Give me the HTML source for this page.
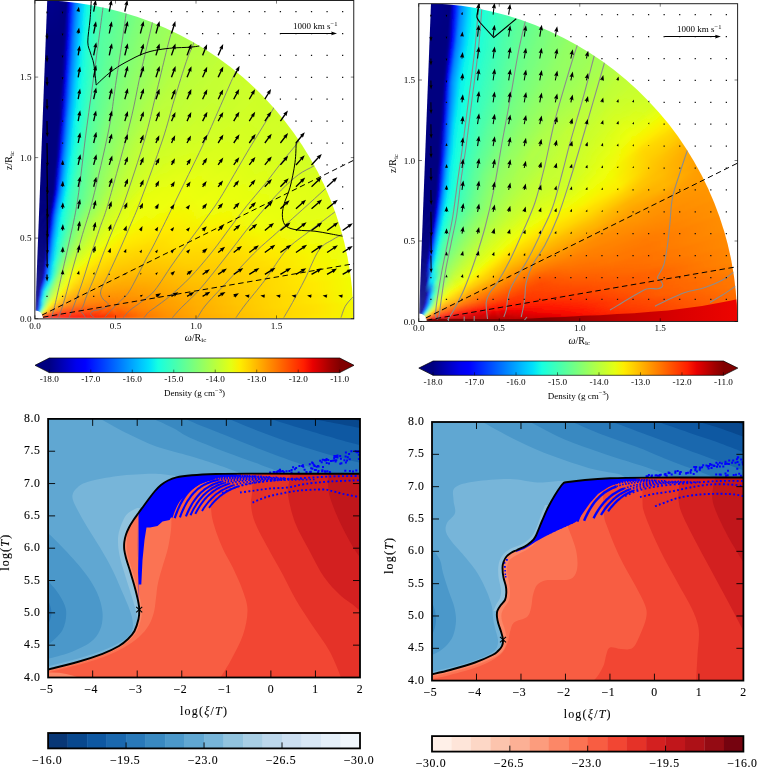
<!DOCTYPE html>
<html><head><meta charset="utf-8"><title>figure</title>
<style>
html,body{margin:0;padding:0;background:#fff}
svg{display:block}
.t1{font-family:"Liberation Serif",serif;font-size:9.2px;fill:#000}
.t2{font-family:"Liberation Serif",serif;font-size:11.8px;fill:#000;letter-spacing:0.6px;stroke:#000;stroke-width:0.1px}
.t3{font-family:"Liberation Serif",serif;font-size:12px;fill:#000;letter-spacing:1.2px;stroke:#000;stroke-width:0.1px}
</style></head><body>
<svg width="760" height="767" viewBox="0 0 760 767">
<rect width="760" height="767" fill="#fff"/>
<defs><radialGradient id="ar" gradientUnits="userSpaceOnUse" cx="35" cy="318.6" r="318.5"/><radialGradient id="a0" href="#ar"><stop offset="0.0253" stop-color="#000080"/><stop offset="0.0404" stop-color="#000080"/><stop offset="0.0607" stop-color="#000080"/><stop offset="0.091" stop-color="#000080"/><stop offset="0.131" stop-color="#000080"/><stop offset="0.182" stop-color="#000080"/><stop offset="0.253" stop-color="#000080"/><stop offset="0.329" stop-color="#000080"/><stop offset="0.404" stop-color="#000080"/><stop offset="0.505" stop-color="#000080"/><stop offset="0.632" stop-color="#000080"/><stop offset="0.758" stop-color="#000080"/><stop offset="0.885" stop-color="#000080"/><stop offset="1" stop-color="#000080"/></radialGradient><radialGradient id="a1" href="#ar"><stop offset="0.0253" stop-color="#000080"/><stop offset="0.0404" stop-color="#000080"/><stop offset="0.0607" stop-color="#000080"/><stop offset="0.091" stop-color="#000080"/><stop offset="0.131" stop-color="#000080"/><stop offset="0.182" stop-color="#000080"/><stop offset="0.253" stop-color="#000080"/><stop offset="0.329" stop-color="#000080"/><stop offset="0.404" stop-color="#000080"/><stop offset="0.505" stop-color="#000080"/><stop offset="0.632" stop-color="#000080"/><stop offset="0.758" stop-color="#000080"/><stop offset="0.885" stop-color="#000080"/><stop offset="1" stop-color="#000080"/></radialGradient><radialGradient id="a2" href="#ar"><stop offset="0.0253" stop-color="#000080"/><stop offset="0.0404" stop-color="#000080"/><stop offset="0.0607" stop-color="#000080"/><stop offset="0.091" stop-color="#000080"/><stop offset="0.131" stop-color="#000080"/><stop offset="0.182" stop-color="#000080"/><stop offset="0.253" stop-color="#000080"/><stop offset="0.329" stop-color="#000080"/><stop offset="0.404" stop-color="#000080"/><stop offset="0.505" stop-color="#000080"/><stop offset="0.632" stop-color="#000080"/><stop offset="0.758" stop-color="#000080"/><stop offset="0.885" stop-color="#000080"/><stop offset="1" stop-color="#000080"/></radialGradient><radialGradient id="a3" href="#ar"><stop offset="0.0253" stop-color="#000080"/><stop offset="0.0404" stop-color="#000080"/><stop offset="0.0607" stop-color="#000080"/><stop offset="0.091" stop-color="#000080"/><stop offset="0.131" stop-color="#000080"/><stop offset="0.182" stop-color="#000080"/><stop offset="0.253" stop-color="#000080"/><stop offset="0.329" stop-color="#000080"/><stop offset="0.404" stop-color="#000080"/><stop offset="0.505" stop-color="#000080"/><stop offset="0.632" stop-color="#000080"/><stop offset="0.758" stop-color="#000080"/><stop offset="0.885" stop-color="#000080"/><stop offset="1" stop-color="#000080"/></radialGradient><radialGradient id="a4" href="#ar"><stop offset="0.0253" stop-color="#000080"/><stop offset="0.0404" stop-color="#000080"/><stop offset="0.0607" stop-color="#000080"/><stop offset="0.091" stop-color="#000080"/><stop offset="0.131" stop-color="#000080"/><stop offset="0.182" stop-color="#000080"/><stop offset="0.253" stop-color="#000080"/><stop offset="0.329" stop-color="#000080"/><stop offset="0.404" stop-color="#000080"/><stop offset="0.505" stop-color="#000080"/><stop offset="0.632" stop-color="#000080"/><stop offset="0.758" stop-color="#000080"/><stop offset="0.885" stop-color="#000080"/><stop offset="1" stop-color="#000080"/></radialGradient><radialGradient id="a5" href="#ar"><stop offset="0.0253" stop-color="#000080"/><stop offset="0.0404" stop-color="#000080"/><stop offset="0.0607" stop-color="#000080"/><stop offset="0.091" stop-color="#000080"/><stop offset="0.131" stop-color="#000080"/><stop offset="0.182" stop-color="#000080"/><stop offset="0.253" stop-color="#000080"/><stop offset="0.329" stop-color="#000080"/><stop offset="0.404" stop-color="#000080"/><stop offset="0.505" stop-color="#000080"/><stop offset="0.632" stop-color="#000080"/><stop offset="0.758" stop-color="#000080"/><stop offset="0.885" stop-color="#000080"/><stop offset="1" stop-color="#00008d"/></radialGradient><radialGradient id="a6" href="#ar"><stop offset="0.0253" stop-color="#000080"/><stop offset="0.0404" stop-color="#000080"/><stop offset="0.0607" stop-color="#000080"/><stop offset="0.091" stop-color="#000080"/><stop offset="0.131" stop-color="#000080"/><stop offset="0.182" stop-color="#000080"/><stop offset="0.253" stop-color="#000080"/><stop offset="0.329" stop-color="#000080"/><stop offset="0.404" stop-color="#000080"/><stop offset="0.505" stop-color="#000080"/><stop offset="0.632" stop-color="#000080"/><stop offset="0.758" stop-color="#000080"/><stop offset="0.885" stop-color="#000080"/><stop offset="1" stop-color="#00008d"/></radialGradient><radialGradient id="a7" href="#ar"><stop offset="0.0253" stop-color="#000080"/><stop offset="0.0404" stop-color="#000080"/><stop offset="0.0607" stop-color="#000080"/><stop offset="0.091" stop-color="#000080"/><stop offset="0.131" stop-color="#000080"/><stop offset="0.182" stop-color="#000080"/><stop offset="0.253" stop-color="#000080"/><stop offset="0.329" stop-color="#000080"/><stop offset="0.404" stop-color="#000080"/><stop offset="0.505" stop-color="#000080"/><stop offset="0.632" stop-color="#000080"/><stop offset="0.758" stop-color="#000080"/><stop offset="0.885" stop-color="#000080"/><stop offset="1" stop-color="#000089"/></radialGradient><radialGradient id="a8" href="#ar"><stop offset="0.0253" stop-color="#000084"/><stop offset="0.0404" stop-color="#000080"/><stop offset="0.0607" stop-color="#000080"/><stop offset="0.091" stop-color="#000080"/><stop offset="0.131" stop-color="#000080"/><stop offset="0.182" stop-color="#000080"/><stop offset="0.253" stop-color="#000080"/><stop offset="0.329" stop-color="#000080"/><stop offset="0.404" stop-color="#000080"/><stop offset="0.505" stop-color="#000080"/><stop offset="0.632" stop-color="#000080"/><stop offset="0.758" stop-color="#000080"/><stop offset="0.885" stop-color="#000080"/><stop offset="1" stop-color="#000089"/></radialGradient><radialGradient id="a9" href="#ar"><stop offset="0.0253" stop-color="#000084"/><stop offset="0.0404" stop-color="#000080"/><stop offset="0.0607" stop-color="#000080"/><stop offset="0.091" stop-color="#000080"/><stop offset="0.131" stop-color="#000080"/><stop offset="0.182" stop-color="#000080"/><stop offset="0.253" stop-color="#000080"/><stop offset="0.329" stop-color="#000080"/><stop offset="0.404" stop-color="#000080"/><stop offset="0.505" stop-color="#000080"/><stop offset="0.632" stop-color="#000080"/><stop offset="0.758" stop-color="#000080"/><stop offset="0.885" stop-color="#000080"/><stop offset="1" stop-color="#000084"/></radialGradient><radialGradient id="a10" href="#ar"><stop offset="0.0253" stop-color="#000089"/><stop offset="0.0404" stop-color="#000080"/><stop offset="0.0607" stop-color="#000080"/><stop offset="0.091" stop-color="#000080"/><stop offset="0.131" stop-color="#000080"/><stop offset="0.182" stop-color="#000080"/><stop offset="0.253" stop-color="#000080"/><stop offset="0.329" stop-color="#000080"/><stop offset="0.404" stop-color="#000080"/><stop offset="0.505" stop-color="#000080"/><stop offset="0.632" stop-color="#000080"/><stop offset="0.758" stop-color="#000080"/><stop offset="0.885" stop-color="#000080"/><stop offset="1" stop-color="#000084"/></radialGradient><radialGradient id="a11" href="#ar"><stop offset="0.0253" stop-color="#000089"/><stop offset="0.0404" stop-color="#000080"/><stop offset="0.0607" stop-color="#000080"/><stop offset="0.091" stop-color="#000080"/><stop offset="0.131" stop-color="#000080"/><stop offset="0.182" stop-color="#000080"/><stop offset="0.253" stop-color="#000080"/><stop offset="0.329" stop-color="#000080"/><stop offset="0.404" stop-color="#000080"/><stop offset="0.505" stop-color="#000080"/><stop offset="0.632" stop-color="#000080"/><stop offset="0.758" stop-color="#000080"/><stop offset="0.885" stop-color="#000080"/><stop offset="1" stop-color="#000080"/></radialGradient><radialGradient id="a12" href="#ar"><stop offset="0.0253" stop-color="#000089"/><stop offset="0.0404" stop-color="#000080"/><stop offset="0.0607" stop-color="#000080"/><stop offset="0.091" stop-color="#000080"/><stop offset="0.131" stop-color="#000080"/><stop offset="0.182" stop-color="#000080"/><stop offset="0.253" stop-color="#000080"/><stop offset="0.329" stop-color="#000080"/><stop offset="0.404" stop-color="#000080"/><stop offset="0.505" stop-color="#000080"/><stop offset="0.632" stop-color="#000080"/><stop offset="0.758" stop-color="#000080"/><stop offset="0.885" stop-color="#000096"/><stop offset="1" stop-color="#0000f1"/></radialGradient><radialGradient id="a13" href="#ar"><stop offset="0.0253" stop-color="#00008d"/><stop offset="0.0404" stop-color="#000080"/><stop offset="0.0607" stop-color="#000080"/><stop offset="0.091" stop-color="#000080"/><stop offset="0.131" stop-color="#000080"/><stop offset="0.182" stop-color="#000080"/><stop offset="0.253" stop-color="#000080"/><stop offset="0.329" stop-color="#000080"/><stop offset="0.404" stop-color="#000080"/><stop offset="0.505" stop-color="#000080"/><stop offset="0.632" stop-color="#000080"/><stop offset="0.758" stop-color="#000092"/><stop offset="0.885" stop-color="#0000fa"/><stop offset="1" stop-color="#0034ff"/></radialGradient><radialGradient id="a14" href="#ar"><stop offset="0.0253" stop-color="#00008d"/><stop offset="0.0404" stop-color="#000080"/><stop offset="0.0607" stop-color="#000080"/><stop offset="0.091" stop-color="#000080"/><stop offset="0.131" stop-color="#000080"/><stop offset="0.182" stop-color="#000080"/><stop offset="0.253" stop-color="#000080"/><stop offset="0.329" stop-color="#000080"/><stop offset="0.404" stop-color="#000080"/><stop offset="0.505" stop-color="#000080"/><stop offset="0.632" stop-color="#000084"/><stop offset="0.758" stop-color="#0000f6"/><stop offset="0.885" stop-color="#0038ff"/><stop offset="1" stop-color="#007cff"/></radialGradient><radialGradient id="a15" href="#ar"><stop offset="0.0253" stop-color="#000092"/><stop offset="0.0404" stop-color="#000080"/><stop offset="0.0607" stop-color="#000080"/><stop offset="0.091" stop-color="#000080"/><stop offset="0.131" stop-color="#000080"/><stop offset="0.182" stop-color="#000080"/><stop offset="0.253" stop-color="#000080"/><stop offset="0.329" stop-color="#000080"/><stop offset="0.404" stop-color="#000080"/><stop offset="0.505" stop-color="#000080"/><stop offset="0.632" stop-color="#0000df"/><stop offset="0.758" stop-color="#002cff"/><stop offset="0.885" stop-color="#007cff"/><stop offset="1" stop-color="#00a0ff"/></radialGradient><radialGradient id="a16" href="#ar"><stop offset="0.0253" stop-color="#000092"/><stop offset="0.0404" stop-color="#000080"/><stop offset="0.0607" stop-color="#000080"/><stop offset="0.091" stop-color="#000080"/><stop offset="0.131" stop-color="#000080"/><stop offset="0.182" stop-color="#000080"/><stop offset="0.253" stop-color="#000080"/><stop offset="0.329" stop-color="#000080"/><stop offset="0.404" stop-color="#000080"/><stop offset="0.505" stop-color="#0000b6"/><stop offset="0.632" stop-color="#0018ff"/><stop offset="0.758" stop-color="#0070ff"/><stop offset="0.885" stop-color="#00a0ff"/><stop offset="1" stop-color="#00c0ff"/></radialGradient><radialGradient id="a17" href="#ar"><stop offset="0.0253" stop-color="#000092"/><stop offset="0.0404" stop-color="#000084"/><stop offset="0.0607" stop-color="#000080"/><stop offset="0.091" stop-color="#00008d"/><stop offset="0.131" stop-color="#000080"/><stop offset="0.182" stop-color="#000080"/><stop offset="0.253" stop-color="#000080"/><stop offset="0.329" stop-color="#0000b2"/><stop offset="0.404" stop-color="#00009f"/><stop offset="0.505" stop-color="#0000ff"/><stop offset="0.632" stop-color="#0054ff"/><stop offset="0.758" stop-color="#0094ff"/><stop offset="0.885" stop-color="#00bcff"/><stop offset="1" stop-color="#00e0fb"/></radialGradient><radialGradient id="a18" href="#ar"><stop offset="0.0253" stop-color="#000096"/><stop offset="0.0404" stop-color="#000084"/><stop offset="0.0607" stop-color="#000080"/><stop offset="0.091" stop-color="#00009f"/><stop offset="0.131" stop-color="#000080"/><stop offset="0.182" stop-color="#000080"/><stop offset="0.253" stop-color="#0000ad"/><stop offset="0.329" stop-color="#0000f1"/><stop offset="0.404" stop-color="#0000e3"/><stop offset="0.505" stop-color="#002cff"/><stop offset="0.632" stop-color="#0088ff"/><stop offset="0.758" stop-color="#00b4ff"/><stop offset="0.885" stop-color="#00dcfe"/><stop offset="1" stop-color="#0ff8e7"/></radialGradient><radialGradient id="a19" href="#ar"><stop offset="0.0253" stop-color="#000096"/><stop offset="0.0404" stop-color="#000084"/><stop offset="0.0607" stop-color="#00008d"/><stop offset="0.091" stop-color="#0000b2"/><stop offset="0.131" stop-color="#000080"/><stop offset="0.182" stop-color="#000089"/><stop offset="0.253" stop-color="#0000e3"/><stop offset="0.329" stop-color="#0010ff"/><stop offset="0.404" stop-color="#000cff"/><stop offset="0.505" stop-color="#0064ff"/><stop offset="0.632" stop-color="#00a4ff"/><stop offset="0.758" stop-color="#00d0ff"/><stop offset="0.885" stop-color="#0cf4eb"/><stop offset="1" stop-color="#1cffdb"/></radialGradient><radialGradient id="a20" href="#ar"><stop offset="0.0253" stop-color="#000096"/><stop offset="0.0404" stop-color="#000089"/><stop offset="0.0607" stop-color="#00009f"/><stop offset="0.091" stop-color="#0000c4"/><stop offset="0.131" stop-color="#000080"/><stop offset="0.182" stop-color="#0000b2"/><stop offset="0.253" stop-color="#0000ff"/><stop offset="0.329" stop-color="#003cff"/><stop offset="0.404" stop-color="#003cff"/><stop offset="0.505" stop-color="#0088ff"/><stop offset="0.632" stop-color="#00bcff"/><stop offset="0.758" stop-color="#06ecf1"/><stop offset="0.885" stop-color="#19ffde"/><stop offset="1" stop-color="#2cffca"/></radialGradient><radialGradient id="a21" href="#ar"><stop offset="0.0253" stop-color="#000096"/><stop offset="0.0404" stop-color="#000089"/><stop offset="0.0607" stop-color="#0000b2"/><stop offset="0.091" stop-color="#0000da"/><stop offset="0.131" stop-color="#000084"/><stop offset="0.182" stop-color="#0000da"/><stop offset="0.253" stop-color="#0024ff"/><stop offset="0.329" stop-color="#0068ff"/><stop offset="0.404" stop-color="#006cff"/><stop offset="0.505" stop-color="#00a0ff"/><stop offset="0.632" stop-color="#00d8ff"/><stop offset="0.758" stop-color="#0ff8e7"/><stop offset="0.885" stop-color="#26ffd1"/><stop offset="1" stop-color="#39ffbe"/></radialGradient><radialGradient id="a22" href="#ar"><stop offset="0.0253" stop-color="#00009b"/><stop offset="0.0404" stop-color="#000089"/><stop offset="0.0607" stop-color="#0000bf"/><stop offset="0.091" stop-color="#0000f1"/><stop offset="0.131" stop-color="#0000a4"/><stop offset="0.182" stop-color="#0000ff"/><stop offset="0.253" stop-color="#0048ff"/><stop offset="0.329" stop-color="#0088ff"/><stop offset="0.404" stop-color="#008cff"/><stop offset="0.505" stop-color="#00b8ff"/><stop offset="0.632" stop-color="#09f0ee"/><stop offset="0.758" stop-color="#19ffde"/><stop offset="0.885" stop-color="#30ffc7"/><stop offset="1" stop-color="#46ffb1"/></radialGradient><radialGradient id="a23" href="#ar"><stop offset="0.0253" stop-color="#00009b"/><stop offset="0.0404" stop-color="#00008d"/><stop offset="0.0607" stop-color="#0000cd"/><stop offset="0.091" stop-color="#0000ff"/><stop offset="0.131" stop-color="#0000c4"/><stop offset="0.182" stop-color="#000cff"/><stop offset="0.253" stop-color="#0068ff"/><stop offset="0.329" stop-color="#0098ff"/><stop offset="0.404" stop-color="#00a0ff"/><stop offset="0.505" stop-color="#00d0ff"/><stop offset="0.632" stop-color="#13fce4"/><stop offset="0.758" stop-color="#23ffd4"/><stop offset="0.885" stop-color="#39ffbe"/><stop offset="1" stop-color="#4dffaa"/></radialGradient><radialGradient id="a24" href="#ar"><stop offset="0.0253" stop-color="#00009b"/><stop offset="0.0404" stop-color="#00009b"/><stop offset="0.0607" stop-color="#0000da"/><stop offset="0.091" stop-color="#0014ff"/><stop offset="0.131" stop-color="#0000e3"/><stop offset="0.182" stop-color="#0028ff"/><stop offset="0.253" stop-color="#0084ff"/><stop offset="0.329" stop-color="#00acff"/><stop offset="0.404" stop-color="#00b8ff"/><stop offset="0.505" stop-color="#02e8f4"/><stop offset="0.632" stop-color="#19ffde"/><stop offset="0.758" stop-color="#2cffca"/><stop offset="0.885" stop-color="#40ffb7"/><stop offset="1" stop-color="#50ffa7"/></radialGradient><radialGradient id="a25" href="#ar"><stop offset="0.0253" stop-color="#00009f"/><stop offset="0.0404" stop-color="#0000a8"/><stop offset="0.0607" stop-color="#0000e8"/><stop offset="0.091" stop-color="#002cff"/><stop offset="0.131" stop-color="#0000ff"/><stop offset="0.182" stop-color="#0044ff"/><stop offset="0.253" stop-color="#0094ff"/><stop offset="0.329" stop-color="#00c0ff"/><stop offset="0.404" stop-color="#00ccff"/><stop offset="0.505" stop-color="#0ff8e7"/><stop offset="0.632" stop-color="#23ffd4"/><stop offset="0.758" stop-color="#33ffc4"/><stop offset="0.885" stop-color="#49ffad"/><stop offset="1" stop-color="#50ffa7"/></radialGradient><radialGradient id="a26" href="#ar"><stop offset="0.0253" stop-color="#00009f"/><stop offset="0.0404" stop-color="#0000b6"/><stop offset="0.0607" stop-color="#0000ff"/><stop offset="0.091" stop-color="#0044ff"/><stop offset="0.131" stop-color="#0008ff"/><stop offset="0.182" stop-color="#005cff"/><stop offset="0.253" stop-color="#00a4ff"/><stop offset="0.329" stop-color="#00d0ff"/><stop offset="0.404" stop-color="#00e0fb"/><stop offset="0.505" stop-color="#16ffe1"/><stop offset="0.632" stop-color="#2cffca"/><stop offset="0.758" stop-color="#3cffba"/><stop offset="0.885" stop-color="#53ffa4"/><stop offset="1" stop-color="#53ffa4"/></radialGradient><radialGradient id="a27" href="#ar"><stop offset="0.0253" stop-color="#00009f"/><stop offset="0.0404" stop-color="#0000c4"/><stop offset="0.0607" stop-color="#0004ff"/><stop offset="0.091" stop-color="#0058ff"/><stop offset="0.131" stop-color="#001cff"/><stop offset="0.182" stop-color="#0078ff"/><stop offset="0.253" stop-color="#00b4ff"/><stop offset="0.329" stop-color="#00e4f8"/><stop offset="0.404" stop-color="#0cf4eb"/><stop offset="0.505" stop-color="#1fffd7"/><stop offset="0.632" stop-color="#33ffc4"/><stop offset="0.758" stop-color="#43ffb4"/><stop offset="0.885" stop-color="#56ffa0"/><stop offset="1" stop-color="#56ffa0"/></radialGradient><radialGradient id="a28" href="#ar"><stop offset="0.0253" stop-color="#0000a4"/><stop offset="0.0404" stop-color="#0000cd"/><stop offset="0.0607" stop-color="#001cff"/><stop offset="0.091" stop-color="#0070ff"/><stop offset="0.131" stop-color="#0030ff"/><stop offset="0.182" stop-color="#0088ff"/><stop offset="0.253" stop-color="#00c0ff"/><stop offset="0.329" stop-color="#09f0ee"/><stop offset="0.404" stop-color="#16ffe1"/><stop offset="0.505" stop-color="#26ffd1"/><stop offset="0.632" stop-color="#3cffba"/><stop offset="0.758" stop-color="#4dffaa"/><stop offset="0.885" stop-color="#5aff9d"/><stop offset="1" stop-color="#5aff9d"/></radialGradient><radialGradient id="a29" href="#ar"><stop offset="0.0253" stop-color="#0000ad"/><stop offset="0.0404" stop-color="#0000d6"/><stop offset="0.0607" stop-color="#0030ff"/><stop offset="0.091" stop-color="#0084ff"/><stop offset="0.131" stop-color="#0044ff"/><stop offset="0.182" stop-color="#0094ff"/><stop offset="0.253" stop-color="#00d0ff"/><stop offset="0.329" stop-color="#13fce4"/><stop offset="0.404" stop-color="#1fffd7"/><stop offset="0.505" stop-color="#30ffc7"/><stop offset="0.632" stop-color="#43ffb4"/><stop offset="0.758" stop-color="#53ffa4"/><stop offset="0.885" stop-color="#5aff9d"/><stop offset="1" stop-color="#5dff9a"/></radialGradient><radialGradient id="a30" href="#ar"><stop offset="0.0253" stop-color="#0000b6"/><stop offset="0.0404" stop-color="#0000df"/><stop offset="0.0607" stop-color="#0040ff"/><stop offset="0.091" stop-color="#0098ff"/><stop offset="0.131" stop-color="#0058ff"/><stop offset="0.182" stop-color="#00a0ff"/><stop offset="0.253" stop-color="#00e0fb"/><stop offset="0.329" stop-color="#19ffde"/><stop offset="0.404" stop-color="#29ffce"/><stop offset="0.505" stop-color="#36ffc1"/><stop offset="0.632" stop-color="#4dffaa"/><stop offset="0.758" stop-color="#5aff9d"/><stop offset="0.885" stop-color="#60ff97"/><stop offset="1" stop-color="#60ff97"/></radialGradient><radialGradient id="a31" href="#ar"><stop offset="0.0253" stop-color="#0000bf"/><stop offset="0.0404" stop-color="#0000e8"/><stop offset="0.0607" stop-color="#0054ff"/><stop offset="0.091" stop-color="#00a4ff"/><stop offset="0.131" stop-color="#006cff"/><stop offset="0.182" stop-color="#00acff"/><stop offset="0.253" stop-color="#06ecf1"/><stop offset="0.329" stop-color="#1fffd7"/><stop offset="0.404" stop-color="#33ffc4"/><stop offset="0.505" stop-color="#40ffb7"/><stop offset="0.632" stop-color="#53ffa4"/><stop offset="0.758" stop-color="#60ff97"/><stop offset="0.885" stop-color="#63ff94"/><stop offset="1" stop-color="#66ff90"/></radialGradient><radialGradient id="a32" href="#ar"><stop offset="0.0253" stop-color="#0000c8"/><stop offset="0.0404" stop-color="#0000f1"/><stop offset="0.0607" stop-color="#0064ff"/><stop offset="0.091" stop-color="#00b0ff"/><stop offset="0.131" stop-color="#0080ff"/><stop offset="0.182" stop-color="#00b8ff"/><stop offset="0.253" stop-color="#0ff8e7"/><stop offset="0.329" stop-color="#26ffd1"/><stop offset="0.404" stop-color="#39ffbe"/><stop offset="0.505" stop-color="#49ffad"/><stop offset="0.632" stop-color="#56ffa0"/><stop offset="0.758" stop-color="#63ff94"/><stop offset="0.885" stop-color="#66ff90"/><stop offset="1" stop-color="#6aff8d"/></radialGradient><radialGradient id="a33" href="#ar"><stop offset="0.0253" stop-color="#0000d1"/><stop offset="0.0404" stop-color="#0000fa"/><stop offset="0.0607" stop-color="#0074ff"/><stop offset="0.091" stop-color="#00b8ff"/><stop offset="0.131" stop-color="#008cff"/><stop offset="0.182" stop-color="#00c4ff"/><stop offset="0.253" stop-color="#16ffe1"/><stop offset="0.329" stop-color="#2cffca"/><stop offset="0.404" stop-color="#3cffba"/><stop offset="0.505" stop-color="#50ffa7"/><stop offset="0.632" stop-color="#5dff9a"/><stop offset="0.758" stop-color="#66ff90"/><stop offset="0.885" stop-color="#6aff8d"/><stop offset="1" stop-color="#6dff8a"/></radialGradient><radialGradient id="a34" href="#ar"><stop offset="0.0253" stop-color="#0000da"/><stop offset="0.0404" stop-color="#0000ff"/><stop offset="0.0607" stop-color="#0088ff"/><stop offset="0.091" stop-color="#00c4ff"/><stop offset="0.131" stop-color="#0094ff"/><stop offset="0.182" stop-color="#00d0ff"/><stop offset="0.253" stop-color="#1cffdb"/><stop offset="0.329" stop-color="#33ffc4"/><stop offset="0.404" stop-color="#43ffb4"/><stop offset="0.505" stop-color="#53ffa4"/><stop offset="0.632" stop-color="#60ff97"/><stop offset="0.758" stop-color="#6aff8d"/><stop offset="0.885" stop-color="#6dff8a"/><stop offset="1" stop-color="#70ff87"/></radialGradient><radialGradient id="a35" href="#ar"><stop offset="0.0253" stop-color="#0000e3"/><stop offset="0.0404" stop-color="#000cff"/><stop offset="0.0607" stop-color="#0098ff"/><stop offset="0.091" stop-color="#00d0ff"/><stop offset="0.131" stop-color="#009cff"/><stop offset="0.182" stop-color="#00dcfe"/><stop offset="0.253" stop-color="#23ffd4"/><stop offset="0.329" stop-color="#39ffbe"/><stop offset="0.404" stop-color="#46ffb1"/><stop offset="0.505" stop-color="#56ffa0"/><stop offset="0.632" stop-color="#66ff90"/><stop offset="0.758" stop-color="#6dff8a"/><stop offset="0.885" stop-color="#70ff87"/><stop offset="1" stop-color="#73ff83"/></radialGradient><radialGradient id="a36" href="#ar"><stop offset="0.0253" stop-color="#0000ed"/><stop offset="0.0404" stop-color="#001cff"/><stop offset="0.0607" stop-color="#00a8ff"/><stop offset="0.091" stop-color="#00d8ff"/><stop offset="0.131" stop-color="#00a8ff"/><stop offset="0.182" stop-color="#02e8f4"/><stop offset="0.253" stop-color="#29ffce"/><stop offset="0.329" stop-color="#3cffba"/><stop offset="0.404" stop-color="#49ffad"/><stop offset="0.505" stop-color="#5dff9a"/><stop offset="0.632" stop-color="#6aff8d"/><stop offset="0.758" stop-color="#70ff87"/><stop offset="0.885" stop-color="#73ff83"/><stop offset="1" stop-color="#77ff80"/></radialGradient><radialGradient id="a37" href="#ar"><stop offset="0.0253" stop-color="#0000f6"/><stop offset="0.0404" stop-color="#002cff"/><stop offset="0.0607" stop-color="#00b4ff"/><stop offset="0.091" stop-color="#00e4f8"/><stop offset="0.131" stop-color="#00b0ff"/><stop offset="0.182" stop-color="#09f0ee"/><stop offset="0.253" stop-color="#33ffc4"/><stop offset="0.329" stop-color="#43ffb4"/><stop offset="0.404" stop-color="#4dffaa"/><stop offset="0.505" stop-color="#60ff97"/><stop offset="0.632" stop-color="#6dff8a"/><stop offset="0.758" stop-color="#73ff83"/><stop offset="0.885" stop-color="#7aff7d"/><stop offset="1" stop-color="#7dff7a"/></radialGradient><radialGradient id="a38" href="#ar"><stop offset="0.0253" stop-color="#0000ff"/><stop offset="0.0404" stop-color="#003cff"/><stop offset="0.0607" stop-color="#00bcff"/><stop offset="0.091" stop-color="#06ecf1"/><stop offset="0.131" stop-color="#00b8ff"/><stop offset="0.182" stop-color="#16ffe1"/><stop offset="0.253" stop-color="#39ffbe"/><stop offset="0.329" stop-color="#49ffad"/><stop offset="0.404" stop-color="#53ffa4"/><stop offset="0.505" stop-color="#66ff90"/><stop offset="0.632" stop-color="#73ff83"/><stop offset="0.758" stop-color="#7aff7d"/><stop offset="0.885" stop-color="#7dff7a"/><stop offset="1" stop-color="#80ff77"/></radialGradient><radialGradient id="a39" href="#ar"><stop offset="0.0253" stop-color="#0000ff"/><stop offset="0.0404" stop-color="#004cff"/><stop offset="0.0607" stop-color="#00c8ff"/><stop offset="0.091" stop-color="#0ff8e7"/><stop offset="0.131" stop-color="#00c4ff"/><stop offset="0.182" stop-color="#1cffdb"/><stop offset="0.253" stop-color="#40ffb7"/><stop offset="0.329" stop-color="#50ffa7"/><stop offset="0.404" stop-color="#56ffa0"/><stop offset="0.505" stop-color="#6aff8d"/><stop offset="0.632" stop-color="#77ff80"/><stop offset="0.758" stop-color="#7dff7a"/><stop offset="0.885" stop-color="#80ff77"/><stop offset="1" stop-color="#83ff73"/></radialGradient><radialGradient id="a40" href="#ar"><stop offset="0.0253" stop-color="#0000ff"/><stop offset="0.0404" stop-color="#0058ff"/><stop offset="0.0607" stop-color="#00d0ff"/><stop offset="0.091" stop-color="#16ffe1"/><stop offset="0.131" stop-color="#00ccff"/><stop offset="0.182" stop-color="#26ffd1"/><stop offset="0.253" stop-color="#46ffb1"/><stop offset="0.329" stop-color="#56ffa0"/><stop offset="0.404" stop-color="#5aff9d"/><stop offset="0.505" stop-color="#6dff8a"/><stop offset="0.632" stop-color="#7dff7a"/><stop offset="0.758" stop-color="#80ff77"/><stop offset="0.885" stop-color="#83ff73"/><stop offset="1" stop-color="#8aff6d"/></radialGradient><radialGradient id="a41" href="#ar"><stop offset="0.0253" stop-color="#0004ff"/><stop offset="0.0404" stop-color="#0060ff"/><stop offset="0.0607" stop-color="#00d4ff"/><stop offset="0.091" stop-color="#1cffdb"/><stop offset="0.131" stop-color="#00d4ff"/><stop offset="0.182" stop-color="#2cffca"/><stop offset="0.253" stop-color="#4dffaa"/><stop offset="0.329" stop-color="#5aff9d"/><stop offset="0.404" stop-color="#5dff9a"/><stop offset="0.505" stop-color="#73ff83"/><stop offset="0.632" stop-color="#80ff77"/><stop offset="0.758" stop-color="#83ff73"/><stop offset="0.885" stop-color="#87ff70"/><stop offset="1" stop-color="#8dff6a"/></radialGradient><radialGradient id="a42" href="#ar"><stop offset="0.0253" stop-color="#000cff"/><stop offset="0.0404" stop-color="#0068ff"/><stop offset="0.0607" stop-color="#00dcfe"/><stop offset="0.091" stop-color="#1fffd7"/><stop offset="0.131" stop-color="#00dcfe"/><stop offset="0.182" stop-color="#36ffc1"/><stop offset="0.253" stop-color="#53ffa4"/><stop offset="0.329" stop-color="#60ff97"/><stop offset="0.404" stop-color="#60ff97"/><stop offset="0.505" stop-color="#77ff80"/><stop offset="0.632" stop-color="#83ff73"/><stop offset="0.758" stop-color="#87ff70"/><stop offset="0.885" stop-color="#8aff6d"/><stop offset="1" stop-color="#90ff66"/></radialGradient><radialGradient id="a43" href="#ar"><stop offset="0.0253" stop-color="#0014ff"/><stop offset="0.0404" stop-color="#006cff"/><stop offset="0.0607" stop-color="#00e4f8"/><stop offset="0.091" stop-color="#26ffd1"/><stop offset="0.131" stop-color="#00e4f8"/><stop offset="0.182" stop-color="#40ffb7"/><stop offset="0.253" stop-color="#5aff9d"/><stop offset="0.329" stop-color="#66ff90"/><stop offset="0.404" stop-color="#66ff90"/><stop offset="0.505" stop-color="#7aff7d"/><stop offset="0.632" stop-color="#87ff70"/><stop offset="0.758" stop-color="#8aff6d"/><stop offset="0.885" stop-color="#8dff6a"/><stop offset="1" stop-color="#90ff66"/></radialGradient><radialGradient id="a44" href="#ar"><stop offset="0.0253" stop-color="#0018ff"/><stop offset="0.0404" stop-color="#0074ff"/><stop offset="0.0607" stop-color="#02e8f4"/><stop offset="0.091" stop-color="#2cffca"/><stop offset="0.131" stop-color="#06ecf1"/><stop offset="0.182" stop-color="#46ffb1"/><stop offset="0.253" stop-color="#5dff9a"/><stop offset="0.329" stop-color="#6aff8d"/><stop offset="0.404" stop-color="#6aff8d"/><stop offset="0.505" stop-color="#80ff77"/><stop offset="0.632" stop-color="#8aff6d"/><stop offset="0.758" stop-color="#8dff6a"/><stop offset="0.885" stop-color="#90ff66"/><stop offset="1" stop-color="#94ff63"/></radialGradient><radialGradient id="a45" href="#ar"><stop offset="0.0253" stop-color="#0020ff"/><stop offset="0.0404" stop-color="#007cff"/><stop offset="0.0607" stop-color="#09f0ee"/><stop offset="0.091" stop-color="#30ffc7"/><stop offset="0.131" stop-color="#0ff8e7"/><stop offset="0.182" stop-color="#50ffa7"/><stop offset="0.253" stop-color="#63ff94"/><stop offset="0.329" stop-color="#70ff87"/><stop offset="0.404" stop-color="#6dff8a"/><stop offset="0.505" stop-color="#83ff73"/><stop offset="0.632" stop-color="#8aff6d"/><stop offset="0.758" stop-color="#90ff66"/><stop offset="0.885" stop-color="#94ff63"/><stop offset="1" stop-color="#97ff60"/></radialGradient><radialGradient id="a46" href="#ar"><stop offset="0.0253" stop-color="#0028ff"/><stop offset="0.0404" stop-color="#0080ff"/><stop offset="0.0607" stop-color="#0cf4eb"/><stop offset="0.091" stop-color="#36ffc1"/><stop offset="0.131" stop-color="#19ffde"/><stop offset="0.182" stop-color="#56ffa0"/><stop offset="0.253" stop-color="#6aff8d"/><stop offset="0.329" stop-color="#77ff80"/><stop offset="0.404" stop-color="#70ff87"/><stop offset="0.505" stop-color="#87ff70"/><stop offset="0.632" stop-color="#8dff6a"/><stop offset="0.758" stop-color="#90ff66"/><stop offset="0.885" stop-color="#94ff63"/><stop offset="1" stop-color="#97ff60"/></radialGradient><radialGradient id="a47" href="#ar"><stop offset="0.0253" stop-color="#0030ff"/><stop offset="0.0404" stop-color="#0088ff"/><stop offset="0.0607" stop-color="#13fce4"/><stop offset="0.091" stop-color="#39ffbe"/><stop offset="0.131" stop-color="#23ffd4"/><stop offset="0.182" stop-color="#5aff9d"/><stop offset="0.253" stop-color="#70ff87"/><stop offset="0.329" stop-color="#7aff7d"/><stop offset="0.404" stop-color="#77ff80"/><stop offset="0.505" stop-color="#8aff6d"/><stop offset="0.632" stop-color="#90ff66"/><stop offset="0.758" stop-color="#94ff63"/><stop offset="0.885" stop-color="#97ff60"/><stop offset="1" stop-color="#9aff5d"/></radialGradient><radialGradient id="a48" href="#ar"><stop offset="0.0253" stop-color="#0034ff"/><stop offset="0.0404" stop-color="#008cff"/><stop offset="0.0607" stop-color="#19ffde"/><stop offset="0.091" stop-color="#40ffb7"/><stop offset="0.131" stop-color="#30ffc7"/><stop offset="0.182" stop-color="#60ff97"/><stop offset="0.253" stop-color="#77ff80"/><stop offset="0.329" stop-color="#80ff77"/><stop offset="0.404" stop-color="#7aff7d"/><stop offset="0.505" stop-color="#8dff6a"/><stop offset="0.632" stop-color="#94ff63"/><stop offset="0.758" stop-color="#97ff60"/><stop offset="0.885" stop-color="#9aff5d"/><stop offset="1" stop-color="#9aff5d"/></radialGradient><radialGradient id="a49" href="#ar"><stop offset="0.0253" stop-color="#003cff"/><stop offset="0.0404" stop-color="#0094ff"/><stop offset="0.0607" stop-color="#1cffdb"/><stop offset="0.091" stop-color="#46ffb1"/><stop offset="0.131" stop-color="#39ffbe"/><stop offset="0.182" stop-color="#66ff90"/><stop offset="0.253" stop-color="#7aff7d"/><stop offset="0.329" stop-color="#83ff73"/><stop offset="0.404" stop-color="#7dff7a"/><stop offset="0.505" stop-color="#90ff66"/><stop offset="0.632" stop-color="#97ff60"/><stop offset="0.758" stop-color="#9aff5d"/><stop offset="0.885" stop-color="#9dff5a"/><stop offset="1" stop-color="#9dff5a"/></radialGradient><radialGradient id="a50" href="#ar"><stop offset="0.0253" stop-color="#0044ff"/><stop offset="0.0404" stop-color="#0098ff"/><stop offset="0.0607" stop-color="#23ffd4"/><stop offset="0.091" stop-color="#49ffad"/><stop offset="0.131" stop-color="#43ffb4"/><stop offset="0.182" stop-color="#70ff87"/><stop offset="0.253" stop-color="#80ff77"/><stop offset="0.329" stop-color="#8aff6d"/><stop offset="0.404" stop-color="#80ff77"/><stop offset="0.505" stop-color="#94ff63"/><stop offset="0.632" stop-color="#9aff5d"/><stop offset="0.758" stop-color="#9dff5a"/><stop offset="0.885" stop-color="#a0ff56"/><stop offset="1" stop-color="#a0ff56"/></radialGradient><radialGradient id="a51" href="#ar"><stop offset="0.0253" stop-color="#0048ff"/><stop offset="0.0404" stop-color="#00a0ff"/><stop offset="0.0607" stop-color="#26ffd1"/><stop offset="0.091" stop-color="#50ffa7"/><stop offset="0.131" stop-color="#4dffaa"/><stop offset="0.182" stop-color="#77ff80"/><stop offset="0.253" stop-color="#83ff73"/><stop offset="0.329" stop-color="#8dff6a"/><stop offset="0.404" stop-color="#87ff70"/><stop offset="0.505" stop-color="#97ff60"/><stop offset="0.632" stop-color="#9dff5a"/><stop offset="0.758" stop-color="#a0ff56"/><stop offset="0.885" stop-color="#a0ff56"/><stop offset="1" stop-color="#a4ff53"/></radialGradient><radialGradient id="a52" href="#ar"><stop offset="0.0253" stop-color="#0050ff"/><stop offset="0.0404" stop-color="#00a8ff"/><stop offset="0.0607" stop-color="#2cffca"/><stop offset="0.091" stop-color="#53ffa4"/><stop offset="0.131" stop-color="#56ffa0"/><stop offset="0.182" stop-color="#7dff7a"/><stop offset="0.253" stop-color="#8aff6d"/><stop offset="0.329" stop-color="#94ff63"/><stop offset="0.404" stop-color="#8aff6d"/><stop offset="0.505" stop-color="#9aff5d"/><stop offset="0.632" stop-color="#a0ff56"/><stop offset="0.758" stop-color="#a4ff53"/><stop offset="0.885" stop-color="#a4ff53"/><stop offset="1" stop-color="#a7ff50"/></radialGradient><radialGradient id="a53" href="#ar"><stop offset="0.0253" stop-color="#0054ff"/><stop offset="0.0404" stop-color="#00acff"/><stop offset="0.0607" stop-color="#30ffc7"/><stop offset="0.091" stop-color="#5aff9d"/><stop offset="0.131" stop-color="#60ff97"/><stop offset="0.182" stop-color="#83ff73"/><stop offset="0.253" stop-color="#8dff6a"/><stop offset="0.329" stop-color="#97ff60"/><stop offset="0.404" stop-color="#8dff6a"/><stop offset="0.505" stop-color="#9dff5a"/><stop offset="0.632" stop-color="#a4ff53"/><stop offset="0.758" stop-color="#a7ff50"/><stop offset="0.885" stop-color="#a7ff50"/><stop offset="1" stop-color="#a7ff50"/></radialGradient><radialGradient id="a54" href="#ar"><stop offset="0.0253" stop-color="#005cff"/><stop offset="0.0404" stop-color="#00b4ff"/><stop offset="0.0607" stop-color="#36ffc1"/><stop offset="0.091" stop-color="#5dff9a"/><stop offset="0.131" stop-color="#6aff8d"/><stop offset="0.182" stop-color="#8dff6a"/><stop offset="0.253" stop-color="#90ff66"/><stop offset="0.329" stop-color="#9dff5a"/><stop offset="0.404" stop-color="#90ff66"/><stop offset="0.505" stop-color="#a0ff56"/><stop offset="0.632" stop-color="#a7ff50"/><stop offset="0.758" stop-color="#aaff4d"/><stop offset="0.885" stop-color="#aaff4d"/><stop offset="1" stop-color="#aaff4d"/></radialGradient><radialGradient id="a55" href="#ar"><stop offset="0.0253" stop-color="#0064ff"/><stop offset="0.0404" stop-color="#00b8ff"/><stop offset="0.0607" stop-color="#39ffbe"/><stop offset="0.091" stop-color="#60ff97"/><stop offset="0.131" stop-color="#73ff83"/><stop offset="0.182" stop-color="#94ff63"/><stop offset="0.253" stop-color="#97ff60"/><stop offset="0.329" stop-color="#a0ff56"/><stop offset="0.404" stop-color="#94ff63"/><stop offset="0.505" stop-color="#a4ff53"/><stop offset="0.632" stop-color="#aaff4d"/><stop offset="0.758" stop-color="#adff49"/><stop offset="0.885" stop-color="#aaff4d"/><stop offset="1" stop-color="#aaff4d"/></radialGradient><radialGradient id="a56" href="#ar"><stop offset="0.0253" stop-color="#0068ff"/><stop offset="0.0404" stop-color="#00c0ff"/><stop offset="0.0607" stop-color="#3cffba"/><stop offset="0.091" stop-color="#66ff90"/><stop offset="0.131" stop-color="#7dff7a"/><stop offset="0.182" stop-color="#9aff5d"/><stop offset="0.253" stop-color="#9aff5d"/><stop offset="0.329" stop-color="#a4ff53"/><stop offset="0.404" stop-color="#97ff60"/><stop offset="0.505" stop-color="#a7ff50"/><stop offset="0.632" stop-color="#adff49"/><stop offset="0.758" stop-color="#adff49"/><stop offset="0.885" stop-color="#adff49"/><stop offset="1" stop-color="#adff49"/></radialGradient><radialGradient id="a57" href="#ar"><stop offset="0.0253" stop-color="#0070ff"/><stop offset="0.0404" stop-color="#00c8ff"/><stop offset="0.0607" stop-color="#43ffb4"/><stop offset="0.091" stop-color="#6aff8d"/><stop offset="0.131" stop-color="#87ff70"/><stop offset="0.182" stop-color="#a0ff56"/><stop offset="0.253" stop-color="#9dff5a"/><stop offset="0.329" stop-color="#a7ff50"/><stop offset="0.404" stop-color="#9dff5a"/><stop offset="0.505" stop-color="#a7ff50"/><stop offset="0.632" stop-color="#b1ff46"/><stop offset="0.758" stop-color="#b1ff46"/><stop offset="0.885" stop-color="#b1ff46"/><stop offset="1" stop-color="#adff49"/></radialGradient><radialGradient id="a58" href="#ar"><stop offset="0.0253" stop-color="#0074ff"/><stop offset="0.0404" stop-color="#00ccff"/><stop offset="0.0607" stop-color="#46ffb1"/><stop offset="0.091" stop-color="#70ff87"/><stop offset="0.131" stop-color="#8dff6a"/><stop offset="0.182" stop-color="#a4ff53"/><stop offset="0.253" stop-color="#a0ff56"/><stop offset="0.329" stop-color="#aaff4d"/><stop offset="0.404" stop-color="#a0ff56"/><stop offset="0.505" stop-color="#aaff4d"/><stop offset="0.632" stop-color="#b4ff43"/><stop offset="0.758" stop-color="#b4ff43"/><stop offset="0.885" stop-color="#b4ff43"/><stop offset="1" stop-color="#adff49"/></radialGradient><radialGradient id="a59" href="#ar"><stop offset="0.0253" stop-color="#007cff"/><stop offset="0.0404" stop-color="#00d4ff"/><stop offset="0.0607" stop-color="#4dffaa"/><stop offset="0.091" stop-color="#7aff7d"/><stop offset="0.131" stop-color="#94ff63"/><stop offset="0.182" stop-color="#aaff4d"/><stop offset="0.253" stop-color="#a7ff50"/><stop offset="0.329" stop-color="#adff49"/><stop offset="0.404" stop-color="#a7ff50"/><stop offset="0.505" stop-color="#adff49"/><stop offset="0.632" stop-color="#b7ff40"/><stop offset="0.758" stop-color="#b7ff40"/><stop offset="0.885" stop-color="#b4ff43"/><stop offset="1" stop-color="#b1ff46"/></radialGradient><radialGradient id="a60" href="#ar"><stop offset="0.0253" stop-color="#0084ff"/><stop offset="0.0404" stop-color="#00dcfe"/><stop offset="0.0607" stop-color="#50ffa7"/><stop offset="0.091" stop-color="#83ff73"/><stop offset="0.131" stop-color="#9aff5d"/><stop offset="0.182" stop-color="#b1ff46"/><stop offset="0.253" stop-color="#aaff4d"/><stop offset="0.329" stop-color="#b1ff46"/><stop offset="0.404" stop-color="#aaff4d"/><stop offset="0.505" stop-color="#b1ff46"/><stop offset="0.632" stop-color="#baff3c"/><stop offset="0.758" stop-color="#baff3c"/><stop offset="0.885" stop-color="#b7ff40"/><stop offset="1" stop-color="#b4ff43"/></radialGradient><radialGradient id="a61" href="#ar"><stop offset="0.0253" stop-color="#0090ff"/><stop offset="0.0404" stop-color="#02e8f4"/><stop offset="0.0607" stop-color="#5aff9d"/><stop offset="0.091" stop-color="#8aff6d"/><stop offset="0.131" stop-color="#a0ff56"/><stop offset="0.182" stop-color="#b7ff40"/><stop offset="0.253" stop-color="#b1ff46"/><stop offset="0.329" stop-color="#b7ff40"/><stop offset="0.404" stop-color="#b1ff46"/><stop offset="0.505" stop-color="#b4ff43"/><stop offset="0.632" stop-color="#beff39"/><stop offset="0.758" stop-color="#beff39"/><stop offset="0.885" stop-color="#b7ff40"/><stop offset="1" stop-color="#b4ff43"/></radialGradient><radialGradient id="a62" href="#ar"><stop offset="0.0253" stop-color="#009cff"/><stop offset="0.0404" stop-color="#0cf4eb"/><stop offset="0.0607" stop-color="#60ff97"/><stop offset="0.091" stop-color="#90ff66"/><stop offset="0.131" stop-color="#a7ff50"/><stop offset="0.182" stop-color="#beff39"/><stop offset="0.253" stop-color="#b7ff40"/><stop offset="0.329" stop-color="#baff3c"/><stop offset="0.404" stop-color="#b7ff40"/><stop offset="0.505" stop-color="#baff3c"/><stop offset="0.632" stop-color="#c1ff36"/><stop offset="0.758" stop-color="#beff39"/><stop offset="0.885" stop-color="#baff3c"/><stop offset="1" stop-color="#b7ff40"/></radialGradient><radialGradient id="a63" href="#ar"><stop offset="0.0253" stop-color="#00a8ff"/><stop offset="0.0404" stop-color="#16ffe1"/><stop offset="0.0607" stop-color="#66ff90"/><stop offset="0.091" stop-color="#97ff60"/><stop offset="0.131" stop-color="#adff49"/><stop offset="0.182" stop-color="#c1ff36"/><stop offset="0.253" stop-color="#baff3c"/><stop offset="0.329" stop-color="#beff39"/><stop offset="0.404" stop-color="#beff39"/><stop offset="0.505" stop-color="#beff39"/><stop offset="0.632" stop-color="#c4ff33"/><stop offset="0.758" stop-color="#beff39"/><stop offset="0.885" stop-color="#baff3c"/><stop offset="1" stop-color="#b7ff40"/></radialGradient><radialGradient id="a64" href="#ar"><stop offset="0.0253" stop-color="#00b4ff"/><stop offset="0.0404" stop-color="#1fffd7"/><stop offset="0.0607" stop-color="#6dff8a"/><stop offset="0.091" stop-color="#9dff5a"/><stop offset="0.131" stop-color="#b4ff43"/><stop offset="0.182" stop-color="#c7ff30"/><stop offset="0.253" stop-color="#c1ff36"/><stop offset="0.329" stop-color="#c1ff36"/><stop offset="0.404" stop-color="#c1ff36"/><stop offset="0.505" stop-color="#c1ff36"/><stop offset="0.632" stop-color="#c7ff30"/><stop offset="0.758" stop-color="#c1ff36"/><stop offset="0.885" stop-color="#beff39"/><stop offset="1" stop-color="#baff3c"/></radialGradient><radialGradient id="a65" href="#ar"><stop offset="0.0253" stop-color="#00c0ff"/><stop offset="0.0404" stop-color="#29ffce"/><stop offset="0.0607" stop-color="#77ff80"/><stop offset="0.091" stop-color="#a4ff53"/><stop offset="0.131" stop-color="#baff3c"/><stop offset="0.182" stop-color="#ceff29"/><stop offset="0.253" stop-color="#c7ff30"/><stop offset="0.329" stop-color="#c4ff33"/><stop offset="0.404" stop-color="#c4ff33"/><stop offset="0.505" stop-color="#c4ff33"/><stop offset="0.632" stop-color="#c7ff30"/><stop offset="0.758" stop-color="#c1ff36"/><stop offset="0.885" stop-color="#beff39"/><stop offset="1" stop-color="#beff39"/></radialGradient><radialGradient id="a66" href="#ar"><stop offset="0.0253" stop-color="#00ccff"/><stop offset="0.0404" stop-color="#33ffc4"/><stop offset="0.0607" stop-color="#80ff77"/><stop offset="0.091" stop-color="#a7ff50"/><stop offset="0.131" stop-color="#c1ff36"/><stop offset="0.182" stop-color="#d4ff23"/><stop offset="0.253" stop-color="#caff2c"/><stop offset="0.329" stop-color="#caff2c"/><stop offset="0.404" stop-color="#caff2c"/><stop offset="0.505" stop-color="#c7ff30"/><stop offset="0.632" stop-color="#caff2c"/><stop offset="0.758" stop-color="#c1ff36"/><stop offset="0.885" stop-color="#c1ff36"/><stop offset="1" stop-color="#beff39"/></radialGradient><radialGradient id="a67" href="#ar"><stop offset="0.0253" stop-color="#00d8ff"/><stop offset="0.0404" stop-color="#3cffba"/><stop offset="0.0607" stop-color="#8aff6d"/><stop offset="0.091" stop-color="#adff49"/><stop offset="0.131" stop-color="#c4ff33"/><stop offset="0.182" stop-color="#d7ff1f"/><stop offset="0.253" stop-color="#d1ff26"/><stop offset="0.329" stop-color="#ceff29"/><stop offset="0.404" stop-color="#ceff29"/><stop offset="0.505" stop-color="#caff2c"/><stop offset="0.632" stop-color="#ceff29"/><stop offset="0.758" stop-color="#c4ff33"/><stop offset="0.885" stop-color="#c1ff36"/><stop offset="1" stop-color="#c1ff36"/></radialGradient><radialGradient id="a68" href="#ar"><stop offset="0.0253" stop-color="#00e4f8"/><stop offset="0.0404" stop-color="#46ffb1"/><stop offset="0.0607" stop-color="#94ff63"/><stop offset="0.091" stop-color="#b4ff43"/><stop offset="0.131" stop-color="#caff2c"/><stop offset="0.182" stop-color="#deff19"/><stop offset="0.253" stop-color="#d4ff23"/><stop offset="0.329" stop-color="#d1ff26"/><stop offset="0.404" stop-color="#d1ff26"/><stop offset="0.505" stop-color="#ceff29"/><stop offset="0.632" stop-color="#ceff29"/><stop offset="0.758" stop-color="#c4ff33"/><stop offset="0.885" stop-color="#c4ff33"/><stop offset="1" stop-color="#c1ff36"/></radialGradient><radialGradient id="a69" href="#ar"><stop offset="0.0253" stop-color="#06ecf1"/><stop offset="0.0404" stop-color="#4dffaa"/><stop offset="0.0607" stop-color="#9aff5d"/><stop offset="0.091" stop-color="#baff3c"/><stop offset="0.131" stop-color="#ceff29"/><stop offset="0.182" stop-color="#e1ff16"/><stop offset="0.253" stop-color="#d7ff1f"/><stop offset="0.329" stop-color="#d4ff23"/><stop offset="0.404" stop-color="#d4ff23"/><stop offset="0.505" stop-color="#d1ff26"/><stop offset="0.632" stop-color="#d1ff26"/><stop offset="0.758" stop-color="#c7ff30"/><stop offset="0.885" stop-color="#c4ff33"/><stop offset="1" stop-color="#c4ff33"/></radialGradient><radialGradient id="a70" href="#ar"><stop offset="0.0253" stop-color="#0ff8e7"/><stop offset="0.0404" stop-color="#56ffa0"/><stop offset="0.0607" stop-color="#a4ff53"/><stop offset="0.091" stop-color="#c1ff36"/><stop offset="0.131" stop-color="#d4ff23"/><stop offset="0.182" stop-color="#e7ff0f"/><stop offset="0.253" stop-color="#dbff1c"/><stop offset="0.329" stop-color="#d7ff1f"/><stop offset="0.404" stop-color="#d7ff1f"/><stop offset="0.505" stop-color="#d4ff23"/><stop offset="0.632" stop-color="#d1ff26"/><stop offset="0.758" stop-color="#caff2c"/><stop offset="0.885" stop-color="#c4ff33"/><stop offset="1" stop-color="#c4ff33"/></radialGradient><radialGradient id="a71" href="#ar"><stop offset="0.0253" stop-color="#19ffde"/><stop offset="0.0404" stop-color="#60ff97"/><stop offset="0.0607" stop-color="#adff49"/><stop offset="0.091" stop-color="#c7ff30"/><stop offset="0.131" stop-color="#dbff1c"/><stop offset="0.182" stop-color="#ebff0c"/><stop offset="0.253" stop-color="#deff19"/><stop offset="0.329" stop-color="#dbff1c"/><stop offset="0.404" stop-color="#dbff1c"/><stop offset="0.505" stop-color="#d7ff1f"/><stop offset="0.632" stop-color="#d4ff23"/><stop offset="0.758" stop-color="#caff2c"/><stop offset="0.885" stop-color="#c4ff33"/><stop offset="1" stop-color="#c7ff30"/></radialGradient><radialGradient id="a72" href="#ar"><stop offset="0.0253" stop-color="#23ffd4"/><stop offset="0.0404" stop-color="#6aff8d"/><stop offset="0.0607" stop-color="#b7ff40"/><stop offset="0.091" stop-color="#ceff29"/><stop offset="0.131" stop-color="#deff19"/><stop offset="0.182" stop-color="#eeff09"/><stop offset="0.253" stop-color="#e4ff13"/><stop offset="0.329" stop-color="#e1ff16"/><stop offset="0.404" stop-color="#deff19"/><stop offset="0.505" stop-color="#deff19"/><stop offset="0.632" stop-color="#d4ff23"/><stop offset="0.758" stop-color="#ceff29"/><stop offset="0.885" stop-color="#c7ff30"/><stop offset="1" stop-color="#c7ff30"/></radialGradient><radialGradient id="a73" href="#ar"><stop offset="0.0253" stop-color="#2cffca"/><stop offset="0.0404" stop-color="#70ff87"/><stop offset="0.0607" stop-color="#beff39"/><stop offset="0.091" stop-color="#d1ff26"/><stop offset="0.131" stop-color="#e1ff16"/><stop offset="0.182" stop-color="#f1fc06"/><stop offset="0.253" stop-color="#e7ff0f"/><stop offset="0.329" stop-color="#e1ff16"/><stop offset="0.404" stop-color="#e1ff16"/><stop offset="0.505" stop-color="#e1ff16"/><stop offset="0.632" stop-color="#d7ff1f"/><stop offset="0.758" stop-color="#ceff29"/><stop offset="0.885" stop-color="#c7ff30"/><stop offset="1" stop-color="#caff2c"/></radialGradient><radialGradient id="a74" href="#ar"><stop offset="0.0253" stop-color="#36ffc1"/><stop offset="0.0404" stop-color="#7dff7a"/><stop offset="0.0607" stop-color="#c4ff33"/><stop offset="0.091" stop-color="#d4ff23"/><stop offset="0.131" stop-color="#e4ff13"/><stop offset="0.182" stop-color="#f4f802"/><stop offset="0.253" stop-color="#ebff0c"/><stop offset="0.329" stop-color="#e4ff13"/><stop offset="0.404" stop-color="#e1ff16"/><stop offset="0.505" stop-color="#e4ff13"/><stop offset="0.632" stop-color="#dbff1c"/><stop offset="0.758" stop-color="#ceff29"/><stop offset="0.885" stop-color="#c7ff30"/><stop offset="1" stop-color="#caff2c"/></radialGradient><radialGradient id="a75" href="#ar"><stop offset="0.0253" stop-color="#43ffb4"/><stop offset="0.0404" stop-color="#8aff6d"/><stop offset="0.0607" stop-color="#c7ff30"/><stop offset="0.091" stop-color="#d7ff1f"/><stop offset="0.131" stop-color="#e7ff0f"/><stop offset="0.182" stop-color="#f8f500"/><stop offset="0.253" stop-color="#eeff09"/><stop offset="0.329" stop-color="#e7ff0f"/><stop offset="0.404" stop-color="#e4ff13"/><stop offset="0.505" stop-color="#e7ff0f"/><stop offset="0.632" stop-color="#dbff1c"/><stop offset="0.758" stop-color="#d1ff26"/><stop offset="0.885" stop-color="#c7ff30"/><stop offset="1" stop-color="#caff2c"/></radialGradient><radialGradient id="a76" href="#ar"><stop offset="0.0253" stop-color="#4dffaa"/><stop offset="0.0404" stop-color="#94ff63"/><stop offset="0.0607" stop-color="#ceff29"/><stop offset="0.091" stop-color="#deff19"/><stop offset="0.131" stop-color="#ebff0c"/><stop offset="0.182" stop-color="#fbf100"/><stop offset="0.253" stop-color="#f1fc06"/><stop offset="0.329" stop-color="#ebff0c"/><stop offset="0.404" stop-color="#e4ff13"/><stop offset="0.505" stop-color="#e7ff0f"/><stop offset="0.632" stop-color="#deff19"/><stop offset="0.758" stop-color="#d1ff26"/><stop offset="0.885" stop-color="#caff2c"/><stop offset="1" stop-color="#ceff29"/></radialGradient><radialGradient id="a77" href="#ar"><stop offset="0.0253" stop-color="#5aff9d"/><stop offset="0.0404" stop-color="#a0ff56"/><stop offset="0.0607" stop-color="#d1ff26"/><stop offset="0.091" stop-color="#e1ff16"/><stop offset="0.131" stop-color="#f1fc06"/><stop offset="0.182" stop-color="#fbf100"/><stop offset="0.253" stop-color="#f4f802"/><stop offset="0.329" stop-color="#eeff09"/><stop offset="0.404" stop-color="#e7ff0f"/><stop offset="0.505" stop-color="#ebff0c"/><stop offset="0.632" stop-color="#deff19"/><stop offset="0.758" stop-color="#d4ff23"/><stop offset="0.885" stop-color="#caff2c"/><stop offset="1" stop-color="#ceff29"/></radialGradient><radialGradient id="a78" href="#ar"><stop offset="0.0253" stop-color="#63ff94"/><stop offset="0.0404" stop-color="#aaff4d"/><stop offset="0.0607" stop-color="#d7ff1f"/><stop offset="0.091" stop-color="#e7ff0f"/><stop offset="0.131" stop-color="#f4f802"/><stop offset="0.182" stop-color="#feed00"/><stop offset="0.253" stop-color="#f8f500"/><stop offset="0.329" stop-color="#f1fc06"/><stop offset="0.404" stop-color="#ebff0c"/><stop offset="0.505" stop-color="#ebff0c"/><stop offset="0.632" stop-color="#e1ff16"/><stop offset="0.758" stop-color="#d4ff23"/><stop offset="0.885" stop-color="#ceff29"/><stop offset="1" stop-color="#ceff29"/></radialGradient><radialGradient id="a79" href="#ar"><stop offset="0.0253" stop-color="#70ff87"/><stop offset="0.0404" stop-color="#b7ff40"/><stop offset="0.0607" stop-color="#deff19"/><stop offset="0.091" stop-color="#ebff0c"/><stop offset="0.131" stop-color="#f8f500"/><stop offset="0.182" stop-color="#ffea00"/><stop offset="0.253" stop-color="#fbf100"/><stop offset="0.329" stop-color="#f4f802"/><stop offset="0.404" stop-color="#eeff09"/><stop offset="0.505" stop-color="#ebff0c"/><stop offset="0.632" stop-color="#e1ff16"/><stop offset="0.758" stop-color="#d4ff23"/><stop offset="0.885" stop-color="#ceff29"/><stop offset="1" stop-color="#ceff29"/></radialGradient><radialGradient id="a80" href="#ar"><stop offset="0.0253" stop-color="#7aff7d"/><stop offset="0.0404" stop-color="#beff39"/><stop offset="0.0607" stop-color="#e1ff16"/><stop offset="0.091" stop-color="#eeff09"/><stop offset="0.131" stop-color="#fbf100"/><stop offset="0.182" stop-color="#ffe600"/><stop offset="0.253" stop-color="#feed00"/><stop offset="0.329" stop-color="#f4f802"/><stop offset="0.404" stop-color="#f1fc06"/><stop offset="0.505" stop-color="#eeff09"/><stop offset="0.632" stop-color="#e4ff13"/><stop offset="0.758" stop-color="#d7ff1f"/><stop offset="0.885" stop-color="#d1ff26"/><stop offset="1" stop-color="#ceff29"/></radialGradient><radialGradient id="a81" href="#ar"><stop offset="0.0253" stop-color="#87ff70"/><stop offset="0.0404" stop-color="#c1ff36"/><stop offset="0.0607" stop-color="#e7ff0f"/><stop offset="0.091" stop-color="#f4f802"/><stop offset="0.131" stop-color="#feed00"/><stop offset="0.182" stop-color="#ffe200"/><stop offset="0.253" stop-color="#ffea00"/><stop offset="0.329" stop-color="#f8f500"/><stop offset="0.404" stop-color="#f1fc06"/><stop offset="0.505" stop-color="#eeff09"/><stop offset="0.632" stop-color="#e4ff13"/><stop offset="0.758" stop-color="#d7ff1f"/><stop offset="0.885" stop-color="#d1ff26"/><stop offset="1" stop-color="#ceff29"/></radialGradient><radialGradient id="a82" href="#ar"><stop offset="0.0253" stop-color="#90ff66"/><stop offset="0.0404" stop-color="#c7ff30"/><stop offset="0.0607" stop-color="#ebff0c"/><stop offset="0.091" stop-color="#f8f500"/><stop offset="0.131" stop-color="#ffea00"/><stop offset="0.182" stop-color="#ffe200"/><stop offset="0.253" stop-color="#ffea00"/><stop offset="0.329" stop-color="#fbf100"/><stop offset="0.404" stop-color="#f4f802"/><stop offset="0.505" stop-color="#eeff09"/><stop offset="0.632" stop-color="#e4ff13"/><stop offset="0.758" stop-color="#dbff1c"/><stop offset="0.885" stop-color="#d1ff26"/><stop offset="1" stop-color="#ceff29"/></radialGradient><radialGradient id="a83" href="#ar"><stop offset="0.0253" stop-color="#9aff5d"/><stop offset="0.0404" stop-color="#caff2c"/><stop offset="0.0607" stop-color="#eeff09"/><stop offset="0.091" stop-color="#fbf100"/><stop offset="0.131" stop-color="#ffe600"/><stop offset="0.182" stop-color="#ffde00"/><stop offset="0.253" stop-color="#ffe600"/><stop offset="0.329" stop-color="#feed00"/><stop offset="0.404" stop-color="#f8f500"/><stop offset="0.505" stop-color="#eeff09"/><stop offset="0.632" stop-color="#e7ff0f"/><stop offset="0.758" stop-color="#dbff1c"/><stop offset="0.885" stop-color="#d4ff23"/><stop offset="1" stop-color="#ceff29"/></radialGradient><radialGradient id="a84" href="#ar"><stop offset="0.0253" stop-color="#a7ff50"/><stop offset="0.0404" stop-color="#d1ff26"/><stop offset="0.0607" stop-color="#f4f802"/><stop offset="0.091" stop-color="#feed00"/><stop offset="0.131" stop-color="#ffe200"/><stop offset="0.182" stop-color="#ffdb00"/><stop offset="0.253" stop-color="#ffe200"/><stop offset="0.329" stop-color="#feed00"/><stop offset="0.404" stop-color="#f8f500"/><stop offset="0.505" stop-color="#eeff09"/><stop offset="0.632" stop-color="#e7ff0f"/><stop offset="0.758" stop-color="#dbff1c"/><stop offset="0.885" stop-color="#d4ff23"/><stop offset="1" stop-color="#ceff29"/></radialGradient><radialGradient id="a85" href="#ar"><stop offset="0.0253" stop-color="#b1ff46"/><stop offset="0.0404" stop-color="#d4ff23"/><stop offset="0.0607" stop-color="#f8f500"/><stop offset="0.091" stop-color="#ffe600"/><stop offset="0.131" stop-color="#ffde00"/><stop offset="0.182" stop-color="#ffd700"/><stop offset="0.253" stop-color="#ffde00"/><stop offset="0.329" stop-color="#ffea00"/><stop offset="0.404" stop-color="#fbf100"/><stop offset="0.505" stop-color="#eeff09"/><stop offset="0.632" stop-color="#ebff0c"/><stop offset="0.758" stop-color="#deff19"/><stop offset="0.885" stop-color="#d4ff23"/><stop offset="1" stop-color="#ceff29"/></radialGradient><radialGradient id="a86" href="#ar"><stop offset="0.0253" stop-color="#baff3c"/><stop offset="0.0404" stop-color="#dbff1c"/><stop offset="0.0607" stop-color="#fbf100"/><stop offset="0.091" stop-color="#ffe200"/><stop offset="0.131" stop-color="#ffdb00"/><stop offset="0.182" stop-color="#ffd700"/><stop offset="0.253" stop-color="#ffdb00"/><stop offset="0.329" stop-color="#ffe600"/><stop offset="0.404" stop-color="#feed00"/><stop offset="0.505" stop-color="#f1fc06"/><stop offset="0.632" stop-color="#ebff0c"/><stop offset="0.758" stop-color="#deff19"/><stop offset="0.885" stop-color="#d4ff23"/><stop offset="1" stop-color="#ceff29"/></radialGradient><radialGradient id="a87" href="#ar"><stop offset="0.0253" stop-color="#c4ff33"/><stop offset="0.0404" stop-color="#deff19"/><stop offset="0.0607" stop-color="#ffea00"/><stop offset="0.091" stop-color="#ffde00"/><stop offset="0.131" stop-color="#ffd700"/><stop offset="0.182" stop-color="#ffd300"/><stop offset="0.253" stop-color="#ffdb00"/><stop offset="0.329" stop-color="#ffe600"/><stop offset="0.404" stop-color="#feed00"/><stop offset="0.505" stop-color="#f1fc06"/><stop offset="0.632" stop-color="#ebff0c"/><stop offset="0.758" stop-color="#deff19"/><stop offset="0.885" stop-color="#d4ff23"/><stop offset="1" stop-color="#d1ff26"/></radialGradient><radialGradient id="a88" href="#ar"><stop offset="0.0253" stop-color="#caff2c"/><stop offset="0.0404" stop-color="#e4ff13"/><stop offset="0.0607" stop-color="#ffe600"/><stop offset="0.091" stop-color="#ffdb00"/><stop offset="0.131" stop-color="#ffd300"/><stop offset="0.182" stop-color="#ffd000"/><stop offset="0.253" stop-color="#ffd700"/><stop offset="0.329" stop-color="#ffe200"/><stop offset="0.404" stop-color="#ffea00"/><stop offset="0.505" stop-color="#f4f802"/><stop offset="0.632" stop-color="#ebff0c"/><stop offset="0.758" stop-color="#deff19"/><stop offset="0.885" stop-color="#d4ff23"/><stop offset="1" stop-color="#d1ff26"/></radialGradient><radialGradient id="a89" href="#ar"><stop offset="0.0253" stop-color="#d4ff23"/><stop offset="0.0404" stop-color="#e7ff0f"/><stop offset="0.0607" stop-color="#ffe200"/><stop offset="0.091" stop-color="#ffd300"/><stop offset="0.131" stop-color="#ffcc00"/><stop offset="0.182" stop-color="#ffcc00"/><stop offset="0.253" stop-color="#ffd700"/><stop offset="0.329" stop-color="#ffde00"/><stop offset="0.404" stop-color="#ffea00"/><stop offset="0.505" stop-color="#f8f500"/><stop offset="0.632" stop-color="#ebff0c"/><stop offset="0.758" stop-color="#e1ff16"/><stop offset="0.885" stop-color="#d4ff23"/><stop offset="1" stop-color="#d1ff26"/></radialGradient><radialGradient id="a90" href="#ar"><stop offset="0.0253" stop-color="#dbff1c"/><stop offset="0.0404" stop-color="#ebff0c"/><stop offset="0.0607" stop-color="#ffde00"/><stop offset="0.091" stop-color="#ffd000"/><stop offset="0.131" stop-color="#ffc800"/><stop offset="0.182" stop-color="#ffcc00"/><stop offset="0.253" stop-color="#ffd300"/><stop offset="0.329" stop-color="#ffdb00"/><stop offset="0.404" stop-color="#ffe600"/><stop offset="0.505" stop-color="#f8f500"/><stop offset="0.632" stop-color="#ebff0c"/><stop offset="0.758" stop-color="#e1ff16"/><stop offset="0.885" stop-color="#d7ff1f"/><stop offset="1" stop-color="#d1ff26"/></radialGradient><radialGradient id="a91" href="#ar"><stop offset="0.0253" stop-color="#e1ff16"/><stop offset="0.0404" stop-color="#f1fc06"/><stop offset="0.0607" stop-color="#ffdb00"/><stop offset="0.091" stop-color="#ffcc00"/><stop offset="0.131" stop-color="#ffc400"/><stop offset="0.182" stop-color="#ffc800"/><stop offset="0.253" stop-color="#ffd000"/><stop offset="0.329" stop-color="#ffdb00"/><stop offset="0.404" stop-color="#ffe600"/><stop offset="0.505" stop-color="#fbf100"/><stop offset="0.632" stop-color="#ebff0c"/><stop offset="0.758" stop-color="#e1ff16"/><stop offset="0.885" stop-color="#d7ff1f"/><stop offset="1" stop-color="#d1ff26"/></radialGradient><radialGradient id="a92" href="#ar"><stop offset="0.0253" stop-color="#ebff0c"/><stop offset="0.0404" stop-color="#f4f802"/><stop offset="0.0607" stop-color="#ffd300"/><stop offset="0.091" stop-color="#ffc800"/><stop offset="0.131" stop-color="#ffc100"/><stop offset="0.182" stop-color="#ffc400"/><stop offset="0.253" stop-color="#ffd000"/><stop offset="0.329" stop-color="#ffd700"/><stop offset="0.404" stop-color="#ffe200"/><stop offset="0.505" stop-color="#fbf100"/><stop offset="0.632" stop-color="#eeff09"/><stop offset="0.758" stop-color="#e4ff13"/><stop offset="0.885" stop-color="#d7ff1f"/><stop offset="1" stop-color="#d1ff26"/></radialGradient><radialGradient id="a93" href="#ar"><stop offset="0.0253" stop-color="#f1fc06"/><stop offset="0.0404" stop-color="#fbf100"/><stop offset="0.0607" stop-color="#ffd000"/><stop offset="0.091" stop-color="#ffc400"/><stop offset="0.131" stop-color="#ffbd00"/><stop offset="0.182" stop-color="#ffc400"/><stop offset="0.253" stop-color="#ffcc00"/><stop offset="0.329" stop-color="#ffd300"/><stop offset="0.404" stop-color="#ffe200"/><stop offset="0.505" stop-color="#feed00"/><stop offset="0.632" stop-color="#eeff09"/><stop offset="0.758" stop-color="#e4ff13"/><stop offset="0.885" stop-color="#d7ff1f"/><stop offset="1" stop-color="#d1ff26"/></radialGradient><radialGradient id="a94" href="#ar"><stop offset="0.0253" stop-color="#f8f500"/><stop offset="0.0404" stop-color="#ffea00"/><stop offset="0.0607" stop-color="#ffcc00"/><stop offset="0.091" stop-color="#ffc100"/><stop offset="0.131" stop-color="#ffb900"/><stop offset="0.182" stop-color="#ffc100"/><stop offset="0.253" stop-color="#ffc800"/><stop offset="0.329" stop-color="#ffd300"/><stop offset="0.404" stop-color="#ffde00"/><stop offset="0.505" stop-color="#feed00"/><stop offset="0.632" stop-color="#eeff09"/><stop offset="0.758" stop-color="#e4ff13"/><stop offset="0.885" stop-color="#d7ff1f"/><stop offset="1" stop-color="#d1ff26"/></radialGradient><radialGradient id="a95" href="#ar"><stop offset="0.0253" stop-color="#ffea00"/><stop offset="0.0404" stop-color="#ffe200"/><stop offset="0.0607" stop-color="#ffc400"/><stop offset="0.091" stop-color="#ffb900"/><stop offset="0.131" stop-color="#ffb600"/><stop offset="0.182" stop-color="#ffbd00"/><stop offset="0.253" stop-color="#ffc800"/><stop offset="0.329" stop-color="#ffd000"/><stop offset="0.404" stop-color="#ffdb00"/><stop offset="0.505" stop-color="#ffea00"/><stop offset="0.632" stop-color="#eeff09"/><stop offset="0.758" stop-color="#e4ff13"/><stop offset="0.885" stop-color="#d7ff1f"/><stop offset="1" stop-color="#d1ff26"/></radialGradient><radialGradient id="a96" href="#ar"><stop offset="0.0253" stop-color="#ffe200"/><stop offset="0.0404" stop-color="#ffdb00"/><stop offset="0.0607" stop-color="#ffc100"/><stop offset="0.091" stop-color="#ffb600"/><stop offset="0.131" stop-color="#ffb200"/><stop offset="0.182" stop-color="#ffbd00"/><stop offset="0.253" stop-color="#ffc400"/><stop offset="0.329" stop-color="#ffd000"/><stop offset="0.404" stop-color="#ffdb00"/><stop offset="0.505" stop-color="#ffea00"/><stop offset="0.632" stop-color="#eeff09"/><stop offset="0.758" stop-color="#e7ff0f"/><stop offset="0.885" stop-color="#dbff1c"/><stop offset="1" stop-color="#ceff29"/></radialGradient><radialGradient id="a97" href="#ar"><stop offset="0.0253" stop-color="#ffdb00"/><stop offset="0.0404" stop-color="#ffd000"/><stop offset="0.0607" stop-color="#ffbd00"/><stop offset="0.091" stop-color="#ffb200"/><stop offset="0.131" stop-color="#ffb200"/><stop offset="0.182" stop-color="#ffb900"/><stop offset="0.253" stop-color="#ffc100"/><stop offset="0.329" stop-color="#ffcc00"/><stop offset="0.404" stop-color="#ffd700"/><stop offset="0.505" stop-color="#ffe600"/><stop offset="0.632" stop-color="#eeff09"/><stop offset="0.758" stop-color="#e7ff0f"/><stop offset="0.885" stop-color="#dbff1c"/><stop offset="1" stop-color="#ceff29"/></radialGradient><radialGradient id="a98" href="#ar"><stop offset="0.0253" stop-color="#ffd300"/><stop offset="0.0404" stop-color="#ffc800"/><stop offset="0.0607" stop-color="#ffb600"/><stop offset="0.091" stop-color="#ffae00"/><stop offset="0.131" stop-color="#ffae00"/><stop offset="0.182" stop-color="#ffb600"/><stop offset="0.253" stop-color="#ffc100"/><stop offset="0.329" stop-color="#ffcc00"/><stop offset="0.404" stop-color="#ffd700"/><stop offset="0.505" stop-color="#ffe600"/><stop offset="0.632" stop-color="#f1fc06"/><stop offset="0.758" stop-color="#e7ff0f"/><stop offset="0.885" stop-color="#dbff1c"/><stop offset="1" stop-color="#ceff29"/></radialGradient><radialGradient id="a99" href="#ar"><stop offset="0.0253" stop-color="#ffc800"/><stop offset="0.0404" stop-color="#ffc100"/><stop offset="0.0607" stop-color="#ffb200"/><stop offset="0.091" stop-color="#ffab00"/><stop offset="0.131" stop-color="#ffab00"/><stop offset="0.182" stop-color="#ffb600"/><stop offset="0.253" stop-color="#ffbd00"/><stop offset="0.329" stop-color="#ffc800"/><stop offset="0.404" stop-color="#ffd300"/><stop offset="0.505" stop-color="#ffe600"/><stop offset="0.632" stop-color="#f1fc06"/><stop offset="0.758" stop-color="#e7ff0f"/><stop offset="0.885" stop-color="#deff19"/><stop offset="1" stop-color="#d1ff26"/></radialGradient><radialGradient id="a100" href="#ar"><stop offset="0.0253" stop-color="#ffc100"/><stop offset="0.0404" stop-color="#ffb900"/><stop offset="0.0607" stop-color="#ffae00"/><stop offset="0.091" stop-color="#ffa700"/><stop offset="0.131" stop-color="#ffa700"/><stop offset="0.182" stop-color="#ffb200"/><stop offset="0.253" stop-color="#ffb900"/><stop offset="0.329" stop-color="#ffc800"/><stop offset="0.404" stop-color="#ffd300"/><stop offset="0.505" stop-color="#ffe600"/><stop offset="0.632" stop-color="#f4f802"/><stop offset="0.758" stop-color="#e7ff0f"/><stop offset="0.885" stop-color="#deff19"/><stop offset="1" stop-color="#d1ff26"/></radialGradient><radialGradient id="a101" href="#ar"><stop offset="0.0253" stop-color="#ffb900"/><stop offset="0.0404" stop-color="#ffb200"/><stop offset="0.0607" stop-color="#ffa700"/><stop offset="0.091" stop-color="#ffa300"/><stop offset="0.131" stop-color="#ffa300"/><stop offset="0.182" stop-color="#ffae00"/><stop offset="0.253" stop-color="#ffb900"/><stop offset="0.329" stop-color="#ffc400"/><stop offset="0.404" stop-color="#ffd000"/><stop offset="0.505" stop-color="#ffe600"/><stop offset="0.632" stop-color="#f8f500"/><stop offset="0.758" stop-color="#ebff0c"/><stop offset="0.885" stop-color="#deff19"/><stop offset="1" stop-color="#d4ff23"/></radialGradient><radialGradient id="a102" href="#ar"><stop offset="0.0253" stop-color="#ffae00"/><stop offset="0.0404" stop-color="#ffae00"/><stop offset="0.0607" stop-color="#ff9f00"/><stop offset="0.091" stop-color="#ff9f00"/><stop offset="0.131" stop-color="#ff9f00"/><stop offset="0.182" stop-color="#ffae00"/><stop offset="0.253" stop-color="#ffb600"/><stop offset="0.329" stop-color="#ffc400"/><stop offset="0.404" stop-color="#ffd000"/><stop offset="0.505" stop-color="#ffe600"/><stop offset="0.632" stop-color="#f8f500"/><stop offset="0.758" stop-color="#ebff0c"/><stop offset="0.885" stop-color="#e1ff16"/><stop offset="1" stop-color="#d4ff23"/></radialGradient><radialGradient id="a103" href="#ar"><stop offset="0.0253" stop-color="#ffa700"/><stop offset="0.0404" stop-color="#ffa700"/><stop offset="0.0607" stop-color="#ff9c00"/><stop offset="0.091" stop-color="#ff9c00"/><stop offset="0.131" stop-color="#ff9c00"/><stop offset="0.182" stop-color="#ffab00"/><stop offset="0.253" stop-color="#ffb600"/><stop offset="0.329" stop-color="#ffc100"/><stop offset="0.404" stop-color="#ffd000"/><stop offset="0.505" stop-color="#ffe200"/><stop offset="0.632" stop-color="#fbf100"/><stop offset="0.758" stop-color="#ebff0c"/><stop offset="0.885" stop-color="#e1ff16"/><stop offset="1" stop-color="#d7ff1f"/></radialGradient><radialGradient id="a104" href="#ar"><stop offset="0.0253" stop-color="#ff9f00"/><stop offset="0.0404" stop-color="#ffa300"/><stop offset="0.0607" stop-color="#ff9400"/><stop offset="0.091" stop-color="#ff9400"/><stop offset="0.131" stop-color="#ff9800"/><stop offset="0.182" stop-color="#ffa700"/><stop offset="0.253" stop-color="#ffb200"/><stop offset="0.329" stop-color="#ffbd00"/><stop offset="0.404" stop-color="#ffcc00"/><stop offset="0.505" stop-color="#ffe200"/><stop offset="0.632" stop-color="#feed00"/><stop offset="0.758" stop-color="#ebff0c"/><stop offset="0.885" stop-color="#e1ff16"/><stop offset="1" stop-color="#dbff1c"/></radialGradient><radialGradient id="a105" href="#ar"><stop offset="0.0253" stop-color="#ff9400"/><stop offset="0.0404" stop-color="#ff9c00"/><stop offset="0.0607" stop-color="#ff9100"/><stop offset="0.091" stop-color="#ff9100"/><stop offset="0.131" stop-color="#ff9800"/><stop offset="0.182" stop-color="#ffa300"/><stop offset="0.253" stop-color="#ffae00"/><stop offset="0.329" stop-color="#ffbd00"/><stop offset="0.404" stop-color="#ffcc00"/><stop offset="0.505" stop-color="#ffde00"/><stop offset="0.632" stop-color="#feed00"/><stop offset="0.758" stop-color="#ebff0c"/><stop offset="0.885" stop-color="#e4ff13"/><stop offset="1" stop-color="#dbff1c"/></radialGradient><radialGradient id="a106" href="#ar"><stop offset="0.0253" stop-color="#ff8d00"/><stop offset="0.0404" stop-color="#ff9800"/><stop offset="0.0607" stop-color="#ff8900"/><stop offset="0.091" stop-color="#ff8d00"/><stop offset="0.131" stop-color="#ff9400"/><stop offset="0.182" stop-color="#ff9f00"/><stop offset="0.253" stop-color="#ffae00"/><stop offset="0.329" stop-color="#ffb900"/><stop offset="0.404" stop-color="#ffc800"/><stop offset="0.505" stop-color="#ffdb00"/><stop offset="0.632" stop-color="#ffea00"/><stop offset="0.758" stop-color="#ebff0c"/><stop offset="0.885" stop-color="#e4ff13"/><stop offset="1" stop-color="#deff19"/></radialGradient><radialGradient id="a107" href="#ar"><stop offset="0.0253" stop-color="#ff8600"/><stop offset="0.0404" stop-color="#ff8d00"/><stop offset="0.0607" stop-color="#ff8600"/><stop offset="0.091" stop-color="#ff8600"/><stop offset="0.131" stop-color="#ff9100"/><stop offset="0.182" stop-color="#ff9c00"/><stop offset="0.253" stop-color="#ffab00"/><stop offset="0.329" stop-color="#ffb900"/><stop offset="0.404" stop-color="#ffc400"/><stop offset="0.505" stop-color="#ffdb00"/><stop offset="0.632" stop-color="#ffe600"/><stop offset="0.758" stop-color="#ebff0c"/><stop offset="0.885" stop-color="#e4ff13"/><stop offset="1" stop-color="#deff19"/></radialGradient><radialGradient id="a108" href="#ar"><stop offset="0.0253" stop-color="#ff7a00"/><stop offset="0.0404" stop-color="#ff8600"/><stop offset="0.0607" stop-color="#ff7e00"/><stop offset="0.091" stop-color="#ff8200"/><stop offset="0.131" stop-color="#ff8d00"/><stop offset="0.182" stop-color="#ff9c00"/><stop offset="0.253" stop-color="#ffab00"/><stop offset="0.329" stop-color="#ffb600"/><stop offset="0.404" stop-color="#ffc400"/><stop offset="0.505" stop-color="#ffd700"/><stop offset="0.632" stop-color="#ffe600"/><stop offset="0.758" stop-color="#eeff09"/><stop offset="0.885" stop-color="#e4ff13"/><stop offset="1" stop-color="#deff19"/></radialGradient><radialGradient id="a109" href="#ar"><stop offset="0.0253" stop-color="#ff7300"/><stop offset="0.0404" stop-color="#ff7e00"/><stop offset="0.0607" stop-color="#ff7a00"/><stop offset="0.091" stop-color="#ff7e00"/><stop offset="0.131" stop-color="#ff8900"/><stop offset="0.182" stop-color="#ff9800"/><stop offset="0.253" stop-color="#ffa700"/><stop offset="0.329" stop-color="#ffb200"/><stop offset="0.404" stop-color="#ffc100"/><stop offset="0.505" stop-color="#ffd700"/><stop offset="0.632" stop-color="#ffe200"/><stop offset="0.758" stop-color="#eeff09"/><stop offset="0.885" stop-color="#e4ff13"/><stop offset="1" stop-color="#e1ff16"/></radialGradient><radialGradient id="a110" href="#ar"><stop offset="0.0253" stop-color="#ff6c00"/><stop offset="0.0404" stop-color="#ff7300"/><stop offset="0.0607" stop-color="#ff7300"/><stop offset="0.091" stop-color="#ff7700"/><stop offset="0.131" stop-color="#ff8600"/><stop offset="0.182" stop-color="#ff9400"/><stop offset="0.253" stop-color="#ffa300"/><stop offset="0.329" stop-color="#ffb200"/><stop offset="0.404" stop-color="#ffc100"/><stop offset="0.505" stop-color="#ffd300"/><stop offset="0.632" stop-color="#ffe200"/><stop offset="0.758" stop-color="#f1fc06"/><stop offset="0.885" stop-color="#e4ff13"/><stop offset="1" stop-color="#e1ff16"/></radialGradient><radialGradient id="a111" href="#ar"><stop offset="0.0253" stop-color="#ff6400"/><stop offset="0.0404" stop-color="#ff6c00"/><stop offset="0.0607" stop-color="#ff6f00"/><stop offset="0.091" stop-color="#ff7300"/><stop offset="0.131" stop-color="#ff8600"/><stop offset="0.182" stop-color="#ff9100"/><stop offset="0.253" stop-color="#ffa300"/><stop offset="0.329" stop-color="#ffae00"/><stop offset="0.404" stop-color="#ffbd00"/><stop offset="0.505" stop-color="#ffd300"/><stop offset="0.632" stop-color="#ffde00"/><stop offset="0.758" stop-color="#f1fc06"/><stop offset="0.885" stop-color="#e4ff13"/><stop offset="1" stop-color="#e1ff16"/></radialGradient><radialGradient id="a112" href="#ar"><stop offset="0.0253" stop-color="#ff5900"/><stop offset="0.0404" stop-color="#ff6400"/><stop offset="0.0607" stop-color="#ff6c00"/><stop offset="0.091" stop-color="#ff6f00"/><stop offset="0.131" stop-color="#ff8200"/><stop offset="0.182" stop-color="#ff9100"/><stop offset="0.253" stop-color="#ff9f00"/><stop offset="0.329" stop-color="#ffae00"/><stop offset="0.404" stop-color="#ffbd00"/><stop offset="0.505" stop-color="#ffd000"/><stop offset="0.632" stop-color="#ffde00"/><stop offset="0.758" stop-color="#f4f802"/><stop offset="0.885" stop-color="#e4ff13"/><stop offset="1" stop-color="#e1ff16"/></radialGradient><radialGradient id="a113" href="#ar"><stop offset="0.0253" stop-color="#ff5200"/><stop offset="0.0404" stop-color="#ff5d00"/><stop offset="0.0607" stop-color="#ff6400"/><stop offset="0.091" stop-color="#ff6800"/><stop offset="0.131" stop-color="#ff7e00"/><stop offset="0.182" stop-color="#ff8d00"/><stop offset="0.253" stop-color="#ff9f00"/><stop offset="0.329" stop-color="#ffab00"/><stop offset="0.404" stop-color="#ffb900"/><stop offset="0.505" stop-color="#ffd000"/><stop offset="0.632" stop-color="#ffdb00"/><stop offset="0.758" stop-color="#f8f500"/><stop offset="0.885" stop-color="#e4ff13"/><stop offset="1" stop-color="#e4ff13"/></radialGradient><radialGradient id="a114" href="#ar"><stop offset="0.0253" stop-color="#ff4e00"/><stop offset="0.0404" stop-color="#ff5500"/><stop offset="0.0607" stop-color="#ff6000"/><stop offset="0.091" stop-color="#ff6400"/><stop offset="0.131" stop-color="#ff7a00"/><stop offset="0.182" stop-color="#ff8900"/><stop offset="0.253" stop-color="#ff9c00"/><stop offset="0.329" stop-color="#ffab00"/><stop offset="0.404" stop-color="#ffb900"/><stop offset="0.505" stop-color="#ffcc00"/><stop offset="0.632" stop-color="#ffdb00"/><stop offset="0.758" stop-color="#f8f500"/><stop offset="0.885" stop-color="#e7ff0f"/><stop offset="1" stop-color="#e4ff13"/></radialGradient><radialGradient id="a115" href="#ar"><stop offset="0.0253" stop-color="#ff4700"/><stop offset="0.0404" stop-color="#ff5200"/><stop offset="0.0607" stop-color="#ff5d00"/><stop offset="0.091" stop-color="#ff6000"/><stop offset="0.131" stop-color="#ff7700"/><stop offset="0.182" stop-color="#ff8900"/><stop offset="0.253" stop-color="#ff9800"/><stop offset="0.329" stop-color="#ffa700"/><stop offset="0.404" stop-color="#ffb600"/><stop offset="0.505" stop-color="#ffcc00"/><stop offset="0.632" stop-color="#ffd700"/><stop offset="0.758" stop-color="#fbf100"/><stop offset="0.885" stop-color="#e7ff0f"/><stop offset="1" stop-color="#e4ff13"/></radialGradient><radialGradient id="a116" href="#ar"><stop offset="0.0253" stop-color="#ff4300"/><stop offset="0.0404" stop-color="#ff4a00"/><stop offset="0.0607" stop-color="#ff5500"/><stop offset="0.091" stop-color="#ff5900"/><stop offset="0.131" stop-color="#ff7300"/><stop offset="0.182" stop-color="#ff8600"/><stop offset="0.253" stop-color="#ff9800"/><stop offset="0.329" stop-color="#ffa300"/><stop offset="0.404" stop-color="#ffb600"/><stop offset="0.505" stop-color="#ffc800"/><stop offset="0.632" stop-color="#ffd700"/><stop offset="0.758" stop-color="#feed00"/><stop offset="0.885" stop-color="#ebff0c"/><stop offset="1" stop-color="#e4ff13"/></radialGradient><radialGradient id="a117" href="#ar"><stop offset="0.0253" stop-color="#ff3b00"/><stop offset="0.0404" stop-color="#ff4700"/><stop offset="0.0607" stop-color="#ff5200"/><stop offset="0.091" stop-color="#ff5500"/><stop offset="0.131" stop-color="#ff6c00"/><stop offset="0.182" stop-color="#ff8200"/><stop offset="0.253" stop-color="#ff9400"/><stop offset="0.329" stop-color="#ffa300"/><stop offset="0.404" stop-color="#ffb200"/><stop offset="0.505" stop-color="#ffc800"/><stop offset="0.632" stop-color="#ffd300"/><stop offset="0.758" stop-color="#feed00"/><stop offset="0.885" stop-color="#eeff09"/><stop offset="1" stop-color="#e7ff0f"/></radialGradient><radialGradient id="a118" href="#ar"><stop offset="0.0253" stop-color="#ff3400"/><stop offset="0.0404" stop-color="#ff3f00"/><stop offset="0.0607" stop-color="#ff4a00"/><stop offset="0.091" stop-color="#ff4e00"/><stop offset="0.131" stop-color="#ff6800"/><stop offset="0.182" stop-color="#ff8200"/><stop offset="0.253" stop-color="#ff9100"/><stop offset="0.329" stop-color="#ff9f00"/><stop offset="0.404" stop-color="#ffb200"/><stop offset="0.505" stop-color="#ffc400"/><stop offset="0.632" stop-color="#ffd300"/><stop offset="0.758" stop-color="#ffea00"/><stop offset="0.885" stop-color="#f1fc06"/><stop offset="1" stop-color="#e7ff0f"/></radialGradient><radialGradient id="a119" href="#ar"><stop offset="0.0253" stop-color="#ff3000"/><stop offset="0.0404" stop-color="#ff3b00"/><stop offset="0.0607" stop-color="#ff4700"/><stop offset="0.091" stop-color="#ff4a00"/><stop offset="0.131" stop-color="#ff6400"/><stop offset="0.182" stop-color="#ff7e00"/><stop offset="0.253" stop-color="#ff9100"/><stop offset="0.329" stop-color="#ff9f00"/><stop offset="0.404" stop-color="#ffae00"/><stop offset="0.505" stop-color="#ffc400"/><stop offset="0.632" stop-color="#ffd300"/><stop offset="0.758" stop-color="#ffe600"/><stop offset="0.885" stop-color="#f1fc06"/><stop offset="1" stop-color="#e7ff0f"/></radialGradient><radialGradient id="a120" href="#ar"><stop offset="0.0253" stop-color="#ff2900"/><stop offset="0.0404" stop-color="#ff3400"/><stop offset="0.0607" stop-color="#ff3f00"/><stop offset="0.091" stop-color="#ff4700"/><stop offset="0.131" stop-color="#ff5d00"/><stop offset="0.182" stop-color="#ff7a00"/><stop offset="0.253" stop-color="#ff8d00"/><stop offset="0.329" stop-color="#ff9c00"/><stop offset="0.404" stop-color="#ffae00"/><stop offset="0.505" stop-color="#ffc400"/><stop offset="0.632" stop-color="#ffd000"/><stop offset="0.758" stop-color="#ffe600"/><stop offset="0.885" stop-color="#f4f802"/><stop offset="1" stop-color="#e7ff0f"/></radialGradient><radialGradient id="a121" href="#ar"><stop offset="0.0253" stop-color="#ff2500"/><stop offset="0.0404" stop-color="#ff2d00"/><stop offset="0.0607" stop-color="#ff3b00"/><stop offset="0.091" stop-color="#ff3f00"/><stop offset="0.131" stop-color="#ff5900"/><stop offset="0.182" stop-color="#ff7700"/><stop offset="0.253" stop-color="#ff8900"/><stop offset="0.329" stop-color="#ff9c00"/><stop offset="0.404" stop-color="#ffab00"/><stop offset="0.505" stop-color="#ffc100"/><stop offset="0.632" stop-color="#ffd000"/><stop offset="0.758" stop-color="#ffe200"/><stop offset="0.885" stop-color="#f4f802"/><stop offset="1" stop-color="#e7ff0f"/></radialGradient><radialGradient id="a122" href="#ar"><stop offset="0.0253" stop-color="#ff1e00"/><stop offset="0.0404" stop-color="#ff2900"/><stop offset="0.0607" stop-color="#ff3400"/><stop offset="0.091" stop-color="#ff3b00"/><stop offset="0.131" stop-color="#ff5500"/><stop offset="0.182" stop-color="#ff7300"/><stop offset="0.253" stop-color="#ff8900"/><stop offset="0.329" stop-color="#ff9c00"/><stop offset="0.404" stop-color="#ffab00"/><stop offset="0.505" stop-color="#ffc100"/><stop offset="0.632" stop-color="#ffd000"/><stop offset="0.758" stop-color="#ffe200"/><stop offset="0.885" stop-color="#f8f500"/><stop offset="1" stop-color="#ebff0c"/></radialGradient><radialGradient id="a123" href="#ar"><stop offset="0.0253" stop-color="#ff1a00"/><stop offset="0.0404" stop-color="#ff2200"/><stop offset="0.0607" stop-color="#ff3000"/><stop offset="0.091" stop-color="#ff3800"/><stop offset="0.131" stop-color="#ff4e00"/><stop offset="0.182" stop-color="#ff6f00"/><stop offset="0.253" stop-color="#ff8600"/><stop offset="0.329" stop-color="#ff9800"/><stop offset="0.404" stop-color="#ffa700"/><stop offset="0.505" stop-color="#ffbd00"/><stop offset="0.632" stop-color="#ffd000"/><stop offset="0.758" stop-color="#ffde00"/><stop offset="0.885" stop-color="#f8f500"/><stop offset="1" stop-color="#ebff0c"/></radialGradient><radialGradient id="a124" href="#ar"><stop offset="0.0253" stop-color="#ff1300"/><stop offset="0.0404" stop-color="#ff1e00"/><stop offset="0.0607" stop-color="#ff2900"/><stop offset="0.091" stop-color="#ff3000"/><stop offset="0.131" stop-color="#ff4a00"/><stop offset="0.182" stop-color="#ff6800"/><stop offset="0.253" stop-color="#ff8600"/><stop offset="0.329" stop-color="#ff9400"/><stop offset="0.404" stop-color="#ffa700"/><stop offset="0.505" stop-color="#ffbd00"/><stop offset="0.632" stop-color="#ffcc00"/><stop offset="0.758" stop-color="#ffde00"/><stop offset="0.885" stop-color="#f8f500"/><stop offset="1" stop-color="#ebff0c"/></radialGradient><radialGradient id="a125" href="#ar"><stop offset="0.0253" stop-color="#fa0f00"/><stop offset="0.0404" stop-color="#ff1600"/><stop offset="0.0607" stop-color="#ff2500"/><stop offset="0.091" stop-color="#ff2d00"/><stop offset="0.131" stop-color="#ff4700"/><stop offset="0.182" stop-color="#ff6400"/><stop offset="0.253" stop-color="#ff8200"/><stop offset="0.329" stop-color="#ff9100"/><stop offset="0.404" stop-color="#ffa300"/><stop offset="0.505" stop-color="#ffb900"/><stop offset="0.632" stop-color="#ffcc00"/><stop offset="0.758" stop-color="#ffde00"/><stop offset="0.885" stop-color="#fbf100"/><stop offset="1" stop-color="#eeff09"/></radialGradient><radialGradient id="a126" href="#ar"><stop offset="0.0253" stop-color="#f10800"/><stop offset="0.0404" stop-color="#ff1300"/><stop offset="0.0607" stop-color="#ff1e00"/><stop offset="0.091" stop-color="#ff2900"/><stop offset="0.131" stop-color="#ff3f00"/><stop offset="0.182" stop-color="#ff6000"/><stop offset="0.253" stop-color="#ff8200"/><stop offset="0.329" stop-color="#ff9100"/><stop offset="0.404" stop-color="#ffa300"/><stop offset="0.505" stop-color="#ffb900"/><stop offset="0.632" stop-color="#ffcc00"/><stop offset="0.758" stop-color="#ffdb00"/><stop offset="0.885" stop-color="#fbf100"/><stop offset="1" stop-color="#eeff09"/></radialGradient><radialGradient id="a127" href="#ar"><stop offset="0.0253" stop-color="#f10800"/><stop offset="0.0404" stop-color="#fa0f00"/><stop offset="0.0607" stop-color="#ff1e00"/><stop offset="0.091" stop-color="#ff2500"/><stop offset="0.131" stop-color="#ff3b00"/><stop offset="0.182" stop-color="#ff5900"/><stop offset="0.253" stop-color="#ff7a00"/><stop offset="0.329" stop-color="#ff8d00"/><stop offset="0.404" stop-color="#ffa300"/><stop offset="0.505" stop-color="#ffb600"/><stop offset="0.632" stop-color="#ffcc00"/><stop offset="0.758" stop-color="#ffdb00"/><stop offset="0.885" stop-color="#feed00"/><stop offset="1" stop-color="#eeff09"/></radialGradient><radialGradient id="a128" href="#ar"><stop offset="0.0253" stop-color="#f10800"/><stop offset="0.0404" stop-color="#fa0f00"/><stop offset="0.0607" stop-color="#ff1a00"/><stop offset="0.091" stop-color="#ff2200"/><stop offset="0.131" stop-color="#ff3800"/><stop offset="0.182" stop-color="#ff5500"/><stop offset="0.253" stop-color="#ff7700"/><stop offset="0.329" stop-color="#ff8d00"/><stop offset="0.404" stop-color="#ff9f00"/><stop offset="0.505" stop-color="#ffb600"/><stop offset="0.632" stop-color="#ffc800"/><stop offset="0.758" stop-color="#ffdb00"/><stop offset="0.885" stop-color="#feed00"/><stop offset="1" stop-color="#eeff09"/></radialGradient><radialGradient id="a129" href="#ar"><stop offset="0.0253" stop-color="#f10800"/><stop offset="0.0404" stop-color="#fa0f00"/><stop offset="0.0607" stop-color="#ff1600"/><stop offset="0.091" stop-color="#ff2200"/><stop offset="0.131" stop-color="#ff3400"/><stop offset="0.182" stop-color="#ff4e00"/><stop offset="0.253" stop-color="#ff6f00"/><stop offset="0.329" stop-color="#ff8900"/><stop offset="0.404" stop-color="#ff9f00"/><stop offset="0.505" stop-color="#ffb200"/><stop offset="0.632" stop-color="#ffc800"/><stop offset="0.758" stop-color="#ffdb00"/><stop offset="0.885" stop-color="#feed00"/><stop offset="1" stop-color="#eeff09"/></radialGradient><radialGradient id="a130" href="#ar"><stop offset="0.0253" stop-color="#f10800"/><stop offset="0.0404" stop-color="#f60b00"/><stop offset="0.0607" stop-color="#ff1600"/><stop offset="0.091" stop-color="#ff1e00"/><stop offset="0.131" stop-color="#ff3000"/><stop offset="0.182" stop-color="#ff4700"/><stop offset="0.253" stop-color="#ff6c00"/><stop offset="0.329" stop-color="#ff8900"/><stop offset="0.404" stop-color="#ff9c00"/><stop offset="0.505" stop-color="#ffb200"/><stop offset="0.632" stop-color="#ffc800"/><stop offset="0.758" stop-color="#ffdb00"/><stop offset="0.885" stop-color="#ffea00"/><stop offset="1" stop-color="#f1fc06"/></radialGradient><radialGradient id="a131" href="#ar"><stop offset="0.0253" stop-color="#f10800"/><stop offset="0.0404" stop-color="#f60b00"/><stop offset="0.0607" stop-color="#ff1300"/><stop offset="0.091" stop-color="#ff1e00"/><stop offset="0.131" stop-color="#ff3000"/><stop offset="0.182" stop-color="#ff4300"/><stop offset="0.253" stop-color="#ff6400"/><stop offset="0.329" stop-color="#ff8600"/><stop offset="0.404" stop-color="#ff9c00"/><stop offset="0.505" stop-color="#ffae00"/><stop offset="0.632" stop-color="#ffc400"/><stop offset="0.758" stop-color="#ffdb00"/><stop offset="0.885" stop-color="#ffea00"/><stop offset="1" stop-color="#f1fc06"/></radialGradient><radialGradient id="a132" href="#ar"><stop offset="0.0253" stop-color="#f10800"/><stop offset="0.0404" stop-color="#f10800"/><stop offset="0.0607" stop-color="#ff1300"/><stop offset="0.091" stop-color="#ff1a00"/><stop offset="0.131" stop-color="#ff2900"/><stop offset="0.182" stop-color="#ff3b00"/><stop offset="0.253" stop-color="#ff6000"/><stop offset="0.329" stop-color="#ff8600"/><stop offset="0.404" stop-color="#ff9c00"/><stop offset="0.505" stop-color="#ffae00"/><stop offset="0.632" stop-color="#ffc400"/><stop offset="0.758" stop-color="#ffd700"/><stop offset="0.885" stop-color="#ffea00"/><stop offset="1" stop-color="#f1fc06"/></radialGradient><radialGradient id="a133" href="#ar"><stop offset="0.0253" stop-color="#f10800"/><stop offset="0.0404" stop-color="#f10800"/><stop offset="0.0607" stop-color="#ff1300"/><stop offset="0.091" stop-color="#ff1600"/><stop offset="0.131" stop-color="#ff2500"/><stop offset="0.182" stop-color="#ff3800"/><stop offset="0.253" stop-color="#ff5d00"/><stop offset="0.329" stop-color="#ff8200"/><stop offset="0.404" stop-color="#ff9800"/><stop offset="0.505" stop-color="#ffae00"/><stop offset="0.632" stop-color="#ffc400"/><stop offset="0.758" stop-color="#ffd700"/><stop offset="0.885" stop-color="#ffe600"/><stop offset="1" stop-color="#f1fc06"/></radialGradient><radialGradient id="a134" href="#ar"><stop offset="0.0253" stop-color="#f10800"/><stop offset="0.0404" stop-color="#f10800"/><stop offset="0.0607" stop-color="#fa0f00"/><stop offset="0.091" stop-color="#ff1600"/><stop offset="0.131" stop-color="#ff1e00"/><stop offset="0.182" stop-color="#ff3000"/><stop offset="0.253" stop-color="#ff5900"/><stop offset="0.329" stop-color="#ff7e00"/><stop offset="0.404" stop-color="#ff9800"/><stop offset="0.505" stop-color="#ffab00"/><stop offset="0.632" stop-color="#ffc400"/><stop offset="0.758" stop-color="#ffd700"/><stop offset="0.885" stop-color="#ffe600"/><stop offset="1" stop-color="#f1fc06"/></radialGradient><radialGradient id="a135" href="#ar"><stop offset="0.0253" stop-color="#f10800"/><stop offset="0.0404" stop-color="#f10800"/><stop offset="0.0607" stop-color="#fa0f00"/><stop offset="0.091" stop-color="#ff1300"/><stop offset="0.131" stop-color="#ff1a00"/><stop offset="0.182" stop-color="#ff2d00"/><stop offset="0.253" stop-color="#ff5200"/><stop offset="0.329" stop-color="#ff7a00"/><stop offset="0.404" stop-color="#ff9400"/><stop offset="0.505" stop-color="#ffab00"/><stop offset="0.632" stop-color="#ffc100"/><stop offset="0.758" stop-color="#ffd700"/><stop offset="0.885" stop-color="#ffe600"/><stop offset="1" stop-color="#f1fc06"/></radialGradient><radialGradient id="a136" href="#ar"><stop offset="0.0253" stop-color="#f10800"/><stop offset="0.0404" stop-color="#f10800"/><stop offset="0.0607" stop-color="#f60b00"/><stop offset="0.091" stop-color="#ff1300"/><stop offset="0.131" stop-color="#ff1300"/><stop offset="0.182" stop-color="#ff2500"/><stop offset="0.253" stop-color="#ff4a00"/><stop offset="0.329" stop-color="#ff7700"/><stop offset="0.404" stop-color="#ff9100"/><stop offset="0.505" stop-color="#ffab00"/><stop offset="0.632" stop-color="#ffc100"/><stop offset="0.758" stop-color="#ffd700"/><stop offset="0.885" stop-color="#ffe200"/><stop offset="1" stop-color="#f4f802"/></radialGradient><radialGradient id="a137" href="#ar"><stop offset="0.0253" stop-color="#f10800"/><stop offset="0.0404" stop-color="#f10800"/><stop offset="0.0607" stop-color="#f60b00"/><stop offset="0.091" stop-color="#fa0f00"/><stop offset="0.131" stop-color="#fa0f00"/><stop offset="0.182" stop-color="#ff1e00"/><stop offset="0.253" stop-color="#ff4300"/><stop offset="0.329" stop-color="#ff7300"/><stop offset="0.404" stop-color="#ff9100"/><stop offset="0.505" stop-color="#ffab00"/><stop offset="0.632" stop-color="#ffc100"/><stop offset="0.758" stop-color="#ffd300"/><stop offset="0.885" stop-color="#ffe200"/><stop offset="1" stop-color="#f4f802"/></radialGradient><radialGradient id="a138" href="#ar"><stop offset="0.0253" stop-color="#f10800"/><stop offset="0.0404" stop-color="#f10800"/><stop offset="0.0607" stop-color="#f60b00"/><stop offset="0.091" stop-color="#fa0f00"/><stop offset="0.131" stop-color="#f10800"/><stop offset="0.182" stop-color="#ff1600"/><stop offset="0.253" stop-color="#ff3f00"/><stop offset="0.329" stop-color="#ff6f00"/><stop offset="0.404" stop-color="#ff8d00"/><stop offset="0.505" stop-color="#ffa700"/><stop offset="0.632" stop-color="#ffbd00"/><stop offset="0.758" stop-color="#ffd300"/><stop offset="0.885" stop-color="#ffe200"/><stop offset="1" stop-color="#f4f802"/></radialGradient><radialGradient id="a139" href="#ar"><stop offset="0.0253" stop-color="#f10800"/><stop offset="0.0404" stop-color="#f10800"/><stop offset="0.0607" stop-color="#f10800"/><stop offset="0.091" stop-color="#f60b00"/><stop offset="0.131" stop-color="#ff1300"/><stop offset="0.182" stop-color="#ff3400"/><stop offset="0.253" stop-color="#ff5500"/><stop offset="0.329" stop-color="#ff7700"/><stop offset="0.404" stop-color="#ff8d00"/><stop offset="0.505" stop-color="#ffa700"/><stop offset="0.632" stop-color="#ffbd00"/><stop offset="0.758" stop-color="#ffd300"/><stop offset="0.885" stop-color="#ffe600"/><stop offset="1" stop-color="#f4f802"/></radialGradient><clipPath id="aclip"><path d="M35 318.6 L47.23 0.33 A318.5 318.5 0 0 1 353.5 318.6 Z"/></clipPath><clipPath id="abox"><rect x="35" y="0.4" width="319" height="318.2"/></clipPath><filter id="ablur" x="-5%" y="-5%" width="110%" height="110%"><feGaussianBlur stdDeviation="1.1"/></filter></defs>
<g clip-path="url(#abox)"><g clip-path="url(#aclip)"><g filter="url(#ablur)"><path d="M35 318.6L35.0 -3.9L40.1 -3.9Z" fill="url(#a0)"/><path d="M35 318.6L37.8 -3.9L42.9 -3.8Z" fill="url(#a1)"/><path d="M35 318.6L40.6 -3.9L45.7 -3.7Z" fill="url(#a2)"/><path d="M35 318.6L43.4 -3.8L48.5 -3.6Z" fill="url(#a3)"/><path d="M35 318.6L46.3 -3.7L51.3 -3.5Z" fill="url(#a4)"/><path d="M35 318.6L49.1 -3.6L54.1 -3.3Z" fill="url(#a5)"/><path d="M35 318.6L51.9 -3.5L56.9 -3.2Z" fill="url(#a6)"/><path d="M35 318.6L54.7 -3.3L59.7 -2.9Z" fill="url(#a7)"/><path d="M35 318.6L57.5 -3.1L62.5 -2.7Z" fill="url(#a8)"/><path d="M35 318.6L60.3 -2.9L65.3 -2.5Z" fill="url(#a9)"/><path d="M35 318.6L63.1 -2.7L68.2 -2.2Z" fill="url(#a10)"/><path d="M35 318.6L65.9 -2.4L70.9 -1.9Z" fill="url(#a11)"/><path d="M35 318.6L68.7 -2.1L73.7 -1.6Z" fill="url(#a12)"/><path d="M35 318.6L71.5 -1.8L76.5 -1.2Z" fill="url(#a13)"/><path d="M35 318.6L74.3 -1.5L79.3 -0.8Z" fill="url(#a14)"/><path d="M35 318.6L77.1 -1.1L82.1 -0.4Z" fill="url(#a15)"/><path d="M35 318.6L79.9 -0.8L84.9 -0.0Z" fill="url(#a16)"/><path d="M35 318.6L82.7 -0.4L87.7 0.4Z" fill="url(#a17)"/><path d="M35 318.6L85.5 0.1L90.4 0.9Z" fill="url(#a18)"/><path d="M35 318.6L88.2 0.5L93.2 1.4Z" fill="url(#a19)"/><path d="M35 318.6L91.0 1.0L96.0 1.9Z" fill="url(#a20)"/><path d="M35 318.6L93.8 1.5L98.7 2.5Z" fill="url(#a21)"/><path d="M35 318.6L96.5 2.0L101.5 3.0Z" fill="url(#a22)"/><path d="M35 318.6L99.3 2.6L104.3 3.6Z" fill="url(#a23)"/><path d="M35 318.6L102.1 3.1L107.0 4.2Z" fill="url(#a24)"/><path d="M35 318.6L104.8 3.7L109.7 4.9Z" fill="url(#a25)"/><path d="M35 318.6L107.5 4.4L112.5 5.5Z" fill="url(#a26)"/><path d="M35 318.6L110.3 5.0L115.2 6.2Z" fill="url(#a27)"/><path d="M35 318.6L113.0 5.7L117.9 6.9Z" fill="url(#a28)"/><path d="M35 318.6L115.7 6.4L120.6 7.7Z" fill="url(#a29)"/><path d="M35 318.6L118.5 7.1L123.4 8.4Z" fill="url(#a30)"/><path d="M35 318.6L121.2 7.8L126.1 9.2Z" fill="url(#a31)"/><path d="M35 318.6L123.9 8.6L128.8 10.0Z" fill="url(#a32)"/><path d="M35 318.6L126.6 9.4L131.4 10.9Z" fill="url(#a33)"/><path d="M35 318.6L129.3 10.2L134.1 11.7Z" fill="url(#a34)"/><path d="M35 318.6L132.0 11.0L136.8 12.6Z" fill="url(#a35)"/><path d="M35 318.6L134.7 11.9L139.5 13.5Z" fill="url(#a36)"/><path d="M35 318.6L137.3 12.8L142.1 14.4Z" fill="url(#a37)"/><path d="M35 318.6L140.0 13.7L144.8 15.4Z" fill="url(#a38)"/><path d="M35 318.6L142.7 14.6L147.4 16.3Z" fill="url(#a39)"/><path d="M35 318.6L145.3 15.5L150.0 17.3Z" fill="url(#a40)"/><path d="M35 318.6L147.9 16.5L152.7 18.3Z" fill="url(#a41)"/><path d="M35 318.6L150.6 17.5L155.3 19.4Z" fill="url(#a42)"/><path d="M35 318.6L153.2 18.5L157.9 20.4Z" fill="url(#a43)"/><path d="M35 318.6L155.8 19.6L160.5 21.5Z" fill="url(#a44)"/><path d="M35 318.6L158.4 20.6L163.1 22.6Z" fill="url(#a45)"/><path d="M35 318.6L161.0 21.7L165.7 23.8Z" fill="url(#a46)"/><path d="M35 318.6L163.6 22.8L168.2 24.9Z" fill="url(#a47)"/><path d="M35 318.6L166.2 24.0L170.8 26.1Z" fill="url(#a48)"/><path d="M35 318.6L168.7 25.1L173.3 27.3Z" fill="url(#a49)"/><path d="M35 318.6L171.3 26.3L175.9 28.5Z" fill="url(#a50)"/><path d="M35 318.6L173.8 27.5L178.4 29.7Z" fill="url(#a51)"/><path d="M35 318.6L176.4 28.7L180.9 31.0Z" fill="url(#a52)"/><path d="M35 318.6L178.9 30.0L183.4 32.3Z" fill="url(#a53)"/><path d="M35 318.6L181.4 31.3L185.9 33.6Z" fill="url(#a54)"/><path d="M35 318.6L183.9 32.5L188.4 34.9Z" fill="url(#a55)"/><path d="M35 318.6L186.4 33.8L190.9 36.3Z" fill="url(#a56)"/><path d="M35 318.6L188.9 35.2L193.3 37.6Z" fill="url(#a57)"/><path d="M35 318.6L191.4 36.5L195.8 39.0Z" fill="url(#a58)"/><path d="M35 318.6L193.8 37.9L198.2 40.4Z" fill="url(#a59)"/><path d="M35 318.6L196.2 39.3L201.8 42.6Z" fill="url(#a60)"/><path d="M35 318.6L199.9 41.4L205.4 44.8Z" fill="url(#a61)"/><path d="M35 318.6L203.5 43.6L209.0 47.1Z" fill="url(#a62)"/><path d="M35 318.6L207.1 45.9L212.5 49.4Z" fill="url(#a63)"/><path d="M35 318.6L210.6 48.1L216.0 51.7Z" fill="url(#a64)"/><path d="M35 318.6L214.2 50.5L219.5 54.1Z" fill="url(#a65)"/><path d="M35 318.6L217.7 52.8L223.0 56.5Z" fill="url(#a66)"/><path d="M35 318.6L221.1 55.2L226.4 59.0Z" fill="url(#a67)"/><path d="M35 318.6L224.6 57.7L229.8 61.5Z" fill="url(#a68)"/><path d="M35 318.6L228.0 60.2L233.1 64.1Z" fill="url(#a69)"/><path d="M35 318.6L231.3 62.7L236.4 66.7Z" fill="url(#a70)"/><path d="M35 318.6L234.7 65.3L239.7 69.4Z" fill="url(#a71)"/><path d="M35 318.6L238.0 68.0L242.9 72.1Z" fill="url(#a72)"/><path d="M35 318.6L241.2 70.6L246.2 74.8Z" fill="url(#a73)"/><path d="M35 318.6L244.4 73.4L249.3 77.6Z" fill="url(#a74)"/><path d="M35 318.6L247.6 76.1L252.5 80.4Z" fill="url(#a75)"/><path d="M35 318.6L250.8 78.9L255.6 83.3Z" fill="url(#a76)"/><path d="M35 318.6L253.9 81.8L258.6 86.2Z" fill="url(#a77)"/><path d="M35 318.6L257.0 84.7L261.6 89.2Z" fill="url(#a78)"/><path d="M35 318.6L260.0 87.6L264.6 92.2Z" fill="url(#a79)"/><path d="M35 318.6L263.0 90.6L267.6 95.2Z" fill="url(#a80)"/><path d="M35 318.6L266.0 93.6L270.5 98.2Z" fill="url(#a81)"/><path d="M35 318.6L268.9 96.6L273.3 101.3Z" fill="url(#a82)"/><path d="M35 318.6L271.8 99.7L276.2 104.5Z" fill="url(#a83)"/><path d="M35 318.6L274.7 102.8L278.9 107.7Z" fill="url(#a84)"/><path d="M35 318.6L277.5 106.0L281.7 110.9Z" fill="url(#a85)"/><path d="M35 318.6L280.2 109.2L284.4 114.1Z" fill="url(#a86)"/><path d="M35 318.6L283.0 112.4L287.0 117.4Z" fill="url(#a87)"/><path d="M35 318.6L285.6 115.6L289.7 120.7Z" fill="url(#a88)"/><path d="M35 318.6L288.3 118.9L292.2 124.1Z" fill="url(#a89)"/><path d="M35 318.6L290.9 122.3L294.7 127.4Z" fill="url(#a90)"/><path d="M35 318.6L293.4 125.6L297.2 130.9Z" fill="url(#a91)"/><path d="M35 318.6L295.9 129.0L299.7 134.3Z" fill="url(#a92)"/><path d="M35 318.6L298.4 132.5L302.0 137.8Z" fill="url(#a93)"/><path d="M35 318.6L300.8 135.9L304.4 141.3Z" fill="url(#a94)"/><path d="M35 318.6L303.1 139.4L306.7 144.8Z" fill="url(#a95)"/><path d="M35 318.6L305.5 143.0L308.9 148.4Z" fill="url(#a96)"/><path d="M35 318.6L307.7 146.5L311.1 152.0Z" fill="url(#a97)"/><path d="M35 318.6L310.0 150.1L313.3 155.6Z" fill="url(#a98)"/><path d="M35 318.6L312.2 153.7L315.4 159.3Z" fill="url(#a99)"/><path d="M35 318.6L314.3 157.3L317.5 163.0Z" fill="url(#a100)"/><path d="M35 318.6L316.4 161.0L319.5 166.7Z" fill="url(#a101)"/><path d="M35 318.6L318.4 164.7L321.4 170.4Z" fill="url(#a102)"/><path d="M35 318.6L320.4 168.4L323.4 174.2Z" fill="url(#a103)"/><path d="M35 318.6L322.3 172.2L325.2 178.0Z" fill="url(#a104)"/><path d="M35 318.6L324.2 176.0L327.0 181.8Z" fill="url(#a105)"/><path d="M35 318.6L326.1 179.8L328.8 185.6Z" fill="url(#a106)"/><path d="M35 318.6L327.9 183.6L330.5 189.5Z" fill="url(#a107)"/><path d="M35 318.6L329.6 187.4L332.2 193.4Z" fill="url(#a108)"/><path d="M35 318.6L331.3 191.3L333.8 197.3Z" fill="url(#a109)"/><path d="M35 318.6L333.0 195.2L335.4 201.2Z" fill="url(#a110)"/><path d="M35 318.6L334.5 199.1L336.9 205.1Z" fill="url(#a111)"/><path d="M35 318.6L336.1 203.0L338.3 209.1Z" fill="url(#a112)"/><path d="M35 318.6L337.6 207.0L339.7 213.1Z" fill="url(#a113)"/><path d="M35 318.6L339.0 210.9L341.1 217.1Z" fill="url(#a114)"/><path d="M35 318.6L340.4 214.9L342.4 221.1Z" fill="url(#a115)"/><path d="M35 318.6L341.7 218.9L343.7 225.1Z" fill="url(#a116)"/><path d="M35 318.6L343.0 223.0L344.9 229.2Z" fill="url(#a117)"/><path d="M35 318.6L344.2 227.0L346.0 233.2Z" fill="url(#a118)"/><path d="M35 318.6L345.4 231.1L347.1 237.3Z" fill="url(#a119)"/><path d="M35 318.6L346.5 235.1L348.1 241.4Z" fill="url(#a120)"/><path d="M35 318.6L347.6 239.2L349.1 245.5Z" fill="url(#a121)"/><path d="M35 318.6L348.6 243.3L350.0 249.6Z" fill="url(#a122)"/><path d="M35 318.6L349.5 247.4L350.9 253.8Z" fill="url(#a123)"/><path d="M35 318.6L350.5 251.5L351.7 257.9Z" fill="url(#a124)"/><path d="M35 318.6L351.3 255.7L352.5 262.0Z" fill="url(#a125)"/><path d="M35 318.6L352.1 259.8L353.2 266.2Z" fill="url(#a126)"/><path d="M35 318.6L352.8 264.0L353.9 270.4Z" fill="url(#a127)"/><path d="M35 318.6L353.5 268.1L354.5 274.6Z" fill="url(#a128)"/><path d="M35 318.6L354.2 272.3L355.0 278.7Z" fill="url(#a129)"/><path d="M35 318.6L354.7 276.5L355.5 282.9Z" fill="url(#a130)"/><path d="M35 318.6L355.3 280.7L356.0 287.1Z" fill="url(#a131)"/><path d="M35 318.6L355.7 284.9L356.3 291.3Z" fill="url(#a132)"/><path d="M35 318.6L356.1 289.1L356.7 295.5Z" fill="url(#a133)"/><path d="M35 318.6L356.5 293.3L356.9 299.8Z" fill="url(#a134)"/><path d="M35 318.6L356.8 297.5L357.2 304.0Z" fill="url(#a135)"/><path d="M35 318.6L357.1 301.7L357.3 308.2Z" fill="url(#a136)"/><path d="M35 318.6L357.3 305.9L357.4 312.4Z" fill="url(#a137)"/><path d="M35 318.6L357.4 310.2L357.5 316.6Z" fill="url(#a138)"/><path d="M35 318.6L357.5 314.4L357.5 320.9Z" fill="url(#a139)"/></g></g><circle cx="35" cy="318.6" r="8.1" fill="#fff"/></g>
<g clip-path="url(#abox)">
<g clip-path="url(#aclip)" fill="none" stroke="#7d7d7d" stroke-width="0.9">
<path d="M51.6 317.6C52.2 315.1 53.7 310.4 55.5 302.6C57.3 294.8 60.2 281.5 62.6 271.0C65.0 260.5 67.2 251.3 69.7 239.5C72.2 227.7 74.8 218.2 77.6 200.0C80.4 181.8 83.3 153.3 86.4 130.0C89.5 106.7 93.1 81.7 96.0 60.0C98.9 38.3 102.7 10.0 104.0 0.0"/>
<path d="M58.7 317.6C59.8 314.3 62.6 306.3 65.0 298.0C67.4 289.7 70.0 278.6 72.9 268.0C75.8 257.4 79.1 246.0 82.4 234.7C85.7 223.4 88.2 217.4 92.6 200.0C97.0 182.6 104.9 149.1 108.7 130.0C112.5 110.9 113.1 101.5 115.5 85.5C117.9 69.5 121.1 48.5 123.2 34.2C125.3 20.0 127.2 5.7 128.0 0.0"/>
<path d="M69.0 317.6C69.9 315.3 72.3 309.9 74.5 304.0C76.7 298.1 79.5 290.7 82.4 282.0C85.3 273.3 88.9 260.9 91.8 252.0C94.7 243.1 96.8 237.1 99.7 228.4C102.6 219.7 104.2 217.6 109.2 200.0C114.2 182.4 124.8 143.8 130.0 123.0C135.2 102.2 136.6 91.5 140.3 75.0C144.0 58.5 149.9 33.7 152.2 23.7C154.5 13.7 153.7 16.4 154.0 15.0"/>
<path d="M85.5 317.6C85.0 316.8 83.2 314.2 82.4 313.0C81.6 311.8 80.7 311.7 80.8 310.5C80.9 309.3 82.2 308.4 83.2 305.8C84.2 303.2 85.1 299.7 87.1 294.7C89.1 289.7 92.1 283.2 95.0 275.8C97.9 268.4 101.3 258.7 104.5 250.5C107.7 242.3 110.6 235.2 114.0 226.8C117.4 218.4 119.9 214.5 125.0 200.0C130.1 185.5 139.4 157.4 144.5 140.0C149.6 122.6 152.1 110.0 155.7 95.5C159.3 81.0 163.2 64.2 166.0 52.8C168.8 41.4 171.3 32.8 172.8 27.0C174.3 21.2 174.6 19.5 175.0 18.0"/>
<path d="M94.2 317.6C93.6 317.0 90.7 315.1 90.5 314.0C90.3 312.9 91.4 311.8 93.0 311.0C94.6 310.2 97.8 310.2 100.0 309.5C102.2 308.8 105.2 308.0 106.5 307.0C107.8 306.0 108.6 304.8 108.0 303.5C107.4 302.2 104.2 300.8 103.0 299.0C101.8 297.2 100.5 295.3 100.5 293.0C100.5 290.7 101.5 288.7 102.9 285.3C104.4 281.9 106.6 278.2 109.2 272.6C111.8 267.1 115.3 259.6 118.7 252.0C122.1 244.4 126.0 235.5 129.7 226.8C133.4 218.1 135.3 214.5 140.8 200.0C146.3 185.5 156.9 156.8 162.5 140.0C168.1 123.2 170.5 112.1 174.5 99.0C178.5 85.9 183.3 70.4 186.4 61.3C189.5 52.2 191.7 48.4 193.3 44.2C194.9 40.0 195.6 37.4 196.0 36.0"/>
<path d="M104.5 317.6C105.5 316.4 108.2 313.3 110.8 310.5C113.4 307.7 117.4 303.9 120.3 301.0C123.2 298.1 125.6 296.7 128.2 293.0C130.8 289.3 133.1 284.5 136.0 279.0C138.9 273.5 142.3 266.1 145.5 260.0C148.7 253.9 149.6 253.3 155.0 242.6C160.4 231.9 169.6 213.1 178.0 196.0C186.4 178.9 198.5 154.5 205.3 140.0C212.1 125.5 214.4 119.5 219.0 109.2C223.6 98.9 229.1 86.1 232.6 78.4C236.1 70.7 238.8 65.6 240.0 63.0"/>
<path d="M123.4 317.6C124.5 316.4 126.5 313.3 129.7 310.5C132.9 307.7 138.2 304.4 142.4 301.0C146.6 297.6 150.1 296.0 155.0 290.0C159.9 284.0 166.2 273.3 172.0 265.0C177.8 256.7 182.8 249.8 190.0 240.0C197.2 230.2 208.3 215.7 215.0 206.0C221.7 196.3 224.7 190.5 230.0 181.6C235.3 172.7 240.9 162.8 247.0 152.5C253.1 142.2 261.8 128.4 266.8 120.0C271.8 111.6 275.3 105.0 277.0 102.0"/>
<path d="M144.0 317.6C144.8 316.7 146.9 313.7 148.7 312.0C150.5 310.3 151.4 310.1 155.0 307.4C158.6 304.7 164.2 301.0 170.0 296.0C175.8 291.0 183.0 284.8 190.0 277.5C197.0 270.2 205.3 260.3 212.0 252.0C218.7 243.7 224.2 235.6 230.0 227.8C235.8 220.1 241.3 212.6 247.0 205.5C252.7 198.4 258.5 192.1 264.2 185.0C269.9 177.9 275.9 169.6 281.3 162.8C286.7 156.0 292.9 148.8 296.7 144.0C300.5 139.2 302.8 135.7 304.0 134.0"/>
<path d="M172.5 317.6C173.8 316.2 175.4 313.8 180.0 309.0C184.6 304.2 192.5 297.5 200.0 289.0C207.5 280.5 217.2 267.9 225.0 258.0C232.8 248.1 240.5 237.7 247.0 229.5C253.5 221.3 258.5 215.6 264.2 209.0C269.9 202.4 275.6 195.7 281.3 190.0C287.0 184.3 293.0 178.7 298.4 174.7C303.8 170.7 310.2 168.1 313.8 166.0C317.4 163.9 319.0 162.7 320.0 162.0"/>
<path d="M197.5 317.6C198.8 315.7 201.2 310.7 205.0 306.0C208.8 301.3 214.2 295.8 220.0 289.5C225.8 283.2 233.8 274.6 240.0 268.0C246.2 261.4 251.9 255.3 257.4 250.0C262.9 244.7 267.7 240.9 272.8 236.3C277.9 231.7 282.3 227.7 288.0 222.6C293.7 217.5 300.7 211.2 307.0 205.5C313.3 199.8 321.6 192.2 325.8 188.4C330.0 184.7 331.0 183.9 332.0 183.0"/>
<path d="M236.0 317.6C237.5 315.5 240.2 311.3 245.0 305.0C249.8 298.7 258.1 289.2 265.0 280.0C271.9 270.8 279.4 257.8 286.4 250.0C293.4 242.2 301.3 237.6 307.0 233.0C312.7 228.4 316.1 226.0 320.6 222.6C325.2 219.2 330.7 215.0 334.3 212.4C337.9 209.8 340.7 207.9 342.0 207.0"/>
<path d="M283.8 317.6C285.2 315.1 289.0 308.9 292.5 302.5C296.0 296.1 300.6 287.8 305.0 279.0C309.4 270.2 314.4 256.6 319.0 250.0C323.6 243.4 328.6 242.4 332.6 239.7C336.6 237.0 340.1 235.6 343.0 234.0C345.9 232.4 348.8 230.7 350.0 230.0"/>
<path d="M341.0 317.6C341.8 315.5 343.5 308.9 346.0 305.0C348.5 301.1 354.3 295.8 356.0 294.0"/>
</g>
<path d="M91.3 0.0C91.1 3.3 90.6 13.0 90.0 20.0C89.4 27.0 87.7 36.5 87.8 42.0C87.9 47.5 89.5 49.3 90.5 53.0C91.5 56.7 92.8 58.7 93.8 64.0C94.7 69.3 95.8 81.5 96.2 85.0M96.2 85.0C97.4 83.9 100.7 80.6 103.0 78.5C105.3 76.4 107.2 74.7 110.0 72.5C112.8 70.3 116.7 67.6 120.0 65.5C123.3 63.4 126.7 61.8 130.0 60.0C133.3 58.2 136.7 56.4 140.0 55.0C143.3 53.6 146.7 52.4 150.0 51.5C153.3 50.6 156.2 50.1 160.0 49.5C163.8 48.9 167.8 48.4 172.8 48.0C177.8 47.6 185.5 47.5 189.9 47.2C194.3 46.9 197.7 46.2 199.3 46.0M296.2 142.5C296.0 145.8 296.0 155.0 295.0 162.5C294.0 170.0 291.9 180.4 290.0 187.5C288.1 194.6 285.0 200.0 283.8 205.0C282.5 210.0 282.1 214.0 282.5 217.5C282.9 221.0 283.8 224.2 286.2 226.2C288.8 228.3 292.7 229.2 297.5 230.0C302.3 230.8 309.6 230.6 315.0 231.2C320.4 231.9 325.4 232.9 330.0 233.8C334.6 234.6 340.4 235.8 342.5 236.2" fill="none" stroke="#000" stroke-width="1.0"/>
<path d="M42.0 315.1L354.0 160.1M43.0 317.2L354.0 263.7" fill="none" stroke="#000" stroke-width="1.0" stroke-dasharray="5.5 3.5"/>
</g>
<path d="M46.38 295.68h1.25v1.25h-1.25zM61.94 120.48h1.25v1.25h-1.25zM61.94 142.38h1.25v1.25h-1.25zM61.94 295.68h1.25v1.25h-1.25zM77.50 295.68h1.25v1.25h-1.25zM93.06 295.68h1.25v1.25h-1.25zM108.62 273.78h1.25v1.25h-1.25zM108.62 295.68h1.25v1.25h-1.25zM124.18 273.78h1.25v1.25h-1.25zM124.18 295.68h1.25v1.25h-1.25zM139.74 10.98h1.25v1.25h-1.25zM155.30 10.98h1.25v1.25h-1.25zM170.86 10.98h1.25v1.25h-1.25zM186.42 10.98h1.25v1.25h-1.25zM186.42 32.88h1.25v1.25h-1.25zM201.98 10.98h1.25v1.25h-1.25zM201.98 32.88h1.25v1.25h-1.25zM217.54 10.98h1.25v1.25h-1.25zM217.54 32.88h1.25v1.25h-1.25zM233.10 10.98h1.25v1.25h-1.25zM233.10 32.88h1.25v1.25h-1.25zM233.10 54.78h1.25v1.25h-1.25zM248.66 10.98h1.25v1.25h-1.25zM248.66 32.88h1.25v1.25h-1.25zM248.66 54.78h1.25v1.25h-1.25zM248.66 76.68h1.25v1.25h-1.25zM264.22 10.98h1.25v1.25h-1.25zM264.22 32.88h1.25v1.25h-1.25zM264.22 54.78h1.25v1.25h-1.25zM264.22 76.68h1.25v1.25h-1.25zM279.78 10.98h1.25v1.25h-1.25zM279.78 32.88h1.25v1.25h-1.25zM279.78 54.78h1.25v1.25h-1.25zM279.78 76.68h1.25v1.25h-1.25zM279.78 98.58h1.25v1.25h-1.25zM295.34 10.98h1.25v1.25h-1.25zM295.34 32.88h1.25v1.25h-1.25zM295.34 54.78h1.25v1.25h-1.25zM295.34 76.68h1.25v1.25h-1.25zM295.34 98.58h1.25v1.25h-1.25zM295.34 120.48h1.25v1.25h-1.25zM310.90 10.98h1.25v1.25h-1.25zM310.90 32.88h1.25v1.25h-1.25zM310.90 54.78h1.25v1.25h-1.25zM310.90 76.68h1.25v1.25h-1.25zM310.90 98.58h1.25v1.25h-1.25zM310.90 120.48h1.25v1.25h-1.25zM310.90 142.38h1.25v1.25h-1.25zM326.46 10.98h1.25v1.25h-1.25zM326.46 32.88h1.25v1.25h-1.25zM326.46 54.78h1.25v1.25h-1.25zM326.46 76.68h1.25v1.25h-1.25zM326.46 98.58h1.25v1.25h-1.25zM326.46 120.48h1.25v1.25h-1.25zM326.46 142.38h1.25v1.25h-1.25zM326.46 164.28h1.25v1.25h-1.25zM342.02 10.98h1.25v1.25h-1.25zM342.02 32.88h1.25v1.25h-1.25zM342.02 54.78h1.25v1.25h-1.25zM342.02 76.68h1.25v1.25h-1.25zM342.02 98.58h1.25v1.25h-1.25zM342.02 120.48h1.25v1.25h-1.25zM342.02 142.38h1.25v1.25h-1.25zM342.02 164.28h1.25v1.25h-1.25zM342.02 186.18h1.25v1.25h-1.25zM342.02 208.08h1.25v1.25h-1.25z" fill="#111"/>
<path d="M46.7 11.6L46.7 11.9L46.1 11.6L47.0 14.1L47.9 11.6L47.3 11.9L47.3 11.6ZM46.4 33.5L46.4 36.0L45.4 35.4L47.1 40.0L48.6 35.4L47.7 36.0L47.6 33.5ZM46.4 55.4L46.4 58.4L45.4 57.8L47.1 62.4L48.6 57.8L47.7 58.4L47.6 55.4ZM46.4 77.3L46.5 82.3L45.5 81.7L47.2 86.3L48.7 81.7L47.7 82.3L47.6 77.3ZM46.4 99.2L46.5 106.2L45.5 105.6L47.2 110.2L48.7 105.6L47.7 106.2L47.6 99.2ZM46.4 121.1L46.6 133.1L45.6 132.5L47.3 137.1L48.8 132.5L47.8 133.1L47.6 121.1ZM46.4 143.0L46.7 163.0L45.7 162.4L47.4 167.0L48.9 162.4L48.0 163.0L47.6 143.0ZM46.4 164.9L46.8 190.9L45.8 190.3L47.5 194.9L49.0 190.3L48.1 190.9L47.6 164.9ZM46.4 186.8L46.9 214.8L45.9 214.2L47.6 218.8L49.1 214.2L48.1 214.8L47.6 186.8ZM46.4 208.7L46.8 234.7L45.8 234.1L47.5 238.7L49.0 234.1L48.1 234.7L47.6 208.7ZM46.4 230.6L46.7 250.6L45.7 250.0L47.4 254.6L48.9 250.0L48.0 250.6L47.6 230.6ZM46.4 252.5L46.6 264.5L45.6 263.9L47.3 268.5L48.8 263.9L47.8 264.5L47.6 252.5ZM46.4 274.4L46.4 277.4L45.4 276.8L47.1 281.4L48.6 276.8L47.7 277.4L47.6 274.4ZM62.2 11.6L62.2 11.9L61.7 11.6L62.6 14.1L63.4 11.6L62.9 11.9L62.9 11.6ZM62.2 33.5L62.2 33.8L61.7 33.5L62.6 36.0L63.4 33.5L62.9 33.8L62.9 33.5ZM62.2 55.4L62.2 55.7L61.7 55.4L62.6 57.9L63.4 55.4L62.9 55.7L62.9 55.4ZM62.2 77.3L62.2 77.6L61.7 77.3L62.6 79.8L63.4 77.3L62.9 77.6L62.9 77.3ZM62.3 99.2L62.3 99.5L61.9 99.2L62.6 101.2L63.3 99.2L62.8 99.5L62.8 99.2ZM63.2 164.9L63.2 164.4L64.4 165.0L62.8 159.9L60.7 164.8L62.0 164.3L61.9 164.9ZM63.2 186.8L63.3 185.7L64.6 186.4L62.9 180.8L60.5 186.2L61.9 185.7L61.9 186.8ZM63.2 208.7L63.3 207.1L64.7 207.8L62.9 202.2L60.6 207.6L62.0 207.1L61.9 208.7ZM63.2 230.6L63.3 229.0L64.7 229.7L62.9 224.1L60.6 229.5L62.0 229.0L61.9 230.6ZM63.2 252.5L63.3 251.4L64.6 252.1L62.9 246.5L60.5 251.9L61.9 251.4L61.9 252.5ZM63.2 274.4L63.2 273.9L64.4 274.5L62.8 269.4L60.7 274.3L62.0 273.8L61.9 274.4ZM78.7 11.7L78.8 11.2L80.0 11.9L78.9 6.7L76.3 11.3L77.6 11.0L77.5 11.5ZM78.8 33.6L79.0 32.5L80.2 33.3L79.1 27.6L76.2 32.7L77.6 32.3L77.5 33.4ZM78.8 55.5L79.7 50.5L80.9 51.3L79.8 45.5L76.9 50.6L78.3 50.3L77.5 55.3ZM78.8 77.4L79.9 71.4L81.1 72.2L80.1 66.5L77.1 71.5L78.5 71.2L77.5 77.2ZM78.8 99.3L79.9 93.3L81.1 94.2L80.1 88.4L77.1 93.4L78.6 93.1L77.5 99.1ZM78.8 121.2L79.9 115.2L81.2 116.1L80.2 110.3L77.2 115.3L78.6 115.0L77.5 121.0ZM78.8 143.1L80.0 137.2L81.2 138.0L80.3 132.2L77.2 137.2L78.7 136.9L77.5 142.9ZM78.8 165.0L80.1 159.1L81.3 160.0L80.5 154.2L77.3 159.1L78.8 158.8L77.5 164.8ZM78.8 186.9L80.1 181.0L81.3 181.9L80.5 176.1L77.3 181.0L78.8 180.7L77.5 186.7ZM78.8 208.8L79.8 203.8L81.0 204.7L80.1 198.9L77.0 203.9L78.5 203.6L77.5 208.6ZM78.8 230.7L79.7 225.7L80.9 226.5L79.9 220.8L76.9 225.8L78.3 225.5L77.5 230.5ZM78.8 252.6L79.3 249.6L80.6 250.4L79.5 244.6L76.5 249.7L78.0 249.3L77.5 252.4ZM78.6 274.5L78.7 274.1L79.6 274.7L79.1 270.5L76.7 274.1L77.7 273.9L77.6 274.3ZM94.3 11.7L95.6 4.7L96.9 5.6L95.8 -0.2L92.8 4.8L94.3 4.5L93.0 11.5ZM94.3 33.6L95.8 26.2L97.0 27.0L96.0 21.2L93.0 26.2L94.4 25.9L93.0 33.4ZM94.3 55.5L96.0 47.1L97.2 47.9L96.3 42.2L93.2 47.2L94.7 46.8L93.0 55.3ZM94.3 77.4L95.9 70.0L97.1 70.9L96.2 65.1L93.1 70.0L94.5 69.7L93.0 77.2ZM94.3 99.3L95.8 92.4L97.1 93.3L96.2 87.5L93.0 92.4L94.5 92.1L93.0 99.1ZM94.3 121.3L95.7 115.3L96.9 116.2L96.1 110.4L92.9 115.3L94.4 115.0L93.0 120.9ZM94.3 143.2L95.9 136.8L97.1 137.7L96.4 131.8L93.1 136.7L94.6 136.4L93.0 142.8ZM94.3 165.1L95.9 159.2L97.1 160.1L96.5 154.3L93.1 159.1L94.6 158.8L93.0 164.7ZM94.3 187.0L95.8 181.6L97.0 182.5L96.4 176.7L93.0 181.4L94.5 181.2L93.0 186.6ZM94.3 208.9L95.3 204.9L96.5 205.8L95.8 200.0L92.5 204.8L94.0 204.6L93.0 208.5ZM94.3 230.7L95.2 226.7L96.4 227.6L95.6 221.8L92.4 226.7L93.9 226.5L93.0 230.5ZM94.3 252.7L94.8 250.6L96.0 251.5L95.3 245.7L92.0 250.6L93.5 250.3L93.0 252.3ZM94.0 274.5L94.1 274.2L94.6 274.7L94.4 272.0L92.8 274.1L93.5 274.0L93.4 274.3ZM109.9 11.7L111.3 4.8L112.6 5.6L111.6 -0.2L108.5 4.8L110.0 4.5L108.6 11.5ZM109.9 33.6L111.5 26.2L112.7 27.1L111.8 21.3L108.7 26.2L110.2 25.9L108.6 33.4ZM109.9 55.5L111.6 48.1L112.8 49.0L112.0 43.2L108.8 48.1L110.2 47.8L108.6 55.3ZM109.9 77.5L111.5 70.5L112.7 71.4L112.0 65.6L108.7 70.5L110.2 70.2L108.6 77.1ZM109.9 99.4L111.5 93.0L112.7 93.9L112.0 88.0L108.7 92.9L110.2 92.6L108.6 99.0ZM109.9 121.3L111.5 115.4L112.6 116.3L112.1 110.5L108.7 115.3L110.2 115.0L108.6 120.9ZM109.9 143.2L111.3 138.3L112.5 139.3L112.0 133.4L108.5 138.1L110.0 137.9L108.6 142.8ZM109.9 165.1L111.4 160.2L112.6 161.2L112.3 155.4L108.7 160.0L110.2 159.8L108.6 164.7ZM109.9 187.0L111.3 182.6L112.4 183.6L112.2 177.8L108.5 182.4L110.0 182.2L108.6 186.6ZM109.9 208.9L110.8 205.9L111.9 206.9L111.6 201.1L108.0 205.7L109.5 205.5L108.6 208.5ZM109.9 230.8L110.5 228.8L111.6 229.7L111.2 223.9L107.7 228.6L109.2 228.4L108.6 230.4ZM109.8 252.7L110.0 252.2L111.0 253.0L110.7 247.7L107.5 252.0L108.8 251.8L108.7 252.3ZM125.5 11.7L127.0 4.8L128.2 5.7L127.5 -0.1L124.2 4.8L125.7 4.5L124.1 11.5ZM125.5 33.7L127.3 25.8L128.5 26.7L127.8 20.9L124.5 25.7L126.0 25.5L124.1 33.3ZM125.5 55.6L127.3 48.2L128.5 49.1L127.8 43.3L124.5 48.1L126.0 47.9L124.1 55.2ZM125.5 77.5L127.3 70.6L128.4 71.5L127.9 65.7L124.5 70.5L126.0 70.3L124.1 77.1ZM125.4 99.4L127.3 93.0L128.4 94.0L127.9 88.1L124.5 92.9L126.0 92.7L124.2 99.0ZM125.4 121.3L127.1 115.9L128.2 116.9L127.9 111.1L124.3 115.7L125.8 115.5L124.2 120.9ZM125.4 143.2L126.9 138.9L128.0 139.9L127.8 134.0L124.1 138.6L125.6 138.4L124.2 142.8ZM125.4 165.1L126.9 161.3L127.9 162.3L127.9 156.5L124.1 160.9L125.6 160.8L124.2 164.7ZM125.4 187.0L126.9 183.2L128.0 184.3L128.0 178.4L124.2 182.8L125.6 182.7L124.2 186.6ZM125.4 208.9L126.2 207.0L127.2 208.0L127.3 202.2L123.4 206.6L124.9 206.5L124.2 208.5ZM125.4 230.8L125.6 230.3L126.7 231.3L126.7 225.4L122.9 229.9L124.4 229.8L124.2 230.4ZM125.3 252.7L125.4 252.3L126.2 253.1L126.3 248.8L123.4 251.9L124.5 251.9L124.3 252.3ZM141.0 33.7L143.1 25.8L144.3 26.8L143.7 20.9L140.3 25.7L141.8 25.5L139.7 33.3ZM141.0 55.6L143.1 48.3L144.2 49.2L143.7 43.4L140.3 48.1L141.8 47.9L139.7 55.2ZM141.0 77.5L143.0 70.7L144.2 71.7L143.8 65.8L140.3 70.5L141.7 70.3L139.7 77.1ZM141.0 99.4L143.0 93.1L144.1 94.1L143.9 88.2L140.2 92.9L141.7 92.7L139.7 99.0ZM141.0 121.3L142.8 116.0L143.9 117.1L143.8 111.2L140.1 115.7L141.6 115.6L139.7 120.9ZM141.0 143.2L142.5 139.4L143.5 140.5L143.6 134.6L139.7 139.0L141.2 138.9L139.7 142.8ZM141.0 165.2L142.4 161.9L143.4 162.9L143.7 157.1L139.7 161.3L141.2 161.3L139.7 164.6ZM141.0 187.1L142.3 184.3L143.3 185.4L143.7 179.5L139.5 183.7L141.0 183.7L139.7 186.5ZM141.0 209.0L141.6 207.5L142.6 208.6L143.1 202.8L138.9 206.9L140.4 207.0L139.7 208.4ZM140.9 230.9L141.1 230.4L142.0 231.4L142.5 226.1L138.7 229.8L140.0 229.8L139.8 230.3ZM140.7 252.7L140.9 252.4L141.5 253.1L142.0 249.4L139.2 251.9L140.2 252.0L140.0 252.3ZM140.6 274.5L140.7 274.3L141.0 274.8L141.4 272.7L139.7 274.0L140.3 274.1L140.2 274.3ZM140.5 296.6L140.8 296.5L140.9 297.3L143.0 294.8L139.8 295.3L140.5 295.8L140.2 296.0ZM156.6 33.7L158.8 25.9L160.0 26.9L159.6 21.0L156.1 25.7L157.5 25.5L155.3 33.3ZM156.6 55.6L158.8 48.3L160.0 49.3L159.6 43.5L156.0 48.1L157.5 47.9L155.3 55.2ZM156.6 77.5L158.8 70.8L159.9 71.8L159.7 65.9L156.0 70.5L157.5 70.3L155.3 77.1ZM156.6 99.4L158.6 93.7L159.7 94.7L159.6 88.8L155.8 93.3L157.3 93.2L155.3 99.0ZM156.5 121.3L158.6 116.1L159.6 117.2L159.7 111.3L155.8 115.7L157.3 115.6L155.3 120.9ZM156.5 143.3L158.0 140.0L159.0 141.1L159.3 135.2L155.2 139.4L156.7 139.4L155.3 142.7ZM156.5 165.2L157.9 162.4L158.9 163.5L159.4 157.7L155.2 161.8L156.7 161.8L155.3 164.6ZM156.5 187.1L157.5 185.2L158.4 186.4L159.2 180.6L154.8 184.5L156.3 184.6L155.3 186.5ZM156.5 209.0L157.0 208.1L158.0 209.3L158.8 203.4L154.4 207.3L155.9 207.4L155.3 208.4ZM156.4 230.9L156.6 230.5L157.4 231.5L158.2 226.7L154.5 229.7L155.7 229.9L155.4 230.3ZM156.3 252.7L156.5 252.4L157.0 253.2L157.9 249.6L154.8 251.8L155.8 251.9L155.6 252.3ZM156.2 274.6L156.4 274.4L156.8 275.1L157.8 272.1L155.1 273.7L155.8 273.9L155.6 274.2ZM156.3 296.9L157.2 296.3L157.4 297.8L161.1 293.3L155.3 294.3L156.5 295.2L155.6 295.7ZM172.1 33.7L174.6 26.0L175.7 27.0L175.4 21.1L171.8 25.7L173.3 25.6L170.8 33.3ZM172.1 55.6L174.6 48.4L175.7 49.4L175.5 43.6L171.8 48.1L173.3 48.0L170.8 55.2ZM172.1 77.5L174.6 70.9L175.6 71.9L175.6 66.0L171.8 70.5L173.3 70.4L170.8 77.1ZM172.1 99.4L174.4 93.8L175.4 94.8L175.5 89.0L171.6 93.3L173.1 93.3L170.9 99.0ZM172.1 121.4L174.1 116.7L175.1 117.8L175.5 111.9L171.4 116.2L172.9 116.2L170.9 120.8ZM172.1 143.3L173.6 140.0L174.6 141.2L175.2 135.3L170.9 139.4L172.4 139.5L170.9 142.7ZM172.1 165.2L173.3 162.9L174.2 164.1L175.0 158.3L170.6 162.2L172.1 162.3L170.9 164.6ZM172.1 187.1L172.9 185.8L173.8 187.0L174.8 181.2L170.2 184.9L171.7 185.1L170.9 186.5ZM172.0 209.1L172.4 208.6L173.2 209.8L174.5 204.1L169.8 207.6L171.2 207.8L170.9 208.3ZM171.9 230.9L172.2 230.5L172.8 231.6L174.1 226.9L170.1 229.6L171.3 229.9L171.0 230.3ZM171.9 252.8L172.1 252.5L172.6 253.5L174.0 249.4L170.3 251.5L171.4 251.9L171.1 252.2ZM171.9 274.8L172.3 274.5L172.8 275.7L175.0 270.9L170.2 273.1L171.4 273.6L171.1 274.0ZM171.8 296.9L174.5 295.3L174.7 296.8L178.4 292.3L172.6 293.3L173.8 294.2L171.1 295.7ZM187.7 55.6L190.3 48.5L191.4 49.6L191.4 43.7L187.6 48.1L189.1 48.0L186.4 55.2ZM187.7 77.6L190.3 71.0L191.4 72.0L191.5 66.2L187.6 70.5L189.1 70.5L186.4 77.0ZM187.7 99.5L190.1 93.9L191.1 95.0L191.4 89.1L187.3 93.3L188.8 93.3L186.4 98.9ZM187.6 121.4L189.8 116.8L190.8 117.9L191.3 112.1L187.1 116.2L188.6 116.2L186.4 120.8ZM187.6 143.3L189.3 140.1L190.3 141.3L191.0 135.5L186.6 139.4L188.1 139.5L186.4 142.7ZM187.6 165.2L188.9 163.0L189.8 164.2L190.8 158.4L186.3 162.1L187.8 162.3L186.5 164.6ZM187.6 187.2L188.5 185.8L189.3 187.1L190.6 181.4L185.9 184.8L187.4 185.1L186.5 186.4ZM187.5 209.1L187.9 208.6L188.5 209.8L190.0 204.7L185.5 207.6L186.9 207.9L186.5 208.3ZM187.5 231.0L187.8 230.6L188.3 231.7L190.0 227.2L185.8 229.5L186.9 229.9L186.6 230.2ZM187.4 252.9L187.8 252.5L188.2 253.7L190.2 249.3L185.9 251.3L187.0 251.8L186.7 252.1ZM187.5 274.9L189.1 273.6L189.5 275.0L192.5 270.0L186.9 271.9L188.2 272.6L186.6 273.9ZM187.4 296.9L190.5 295.1L190.7 296.6L194.4 292.1L188.6 293.0L189.8 293.9L186.7 295.7ZM203.2 55.7L205.9 49.1L206.9 50.1L207.1 44.3L203.1 48.6L204.6 48.6L202.0 55.1ZM203.2 77.6L205.9 71.5L206.9 72.6L207.2 66.8L203.1 71.0L204.6 71.0L202.0 77.0ZM203.2 99.5L205.8 94.0L206.8 95.1L207.3 89.3L203.1 93.4L204.6 93.4L202.0 98.9ZM203.2 121.4L205.8 116.4L206.7 117.6L207.4 111.8L203.1 115.7L204.6 115.8L202.0 120.8ZM203.2 143.3L205.5 139.3L206.4 140.5L207.3 134.8L202.8 138.5L204.3 138.7L202.0 142.7ZM203.2 165.3L205.1 162.2L205.9 163.5L207.2 157.7L202.5 161.3L204.0 161.5L202.0 164.5ZM203.1 187.2L204.4 185.5L205.1 186.8L206.7 181.1L201.8 184.4L203.3 184.7L202.1 186.4ZM203.1 209.1L204.5 207.5L205.1 208.9L207.1 203.3L202.0 206.2L203.4 206.7L202.1 208.3ZM203.1 231.1L203.8 230.3L204.4 231.7L206.8 226.3L201.5 228.8L202.9 229.3L202.1 230.1ZM203.0 253.0L204.2 252.0L204.7 253.4L207.5 248.2L202.0 250.3L203.4 250.9L202.2 252.0ZM203.0 274.9L206.3 272.6L206.6 274.0L209.9 269.2L204.3 270.7L205.5 271.5L202.2 273.9ZM202.9 296.9L206.5 294.8L206.7 296.3L210.4 291.8L204.6 292.8L205.8 293.7L202.3 295.7ZM218.8 55.7L221.8 48.7L222.8 49.8L223.2 43.9L219.1 48.2L220.6 48.2L217.5 55.1ZM218.8 77.6L221.8 71.2L222.8 72.3L223.3 66.4L219.1 70.5L220.6 70.6L217.5 77.0ZM218.8 99.5L221.5 94.1L222.5 95.2L223.2 89.4L218.8 93.4L220.3 93.5L217.6 98.9ZM218.7 121.4L221.5 116.5L222.4 117.7L223.3 111.9L218.8 115.7L220.3 115.9L217.6 120.8ZM218.7 143.4L221.4 139.0L222.3 140.2L223.4 134.5L218.8 138.1L220.3 138.3L217.6 142.6ZM218.7 165.3L221.0 161.9L221.8 163.2L223.3 157.5L218.5 160.9L219.9 161.1L217.6 164.5ZM218.7 187.2L220.6 184.8L221.3 186.1L223.1 180.5L218.1 183.6L219.5 183.9L217.6 186.4ZM218.7 209.1L220.4 207.2L221.0 208.6L223.1 203.1L218.0 205.8L219.4 206.3L217.7 208.3ZM218.6 231.1L220.9 228.9L221.4 230.3L223.9 225.0L218.5 227.4L219.9 228.0L217.7 230.1ZM218.6 253.0L221.8 250.4L222.2 251.9L225.1 246.8L219.6 248.7L220.9 249.4L217.7 252.0ZM218.5 275.0L223.2 271.8L223.5 273.3L226.9 268.5L221.2 269.9L222.4 270.7L217.8 273.8ZM218.5 296.9L221.6 295.1L221.8 296.6L225.5 292.1L219.7 293.0L220.9 293.9L217.8 295.7ZM234.3 77.6L238.0 70.4L238.9 71.5L239.6 65.7L235.3 69.7L236.8 69.8L233.1 77.0ZM234.3 99.5L237.5 93.7L238.4 94.9L239.2 89.1L234.8 93.0L236.3 93.1L233.1 98.9ZM234.3 121.4L237.4 116.2L238.3 117.4L239.4 111.7L234.8 115.3L236.3 115.5L233.1 120.8ZM234.3 143.4L237.4 138.7L238.2 140.0L239.5 134.2L234.8 137.7L236.2 138.0L233.2 142.6ZM234.3 165.3L237.0 161.6L237.7 162.9L239.3 157.2L234.4 160.5L235.9 160.8L233.2 164.5ZM234.2 187.2L236.5 184.5L237.2 185.8L239.1 180.3L234.1 183.2L235.5 183.6L233.2 186.4ZM234.2 209.2L236.7 206.5L237.3 207.9L239.6 202.5L234.3 205.1L235.7 205.6L233.2 208.2ZM234.2 231.1L237.2 228.3L237.7 229.7L240.4 224.5L234.9 226.7L236.3 227.3L233.3 230.1ZM234.1 253.0L238.5 249.6L238.9 251.0L242.0 246.0L236.4 247.8L237.7 248.5L233.3 252.0ZM234.1 275.0L239.6 271.3L239.9 272.8L243.3 268.1L237.6 269.4L238.9 270.2L233.4 273.8ZM234.1 296.9L235.0 296.3L235.2 297.8L238.9 293.3L233.1 294.3L234.3 295.2L233.4 295.7ZM249.9 99.5L253.2 93.8L254.1 95.0L255.1 89.3L250.5 93.0L252.0 93.2L248.7 98.9ZM249.8 121.5L253.1 116.3L254.0 117.6L255.2 111.8L250.5 115.4L252.0 115.6L248.7 120.7ZM249.8 143.4L253.3 138.4L254.1 139.7L255.6 134.0L250.8 137.3L252.2 137.6L248.7 142.6ZM249.8 165.3L252.9 161.3L253.7 162.6L255.4 157.0L250.4 160.1L251.9 160.5L248.7 164.5ZM249.8 187.2L252.8 183.8L253.5 185.1L255.5 179.6L250.4 182.4L251.8 182.9L248.8 186.4ZM249.8 209.2L253.0 205.9L253.6 207.3L256.0 202.0L250.6 204.4L252.0 205.0L248.8 208.2ZM249.7 231.1L253.9 227.4L254.4 228.8L257.2 223.7L251.7 225.8L253.0 226.4L248.8 230.1ZM249.7 253.0L255.4 248.8L255.7 250.2L258.9 245.3L253.2 247.0L254.5 247.7L248.9 252.0ZM249.6 275.0L255.6 271.2L255.9 272.6L259.4 268.0L253.7 269.2L254.9 270.0L248.9 273.8ZM249.4 295.8L248.9 295.7L249.6 294.6L244.8 295.5L249.0 298.0L248.7 296.8L249.2 296.8ZM265.4 99.6L269.1 93.5L270.0 94.7L271.1 89.0L266.5 92.6L268.0 92.8L264.3 98.8ZM265.4 121.5L269.1 116.0L269.9 117.3L271.3 111.6L266.5 115.0L268.0 115.3L264.3 120.7ZM265.4 143.4L269.3 138.1L270.1 139.4L271.7 133.8L266.8 137.0L268.2 137.3L264.3 142.6ZM265.4 165.3L269.2 160.6L269.9 162.0L271.8 156.4L266.7 159.3L268.2 159.8L264.3 164.5ZM265.3 187.3L269.1 183.1L269.7 184.5L271.9 179.1L266.7 181.7L268.1 182.2L264.3 186.3ZM265.3 209.2L269.7 205.0L270.2 206.4L272.8 201.1L267.4 203.4L268.8 204.0L264.4 208.2ZM265.3 231.1L270.7 226.5L271.1 228.0L274.0 222.9L268.5 224.8L269.8 225.5L264.4 230.1ZM265.2 253.0L271.8 248.3L272.1 249.7L275.3 244.8L269.7 246.4L271.0 247.2L264.4 252.0ZM265.2 275.0L271.7 271.0L271.9 272.4L275.5 267.8L269.7 269.0L270.9 269.8L264.5 273.8ZM264.9 295.8L264.5 295.7L265.1 294.6L260.4 295.5L264.5 298.0L264.3 296.8L264.7 296.8ZM281.0 121.5L285.6 114.9L286.4 116.2L287.9 110.5L283.1 113.8L284.5 114.1L279.8 120.7ZM280.9 143.4L285.6 137.4L286.3 138.7L288.1 133.1L283.1 136.2L284.5 136.6L279.9 142.6ZM280.9 165.3L285.6 160.0L286.2 161.3L288.2 155.8L283.1 158.6L284.5 159.1L279.9 164.5ZM280.9 187.3L285.8 182.2L286.4 183.5L288.7 178.2L283.4 180.7L284.8 181.2L279.9 186.3ZM280.9 209.2L286.4 204.0L286.9 205.5L289.6 200.2L284.2 202.4L285.5 203.0L279.9 208.2ZM280.8 231.1L287.1 226.0L287.5 227.5L290.5 222.4L284.9 224.3L286.3 225.0L280.0 230.1ZM280.8 253.1L287.8 248.1L288.1 249.6L291.4 244.7L285.7 246.2L287.0 247.0L280.0 251.9ZM280.8 275.0L287.2 271.0L287.4 272.5L291.1 267.9L285.3 269.0L286.5 269.9L280.0 273.8ZM280.5 295.8L280.0 295.7L280.7 294.6L276.0 295.5L280.1 298.0L279.8 296.8L280.3 296.8ZM296.5 143.4L302.2 136.4L302.9 137.7L304.8 132.2L299.8 135.1L301.2 135.5L295.4 142.6ZM296.5 165.4L301.9 159.3L302.5 160.7L304.7 155.2L299.5 158.0L300.9 158.4L295.5 164.4ZM296.4 187.3L302.2 181.6L302.7 183.0L305.2 177.6L299.8 180.1L301.2 180.6L295.5 186.3ZM296.4 209.2L302.8 203.5L303.3 204.9L306.0 199.7L300.6 201.9L301.9 202.5L295.5 208.2ZM296.4 231.1L303.1 225.8L303.5 227.3L306.6 222.3L301.0 224.0L302.3 224.8L295.5 230.1ZM296.3 253.1L303.4 248.2L303.7 249.6L307.1 244.8L301.4 246.3L302.7 247.1L295.6 251.9ZM296.3 275.0L302.4 271.3L302.6 272.8L306.3 268.2L300.5 269.3L301.7 270.2L295.6 273.8ZM296.1 295.8L295.6 295.7L296.3 294.6L291.5 295.5L295.7 298.0L295.4 296.8L295.9 296.8ZM312.0 165.4L318.9 158.0L319.5 159.4L321.8 154.0L316.5 156.6L317.9 157.1L311.0 164.4ZM312.0 187.3L318.6 181.0L319.1 182.4L321.6 177.1L316.2 179.4L317.6 180.0L311.1 186.3ZM312.0 209.2L318.9 203.3L319.3 204.7L322.1 199.6L316.6 201.6L318.0 202.3L311.1 208.2ZM311.9 231.1L318.8 225.9L319.1 227.4L322.2 222.4L316.6 224.1L317.9 224.8L311.1 230.1ZM311.9 253.1L319.0 248.3L319.3 249.7L322.7 245.0L317.0 246.3L318.3 247.1L311.1 251.9ZM311.9 275.0L318.0 271.4L318.2 272.9L321.9 268.3L316.1 269.3L317.3 270.2L311.2 273.8ZM311.6 295.8L311.1 295.7L311.8 294.6L307.1 295.5L311.2 298.0L310.9 296.8L311.4 296.8ZM327.5 187.3L334.2 181.1L334.7 182.5L337.3 177.3L331.9 179.5L333.3 180.1L326.6 186.3ZM327.5 209.2L334.5 203.4L334.9 204.8L337.8 199.7L332.3 201.7L333.6 202.4L326.6 208.2ZM327.5 231.1L334.8 225.7L335.1 227.2L338.3 222.2L332.7 223.9L334.0 224.6L326.7 230.1ZM327.5 253.1L334.2 248.6L334.5 250.1L337.9 245.3L332.2 246.7L333.5 247.5L326.7 251.9ZM327.4 275.0L333.1 271.7L333.3 273.2L337.0 268.6L331.2 269.6L332.5 270.5L326.7 273.8ZM327.2 295.8L326.7 295.7L327.4 294.6L322.6 295.5L326.8 298.0L326.5 296.8L327.0 296.8ZM343.0 231.1L349.2 226.7L349.5 228.1L352.8 223.3L347.1 224.8L348.4 225.6L342.2 230.1ZM343.0 253.1L349.0 249.2L349.2 250.7L352.7 246.0L347.0 247.3L348.2 248.1L342.3 251.9ZM343.0 275.0L348.3 272.0L348.4 273.5L352.2 269.0L346.4 269.9L347.6 270.8L342.3 273.8ZM342.7 295.8L342.3 295.7L342.9 294.6L338.2 295.5L342.3 298.0L342.1 296.8L342.5 296.8Z" fill="#000"/>
<path d="M280.5 34.0L331.7 34.0L331.2 35.3L337.0 33.5L331.2 31.6L331.7 32.9L280.5 32.9Z" fill="#000"/>
<text x="315.3" y="28.9" class="t1" style="font-size:9px" text-anchor="middle">1000 km s<tspan dy="-3.3" font-size="6.5">−1</tspan></text>
<rect x="34.85" y="0.50" width="318.90" height="318.35" fill="none" stroke="#222" stroke-width="1"/>
<path d="M35.00 318.60v-3.2M35.00 0.40v3.2M35.00 318.60h3.2M354.00 318.60h-3.2M115.50 318.60v-3.2M115.50 0.40v3.2M35.00 238.10h3.2M354.00 238.10h-3.2M196.00 318.60v-3.2M196.00 0.40v3.2M35.00 157.60h3.2M354.00 157.60h-3.2M276.50 318.60v-3.2M276.50 0.40v3.2M35.00 77.10h3.2M354.00 77.10h-3.2" stroke="#000" stroke-width="0.5" fill="none"/>
<text x="35.0" y="328.5" class="t1" text-anchor="middle">0.0</text>
<text x="31.5" y="321.6" class="t1" text-anchor="end">0.0</text>
<text x="115.5" y="328.5" class="t1" text-anchor="middle">0.5</text>
<text x="31.5" y="241.1" class="t1" text-anchor="end">0.5</text>
<text x="196.0" y="328.5" class="t1" text-anchor="middle">1.0</text>
<text x="31.5" y="160.6" class="t1" text-anchor="end">1.0</text>
<text x="276.5" y="328.5" class="t1" text-anchor="middle">1.5</text>
<text x="31.5" y="80.1" class="t1" text-anchor="end">1.5</text>
<text x="195.5" y="340.6" class="t1" style="font-size:10px" text-anchor="middle"><tspan font-style="italic">ω</tspan>/R<tspan dy="1.8" font-size="7">ic</tspan></text>
<text transform="translate(12.0 160.5) rotate(-90)" class="t1" style="font-size:10px" text-anchor="middle">z/R<tspan dy="1.8" font-size="7">ic</tspan></text>
<defs><linearGradient id="acb" x1="0" x2="1" y1="0" y2="0"><stop offset="0.000" stop-color="#000080"/><stop offset="0.031" stop-color="#0000a4"/><stop offset="0.062" stop-color="#0000c8"/><stop offset="0.094" stop-color="#0000ed"/><stop offset="0.125" stop-color="#0000ff"/><stop offset="0.156" stop-color="#0020ff"/><stop offset="0.188" stop-color="#0040ff"/><stop offset="0.219" stop-color="#0060ff"/><stop offset="0.250" stop-color="#0080ff"/><stop offset="0.281" stop-color="#00a0ff"/><stop offset="0.312" stop-color="#00c0ff"/><stop offset="0.344" stop-color="#00e0fb"/><stop offset="0.375" stop-color="#16ffe1"/><stop offset="0.406" stop-color="#30ffc7"/><stop offset="0.438" stop-color="#49ffad"/><stop offset="0.469" stop-color="#63ff94"/><stop offset="0.500" stop-color="#7dff7a"/><stop offset="0.531" stop-color="#97ff60"/><stop offset="0.562" stop-color="#b1ff46"/><stop offset="0.594" stop-color="#caff2c"/><stop offset="0.625" stop-color="#e4ff13"/><stop offset="0.656" stop-color="#feed00"/><stop offset="0.688" stop-color="#ffd000"/><stop offset="0.719" stop-color="#ffb200"/><stop offset="0.750" stop-color="#ff9400"/><stop offset="0.781" stop-color="#ff7700"/><stop offset="0.812" stop-color="#ff5900"/><stop offset="0.844" stop-color="#ff3b00"/><stop offset="0.875" stop-color="#ff1e00"/><stop offset="0.906" stop-color="#e80000"/><stop offset="0.938" stop-color="#c40000"/><stop offset="0.969" stop-color="#9f0000"/><stop offset="1.000" stop-color="#800000"/></linearGradient></defs>
<rect x="48.8" y="358" width="291.4" height="14.6" fill="url(#acb)"/>
<path d="M35 365.3L49.3 358L49.3 372.6Z" fill="#000080"/>
<path d="M354 365.3L339.7 358L339.7 372.6Z" fill="#800000"/>
<path d="M35 365.3L49.3 358L339.7 358L354 365.3L339.7 372.6L49.3 372.6Z" fill="none" stroke="#000" stroke-width="0.7"/>
<text x="49.3" y="382.3" class="t1" text-anchor="middle">-18.0</text>
<text x="90.8" y="382.3" class="t1" text-anchor="middle">-17.0</text>
<text x="132.3" y="382.3" class="t1" text-anchor="middle">-16.0</text>
<text x="173.8" y="382.3" class="t1" text-anchor="middle">-15.0</text>
<text x="215.2" y="382.3" class="t1" text-anchor="middle">-14.0</text>
<text x="256.7" y="382.3" class="t1" text-anchor="middle">-13.0</text>
<text x="298.2" y="382.3" class="t1" text-anchor="middle">-12.0</text>
<text x="339.7" y="382.3" class="t1" text-anchor="middle">-11.0</text>
<path d="M49.30 372.60v-3M90.79 372.60v-3M132.27 372.60v-3M173.76 372.60v-3M215.24 372.60v-3M256.73 372.60v-3M298.21 372.60v-3M339.70 372.60v-3" stroke="#000" stroke-width="0.5"/>
<text x="194.5" y="395.8" class="t1" style="font-size:9px" text-anchor="middle">Density (g cm<tspan dy="-3.3" font-size="6.5">−3</tspan><tspan dy="3.3">)</tspan></text>
<defs><radialGradient id="br" gradientUnits="userSpaceOnUse" cx="418.8" cy="321.5" r="318.5"/><radialGradient id="b0" href="#br"><stop offset="0.0253" stop-color="#000080"/><stop offset="0.0404" stop-color="#000080"/><stop offset="0.0607" stop-color="#000080"/><stop offset="0.091" stop-color="#000080"/><stop offset="0.131" stop-color="#000080"/><stop offset="0.182" stop-color="#000080"/><stop offset="0.253" stop-color="#000080"/><stop offset="0.329" stop-color="#000080"/><stop offset="0.404" stop-color="#000080"/><stop offset="0.505" stop-color="#000080"/><stop offset="0.632" stop-color="#000080"/><stop offset="0.758" stop-color="#000080"/><stop offset="0.885" stop-color="#000080"/><stop offset="1" stop-color="#000080"/></radialGradient><radialGradient id="b1" href="#br"><stop offset="0.0253" stop-color="#000080"/><stop offset="0.0404" stop-color="#000080"/><stop offset="0.0607" stop-color="#000080"/><stop offset="0.091" stop-color="#000080"/><stop offset="0.131" stop-color="#000080"/><stop offset="0.182" stop-color="#000080"/><stop offset="0.253" stop-color="#000080"/><stop offset="0.329" stop-color="#000080"/><stop offset="0.404" stop-color="#000080"/><stop offset="0.505" stop-color="#000080"/><stop offset="0.632" stop-color="#000080"/><stop offset="0.758" stop-color="#000080"/><stop offset="0.885" stop-color="#000080"/><stop offset="1" stop-color="#000080"/></radialGradient><radialGradient id="b2" href="#br"><stop offset="0.0253" stop-color="#000080"/><stop offset="0.0404" stop-color="#000080"/><stop offset="0.0607" stop-color="#000080"/><stop offset="0.091" stop-color="#000080"/><stop offset="0.131" stop-color="#000080"/><stop offset="0.182" stop-color="#000080"/><stop offset="0.253" stop-color="#000080"/><stop offset="0.329" stop-color="#000080"/><stop offset="0.404" stop-color="#000080"/><stop offset="0.505" stop-color="#000080"/><stop offset="0.632" stop-color="#000080"/><stop offset="0.758" stop-color="#000080"/><stop offset="0.885" stop-color="#000080"/><stop offset="1" stop-color="#000080"/></radialGradient><radialGradient id="b3" href="#br"><stop offset="0.0253" stop-color="#000080"/><stop offset="0.0404" stop-color="#000080"/><stop offset="0.0607" stop-color="#000080"/><stop offset="0.091" stop-color="#000080"/><stop offset="0.131" stop-color="#000080"/><stop offset="0.182" stop-color="#000080"/><stop offset="0.253" stop-color="#000080"/><stop offset="0.329" stop-color="#000080"/><stop offset="0.404" stop-color="#000080"/><stop offset="0.505" stop-color="#000080"/><stop offset="0.632" stop-color="#000080"/><stop offset="0.758" stop-color="#000080"/><stop offset="0.885" stop-color="#000080"/><stop offset="1" stop-color="#000080"/></radialGradient><radialGradient id="b4" href="#br"><stop offset="0.0253" stop-color="#000080"/><stop offset="0.0404" stop-color="#000080"/><stop offset="0.0607" stop-color="#000080"/><stop offset="0.091" stop-color="#000080"/><stop offset="0.131" stop-color="#000080"/><stop offset="0.182" stop-color="#000080"/><stop offset="0.253" stop-color="#000080"/><stop offset="0.329" stop-color="#000080"/><stop offset="0.404" stop-color="#000080"/><stop offset="0.505" stop-color="#000080"/><stop offset="0.632" stop-color="#000080"/><stop offset="0.758" stop-color="#000080"/><stop offset="0.885" stop-color="#000080"/><stop offset="1" stop-color="#000080"/></radialGradient><radialGradient id="b5" href="#br"><stop offset="0.0253" stop-color="#000080"/><stop offset="0.0404" stop-color="#000080"/><stop offset="0.0607" stop-color="#000080"/><stop offset="0.091" stop-color="#000080"/><stop offset="0.131" stop-color="#000080"/><stop offset="0.182" stop-color="#000080"/><stop offset="0.253" stop-color="#000080"/><stop offset="0.329" stop-color="#000080"/><stop offset="0.404" stop-color="#000080"/><stop offset="0.505" stop-color="#000080"/><stop offset="0.632" stop-color="#000080"/><stop offset="0.758" stop-color="#000080"/><stop offset="0.885" stop-color="#000080"/><stop offset="1" stop-color="#000092"/></radialGradient><radialGradient id="b6" href="#br"><stop offset="0.0253" stop-color="#000080"/><stop offset="0.0404" stop-color="#000080"/><stop offset="0.0607" stop-color="#000080"/><stop offset="0.091" stop-color="#000080"/><stop offset="0.131" stop-color="#000080"/><stop offset="0.182" stop-color="#000080"/><stop offset="0.253" stop-color="#000080"/><stop offset="0.329" stop-color="#000080"/><stop offset="0.404" stop-color="#000080"/><stop offset="0.505" stop-color="#000080"/><stop offset="0.632" stop-color="#000080"/><stop offset="0.758" stop-color="#000080"/><stop offset="0.885" stop-color="#000080"/><stop offset="1" stop-color="#00008d"/></radialGradient><radialGradient id="b7" href="#br"><stop offset="0.0253" stop-color="#000080"/><stop offset="0.0404" stop-color="#000080"/><stop offset="0.0607" stop-color="#000080"/><stop offset="0.091" stop-color="#000080"/><stop offset="0.131" stop-color="#000080"/><stop offset="0.182" stop-color="#000080"/><stop offset="0.253" stop-color="#000080"/><stop offset="0.329" stop-color="#000080"/><stop offset="0.404" stop-color="#000080"/><stop offset="0.505" stop-color="#000080"/><stop offset="0.632" stop-color="#000080"/><stop offset="0.758" stop-color="#000080"/><stop offset="0.885" stop-color="#000080"/><stop offset="1" stop-color="#000089"/></radialGradient><radialGradient id="b8" href="#br"><stop offset="0.0253" stop-color="#000080"/><stop offset="0.0404" stop-color="#000080"/><stop offset="0.0607" stop-color="#000080"/><stop offset="0.091" stop-color="#000080"/><stop offset="0.131" stop-color="#000080"/><stop offset="0.182" stop-color="#000080"/><stop offset="0.253" stop-color="#000080"/><stop offset="0.329" stop-color="#000080"/><stop offset="0.404" stop-color="#000080"/><stop offset="0.505" stop-color="#000080"/><stop offset="0.632" stop-color="#000080"/><stop offset="0.758" stop-color="#000080"/><stop offset="0.885" stop-color="#000080"/><stop offset="1" stop-color="#000089"/></radialGradient><radialGradient id="b9" href="#br"><stop offset="0.0253" stop-color="#000080"/><stop offset="0.0404" stop-color="#000080"/><stop offset="0.0607" stop-color="#000080"/><stop offset="0.091" stop-color="#000080"/><stop offset="0.131" stop-color="#000080"/><stop offset="0.182" stop-color="#000080"/><stop offset="0.253" stop-color="#000080"/><stop offset="0.329" stop-color="#000080"/><stop offset="0.404" stop-color="#000080"/><stop offset="0.505" stop-color="#000080"/><stop offset="0.632" stop-color="#000080"/><stop offset="0.758" stop-color="#000080"/><stop offset="0.885" stop-color="#000080"/><stop offset="1" stop-color="#000084"/></radialGradient><radialGradient id="b10" href="#br"><stop offset="0.0253" stop-color="#000080"/><stop offset="0.0404" stop-color="#000080"/><stop offset="0.0607" stop-color="#000080"/><stop offset="0.091" stop-color="#000080"/><stop offset="0.131" stop-color="#000080"/><stop offset="0.182" stop-color="#000080"/><stop offset="0.253" stop-color="#000080"/><stop offset="0.329" stop-color="#000080"/><stop offset="0.404" stop-color="#000080"/><stop offset="0.505" stop-color="#000080"/><stop offset="0.632" stop-color="#000080"/><stop offset="0.758" stop-color="#000080"/><stop offset="0.885" stop-color="#000080"/><stop offset="1" stop-color="#000084"/></radialGradient><radialGradient id="b11" href="#br"><stop offset="0.0253" stop-color="#000080"/><stop offset="0.0404" stop-color="#000080"/><stop offset="0.0607" stop-color="#000080"/><stop offset="0.091" stop-color="#000080"/><stop offset="0.131" stop-color="#000080"/><stop offset="0.182" stop-color="#000080"/><stop offset="0.253" stop-color="#000080"/><stop offset="0.329" stop-color="#000080"/><stop offset="0.404" stop-color="#000080"/><stop offset="0.505" stop-color="#000080"/><stop offset="0.632" stop-color="#000080"/><stop offset="0.758" stop-color="#000080"/><stop offset="0.885" stop-color="#000080"/><stop offset="1" stop-color="#000084"/></radialGradient><radialGradient id="b12" href="#br"><stop offset="0.0253" stop-color="#000080"/><stop offset="0.0404" stop-color="#000080"/><stop offset="0.0607" stop-color="#000080"/><stop offset="0.091" stop-color="#000080"/><stop offset="0.131" stop-color="#000080"/><stop offset="0.182" stop-color="#000080"/><stop offset="0.253" stop-color="#000080"/><stop offset="0.329" stop-color="#000080"/><stop offset="0.404" stop-color="#000080"/><stop offset="0.505" stop-color="#000080"/><stop offset="0.632" stop-color="#000080"/><stop offset="0.758" stop-color="#00009b"/><stop offset="0.885" stop-color="#00009f"/><stop offset="1" stop-color="#0000e3"/></radialGradient><radialGradient id="b13" href="#br"><stop offset="0.0253" stop-color="#000080"/><stop offset="0.0404" stop-color="#000080"/><stop offset="0.0607" stop-color="#000080"/><stop offset="0.091" stop-color="#000080"/><stop offset="0.131" stop-color="#000080"/><stop offset="0.182" stop-color="#000080"/><stop offset="0.253" stop-color="#000080"/><stop offset="0.329" stop-color="#000080"/><stop offset="0.404" stop-color="#000080"/><stop offset="0.505" stop-color="#000080"/><stop offset="0.632" stop-color="#00009f"/><stop offset="0.758" stop-color="#0000fa"/><stop offset="0.885" stop-color="#0000fa"/><stop offset="1" stop-color="#0024ff"/></radialGradient><radialGradient id="b14" href="#br"><stop offset="0.0253" stop-color="#000080"/><stop offset="0.0404" stop-color="#000080"/><stop offset="0.0607" stop-color="#000080"/><stop offset="0.091" stop-color="#000080"/><stop offset="0.131" stop-color="#000080"/><stop offset="0.182" stop-color="#000080"/><stop offset="0.253" stop-color="#000080"/><stop offset="0.329" stop-color="#000080"/><stop offset="0.404" stop-color="#000080"/><stop offset="0.505" stop-color="#000080"/><stop offset="0.632" stop-color="#0000ed"/><stop offset="0.758" stop-color="#0044ff"/><stop offset="0.885" stop-color="#0034ff"/><stop offset="1" stop-color="#0064ff"/></radialGradient><radialGradient id="b15" href="#br"><stop offset="0.0253" stop-color="#000080"/><stop offset="0.0404" stop-color="#000080"/><stop offset="0.0607" stop-color="#000080"/><stop offset="0.091" stop-color="#000080"/><stop offset="0.131" stop-color="#000080"/><stop offset="0.182" stop-color="#000080"/><stop offset="0.253" stop-color="#000080"/><stop offset="0.329" stop-color="#000080"/><stop offset="0.404" stop-color="#000080"/><stop offset="0.505" stop-color="#0000bf"/><stop offset="0.632" stop-color="#002cff"/><stop offset="0.758" stop-color="#0084ff"/><stop offset="0.885" stop-color="#0080ff"/><stop offset="1" stop-color="#0090ff"/></radialGradient><radialGradient id="b16" href="#br"><stop offset="0.0253" stop-color="#000080"/><stop offset="0.0404" stop-color="#000080"/><stop offset="0.0607" stop-color="#000080"/><stop offset="0.091" stop-color="#000080"/><stop offset="0.131" stop-color="#000080"/><stop offset="0.182" stop-color="#00009b"/><stop offset="0.253" stop-color="#000096"/><stop offset="0.329" stop-color="#00008d"/><stop offset="0.404" stop-color="#00009f"/><stop offset="0.505" stop-color="#0000ff"/><stop offset="0.632" stop-color="#006cff"/><stop offset="0.758" stop-color="#00a0ff"/><stop offset="0.885" stop-color="#0098ff"/><stop offset="1" stop-color="#00acff"/></radialGradient><radialGradient id="b17" href="#br"><stop offset="0.0253" stop-color="#000080"/><stop offset="0.0404" stop-color="#000080"/><stop offset="0.0607" stop-color="#000080"/><stop offset="0.091" stop-color="#000080"/><stop offset="0.131" stop-color="#000080"/><stop offset="0.182" stop-color="#0000bb"/><stop offset="0.253" stop-color="#0000bf"/><stop offset="0.329" stop-color="#0000bf"/><stop offset="0.404" stop-color="#0000da"/><stop offset="0.505" stop-color="#0034ff"/><stop offset="0.632" stop-color="#0090ff"/><stop offset="0.758" stop-color="#00b8ff"/><stop offset="0.885" stop-color="#00b4ff"/><stop offset="1" stop-color="#00c4ff"/></radialGradient><radialGradient id="b18" href="#br"><stop offset="0.0253" stop-color="#000080"/><stop offset="0.0404" stop-color="#000080"/><stop offset="0.0607" stop-color="#000080"/><stop offset="0.091" stop-color="#000080"/><stop offset="0.131" stop-color="#000080"/><stop offset="0.182" stop-color="#0000da"/><stop offset="0.253" stop-color="#0000e3"/><stop offset="0.329" stop-color="#0000ed"/><stop offset="0.404" stop-color="#0000ff"/><stop offset="0.505" stop-color="#0070ff"/><stop offset="0.632" stop-color="#00acff"/><stop offset="0.758" stop-color="#00d0ff"/><stop offset="0.885" stop-color="#00ccff"/><stop offset="1" stop-color="#00e0fb"/></radialGradient><radialGradient id="b19" href="#br"><stop offset="0.0253" stop-color="#000080"/><stop offset="0.0404" stop-color="#000080"/><stop offset="0.0607" stop-color="#000080"/><stop offset="0.091" stop-color="#000080"/><stop offset="0.131" stop-color="#000080"/><stop offset="0.182" stop-color="#0000fa"/><stop offset="0.253" stop-color="#0000ff"/><stop offset="0.329" stop-color="#0010ff"/><stop offset="0.404" stop-color="#003cff"/><stop offset="0.505" stop-color="#0094ff"/><stop offset="0.632" stop-color="#00ccff"/><stop offset="0.758" stop-color="#06ecf1"/><stop offset="0.885" stop-color="#00e4f8"/><stop offset="1" stop-color="#09f0ee"/></radialGradient><radialGradient id="b20" href="#br"><stop offset="0.0253" stop-color="#000080"/><stop offset="0.0404" stop-color="#000080"/><stop offset="0.0607" stop-color="#000080"/><stop offset="0.091" stop-color="#000080"/><stop offset="0.131" stop-color="#000080"/><stop offset="0.182" stop-color="#0010ff"/><stop offset="0.253" stop-color="#0028ff"/><stop offset="0.329" stop-color="#0044ff"/><stop offset="0.404" stop-color="#0074ff"/><stop offset="0.505" stop-color="#00b0ff"/><stop offset="0.632" stop-color="#02e8f4"/><stop offset="0.758" stop-color="#0cf4eb"/><stop offset="0.885" stop-color="#0cf4eb"/><stop offset="1" stop-color="#0ff8e7"/></radialGradient><radialGradient id="b21" href="#br"><stop offset="0.0253" stop-color="#000080"/><stop offset="0.0404" stop-color="#000080"/><stop offset="0.0607" stop-color="#000080"/><stop offset="0.091" stop-color="#000080"/><stop offset="0.131" stop-color="#000080"/><stop offset="0.182" stop-color="#0034ff"/><stop offset="0.253" stop-color="#0050ff"/><stop offset="0.329" stop-color="#0074ff"/><stop offset="0.404" stop-color="#0094ff"/><stop offset="0.505" stop-color="#00ccff"/><stop offset="0.632" stop-color="#0cf4eb"/><stop offset="0.758" stop-color="#0ff8e7"/><stop offset="0.885" stop-color="#0ff8e7"/><stop offset="1" stop-color="#16ffe1"/></radialGradient><radialGradient id="b22" href="#br"><stop offset="0.0253" stop-color="#000080"/><stop offset="0.0404" stop-color="#000080"/><stop offset="0.0607" stop-color="#000080"/><stop offset="0.091" stop-color="#000080"/><stop offset="0.131" stop-color="#00008d"/><stop offset="0.182" stop-color="#0054ff"/><stop offset="0.253" stop-color="#0078ff"/><stop offset="0.329" stop-color="#0090ff"/><stop offset="0.404" stop-color="#00acff"/><stop offset="0.505" stop-color="#00e4f8"/><stop offset="0.632" stop-color="#0ff8e7"/><stop offset="0.758" stop-color="#16ffe1"/><stop offset="0.885" stop-color="#16ffe1"/><stop offset="1" stop-color="#19ffde"/></radialGradient><radialGradient id="b23" href="#br"><stop offset="0.0253" stop-color="#000080"/><stop offset="0.0404" stop-color="#000080"/><stop offset="0.0607" stop-color="#000080"/><stop offset="0.091" stop-color="#000080"/><stop offset="0.131" stop-color="#0000a4"/><stop offset="0.182" stop-color="#0074ff"/><stop offset="0.253" stop-color="#0090ff"/><stop offset="0.329" stop-color="#00a8ff"/><stop offset="0.404" stop-color="#00c4ff"/><stop offset="0.505" stop-color="#0cf4eb"/><stop offset="0.632" stop-color="#16ffe1"/><stop offset="0.758" stop-color="#19ffde"/><stop offset="0.885" stop-color="#19ffde"/><stop offset="1" stop-color="#1fffd7"/></radialGradient><radialGradient id="b24" href="#br"><stop offset="0.0253" stop-color="#000080"/><stop offset="0.0404" stop-color="#000080"/><stop offset="0.0607" stop-color="#000080"/><stop offset="0.091" stop-color="#000080"/><stop offset="0.131" stop-color="#0000bf"/><stop offset="0.182" stop-color="#008cff"/><stop offset="0.253" stop-color="#00a8ff"/><stop offset="0.329" stop-color="#00c0ff"/><stop offset="0.404" stop-color="#00dcfe"/><stop offset="0.505" stop-color="#0ff8e7"/><stop offset="0.632" stop-color="#19ffde"/><stop offset="0.758" stop-color="#1fffd7"/><stop offset="0.885" stop-color="#1fffd7"/><stop offset="1" stop-color="#26ffd1"/></radialGradient><radialGradient id="b25" href="#br"><stop offset="0.0253" stop-color="#000080"/><stop offset="0.0404" stop-color="#000080"/><stop offset="0.0607" stop-color="#000080"/><stop offset="0.091" stop-color="#000080"/><stop offset="0.131" stop-color="#0000df"/><stop offset="0.182" stop-color="#00a0ff"/><stop offset="0.253" stop-color="#00bcff"/><stop offset="0.329" stop-color="#00d8ff"/><stop offset="0.404" stop-color="#09f0ee"/><stop offset="0.505" stop-color="#16ffe1"/><stop offset="0.632" stop-color="#1fffd7"/><stop offset="0.758" stop-color="#23ffd4"/><stop offset="0.885" stop-color="#23ffd4"/><stop offset="1" stop-color="#29ffce"/></radialGradient><radialGradient id="b26" href="#br"><stop offset="0.0253" stop-color="#000080"/><stop offset="0.0404" stop-color="#000080"/><stop offset="0.0607" stop-color="#000080"/><stop offset="0.091" stop-color="#000080"/><stop offset="0.131" stop-color="#0000ff"/><stop offset="0.182" stop-color="#00b0ff"/><stop offset="0.253" stop-color="#00d0ff"/><stop offset="0.329" stop-color="#06ecf1"/><stop offset="0.404" stop-color="#0cf4eb"/><stop offset="0.505" stop-color="#19ffde"/><stop offset="0.632" stop-color="#23ffd4"/><stop offset="0.758" stop-color="#26ffd1"/><stop offset="0.885" stop-color="#29ffce"/><stop offset="1" stop-color="#30ffc7"/></radialGradient><radialGradient id="b27" href="#br"><stop offset="0.0253" stop-color="#000080"/><stop offset="0.0404" stop-color="#000080"/><stop offset="0.0607" stop-color="#000080"/><stop offset="0.091" stop-color="#000080"/><stop offset="0.131" stop-color="#0020ff"/><stop offset="0.182" stop-color="#00c0ff"/><stop offset="0.253" stop-color="#00e4f8"/><stop offset="0.329" stop-color="#13fce4"/><stop offset="0.404" stop-color="#13fce4"/><stop offset="0.505" stop-color="#1fffd7"/><stop offset="0.632" stop-color="#26ffd1"/><stop offset="0.758" stop-color="#2cffca"/><stop offset="0.885" stop-color="#2cffca"/><stop offset="1" stop-color="#33ffc4"/></radialGradient><radialGradient id="b28" href="#br"><stop offset="0.0253" stop-color="#000080"/><stop offset="0.0404" stop-color="#000080"/><stop offset="0.0607" stop-color="#000080"/><stop offset="0.091" stop-color="#000080"/><stop offset="0.131" stop-color="#0064ff"/><stop offset="0.182" stop-color="#00d4ff"/><stop offset="0.253" stop-color="#0cf4eb"/><stop offset="0.329" stop-color="#19ffde"/><stop offset="0.404" stop-color="#16ffe1"/><stop offset="0.505" stop-color="#23ffd4"/><stop offset="0.632" stop-color="#2cffca"/><stop offset="0.758" stop-color="#30ffc7"/><stop offset="0.885" stop-color="#33ffc4"/><stop offset="1" stop-color="#39ffbe"/></radialGradient><radialGradient id="b29" href="#br"><stop offset="0.0253" stop-color="#000080"/><stop offset="0.0404" stop-color="#000080"/><stop offset="0.0607" stop-color="#000080"/><stop offset="0.091" stop-color="#000080"/><stop offset="0.131" stop-color="#00a8ff"/><stop offset="0.182" stop-color="#00e4f8"/><stop offset="0.253" stop-color="#19ffde"/><stop offset="0.329" stop-color="#1cffdb"/><stop offset="0.404" stop-color="#1cffdb"/><stop offset="0.505" stop-color="#29ffce"/><stop offset="0.632" stop-color="#30ffc7"/><stop offset="0.758" stop-color="#33ffc4"/><stop offset="0.885" stop-color="#36ffc1"/><stop offset="1" stop-color="#3cffba"/></radialGradient><radialGradient id="b30" href="#br"><stop offset="0.0253" stop-color="#000080"/><stop offset="0.0404" stop-color="#000080"/><stop offset="0.0607" stop-color="#000080"/><stop offset="0.091" stop-color="#000080"/><stop offset="0.131" stop-color="#00d0ff"/><stop offset="0.182" stop-color="#09f0ee"/><stop offset="0.253" stop-color="#23ffd4"/><stop offset="0.329" stop-color="#23ffd4"/><stop offset="0.404" stop-color="#1fffd7"/><stop offset="0.505" stop-color="#2cffca"/><stop offset="0.632" stop-color="#36ffc1"/><stop offset="0.758" stop-color="#39ffbe"/><stop offset="0.885" stop-color="#39ffbe"/><stop offset="1" stop-color="#43ffb4"/></radialGradient><radialGradient id="b31" href="#br"><stop offset="0.0253" stop-color="#000080"/><stop offset="0.0404" stop-color="#000080"/><stop offset="0.0607" stop-color="#000080"/><stop offset="0.091" stop-color="#000080"/><stop offset="0.131" stop-color="#00e0fb"/><stop offset="0.182" stop-color="#13fce4"/><stop offset="0.253" stop-color="#2cffca"/><stop offset="0.329" stop-color="#29ffce"/><stop offset="0.404" stop-color="#26ffd1"/><stop offset="0.505" stop-color="#33ffc4"/><stop offset="0.632" stop-color="#39ffbe"/><stop offset="0.758" stop-color="#3cffba"/><stop offset="0.885" stop-color="#40ffb7"/><stop offset="1" stop-color="#46ffb1"/></radialGradient><radialGradient id="b32" href="#br"><stop offset="0.0253" stop-color="#000080"/><stop offset="0.0404" stop-color="#000080"/><stop offset="0.0607" stop-color="#000080"/><stop offset="0.091" stop-color="#00008d"/><stop offset="0.131" stop-color="#00e0fb"/><stop offset="0.182" stop-color="#19ffde"/><stop offset="0.253" stop-color="#36ffc1"/><stop offset="0.329" stop-color="#30ffc7"/><stop offset="0.404" stop-color="#29ffce"/><stop offset="0.505" stop-color="#36ffc1"/><stop offset="0.632" stop-color="#3cffba"/><stop offset="0.758" stop-color="#40ffb7"/><stop offset="0.885" stop-color="#43ffb4"/><stop offset="1" stop-color="#49ffad"/></radialGradient><radialGradient id="b33" href="#br"><stop offset="0.0253" stop-color="#000080"/><stop offset="0.0404" stop-color="#000080"/><stop offset="0.0607" stop-color="#000080"/><stop offset="0.091" stop-color="#00009f"/><stop offset="0.131" stop-color="#00e0fb"/><stop offset="0.182" stop-color="#23ffd4"/><stop offset="0.253" stop-color="#40ffb7"/><stop offset="0.329" stop-color="#36ffc1"/><stop offset="0.404" stop-color="#2cffca"/><stop offset="0.505" stop-color="#39ffbe"/><stop offset="0.632" stop-color="#40ffb7"/><stop offset="0.758" stop-color="#43ffb4"/><stop offset="0.885" stop-color="#49ffad"/><stop offset="1" stop-color="#50ffa7"/></radialGradient><radialGradient id="b34" href="#br"><stop offset="0.0253" stop-color="#000080"/><stop offset="0.0404" stop-color="#000080"/><stop offset="0.0607" stop-color="#000080"/><stop offset="0.091" stop-color="#0000b6"/><stop offset="0.131" stop-color="#00e0fb"/><stop offset="0.182" stop-color="#29ffce"/><stop offset="0.253" stop-color="#46ffb1"/><stop offset="0.329" stop-color="#39ffbe"/><stop offset="0.404" stop-color="#33ffc4"/><stop offset="0.505" stop-color="#40ffb7"/><stop offset="0.632" stop-color="#46ffb1"/><stop offset="0.758" stop-color="#46ffb1"/><stop offset="0.885" stop-color="#4dffaa"/><stop offset="1" stop-color="#53ffa4"/></radialGradient><radialGradient id="b35" href="#br"><stop offset="0.0253" stop-color="#000080"/><stop offset="0.0404" stop-color="#000080"/><stop offset="0.0607" stop-color="#000080"/><stop offset="0.091" stop-color="#0000c8"/><stop offset="0.131" stop-color="#00e4f8"/><stop offset="0.182" stop-color="#33ffc4"/><stop offset="0.253" stop-color="#4dffaa"/><stop offset="0.329" stop-color="#40ffb7"/><stop offset="0.404" stop-color="#36ffc1"/><stop offset="0.505" stop-color="#43ffb4"/><stop offset="0.632" stop-color="#49ffad"/><stop offset="0.758" stop-color="#4dffaa"/><stop offset="0.885" stop-color="#50ffa7"/><stop offset="1" stop-color="#56ffa0"/></radialGradient><radialGradient id="b36" href="#br"><stop offset="0.0253" stop-color="#000080"/><stop offset="0.0404" stop-color="#000080"/><stop offset="0.0607" stop-color="#000080"/><stop offset="0.091" stop-color="#0000da"/><stop offset="0.131" stop-color="#00e4f8"/><stop offset="0.182" stop-color="#39ffbe"/><stop offset="0.253" stop-color="#50ffa7"/><stop offset="0.329" stop-color="#43ffb4"/><stop offset="0.404" stop-color="#39ffbe"/><stop offset="0.505" stop-color="#46ffb1"/><stop offset="0.632" stop-color="#4dffaa"/><stop offset="0.758" stop-color="#50ffa7"/><stop offset="0.885" stop-color="#53ffa4"/><stop offset="1" stop-color="#5dff9a"/></radialGradient><radialGradient id="b37" href="#br"><stop offset="0.0253" stop-color="#000080"/><stop offset="0.0404" stop-color="#000080"/><stop offset="0.0607" stop-color="#000080"/><stop offset="0.091" stop-color="#0000f1"/><stop offset="0.131" stop-color="#00e4f8"/><stop offset="0.182" stop-color="#40ffb7"/><stop offset="0.253" stop-color="#53ffa4"/><stop offset="0.329" stop-color="#46ffb1"/><stop offset="0.404" stop-color="#40ffb7"/><stop offset="0.505" stop-color="#4dffaa"/><stop offset="0.632" stop-color="#50ffa7"/><stop offset="0.758" stop-color="#53ffa4"/><stop offset="0.885" stop-color="#5aff9d"/><stop offset="1" stop-color="#60ff97"/></radialGradient><radialGradient id="b38" href="#br"><stop offset="0.0253" stop-color="#000080"/><stop offset="0.0404" stop-color="#000080"/><stop offset="0.0607" stop-color="#00008d"/><stop offset="0.091" stop-color="#0000ff"/><stop offset="0.131" stop-color="#00e4f8"/><stop offset="0.182" stop-color="#49ffad"/><stop offset="0.253" stop-color="#56ffa0"/><stop offset="0.329" stop-color="#49ffad"/><stop offset="0.404" stop-color="#43ffb4"/><stop offset="0.505" stop-color="#50ffa7"/><stop offset="0.632" stop-color="#56ffa0"/><stop offset="0.758" stop-color="#56ffa0"/><stop offset="0.885" stop-color="#5dff9a"/><stop offset="1" stop-color="#63ff94"/></radialGradient><radialGradient id="b39" href="#br"><stop offset="0.0253" stop-color="#000080"/><stop offset="0.0404" stop-color="#000080"/><stop offset="0.0607" stop-color="#0000a4"/><stop offset="0.091" stop-color="#000cff"/><stop offset="0.131" stop-color="#00e4f8"/><stop offset="0.182" stop-color="#50ffa7"/><stop offset="0.253" stop-color="#5aff9d"/><stop offset="0.329" stop-color="#50ffa7"/><stop offset="0.404" stop-color="#46ffb1"/><stop offset="0.505" stop-color="#53ffa4"/><stop offset="0.632" stop-color="#5aff9d"/><stop offset="0.758" stop-color="#5aff9d"/><stop offset="0.885" stop-color="#60ff97"/><stop offset="1" stop-color="#63ff94"/></radialGradient><radialGradient id="b40" href="#br"><stop offset="0.0253" stop-color="#000084"/><stop offset="0.0404" stop-color="#000084"/><stop offset="0.0607" stop-color="#0000bb"/><stop offset="0.091" stop-color="#0020ff"/><stop offset="0.131" stop-color="#02e8f4"/><stop offset="0.182" stop-color="#5aff9d"/><stop offset="0.253" stop-color="#5dff9a"/><stop offset="0.329" stop-color="#53ffa4"/><stop offset="0.404" stop-color="#49ffad"/><stop offset="0.505" stop-color="#5aff9d"/><stop offset="0.632" stop-color="#5dff9a"/><stop offset="0.758" stop-color="#5dff9a"/><stop offset="0.885" stop-color="#63ff94"/><stop offset="1" stop-color="#66ff90"/></radialGradient><radialGradient id="b41" href="#br"><stop offset="0.0253" stop-color="#000092"/><stop offset="0.0404" stop-color="#000092"/><stop offset="0.0607" stop-color="#0000c8"/><stop offset="0.091" stop-color="#0034ff"/><stop offset="0.131" stop-color="#02e8f4"/><stop offset="0.182" stop-color="#60ff97"/><stop offset="0.253" stop-color="#60ff97"/><stop offset="0.329" stop-color="#56ffa0"/><stop offset="0.404" stop-color="#4dffaa"/><stop offset="0.505" stop-color="#5dff9a"/><stop offset="0.632" stop-color="#60ff97"/><stop offset="0.758" stop-color="#63ff94"/><stop offset="0.885" stop-color="#66ff90"/><stop offset="1" stop-color="#6aff8d"/></radialGradient><radialGradient id="b42" href="#br"><stop offset="0.0253" stop-color="#0000a4"/><stop offset="0.0404" stop-color="#0000a4"/><stop offset="0.0607" stop-color="#0000d6"/><stop offset="0.091" stop-color="#0044ff"/><stop offset="0.131" stop-color="#02e8f4"/><stop offset="0.182" stop-color="#66ff90"/><stop offset="0.253" stop-color="#63ff94"/><stop offset="0.329" stop-color="#5aff9d"/><stop offset="0.404" stop-color="#50ffa7"/><stop offset="0.505" stop-color="#60ff97"/><stop offset="0.632" stop-color="#63ff94"/><stop offset="0.758" stop-color="#66ff90"/><stop offset="0.885" stop-color="#6aff8d"/><stop offset="1" stop-color="#6dff8a"/></radialGradient><radialGradient id="b43" href="#br"><stop offset="0.0253" stop-color="#0000b2"/><stop offset="0.0404" stop-color="#0000b2"/><stop offset="0.0607" stop-color="#0000e3"/><stop offset="0.091" stop-color="#0050ff"/><stop offset="0.131" stop-color="#0cf4eb"/><stop offset="0.182" stop-color="#6dff8a"/><stop offset="0.253" stop-color="#66ff90"/><stop offset="0.329" stop-color="#5dff9a"/><stop offset="0.404" stop-color="#53ffa4"/><stop offset="0.505" stop-color="#63ff94"/><stop offset="0.632" stop-color="#66ff90"/><stop offset="0.758" stop-color="#6aff8d"/><stop offset="0.885" stop-color="#6dff8a"/><stop offset="1" stop-color="#70ff87"/></radialGradient><radialGradient id="b44" href="#br"><stop offset="0.0253" stop-color="#0000bf"/><stop offset="0.0404" stop-color="#0000bf"/><stop offset="0.0607" stop-color="#0000f6"/><stop offset="0.091" stop-color="#0060ff"/><stop offset="0.131" stop-color="#19ffde"/><stop offset="0.182" stop-color="#70ff87"/><stop offset="0.253" stop-color="#6aff8d"/><stop offset="0.329" stop-color="#60ff97"/><stop offset="0.404" stop-color="#56ffa0"/><stop offset="0.505" stop-color="#66ff90"/><stop offset="0.632" stop-color="#6aff8d"/><stop offset="0.758" stop-color="#6dff8a"/><stop offset="0.885" stop-color="#70ff87"/><stop offset="1" stop-color="#73ff83"/></radialGradient><radialGradient id="b45" href="#br"><stop offset="0.0253" stop-color="#0000cd"/><stop offset="0.0404" stop-color="#0000cd"/><stop offset="0.0607" stop-color="#0000ff"/><stop offset="0.091" stop-color="#0070ff"/><stop offset="0.131" stop-color="#29ffce"/><stop offset="0.182" stop-color="#73ff83"/><stop offset="0.253" stop-color="#6dff8a"/><stop offset="0.329" stop-color="#63ff94"/><stop offset="0.404" stop-color="#5dff9a"/><stop offset="0.505" stop-color="#6aff8d"/><stop offset="0.632" stop-color="#6dff8a"/><stop offset="0.758" stop-color="#70ff87"/><stop offset="0.885" stop-color="#73ff83"/><stop offset="1" stop-color="#77ff80"/></radialGradient><radialGradient id="b46" href="#br"><stop offset="0.0253" stop-color="#0000da"/><stop offset="0.0404" stop-color="#0000da"/><stop offset="0.0607" stop-color="#0000ff"/><stop offset="0.091" stop-color="#0080ff"/><stop offset="0.131" stop-color="#36ffc1"/><stop offset="0.182" stop-color="#77ff80"/><stop offset="0.253" stop-color="#70ff87"/><stop offset="0.329" stop-color="#66ff90"/><stop offset="0.404" stop-color="#60ff97"/><stop offset="0.505" stop-color="#70ff87"/><stop offset="0.632" stop-color="#70ff87"/><stop offset="0.758" stop-color="#73ff83"/><stop offset="0.885" stop-color="#77ff80"/><stop offset="1" stop-color="#7aff7d"/></radialGradient><radialGradient id="b47" href="#br"><stop offset="0.0253" stop-color="#0000ed"/><stop offset="0.0404" stop-color="#0000ed"/><stop offset="0.0607" stop-color="#0010ff"/><stop offset="0.091" stop-color="#0090ff"/><stop offset="0.131" stop-color="#43ffb4"/><stop offset="0.182" stop-color="#7aff7d"/><stop offset="0.253" stop-color="#73ff83"/><stop offset="0.329" stop-color="#6aff8d"/><stop offset="0.404" stop-color="#63ff94"/><stop offset="0.505" stop-color="#73ff83"/><stop offset="0.632" stop-color="#73ff83"/><stop offset="0.758" stop-color="#77ff80"/><stop offset="0.885" stop-color="#77ff80"/><stop offset="1" stop-color="#7aff7d"/></radialGradient><radialGradient id="b48" href="#br"><stop offset="0.0253" stop-color="#0000f6"/><stop offset="0.0404" stop-color="#0000f6"/><stop offset="0.0607" stop-color="#001cff"/><stop offset="0.091" stop-color="#00a0ff"/><stop offset="0.131" stop-color="#4dffaa"/><stop offset="0.182" stop-color="#7dff7a"/><stop offset="0.253" stop-color="#77ff80"/><stop offset="0.329" stop-color="#6dff8a"/><stop offset="0.404" stop-color="#66ff90"/><stop offset="0.505" stop-color="#77ff80"/><stop offset="0.632" stop-color="#77ff80"/><stop offset="0.758" stop-color="#7aff7d"/><stop offset="0.885" stop-color="#7aff7d"/><stop offset="1" stop-color="#7dff7a"/></radialGradient><radialGradient id="b49" href="#br"><stop offset="0.0253" stop-color="#0000ff"/><stop offset="0.0404" stop-color="#0000ff"/><stop offset="0.0607" stop-color="#0028ff"/><stop offset="0.091" stop-color="#00acff"/><stop offset="0.131" stop-color="#56ffa0"/><stop offset="0.182" stop-color="#7dff7a"/><stop offset="0.253" stop-color="#7aff7d"/><stop offset="0.329" stop-color="#70ff87"/><stop offset="0.404" stop-color="#6aff8d"/><stop offset="0.505" stop-color="#7aff7d"/><stop offset="0.632" stop-color="#7aff7d"/><stop offset="0.758" stop-color="#7dff7a"/><stop offset="0.885" stop-color="#7dff7a"/><stop offset="1" stop-color="#80ff77"/></radialGradient><radialGradient id="b50" href="#br"><stop offset="0.0253" stop-color="#0000ff"/><stop offset="0.0404" stop-color="#0000ff"/><stop offset="0.0607" stop-color="#0034ff"/><stop offset="0.091" stop-color="#00b8ff"/><stop offset="0.131" stop-color="#60ff97"/><stop offset="0.182" stop-color="#80ff77"/><stop offset="0.253" stop-color="#7aff7d"/><stop offset="0.329" stop-color="#73ff83"/><stop offset="0.404" stop-color="#6dff8a"/><stop offset="0.505" stop-color="#7dff7a"/><stop offset="0.632" stop-color="#7dff7a"/><stop offset="0.758" stop-color="#7dff7a"/><stop offset="0.885" stop-color="#80ff77"/><stop offset="1" stop-color="#83ff73"/></radialGradient><radialGradient id="b51" href="#br"><stop offset="0.0253" stop-color="#0008ff"/><stop offset="0.0404" stop-color="#0008ff"/><stop offset="0.0607" stop-color="#003cff"/><stop offset="0.091" stop-color="#00c4ff"/><stop offset="0.131" stop-color="#6aff8d"/><stop offset="0.182" stop-color="#83ff73"/><stop offset="0.253" stop-color="#7dff7a"/><stop offset="0.329" stop-color="#77ff80"/><stop offset="0.404" stop-color="#70ff87"/><stop offset="0.505" stop-color="#80ff77"/><stop offset="0.632" stop-color="#80ff77"/><stop offset="0.758" stop-color="#80ff77"/><stop offset="0.885" stop-color="#83ff73"/><stop offset="1" stop-color="#87ff70"/></radialGradient><radialGradient id="b52" href="#br"><stop offset="0.0253" stop-color="#0014ff"/><stop offset="0.0404" stop-color="#0014ff"/><stop offset="0.0607" stop-color="#0048ff"/><stop offset="0.091" stop-color="#00d0ff"/><stop offset="0.131" stop-color="#6dff8a"/><stop offset="0.182" stop-color="#87ff70"/><stop offset="0.253" stop-color="#80ff77"/><stop offset="0.329" stop-color="#7aff7d"/><stop offset="0.404" stop-color="#73ff83"/><stop offset="0.505" stop-color="#83ff73"/><stop offset="0.632" stop-color="#83ff73"/><stop offset="0.758" stop-color="#83ff73"/><stop offset="0.885" stop-color="#83ff73"/><stop offset="1" stop-color="#87ff70"/></radialGradient><radialGradient id="b53" href="#br"><stop offset="0.0253" stop-color="#0020ff"/><stop offset="0.0404" stop-color="#0020ff"/><stop offset="0.0607" stop-color="#0054ff"/><stop offset="0.091" stop-color="#00d8ff"/><stop offset="0.131" stop-color="#70ff87"/><stop offset="0.182" stop-color="#8aff6d"/><stop offset="0.253" stop-color="#83ff73"/><stop offset="0.329" stop-color="#7dff7a"/><stop offset="0.404" stop-color="#77ff80"/><stop offset="0.505" stop-color="#87ff70"/><stop offset="0.632" stop-color="#87ff70"/><stop offset="0.758" stop-color="#87ff70"/><stop offset="0.885" stop-color="#87ff70"/><stop offset="1" stop-color="#8aff6d"/></radialGradient><radialGradient id="b54" href="#br"><stop offset="0.0253" stop-color="#0028ff"/><stop offset="0.0404" stop-color="#0028ff"/><stop offset="0.0607" stop-color="#005cff"/><stop offset="0.091" stop-color="#00e4f8"/><stop offset="0.131" stop-color="#70ff87"/><stop offset="0.182" stop-color="#8dff6a"/><stop offset="0.253" stop-color="#87ff70"/><stop offset="0.329" stop-color="#80ff77"/><stop offset="0.404" stop-color="#7dff7a"/><stop offset="0.505" stop-color="#8aff6d"/><stop offset="0.632" stop-color="#8aff6d"/><stop offset="0.758" stop-color="#8aff6d"/><stop offset="0.885" stop-color="#8aff6d"/><stop offset="1" stop-color="#8dff6a"/></radialGradient><radialGradient id="b55" href="#br"><stop offset="0.0253" stop-color="#0034ff"/><stop offset="0.0404" stop-color="#0034ff"/><stop offset="0.0607" stop-color="#0068ff"/><stop offset="0.091" stop-color="#09f0ee"/><stop offset="0.131" stop-color="#73ff83"/><stop offset="0.182" stop-color="#8dff6a"/><stop offset="0.253" stop-color="#8aff6d"/><stop offset="0.329" stop-color="#83ff73"/><stop offset="0.404" stop-color="#7dff7a"/><stop offset="0.505" stop-color="#8dff6a"/><stop offset="0.632" stop-color="#8dff6a"/><stop offset="0.758" stop-color="#8dff6a"/><stop offset="0.885" stop-color="#8dff6a"/><stop offset="1" stop-color="#90ff66"/></radialGradient><radialGradient id="b56" href="#br"><stop offset="0.0253" stop-color="#003cff"/><stop offset="0.0404" stop-color="#003cff"/><stop offset="0.0607" stop-color="#0070ff"/><stop offset="0.091" stop-color="#13fce4"/><stop offset="0.131" stop-color="#73ff83"/><stop offset="0.182" stop-color="#90ff66"/><stop offset="0.253" stop-color="#8aff6d"/><stop offset="0.329" stop-color="#87ff70"/><stop offset="0.404" stop-color="#80ff77"/><stop offset="0.505" stop-color="#90ff66"/><stop offset="0.632" stop-color="#90ff66"/><stop offset="0.758" stop-color="#90ff66"/><stop offset="0.885" stop-color="#90ff66"/><stop offset="1" stop-color="#94ff63"/></radialGradient><radialGradient id="b57" href="#br"><stop offset="0.0253" stop-color="#0048ff"/><stop offset="0.0404" stop-color="#0048ff"/><stop offset="0.0607" stop-color="#007cff"/><stop offset="0.091" stop-color="#1cffdb"/><stop offset="0.131" stop-color="#77ff80"/><stop offset="0.182" stop-color="#94ff63"/><stop offset="0.253" stop-color="#8dff6a"/><stop offset="0.329" stop-color="#8aff6d"/><stop offset="0.404" stop-color="#83ff73"/><stop offset="0.505" stop-color="#94ff63"/><stop offset="0.632" stop-color="#94ff63"/><stop offset="0.758" stop-color="#90ff66"/><stop offset="0.885" stop-color="#90ff66"/><stop offset="1" stop-color="#94ff63"/></radialGradient><radialGradient id="b58" href="#br"><stop offset="0.0253" stop-color="#0050ff"/><stop offset="0.0404" stop-color="#0050ff"/><stop offset="0.0607" stop-color="#0084ff"/><stop offset="0.091" stop-color="#23ffd4"/><stop offset="0.131" stop-color="#77ff80"/><stop offset="0.182" stop-color="#97ff60"/><stop offset="0.253" stop-color="#90ff66"/><stop offset="0.329" stop-color="#8dff6a"/><stop offset="0.404" stop-color="#87ff70"/><stop offset="0.505" stop-color="#97ff60"/><stop offset="0.632" stop-color="#97ff60"/><stop offset="0.758" stop-color="#94ff63"/><stop offset="0.885" stop-color="#94ff63"/><stop offset="1" stop-color="#97ff60"/></radialGradient><radialGradient id="b59" href="#br"><stop offset="0.0253" stop-color="#005cff"/><stop offset="0.0404" stop-color="#005cff"/><stop offset="0.0607" stop-color="#0090ff"/><stop offset="0.091" stop-color="#2cffca"/><stop offset="0.131" stop-color="#7aff7d"/><stop offset="0.182" stop-color="#9aff5d"/><stop offset="0.253" stop-color="#94ff63"/><stop offset="0.329" stop-color="#90ff66"/><stop offset="0.404" stop-color="#8aff6d"/><stop offset="0.505" stop-color="#97ff60"/><stop offset="0.632" stop-color="#97ff60"/><stop offset="0.758" stop-color="#97ff60"/><stop offset="0.885" stop-color="#94ff63"/><stop offset="1" stop-color="#97ff60"/></radialGradient><radialGradient id="b60" href="#br"><stop offset="0.0253" stop-color="#0068ff"/><stop offset="0.0404" stop-color="#0068ff"/><stop offset="0.0607" stop-color="#009cff"/><stop offset="0.091" stop-color="#36ffc1"/><stop offset="0.131" stop-color="#7aff7d"/><stop offset="0.182" stop-color="#9dff5a"/><stop offset="0.253" stop-color="#97ff60"/><stop offset="0.329" stop-color="#94ff63"/><stop offset="0.404" stop-color="#8dff6a"/><stop offset="0.505" stop-color="#9aff5d"/><stop offset="0.632" stop-color="#9aff5d"/><stop offset="0.758" stop-color="#9aff5d"/><stop offset="0.885" stop-color="#94ff63"/><stop offset="1" stop-color="#9aff5d"/></radialGradient><radialGradient id="b61" href="#br"><stop offset="0.0253" stop-color="#0078ff"/><stop offset="0.0404" stop-color="#0078ff"/><stop offset="0.0607" stop-color="#00acff"/><stop offset="0.091" stop-color="#43ffb4"/><stop offset="0.131" stop-color="#7dff7a"/><stop offset="0.182" stop-color="#a0ff56"/><stop offset="0.253" stop-color="#9aff5d"/><stop offset="0.329" stop-color="#97ff60"/><stop offset="0.404" stop-color="#90ff66"/><stop offset="0.505" stop-color="#9dff5a"/><stop offset="0.632" stop-color="#a0ff56"/><stop offset="0.758" stop-color="#9dff5a"/><stop offset="0.885" stop-color="#97ff60"/><stop offset="1" stop-color="#9aff5d"/></radialGradient><radialGradient id="b62" href="#br"><stop offset="0.0253" stop-color="#0084ff"/><stop offset="0.0404" stop-color="#0084ff"/><stop offset="0.0607" stop-color="#00bcff"/><stop offset="0.091" stop-color="#4dffaa"/><stop offset="0.131" stop-color="#80ff77"/><stop offset="0.182" stop-color="#a4ff53"/><stop offset="0.253" stop-color="#9dff5a"/><stop offset="0.329" stop-color="#9aff5d"/><stop offset="0.404" stop-color="#97ff60"/><stop offset="0.505" stop-color="#a0ff56"/><stop offset="0.632" stop-color="#a4ff53"/><stop offset="0.758" stop-color="#a0ff56"/><stop offset="0.885" stop-color="#9aff5d"/><stop offset="1" stop-color="#9dff5a"/></radialGradient><radialGradient id="b63" href="#br"><stop offset="0.0253" stop-color="#0094ff"/><stop offset="0.0404" stop-color="#0094ff"/><stop offset="0.0607" stop-color="#00c8ff"/><stop offset="0.091" stop-color="#5aff9d"/><stop offset="0.131" stop-color="#83ff73"/><stop offset="0.182" stop-color="#a7ff50"/><stop offset="0.253" stop-color="#a4ff53"/><stop offset="0.329" stop-color="#9dff5a"/><stop offset="0.404" stop-color="#9aff5d"/><stop offset="0.505" stop-color="#a0ff56"/><stop offset="0.632" stop-color="#a7ff50"/><stop offset="0.758" stop-color="#a7ff50"/><stop offset="0.885" stop-color="#9dff5a"/><stop offset="1" stop-color="#9dff5a"/></radialGradient><radialGradient id="b64" href="#br"><stop offset="0.0253" stop-color="#00a4ff"/><stop offset="0.0404" stop-color="#00a4ff"/><stop offset="0.0607" stop-color="#00d8ff"/><stop offset="0.091" stop-color="#63ff94"/><stop offset="0.131" stop-color="#8dff6a"/><stop offset="0.182" stop-color="#aaff4d"/><stop offset="0.253" stop-color="#a7ff50"/><stop offset="0.329" stop-color="#a4ff53"/><stop offset="0.404" stop-color="#9dff5a"/><stop offset="0.505" stop-color="#a4ff53"/><stop offset="0.632" stop-color="#adff49"/><stop offset="0.758" stop-color="#aaff4d"/><stop offset="0.885" stop-color="#a0ff56"/><stop offset="1" stop-color="#a0ff56"/></radialGradient><radialGradient id="b65" href="#br"><stop offset="0.0253" stop-color="#00b0ff"/><stop offset="0.0404" stop-color="#00b0ff"/><stop offset="0.0607" stop-color="#02e8f4"/><stop offset="0.091" stop-color="#6dff8a"/><stop offset="0.131" stop-color="#97ff60"/><stop offset="0.182" stop-color="#adff49"/><stop offset="0.253" stop-color="#aaff4d"/><stop offset="0.329" stop-color="#a7ff50"/><stop offset="0.404" stop-color="#a4ff53"/><stop offset="0.505" stop-color="#a7ff50"/><stop offset="0.632" stop-color="#b1ff46"/><stop offset="0.758" stop-color="#adff49"/><stop offset="0.885" stop-color="#a4ff53"/><stop offset="1" stop-color="#a4ff53"/></radialGradient><radialGradient id="b66" href="#br"><stop offset="0.0253" stop-color="#00c0ff"/><stop offset="0.0404" stop-color="#00c0ff"/><stop offset="0.0607" stop-color="#0cf4eb"/><stop offset="0.091" stop-color="#77ff80"/><stop offset="0.131" stop-color="#a0ff56"/><stop offset="0.182" stop-color="#b1ff46"/><stop offset="0.253" stop-color="#adff49"/><stop offset="0.329" stop-color="#aaff4d"/><stop offset="0.404" stop-color="#a7ff50"/><stop offset="0.505" stop-color="#aaff4d"/><stop offset="0.632" stop-color="#b1ff46"/><stop offset="0.758" stop-color="#b1ff46"/><stop offset="0.885" stop-color="#a7ff50"/><stop offset="1" stop-color="#a4ff53"/></radialGradient><radialGradient id="b67" href="#br"><stop offset="0.0253" stop-color="#00ccff"/><stop offset="0.0404" stop-color="#00ccff"/><stop offset="0.0607" stop-color="#19ffde"/><stop offset="0.091" stop-color="#80ff77"/><stop offset="0.131" stop-color="#aaff4d"/><stop offset="0.182" stop-color="#b7ff40"/><stop offset="0.253" stop-color="#b1ff46"/><stop offset="0.329" stop-color="#adff49"/><stop offset="0.404" stop-color="#aaff4d"/><stop offset="0.505" stop-color="#adff49"/><stop offset="0.632" stop-color="#adff49"/><stop offset="0.758" stop-color="#b4ff43"/><stop offset="0.885" stop-color="#aaff4d"/><stop offset="1" stop-color="#a7ff50"/></radialGradient><radialGradient id="b68" href="#br"><stop offset="0.0253" stop-color="#00dcfe"/><stop offset="0.0404" stop-color="#00dcfe"/><stop offset="0.0607" stop-color="#23ffd4"/><stop offset="0.091" stop-color="#8aff6d"/><stop offset="0.131" stop-color="#b4ff43"/><stop offset="0.182" stop-color="#baff3c"/><stop offset="0.253" stop-color="#b7ff40"/><stop offset="0.329" stop-color="#b1ff46"/><stop offset="0.404" stop-color="#adff49"/><stop offset="0.505" stop-color="#b1ff46"/><stop offset="0.632" stop-color="#b1ff46"/><stop offset="0.758" stop-color="#b7ff40"/><stop offset="0.885" stop-color="#adff49"/><stop offset="1" stop-color="#adff49"/></radialGradient><radialGradient id="b69" href="#br"><stop offset="0.0253" stop-color="#02e8f4"/><stop offset="0.0404" stop-color="#02e8f4"/><stop offset="0.0607" stop-color="#2cffca"/><stop offset="0.091" stop-color="#94ff63"/><stop offset="0.131" stop-color="#beff39"/><stop offset="0.182" stop-color="#beff39"/><stop offset="0.253" stop-color="#baff3c"/><stop offset="0.329" stop-color="#b7ff40"/><stop offset="0.404" stop-color="#b4ff43"/><stop offset="0.505" stop-color="#b4ff43"/><stop offset="0.632" stop-color="#b4ff43"/><stop offset="0.758" stop-color="#baff3c"/><stop offset="0.885" stop-color="#b4ff43"/><stop offset="1" stop-color="#b1ff46"/></radialGradient><radialGradient id="b70" href="#br"><stop offset="0.0253" stop-color="#0ff8e7"/><stop offset="0.0404" stop-color="#0ff8e7"/><stop offset="0.0607" stop-color="#36ffc1"/><stop offset="0.091" stop-color="#9dff5a"/><stop offset="0.131" stop-color="#c1ff36"/><stop offset="0.182" stop-color="#c1ff36"/><stop offset="0.253" stop-color="#beff39"/><stop offset="0.329" stop-color="#baff3c"/><stop offset="0.404" stop-color="#b7ff40"/><stop offset="0.505" stop-color="#b7ff40"/><stop offset="0.632" stop-color="#b7ff40"/><stop offset="0.758" stop-color="#c1ff36"/><stop offset="0.885" stop-color="#b7ff40"/><stop offset="1" stop-color="#b4ff43"/></radialGradient><radialGradient id="b71" href="#br"><stop offset="0.0253" stop-color="#1cffdb"/><stop offset="0.0404" stop-color="#1cffdb"/><stop offset="0.0607" stop-color="#43ffb4"/><stop offset="0.091" stop-color="#aaff4d"/><stop offset="0.131" stop-color="#c7ff30"/><stop offset="0.182" stop-color="#c4ff33"/><stop offset="0.253" stop-color="#c1ff36"/><stop offset="0.329" stop-color="#beff39"/><stop offset="0.404" stop-color="#baff3c"/><stop offset="0.505" stop-color="#baff3c"/><stop offset="0.632" stop-color="#baff3c"/><stop offset="0.758" stop-color="#c1ff36"/><stop offset="0.885" stop-color="#baff3c"/><stop offset="1" stop-color="#baff3c"/></radialGradient><radialGradient id="b72" href="#br"><stop offset="0.0253" stop-color="#29ffce"/><stop offset="0.0404" stop-color="#29ffce"/><stop offset="0.0607" stop-color="#50ffa7"/><stop offset="0.091" stop-color="#b7ff40"/><stop offset="0.131" stop-color="#caff2c"/><stop offset="0.182" stop-color="#c7ff30"/><stop offset="0.253" stop-color="#c4ff33"/><stop offset="0.329" stop-color="#c1ff36"/><stop offset="0.404" stop-color="#beff39"/><stop offset="0.505" stop-color="#beff39"/><stop offset="0.632" stop-color="#beff39"/><stop offset="0.758" stop-color="#c4ff33"/><stop offset="0.885" stop-color="#beff39"/><stop offset="1" stop-color="#beff39"/></radialGradient><radialGradient id="b73" href="#br"><stop offset="0.0253" stop-color="#36ffc1"/><stop offset="0.0404" stop-color="#36ffc1"/><stop offset="0.0607" stop-color="#5dff9a"/><stop offset="0.091" stop-color="#beff39"/><stop offset="0.131" stop-color="#d1ff26"/><stop offset="0.182" stop-color="#caff2c"/><stop offset="0.253" stop-color="#c7ff30"/><stop offset="0.329" stop-color="#c4ff33"/><stop offset="0.404" stop-color="#c1ff36"/><stop offset="0.505" stop-color="#c1ff36"/><stop offset="0.632" stop-color="#c1ff36"/><stop offset="0.758" stop-color="#c4ff33"/><stop offset="0.885" stop-color="#c1ff36"/><stop offset="1" stop-color="#c1ff36"/></radialGradient><radialGradient id="b74" href="#br"><stop offset="0.0253" stop-color="#40ffb7"/><stop offset="0.0404" stop-color="#40ffb7"/><stop offset="0.0607" stop-color="#6aff8d"/><stop offset="0.091" stop-color="#c4ff33"/><stop offset="0.131" stop-color="#d7ff1f"/><stop offset="0.182" stop-color="#ceff29"/><stop offset="0.253" stop-color="#caff2c"/><stop offset="0.329" stop-color="#c7ff30"/><stop offset="0.404" stop-color="#c7ff30"/><stop offset="0.505" stop-color="#c1ff36"/><stop offset="0.632" stop-color="#c4ff33"/><stop offset="0.758" stop-color="#c7ff30"/><stop offset="0.885" stop-color="#c4ff33"/><stop offset="1" stop-color="#c1ff36"/></radialGradient><radialGradient id="b75" href="#br"><stop offset="0.0253" stop-color="#4dffaa"/><stop offset="0.0404" stop-color="#4dffaa"/><stop offset="0.0607" stop-color="#77ff80"/><stop offset="0.091" stop-color="#c7ff30"/><stop offset="0.131" stop-color="#dbff1c"/><stop offset="0.182" stop-color="#d1ff26"/><stop offset="0.253" stop-color="#ceff29"/><stop offset="0.329" stop-color="#ceff29"/><stop offset="0.404" stop-color="#caff2c"/><stop offset="0.505" stop-color="#c4ff33"/><stop offset="0.632" stop-color="#c4ff33"/><stop offset="0.758" stop-color="#c7ff30"/><stop offset="0.885" stop-color="#caff2c"/><stop offset="1" stop-color="#c4ff33"/></radialGradient><radialGradient id="b76" href="#br"><stop offset="0.0253" stop-color="#5aff9d"/><stop offset="0.0404" stop-color="#5aff9d"/><stop offset="0.0607" stop-color="#83ff73"/><stop offset="0.091" stop-color="#ceff29"/><stop offset="0.131" stop-color="#deff19"/><stop offset="0.182" stop-color="#d4ff23"/><stop offset="0.253" stop-color="#d1ff26"/><stop offset="0.329" stop-color="#d1ff26"/><stop offset="0.404" stop-color="#ceff29"/><stop offset="0.505" stop-color="#c7ff30"/><stop offset="0.632" stop-color="#c4ff33"/><stop offset="0.758" stop-color="#caff2c"/><stop offset="0.885" stop-color="#ceff29"/><stop offset="1" stop-color="#c7ff30"/></radialGradient><radialGradient id="b77" href="#br"><stop offset="0.0253" stop-color="#66ff90"/><stop offset="0.0404" stop-color="#66ff90"/><stop offset="0.0607" stop-color="#8dff6a"/><stop offset="0.091" stop-color="#d1ff26"/><stop offset="0.131" stop-color="#e1ff16"/><stop offset="0.182" stop-color="#d7ff1f"/><stop offset="0.253" stop-color="#d4ff23"/><stop offset="0.329" stop-color="#d4ff23"/><stop offset="0.404" stop-color="#d1ff26"/><stop offset="0.505" stop-color="#caff2c"/><stop offset="0.632" stop-color="#c7ff30"/><stop offset="0.758" stop-color="#caff2c"/><stop offset="0.885" stop-color="#d1ff26"/><stop offset="1" stop-color="#c7ff30"/></radialGradient><radialGradient id="b78" href="#br"><stop offset="0.0253" stop-color="#73ff83"/><stop offset="0.0404" stop-color="#73ff83"/><stop offset="0.0607" stop-color="#9aff5d"/><stop offset="0.091" stop-color="#d7ff1f"/><stop offset="0.131" stop-color="#e4ff13"/><stop offset="0.182" stop-color="#dbff1c"/><stop offset="0.253" stop-color="#d7ff1f"/><stop offset="0.329" stop-color="#d7ff1f"/><stop offset="0.404" stop-color="#d4ff23"/><stop offset="0.505" stop-color="#ceff29"/><stop offset="0.632" stop-color="#c7ff30"/><stop offset="0.758" stop-color="#ceff29"/><stop offset="0.885" stop-color="#d4ff23"/><stop offset="1" stop-color="#caff2c"/></radialGradient><radialGradient id="b79" href="#br"><stop offset="0.0253" stop-color="#80ff77"/><stop offset="0.0404" stop-color="#80ff77"/><stop offset="0.0607" stop-color="#a7ff50"/><stop offset="0.091" stop-color="#dbff1c"/><stop offset="0.131" stop-color="#ebff0c"/><stop offset="0.182" stop-color="#deff19"/><stop offset="0.253" stop-color="#dbff1c"/><stop offset="0.329" stop-color="#dbff1c"/><stop offset="0.404" stop-color="#d7ff1f"/><stop offset="0.505" stop-color="#d4ff23"/><stop offset="0.632" stop-color="#c7ff30"/><stop offset="0.758" stop-color="#d1ff26"/><stop offset="0.885" stop-color="#d7ff1f"/><stop offset="1" stop-color="#caff2c"/></radialGradient><radialGradient id="b80" href="#br"><stop offset="0.0253" stop-color="#8aff6d"/><stop offset="0.0404" stop-color="#8aff6d"/><stop offset="0.0607" stop-color="#adff49"/><stop offset="0.091" stop-color="#e1ff16"/><stop offset="0.131" stop-color="#eeff09"/><stop offset="0.182" stop-color="#e1ff16"/><stop offset="0.253" stop-color="#deff19"/><stop offset="0.329" stop-color="#deff19"/><stop offset="0.404" stop-color="#deff19"/><stop offset="0.505" stop-color="#d7ff1f"/><stop offset="0.632" stop-color="#caff2c"/><stop offset="0.758" stop-color="#d4ff23"/><stop offset="0.885" stop-color="#dbff1c"/><stop offset="1" stop-color="#ceff29"/></radialGradient><radialGradient id="b81" href="#br"><stop offset="0.0253" stop-color="#97ff60"/><stop offset="0.0404" stop-color="#97ff60"/><stop offset="0.0607" stop-color="#b4ff43"/><stop offset="0.091" stop-color="#e4ff13"/><stop offset="0.131" stop-color="#f1fc06"/><stop offset="0.182" stop-color="#e4ff13"/><stop offset="0.253" stop-color="#e1ff16"/><stop offset="0.329" stop-color="#e1ff16"/><stop offset="0.404" stop-color="#e1ff16"/><stop offset="0.505" stop-color="#dbff1c"/><stop offset="0.632" stop-color="#caff2c"/><stop offset="0.758" stop-color="#d7ff1f"/><stop offset="0.885" stop-color="#e1ff16"/><stop offset="1" stop-color="#d1ff26"/></radialGradient><radialGradient id="b82" href="#br"><stop offset="0.0253" stop-color="#a4ff53"/><stop offset="0.0404" stop-color="#a4ff53"/><stop offset="0.0607" stop-color="#b7ff40"/><stop offset="0.091" stop-color="#ebff0c"/><stop offset="0.131" stop-color="#f4f802"/><stop offset="0.182" stop-color="#e7ff0f"/><stop offset="0.253" stop-color="#e4ff13"/><stop offset="0.329" stop-color="#e4ff13"/><stop offset="0.404" stop-color="#e4ff13"/><stop offset="0.505" stop-color="#deff19"/><stop offset="0.632" stop-color="#ceff29"/><stop offset="0.758" stop-color="#dbff1c"/><stop offset="0.885" stop-color="#e4ff13"/><stop offset="1" stop-color="#d1ff26"/></radialGradient><radialGradient id="b83" href="#br"><stop offset="0.0253" stop-color="#adff49"/><stop offset="0.0404" stop-color="#adff49"/><stop offset="0.0607" stop-color="#beff39"/><stop offset="0.091" stop-color="#eeff09"/><stop offset="0.131" stop-color="#f8f500"/><stop offset="0.182" stop-color="#ebff0c"/><stop offset="0.253" stop-color="#e7ff0f"/><stop offset="0.329" stop-color="#e7ff0f"/><stop offset="0.404" stop-color="#e7ff0f"/><stop offset="0.505" stop-color="#e1ff16"/><stop offset="0.632" stop-color="#ceff29"/><stop offset="0.758" stop-color="#deff19"/><stop offset="0.885" stop-color="#e7ff0f"/><stop offset="1" stop-color="#d7ff1f"/></radialGradient><radialGradient id="b84" href="#br"><stop offset="0.0253" stop-color="#b7ff40"/><stop offset="0.0404" stop-color="#b7ff40"/><stop offset="0.0607" stop-color="#c7ff30"/><stop offset="0.091" stop-color="#f8f500"/><stop offset="0.131" stop-color="#fbf100"/><stop offset="0.182" stop-color="#eeff09"/><stop offset="0.253" stop-color="#ebff0c"/><stop offset="0.329" stop-color="#eeff09"/><stop offset="0.404" stop-color="#ebff0c"/><stop offset="0.505" stop-color="#e4ff13"/><stop offset="0.632" stop-color="#d4ff23"/><stop offset="0.758" stop-color="#e1ff16"/><stop offset="0.885" stop-color="#eeff09"/><stop offset="1" stop-color="#e1ff16"/></radialGradient><radialGradient id="b85" href="#br"><stop offset="0.0253" stop-color="#c1ff36"/><stop offset="0.0404" stop-color="#c1ff36"/><stop offset="0.0607" stop-color="#d1ff26"/><stop offset="0.091" stop-color="#ffea00"/><stop offset="0.131" stop-color="#feed00"/><stop offset="0.182" stop-color="#f1fc06"/><stop offset="0.253" stop-color="#f1fc06"/><stop offset="0.329" stop-color="#f1fc06"/><stop offset="0.404" stop-color="#eeff09"/><stop offset="0.505" stop-color="#e7ff0f"/><stop offset="0.632" stop-color="#d7ff1f"/><stop offset="0.758" stop-color="#e4ff13"/><stop offset="0.885" stop-color="#f1fc06"/><stop offset="1" stop-color="#e7ff0f"/></radialGradient><radialGradient id="b86" href="#br"><stop offset="0.0253" stop-color="#caff2c"/><stop offset="0.0404" stop-color="#caff2c"/><stop offset="0.0607" stop-color="#dbff1c"/><stop offset="0.091" stop-color="#ffe200"/><stop offset="0.131" stop-color="#ffea00"/><stop offset="0.182" stop-color="#f4f802"/><stop offset="0.253" stop-color="#f4f802"/><stop offset="0.329" stop-color="#f4f802"/><stop offset="0.404" stop-color="#f4f802"/><stop offset="0.505" stop-color="#eeff09"/><stop offset="0.632" stop-color="#deff19"/><stop offset="0.758" stop-color="#e7ff0f"/><stop offset="0.885" stop-color="#f8f500"/><stop offset="1" stop-color="#f1fc06"/></radialGradient><radialGradient id="b87" href="#br"><stop offset="0.0253" stop-color="#d4ff23"/><stop offset="0.0404" stop-color="#d4ff23"/><stop offset="0.0607" stop-color="#e4ff13"/><stop offset="0.091" stop-color="#ffde00"/><stop offset="0.131" stop-color="#ffe600"/><stop offset="0.182" stop-color="#f8f500"/><stop offset="0.253" stop-color="#f8f500"/><stop offset="0.329" stop-color="#f8f500"/><stop offset="0.404" stop-color="#f8f500"/><stop offset="0.505" stop-color="#f1fc06"/><stop offset="0.632" stop-color="#e1ff16"/><stop offset="0.758" stop-color="#ebff0c"/><stop offset="0.885" stop-color="#fbf100"/><stop offset="1" stop-color="#f8f500"/></radialGradient><radialGradient id="b88" href="#br"><stop offset="0.0253" stop-color="#deff19"/><stop offset="0.0404" stop-color="#deff19"/><stop offset="0.0607" stop-color="#eeff09"/><stop offset="0.091" stop-color="#ffd700"/><stop offset="0.131" stop-color="#ffe200"/><stop offset="0.182" stop-color="#feed00"/><stop offset="0.253" stop-color="#fbf100"/><stop offset="0.329" stop-color="#feed00"/><stop offset="0.404" stop-color="#fbf100"/><stop offset="0.505" stop-color="#f4f802"/><stop offset="0.632" stop-color="#e7ff0f"/><stop offset="0.758" stop-color="#eeff09"/><stop offset="0.885" stop-color="#ffea00"/><stop offset="1" stop-color="#feed00"/></radialGradient><radialGradient id="b89" href="#br"><stop offset="0.0253" stop-color="#e4ff13"/><stop offset="0.0404" stop-color="#e4ff13"/><stop offset="0.0607" stop-color="#f8f500"/><stop offset="0.091" stop-color="#ffd300"/><stop offset="0.131" stop-color="#ffde00"/><stop offset="0.182" stop-color="#ffea00"/><stop offset="0.253" stop-color="#ffea00"/><stop offset="0.329" stop-color="#ffea00"/><stop offset="0.404" stop-color="#ffea00"/><stop offset="0.505" stop-color="#f8f500"/><stop offset="0.632" stop-color="#ebff0c"/><stop offset="0.758" stop-color="#f1fc06"/><stop offset="0.885" stop-color="#ffde00"/><stop offset="1" stop-color="#ffe600"/></radialGradient><radialGradient id="b90" href="#br"><stop offset="0.0253" stop-color="#eeff09"/><stop offset="0.0404" stop-color="#eeff09"/><stop offset="0.0607" stop-color="#ffea00"/><stop offset="0.091" stop-color="#ffcc00"/><stop offset="0.131" stop-color="#ffdb00"/><stop offset="0.182" stop-color="#ffe200"/><stop offset="0.253" stop-color="#ffe600"/><stop offset="0.329" stop-color="#ffe200"/><stop offset="0.404" stop-color="#ffe600"/><stop offset="0.505" stop-color="#feed00"/><stop offset="0.632" stop-color="#f1fc06"/><stop offset="0.758" stop-color="#f1fc06"/><stop offset="0.885" stop-color="#ffd700"/><stop offset="1" stop-color="#ffdb00"/></radialGradient><radialGradient id="b91" href="#br"><stop offset="0.0253" stop-color="#f8f500"/><stop offset="0.0404" stop-color="#f8f500"/><stop offset="0.0607" stop-color="#ffde00"/><stop offset="0.091" stop-color="#ffc800"/><stop offset="0.131" stop-color="#ffd700"/><stop offset="0.182" stop-color="#ffde00"/><stop offset="0.253" stop-color="#ffe200"/><stop offset="0.329" stop-color="#ffde00"/><stop offset="0.404" stop-color="#ffde00"/><stop offset="0.505" stop-color="#ffea00"/><stop offset="0.632" stop-color="#f4f802"/><stop offset="0.758" stop-color="#f4f802"/><stop offset="0.885" stop-color="#ffd300"/><stop offset="1" stop-color="#ffd300"/></radialGradient><radialGradient id="b92" href="#br"><stop offset="0.0253" stop-color="#ffea00"/><stop offset="0.0404" stop-color="#ffea00"/><stop offset="0.0607" stop-color="#ffd300"/><stop offset="0.091" stop-color="#ffc100"/><stop offset="0.131" stop-color="#ffd300"/><stop offset="0.182" stop-color="#ffd700"/><stop offset="0.253" stop-color="#ffde00"/><stop offset="0.329" stop-color="#ffd700"/><stop offset="0.404" stop-color="#ffdb00"/><stop offset="0.505" stop-color="#ffe600"/><stop offset="0.632" stop-color="#f8f500"/><stop offset="0.758" stop-color="#f8f500"/><stop offset="0.885" stop-color="#ffd000"/><stop offset="1" stop-color="#ffcc00"/></radialGradient><radialGradient id="b93" href="#br"><stop offset="0.0253" stop-color="#ffde00"/><stop offset="0.0404" stop-color="#ffde00"/><stop offset="0.0607" stop-color="#ffcc00"/><stop offset="0.091" stop-color="#ffbd00"/><stop offset="0.131" stop-color="#ffd000"/><stop offset="0.182" stop-color="#ffd300"/><stop offset="0.253" stop-color="#ffd700"/><stop offset="0.329" stop-color="#ffd000"/><stop offset="0.404" stop-color="#ffd700"/><stop offset="0.505" stop-color="#ffde00"/><stop offset="0.632" stop-color="#feed00"/><stop offset="0.758" stop-color="#fbf100"/><stop offset="0.885" stop-color="#ffcc00"/><stop offset="1" stop-color="#ffc400"/></radialGradient><radialGradient id="b94" href="#br"><stop offset="0.0253" stop-color="#ffd300"/><stop offset="0.0404" stop-color="#ffd300"/><stop offset="0.0607" stop-color="#ffc800"/><stop offset="0.091" stop-color="#ffb600"/><stop offset="0.131" stop-color="#ffcc00"/><stop offset="0.182" stop-color="#ffcc00"/><stop offset="0.253" stop-color="#ffd300"/><stop offset="0.329" stop-color="#ffcc00"/><stop offset="0.404" stop-color="#ffd000"/><stop offset="0.505" stop-color="#ffdb00"/><stop offset="0.632" stop-color="#ffe600"/><stop offset="0.758" stop-color="#fbf100"/><stop offset="0.885" stop-color="#ffc800"/><stop offset="1" stop-color="#ffb900"/></radialGradient><radialGradient id="b95" href="#br"><stop offset="0.0253" stop-color="#ffcc00"/><stop offset="0.0404" stop-color="#ffcc00"/><stop offset="0.0607" stop-color="#ffc100"/><stop offset="0.091" stop-color="#ffb200"/><stop offset="0.131" stop-color="#ffc800"/><stop offset="0.182" stop-color="#ffc800"/><stop offset="0.253" stop-color="#ffd000"/><stop offset="0.329" stop-color="#ffc400"/><stop offset="0.404" stop-color="#ffcc00"/><stop offset="0.505" stop-color="#ffd700"/><stop offset="0.632" stop-color="#ffde00"/><stop offset="0.758" stop-color="#ffe600"/><stop offset="0.885" stop-color="#ffc400"/><stop offset="1" stop-color="#ffb200"/></radialGradient><radialGradient id="b96" href="#br"><stop offset="0.0253" stop-color="#ffc100"/><stop offset="0.0404" stop-color="#ffc100"/><stop offset="0.0607" stop-color="#ffbd00"/><stop offset="0.091" stop-color="#ffae00"/><stop offset="0.131" stop-color="#ffc400"/><stop offset="0.182" stop-color="#ffc100"/><stop offset="0.253" stop-color="#ffcc00"/><stop offset="0.329" stop-color="#ffc100"/><stop offset="0.404" stop-color="#ffc400"/><stop offset="0.505" stop-color="#ffd000"/><stop offset="0.632" stop-color="#ffdb00"/><stop offset="0.758" stop-color="#ffdb00"/><stop offset="0.885" stop-color="#ffc100"/><stop offset="1" stop-color="#ffab00"/></radialGradient><radialGradient id="b97" href="#br"><stop offset="0.0253" stop-color="#ffb900"/><stop offset="0.0404" stop-color="#ffb900"/><stop offset="0.0607" stop-color="#ffb600"/><stop offset="0.091" stop-color="#ffa700"/><stop offset="0.131" stop-color="#ffc100"/><stop offset="0.182" stop-color="#ffbd00"/><stop offset="0.253" stop-color="#ffc400"/><stop offset="0.329" stop-color="#ffb900"/><stop offset="0.404" stop-color="#ffc100"/><stop offset="0.505" stop-color="#ffc800"/><stop offset="0.632" stop-color="#ffd300"/><stop offset="0.758" stop-color="#ffd000"/><stop offset="0.885" stop-color="#ffbd00"/><stop offset="1" stop-color="#ffa700"/></radialGradient><radialGradient id="b98" href="#br"><stop offset="0.0253" stop-color="#ffb200"/><stop offset="0.0404" stop-color="#ffb200"/><stop offset="0.0607" stop-color="#ffae00"/><stop offset="0.091" stop-color="#ffa300"/><stop offset="0.131" stop-color="#ffbd00"/><stop offset="0.182" stop-color="#ffb600"/><stop offset="0.253" stop-color="#ffc100"/><stop offset="0.329" stop-color="#ffb600"/><stop offset="0.404" stop-color="#ffbd00"/><stop offset="0.505" stop-color="#ffc100"/><stop offset="0.632" stop-color="#ffcc00"/><stop offset="0.758" stop-color="#ffc800"/><stop offset="0.885" stop-color="#ffbd00"/><stop offset="1" stop-color="#ffa300"/></radialGradient><radialGradient id="b99" href="#br"><stop offset="0.0253" stop-color="#ffab00"/><stop offset="0.0404" stop-color="#ffab00"/><stop offset="0.0607" stop-color="#ffa700"/><stop offset="0.091" stop-color="#ff9c00"/><stop offset="0.131" stop-color="#ffb900"/><stop offset="0.182" stop-color="#ffb200"/><stop offset="0.253" stop-color="#ffb900"/><stop offset="0.329" stop-color="#ffae00"/><stop offset="0.404" stop-color="#ffb600"/><stop offset="0.505" stop-color="#ffb900"/><stop offset="0.632" stop-color="#ffc400"/><stop offset="0.758" stop-color="#ffbd00"/><stop offset="0.885" stop-color="#ffb900"/><stop offset="1" stop-color="#ffa300"/></radialGradient><radialGradient id="b100" href="#br"><stop offset="0.0253" stop-color="#ffa300"/><stop offset="0.0404" stop-color="#ffa300"/><stop offset="0.0607" stop-color="#ff9f00"/><stop offset="0.091" stop-color="#ff9400"/><stop offset="0.131" stop-color="#ffb200"/><stop offset="0.182" stop-color="#ffab00"/><stop offset="0.253" stop-color="#ffb600"/><stop offset="0.329" stop-color="#ffab00"/><stop offset="0.404" stop-color="#ffb200"/><stop offset="0.505" stop-color="#ffb600"/><stop offset="0.632" stop-color="#ffbd00"/><stop offset="0.758" stop-color="#ffb200"/><stop offset="0.885" stop-color="#ffb600"/><stop offset="1" stop-color="#ff9f00"/></radialGradient><radialGradient id="b101" href="#br"><stop offset="0.0253" stop-color="#ff9800"/><stop offset="0.0404" stop-color="#ff9800"/><stop offset="0.0607" stop-color="#ff9800"/><stop offset="0.091" stop-color="#ff8d00"/><stop offset="0.131" stop-color="#ffae00"/><stop offset="0.182" stop-color="#ffa700"/><stop offset="0.253" stop-color="#ffae00"/><stop offset="0.329" stop-color="#ffa300"/><stop offset="0.404" stop-color="#ffab00"/><stop offset="0.505" stop-color="#ffae00"/><stop offset="0.632" stop-color="#ffb600"/><stop offset="0.758" stop-color="#ffae00"/><stop offset="0.885" stop-color="#ffb600"/><stop offset="1" stop-color="#ff9f00"/></radialGradient><radialGradient id="b102" href="#br"><stop offset="0.0253" stop-color="#ff9100"/><stop offset="0.0404" stop-color="#ff9100"/><stop offset="0.0607" stop-color="#ff8d00"/><stop offset="0.091" stop-color="#ff8600"/><stop offset="0.131" stop-color="#ffa700"/><stop offset="0.182" stop-color="#ff9f00"/><stop offset="0.253" stop-color="#ffab00"/><stop offset="0.329" stop-color="#ff9f00"/><stop offset="0.404" stop-color="#ffa300"/><stop offset="0.505" stop-color="#ffab00"/><stop offset="0.632" stop-color="#ffb200"/><stop offset="0.758" stop-color="#ffa700"/><stop offset="0.885" stop-color="#ffae00"/><stop offset="1" stop-color="#ff9c00"/></radialGradient><radialGradient id="b103" href="#br"><stop offset="0.0253" stop-color="#ff8900"/><stop offset="0.0404" stop-color="#ff8900"/><stop offset="0.0607" stop-color="#ff8600"/><stop offset="0.091" stop-color="#ff8200"/><stop offset="0.131" stop-color="#ffa300"/><stop offset="0.182" stop-color="#ff9c00"/><stop offset="0.253" stop-color="#ffa300"/><stop offset="0.329" stop-color="#ff9800"/><stop offset="0.404" stop-color="#ff9c00"/><stop offset="0.505" stop-color="#ffa300"/><stop offset="0.632" stop-color="#ffa700"/><stop offset="0.758" stop-color="#ffa300"/><stop offset="0.885" stop-color="#ffa300"/><stop offset="1" stop-color="#ff9c00"/></radialGradient><radialGradient id="b104" href="#br"><stop offset="0.0253" stop-color="#ff8200"/><stop offset="0.0404" stop-color="#ff8200"/><stop offset="0.0607" stop-color="#ff7e00"/><stop offset="0.091" stop-color="#ff7e00"/><stop offset="0.131" stop-color="#ff9c00"/><stop offset="0.182" stop-color="#ff9800"/><stop offset="0.253" stop-color="#ff9c00"/><stop offset="0.329" stop-color="#ff9400"/><stop offset="0.404" stop-color="#ff9400"/><stop offset="0.505" stop-color="#ff9c00"/><stop offset="0.632" stop-color="#ff9f00"/><stop offset="0.758" stop-color="#ff9f00"/><stop offset="0.885" stop-color="#ff9c00"/><stop offset="1" stop-color="#ff9c00"/></radialGradient><radialGradient id="b105" href="#br"><stop offset="0.0253" stop-color="#ff7a00"/><stop offset="0.0404" stop-color="#ff7a00"/><stop offset="0.0607" stop-color="#ff7700"/><stop offset="0.091" stop-color="#ff7700"/><stop offset="0.131" stop-color="#ff9400"/><stop offset="0.182" stop-color="#ff9100"/><stop offset="0.253" stop-color="#ff9800"/><stop offset="0.329" stop-color="#ff8d00"/><stop offset="0.404" stop-color="#ff9100"/><stop offset="0.505" stop-color="#ff9800"/><stop offset="0.632" stop-color="#ff9400"/><stop offset="0.758" stop-color="#ff9800"/><stop offset="0.885" stop-color="#ff9400"/><stop offset="1" stop-color="#ff9800"/></radialGradient><radialGradient id="b106" href="#br"><stop offset="0.0253" stop-color="#ff7300"/><stop offset="0.0404" stop-color="#ff7300"/><stop offset="0.0607" stop-color="#ff6f00"/><stop offset="0.091" stop-color="#ff7300"/><stop offset="0.131" stop-color="#ff8d00"/><stop offset="0.182" stop-color="#ff8d00"/><stop offset="0.253" stop-color="#ff9100"/><stop offset="0.329" stop-color="#ff8900"/><stop offset="0.404" stop-color="#ff8900"/><stop offset="0.505" stop-color="#ff9100"/><stop offset="0.632" stop-color="#ff8d00"/><stop offset="0.758" stop-color="#ff9400"/><stop offset="0.885" stop-color="#ff9100"/><stop offset="1" stop-color="#ff9800"/></radialGradient><radialGradient id="b107" href="#br"><stop offset="0.0253" stop-color="#ff6c00"/><stop offset="0.0404" stop-color="#ff6c00"/><stop offset="0.0607" stop-color="#ff6800"/><stop offset="0.091" stop-color="#ff6f00"/><stop offset="0.131" stop-color="#ff8600"/><stop offset="0.182" stop-color="#ff8600"/><stop offset="0.253" stop-color="#ff8d00"/><stop offset="0.329" stop-color="#ff8200"/><stop offset="0.404" stop-color="#ff8200"/><stop offset="0.505" stop-color="#ff8d00"/><stop offset="0.632" stop-color="#ff8900"/><stop offset="0.758" stop-color="#ff9100"/><stop offset="0.885" stop-color="#ff9100"/><stop offset="1" stop-color="#ff9400"/></radialGradient><radialGradient id="b108" href="#br"><stop offset="0.0253" stop-color="#ff6400"/><stop offset="0.0404" stop-color="#ff6400"/><stop offset="0.0607" stop-color="#ff6000"/><stop offset="0.091" stop-color="#ff6800"/><stop offset="0.131" stop-color="#ff7e00"/><stop offset="0.182" stop-color="#ff8200"/><stop offset="0.253" stop-color="#ff8600"/><stop offset="0.329" stop-color="#ff7e00"/><stop offset="0.404" stop-color="#ff7a00"/><stop offset="0.505" stop-color="#ff8900"/><stop offset="0.632" stop-color="#ff8900"/><stop offset="0.758" stop-color="#ff8d00"/><stop offset="0.885" stop-color="#ff8d00"/><stop offset="1" stop-color="#ff9400"/></radialGradient><radialGradient id="b109" href="#br"><stop offset="0.0253" stop-color="#ff5d00"/><stop offset="0.0404" stop-color="#ff5d00"/><stop offset="0.0607" stop-color="#ff5d00"/><stop offset="0.091" stop-color="#ff6400"/><stop offset="0.131" stop-color="#ff7700"/><stop offset="0.182" stop-color="#ff7e00"/><stop offset="0.253" stop-color="#ff7e00"/><stop offset="0.329" stop-color="#ff7700"/><stop offset="0.404" stop-color="#ff7700"/><stop offset="0.505" stop-color="#ff8200"/><stop offset="0.632" stop-color="#ff8600"/><stop offset="0.758" stop-color="#ff8900"/><stop offset="0.885" stop-color="#ff8d00"/><stop offset="1" stop-color="#ff9400"/></radialGradient><radialGradient id="b110" href="#br"><stop offset="0.0253" stop-color="#ff5500"/><stop offset="0.0404" stop-color="#ff5500"/><stop offset="0.0607" stop-color="#ff5900"/><stop offset="0.091" stop-color="#ff6000"/><stop offset="0.131" stop-color="#ff7300"/><stop offset="0.182" stop-color="#ff7700"/><stop offset="0.253" stop-color="#ff7a00"/><stop offset="0.329" stop-color="#ff7300"/><stop offset="0.404" stop-color="#ff6f00"/><stop offset="0.505" stop-color="#ff7e00"/><stop offset="0.632" stop-color="#ff8200"/><stop offset="0.758" stop-color="#ff8600"/><stop offset="0.885" stop-color="#ff8900"/><stop offset="1" stop-color="#ff9100"/></radialGradient><radialGradient id="b111" href="#br"><stop offset="0.0253" stop-color="#ff4e00"/><stop offset="0.0404" stop-color="#ff4e00"/><stop offset="0.0607" stop-color="#ff5200"/><stop offset="0.091" stop-color="#ff5900"/><stop offset="0.131" stop-color="#ff6c00"/><stop offset="0.182" stop-color="#ff7300"/><stop offset="0.253" stop-color="#ff7300"/><stop offset="0.329" stop-color="#ff6c00"/><stop offset="0.404" stop-color="#ff6800"/><stop offset="0.505" stop-color="#ff7a00"/><stop offset="0.632" stop-color="#ff8200"/><stop offset="0.758" stop-color="#ff8200"/><stop offset="0.885" stop-color="#ff8900"/><stop offset="1" stop-color="#ff9100"/></radialGradient><radialGradient id="b112" href="#br"><stop offset="0.0253" stop-color="#ff4a00"/><stop offset="0.0404" stop-color="#ff4a00"/><stop offset="0.0607" stop-color="#ff4e00"/><stop offset="0.091" stop-color="#ff5500"/><stop offset="0.131" stop-color="#ff6400"/><stop offset="0.182" stop-color="#ff6f00"/><stop offset="0.253" stop-color="#ff6f00"/><stop offset="0.329" stop-color="#ff6800"/><stop offset="0.404" stop-color="#ff6000"/><stop offset="0.505" stop-color="#ff7700"/><stop offset="0.632" stop-color="#ff7e00"/><stop offset="0.758" stop-color="#ff7e00"/><stop offset="0.885" stop-color="#ff8600"/><stop offset="1" stop-color="#ff9100"/></radialGradient><radialGradient id="b113" href="#br"><stop offset="0.0253" stop-color="#ff4300"/><stop offset="0.0404" stop-color="#ff4300"/><stop offset="0.0607" stop-color="#ff4700"/><stop offset="0.091" stop-color="#ff5200"/><stop offset="0.131" stop-color="#ff5d00"/><stop offset="0.182" stop-color="#ff6c00"/><stop offset="0.253" stop-color="#ff6800"/><stop offset="0.329" stop-color="#ff6000"/><stop offset="0.404" stop-color="#ff5d00"/><stop offset="0.505" stop-color="#ff7300"/><stop offset="0.632" stop-color="#ff7e00"/><stop offset="0.758" stop-color="#ff7a00"/><stop offset="0.885" stop-color="#ff8600"/><stop offset="1" stop-color="#ff9100"/></radialGradient><radialGradient id="b114" href="#br"><stop offset="0.0253" stop-color="#ff3b00"/><stop offset="0.0404" stop-color="#ff3b00"/><stop offset="0.0607" stop-color="#ff3f00"/><stop offset="0.091" stop-color="#ff4a00"/><stop offset="0.131" stop-color="#ff5500"/><stop offset="0.182" stop-color="#ff6400"/><stop offset="0.253" stop-color="#ff6400"/><stop offset="0.329" stop-color="#ff5d00"/><stop offset="0.404" stop-color="#ff5500"/><stop offset="0.505" stop-color="#ff6f00"/><stop offset="0.632" stop-color="#ff7a00"/><stop offset="0.758" stop-color="#ff7a00"/><stop offset="0.885" stop-color="#ff8200"/><stop offset="1" stop-color="#ff8d00"/></radialGradient><radialGradient id="b115" href="#br"><stop offset="0.0253" stop-color="#ff3800"/><stop offset="0.0404" stop-color="#ff3800"/><stop offset="0.0607" stop-color="#ff3b00"/><stop offset="0.091" stop-color="#ff4300"/><stop offset="0.131" stop-color="#ff4e00"/><stop offset="0.182" stop-color="#ff5d00"/><stop offset="0.253" stop-color="#ff5d00"/><stop offset="0.329" stop-color="#ff5900"/><stop offset="0.404" stop-color="#ff5200"/><stop offset="0.505" stop-color="#ff6c00"/><stop offset="0.632" stop-color="#ff7700"/><stop offset="0.758" stop-color="#ff7700"/><stop offset="0.885" stop-color="#ff8200"/><stop offset="1" stop-color="#ff8d00"/></radialGradient><radialGradient id="b116" href="#br"><stop offset="0.0253" stop-color="#ff3000"/><stop offset="0.0404" stop-color="#ff3000"/><stop offset="0.0607" stop-color="#ff3400"/><stop offset="0.091" stop-color="#ff3f00"/><stop offset="0.131" stop-color="#ff4700"/><stop offset="0.182" stop-color="#ff5500"/><stop offset="0.253" stop-color="#ff5900"/><stop offset="0.329" stop-color="#ff5200"/><stop offset="0.404" stop-color="#ff4e00"/><stop offset="0.505" stop-color="#ff6800"/><stop offset="0.632" stop-color="#ff7700"/><stop offset="0.758" stop-color="#ff7700"/><stop offset="0.885" stop-color="#ff8200"/><stop offset="1" stop-color="#ff8d00"/></radialGradient><radialGradient id="b117" href="#br"><stop offset="0.0253" stop-color="#ff2900"/><stop offset="0.0404" stop-color="#ff2900"/><stop offset="0.0607" stop-color="#ff2d00"/><stop offset="0.091" stop-color="#ff3800"/><stop offset="0.131" stop-color="#ff3f00"/><stop offset="0.182" stop-color="#ff4e00"/><stop offset="0.253" stop-color="#ff5200"/><stop offset="0.329" stop-color="#ff4e00"/><stop offset="0.404" stop-color="#ff4a00"/><stop offset="0.505" stop-color="#ff6400"/><stop offset="0.632" stop-color="#ff7300"/><stop offset="0.758" stop-color="#ff7700"/><stop offset="0.885" stop-color="#ff8200"/><stop offset="1" stop-color="#ff8d00"/></radialGradient><radialGradient id="b118" href="#br"><stop offset="0.0253" stop-color="#ff2500"/><stop offset="0.0404" stop-color="#ff2500"/><stop offset="0.0607" stop-color="#ff2900"/><stop offset="0.091" stop-color="#ff3400"/><stop offset="0.131" stop-color="#ff3800"/><stop offset="0.182" stop-color="#ff4700"/><stop offset="0.253" stop-color="#ff4e00"/><stop offset="0.329" stop-color="#ff4700"/><stop offset="0.404" stop-color="#ff4a00"/><stop offset="0.505" stop-color="#ff6000"/><stop offset="0.632" stop-color="#ff6f00"/><stop offset="0.758" stop-color="#ff7300"/><stop offset="0.885" stop-color="#ff8200"/><stop offset="1" stop-color="#ff8900"/></radialGradient><radialGradient id="b119" href="#br"><stop offset="0.0253" stop-color="#ff1e00"/><stop offset="0.0404" stop-color="#ff1e00"/><stop offset="0.0607" stop-color="#ff2200"/><stop offset="0.091" stop-color="#ff2d00"/><stop offset="0.131" stop-color="#ff3000"/><stop offset="0.182" stop-color="#ff3f00"/><stop offset="0.253" stop-color="#ff4700"/><stop offset="0.329" stop-color="#ff4300"/><stop offset="0.404" stop-color="#ff4700"/><stop offset="0.505" stop-color="#ff5d00"/><stop offset="0.632" stop-color="#ff6c00"/><stop offset="0.758" stop-color="#ff7300"/><stop offset="0.885" stop-color="#ff7e00"/><stop offset="1" stop-color="#ff8900"/></radialGradient><radialGradient id="b120" href="#br"><stop offset="0.0253" stop-color="#ff1a00"/><stop offset="0.0404" stop-color="#ff1a00"/><stop offset="0.0607" stop-color="#ff1e00"/><stop offset="0.091" stop-color="#ff2900"/><stop offset="0.131" stop-color="#ff2900"/><stop offset="0.182" stop-color="#ff3800"/><stop offset="0.253" stop-color="#ff4300"/><stop offset="0.329" stop-color="#ff3f00"/><stop offset="0.404" stop-color="#ff4700"/><stop offset="0.505" stop-color="#ff5900"/><stop offset="0.632" stop-color="#ff6800"/><stop offset="0.758" stop-color="#ff7300"/><stop offset="0.885" stop-color="#ff7e00"/><stop offset="1" stop-color="#ff8900"/></radialGradient><radialGradient id="b121" href="#br"><stop offset="0.0253" stop-color="#ff1300"/><stop offset="0.0404" stop-color="#ff1300"/><stop offset="0.0607" stop-color="#ff1600"/><stop offset="0.091" stop-color="#ff2200"/><stop offset="0.131" stop-color="#ff2500"/><stop offset="0.182" stop-color="#ff3000"/><stop offset="0.253" stop-color="#ff3b00"/><stop offset="0.329" stop-color="#ff3800"/><stop offset="0.404" stop-color="#ff4300"/><stop offset="0.505" stop-color="#ff5500"/><stop offset="0.632" stop-color="#ff6800"/><stop offset="0.758" stop-color="#ff6f00"/><stop offset="0.885" stop-color="#ff7e00"/><stop offset="1" stop-color="#ff8900"/></radialGradient><radialGradient id="b122" href="#br"><stop offset="0.0253" stop-color="#f60b00"/><stop offset="0.0404" stop-color="#f60b00"/><stop offset="0.0607" stop-color="#fa0f00"/><stop offset="0.091" stop-color="#ff1a00"/><stop offset="0.131" stop-color="#ff1e00"/><stop offset="0.182" stop-color="#ff2900"/><stop offset="0.253" stop-color="#ff3400"/><stop offset="0.329" stop-color="#ff3800"/><stop offset="0.404" stop-color="#ff4300"/><stop offset="0.505" stop-color="#ff5200"/><stop offset="0.632" stop-color="#ff6400"/><stop offset="0.758" stop-color="#ff6f00"/><stop offset="0.885" stop-color="#ff7a00"/><stop offset="1" stop-color="#ff8600"/></radialGradient><radialGradient id="b123" href="#br"><stop offset="0.0253" stop-color="#f10800"/><stop offset="0.0404" stop-color="#f10800"/><stop offset="0.0607" stop-color="#f60b00"/><stop offset="0.091" stop-color="#ff1600"/><stop offset="0.131" stop-color="#ff1a00"/><stop offset="0.182" stop-color="#ff2200"/><stop offset="0.253" stop-color="#ff2d00"/><stop offset="0.329" stop-color="#ff3400"/><stop offset="0.404" stop-color="#ff3f00"/><stop offset="0.505" stop-color="#ff4e00"/><stop offset="0.632" stop-color="#ff6000"/><stop offset="0.758" stop-color="#ff6800"/><stop offset="0.885" stop-color="#ff7a00"/><stop offset="1" stop-color="#ff8600"/></radialGradient><radialGradient id="b124" href="#br"><stop offset="0.0253" stop-color="#e80000"/><stop offset="0.0404" stop-color="#e80000"/><stop offset="0.0607" stop-color="#ed0400"/><stop offset="0.091" stop-color="#fa0f00"/><stop offset="0.131" stop-color="#ff1300"/><stop offset="0.182" stop-color="#ff1a00"/><stop offset="0.253" stop-color="#ff2500"/><stop offset="0.329" stop-color="#ff3400"/><stop offset="0.404" stop-color="#ff3f00"/><stop offset="0.505" stop-color="#ff4a00"/><stop offset="0.632" stop-color="#ff5d00"/><stop offset="0.758" stop-color="#ff6400"/><stop offset="0.885" stop-color="#ff7700"/><stop offset="1" stop-color="#ff8600"/></radialGradient><radialGradient id="b125" href="#br"><stop offset="0.0253" stop-color="#e40000"/><stop offset="0.0404" stop-color="#e40000"/><stop offset="0.0607" stop-color="#e80000"/><stop offset="0.091" stop-color="#f60b00"/><stop offset="0.131" stop-color="#fa0f00"/><stop offset="0.182" stop-color="#ff1300"/><stop offset="0.253" stop-color="#ff1e00"/><stop offset="0.329" stop-color="#ff2d00"/><stop offset="0.404" stop-color="#ff3b00"/><stop offset="0.505" stop-color="#ff4700"/><stop offset="0.632" stop-color="#ff5900"/><stop offset="0.758" stop-color="#ff6400"/><stop offset="0.885" stop-color="#ff7700"/><stop offset="1" stop-color="#ff8600"/></radialGradient><radialGradient id="b126" href="#br"><stop offset="0.0253" stop-color="#da0000"/><stop offset="0.0404" stop-color="#da0000"/><stop offset="0.0607" stop-color="#df0000"/><stop offset="0.091" stop-color="#ed0400"/><stop offset="0.131" stop-color="#f10800"/><stop offset="0.182" stop-color="#f60b00"/><stop offset="0.253" stop-color="#ff1a00"/><stop offset="0.329" stop-color="#ff2500"/><stop offset="0.404" stop-color="#ff3400"/><stop offset="0.505" stop-color="#ff4300"/><stop offset="0.632" stop-color="#ff5900"/><stop offset="0.758" stop-color="#ff6400"/><stop offset="0.885" stop-color="#ff7300"/><stop offset="1" stop-color="#ff8200"/></radialGradient><radialGradient id="b127" href="#br"><stop offset="0.0253" stop-color="#d60000"/><stop offset="0.0404" stop-color="#d60000"/><stop offset="0.0607" stop-color="#da0000"/><stop offset="0.091" stop-color="#e80000"/><stop offset="0.131" stop-color="#ed0400"/><stop offset="0.182" stop-color="#ed0400"/><stop offset="0.253" stop-color="#ff1300"/><stop offset="0.329" stop-color="#ff2200"/><stop offset="0.404" stop-color="#ff2d00"/><stop offset="0.505" stop-color="#ff3f00"/><stop offset="0.632" stop-color="#ff5500"/><stop offset="0.758" stop-color="#ff6000"/><stop offset="0.885" stop-color="#ff7300"/><stop offset="1" stop-color="#ff8200"/></radialGradient><radialGradient id="b128" href="#br"><stop offset="0.0253" stop-color="#d10000"/><stop offset="0.0404" stop-color="#d10000"/><stop offset="0.0607" stop-color="#d60000"/><stop offset="0.091" stop-color="#e40000"/><stop offset="0.131" stop-color="#e80000"/><stop offset="0.182" stop-color="#e80000"/><stop offset="0.253" stop-color="#fa0f00"/><stop offset="0.329" stop-color="#ff1a00"/><stop offset="0.404" stop-color="#ff2500"/><stop offset="0.505" stop-color="#ff3800"/><stop offset="0.632" stop-color="#ff5200"/><stop offset="0.758" stop-color="#ff6000"/><stop offset="0.885" stop-color="#ff6f00"/><stop offset="1" stop-color="#ff7e00"/></radialGradient><radialGradient id="b129" href="#br"><stop offset="0.0253" stop-color="#cd0000"/><stop offset="0.0404" stop-color="#cd0000"/><stop offset="0.0607" stop-color="#d10000"/><stop offset="0.091" stop-color="#df0000"/><stop offset="0.131" stop-color="#e40000"/><stop offset="0.182" stop-color="#e40000"/><stop offset="0.253" stop-color="#f10800"/><stop offset="0.329" stop-color="#ff1300"/><stop offset="0.404" stop-color="#ff2200"/><stop offset="0.505" stop-color="#ff3400"/><stop offset="0.632" stop-color="#ff4e00"/><stop offset="0.758" stop-color="#ff6000"/><stop offset="0.885" stop-color="#ff6c00"/><stop offset="1" stop-color="#ff7a00"/></radialGradient><radialGradient id="b130" href="#br"><stop offset="0.0253" stop-color="#c80000"/><stop offset="0.0404" stop-color="#c80000"/><stop offset="0.0607" stop-color="#cd0000"/><stop offset="0.091" stop-color="#da0000"/><stop offset="0.131" stop-color="#df0000"/><stop offset="0.182" stop-color="#da0000"/><stop offset="0.253" stop-color="#e80000"/><stop offset="0.329" stop-color="#fa0f00"/><stop offset="0.404" stop-color="#ff1a00"/><stop offset="0.505" stop-color="#ff2d00"/><stop offset="0.632" stop-color="#ff4a00"/><stop offset="0.758" stop-color="#ff5d00"/><stop offset="0.885" stop-color="#ff6c00"/><stop offset="1" stop-color="#ff7700"/></radialGradient><radialGradient id="b131" href="#br"><stop offset="0.0253" stop-color="#c40000"/><stop offset="0.0404" stop-color="#c40000"/><stop offset="0.0607" stop-color="#c80000"/><stop offset="0.091" stop-color="#da0000"/><stop offset="0.131" stop-color="#da0000"/><stop offset="0.182" stop-color="#d60000"/><stop offset="0.253" stop-color="#e40000"/><stop offset="0.329" stop-color="#f10800"/><stop offset="0.404" stop-color="#ff1600"/><stop offset="0.505" stop-color="#ff2900"/><stop offset="0.632" stop-color="#ff4300"/><stop offset="0.758" stop-color="#ff5d00"/><stop offset="0.885" stop-color="#ff6800"/><stop offset="1" stop-color="#ff7700"/></radialGradient><radialGradient id="b132" href="#br"><stop offset="0.0253" stop-color="#bf0000"/><stop offset="0.0404" stop-color="#bf0000"/><stop offset="0.0607" stop-color="#c80000"/><stop offset="0.091" stop-color="#d60000"/><stop offset="0.131" stop-color="#d60000"/><stop offset="0.182" stop-color="#d10000"/><stop offset="0.253" stop-color="#da0000"/><stop offset="0.329" stop-color="#ed0400"/><stop offset="0.404" stop-color="#ff1300"/><stop offset="0.505" stop-color="#ff2200"/><stop offset="0.632" stop-color="#ff3f00"/><stop offset="0.758" stop-color="#ff5500"/><stop offset="0.885" stop-color="#ff6400"/><stop offset="1" stop-color="#ff7300"/></radialGradient><radialGradient id="b133" href="#br"><stop offset="0.0253" stop-color="#bb0000"/><stop offset="0.0404" stop-color="#bb0000"/><stop offset="0.0607" stop-color="#c40000"/><stop offset="0.091" stop-color="#d10000"/><stop offset="0.131" stop-color="#cd0000"/><stop offset="0.182" stop-color="#cd0000"/><stop offset="0.253" stop-color="#d10000"/><stop offset="0.329" stop-color="#e80000"/><stop offset="0.404" stop-color="#fa0f00"/><stop offset="0.505" stop-color="#ff1e00"/><stop offset="0.632" stop-color="#ff3f00"/><stop offset="0.758" stop-color="#ff4e00"/><stop offset="0.885" stop-color="#ff6000"/><stop offset="1" stop-color="#ff6f00"/></radialGradient><radialGradient id="b134" href="#br"><stop offset="0.0253" stop-color="#b60000"/><stop offset="0.0404" stop-color="#b60000"/><stop offset="0.0607" stop-color="#bf0000"/><stop offset="0.091" stop-color="#cd0000"/><stop offset="0.131" stop-color="#c80000"/><stop offset="0.182" stop-color="#c80000"/><stop offset="0.253" stop-color="#c80000"/><stop offset="0.329" stop-color="#df0000"/><stop offset="0.404" stop-color="#f60b00"/><stop offset="0.505" stop-color="#ff1600"/><stop offset="0.632" stop-color="#ff3b00"/><stop offset="0.758" stop-color="#ff4a00"/><stop offset="0.885" stop-color="#ff5d00"/><stop offset="1" stop-color="#ff6c00"/></radialGradient><radialGradient id="b135" href="#br"><stop offset="0.0253" stop-color="#b20000"/><stop offset="0.0404" stop-color="#b20000"/><stop offset="0.0607" stop-color="#bb0000"/><stop offset="0.091" stop-color="#c80000"/><stop offset="0.131" stop-color="#c40000"/><stop offset="0.182" stop-color="#c40000"/><stop offset="0.253" stop-color="#bf0000"/><stop offset="0.329" stop-color="#d60000"/><stop offset="0.404" stop-color="#ed0400"/><stop offset="0.505" stop-color="#ff1300"/><stop offset="0.632" stop-color="#ff3400"/><stop offset="0.758" stop-color="#ff4700"/><stop offset="0.885" stop-color="#ff5900"/><stop offset="1" stop-color="#ff6800"/></radialGradient><radialGradient id="b136" href="#br"><stop offset="0.0253" stop-color="#b20000"/><stop offset="0.0404" stop-color="#b20000"/><stop offset="0.0607" stop-color="#b60000"/><stop offset="0.091" stop-color="#c40000"/><stop offset="0.131" stop-color="#bf0000"/><stop offset="0.182" stop-color="#bf0000"/><stop offset="0.253" stop-color="#bb0000"/><stop offset="0.329" stop-color="#cd0000"/><stop offset="0.404" stop-color="#e40000"/><stop offset="0.505" stop-color="#fa0f00"/><stop offset="0.632" stop-color="#ff3000"/><stop offset="0.758" stop-color="#ff4300"/><stop offset="0.885" stop-color="#ff5900"/><stop offset="1" stop-color="#ff6000"/></radialGradient><radialGradient id="b137" href="#br"><stop offset="0.0253" stop-color="#ad0000"/><stop offset="0.0404" stop-color="#ad0000"/><stop offset="0.0607" stop-color="#b20000"/><stop offset="0.091" stop-color="#bf0000"/><stop offset="0.131" stop-color="#bb0000"/><stop offset="0.182" stop-color="#b60000"/><stop offset="0.253" stop-color="#b60000"/><stop offset="0.329" stop-color="#c80000"/><stop offset="0.404" stop-color="#da0000"/><stop offset="0.505" stop-color="#f10800"/><stop offset="0.632" stop-color="#ff2900"/><stop offset="0.758" stop-color="#ff3f00"/><stop offset="0.885" stop-color="#ff5500"/><stop offset="1" stop-color="#ff5d00"/></radialGradient><radialGradient id="b138" href="#br"><stop offset="0.0253" stop-color="#a80000"/><stop offset="0.0404" stop-color="#a80000"/><stop offset="0.0607" stop-color="#ad0000"/><stop offset="0.091" stop-color="#bb0000"/><stop offset="0.131" stop-color="#b60000"/><stop offset="0.182" stop-color="#b20000"/><stop offset="0.253" stop-color="#b20000"/><stop offset="0.329" stop-color="#bf0000"/><stop offset="0.404" stop-color="#d10000"/><stop offset="0.505" stop-color="#ed0400"/><stop offset="0.632" stop-color="#ff2500"/><stop offset="0.758" stop-color="#ff3b00"/><stop offset="0.885" stop-color="#ff4e00"/><stop offset="1" stop-color="#ff5900"/></radialGradient><radialGradient id="b139" href="#br"><stop offset="0.0253" stop-color="#a40000"/><stop offset="0.0404" stop-color="#a40000"/><stop offset="0.0607" stop-color="#a80000"/><stop offset="0.091" stop-color="#b60000"/><stop offset="0.131" stop-color="#b60000"/><stop offset="0.182" stop-color="#b20000"/><stop offset="0.253" stop-color="#bb0000"/><stop offset="0.329" stop-color="#c40000"/><stop offset="0.404" stop-color="#cd0000"/><stop offset="0.505" stop-color="#e80000"/><stop offset="0.632" stop-color="#ff2200"/><stop offset="0.758" stop-color="#ff3800"/><stop offset="0.885" stop-color="#ff4a00"/><stop offset="1" stop-color="#ff5200"/></radialGradient><clipPath id="bclip"><path d="M418.8 321.5 L430.98 3.23 A318.5 318.5 0 0 1 737.2 321.5 Z"/></clipPath><clipPath id="bbox"><rect x="418.8" y="3.5" width="319" height="318"/></clipPath><filter id="bblur" x="-5%" y="-5%" width="110%" height="110%"><feGaussianBlur stdDeviation="1.1"/></filter></defs>
<g clip-path="url(#bbox)"><g clip-path="url(#bclip)"><g filter="url(#bblur)"><path d="M418.8 321.5L418.8 -1.0L423.8 -1.0Z" fill="url(#b0)"/><path d="M418.8 321.5L421.6 -1.0L426.6 -0.9Z" fill="url(#b1)"/><path d="M418.8 321.5L424.4 -1.0L429.4 -0.8Z" fill="url(#b2)"/><path d="M418.8 321.5L427.2 -0.9L432.3 -0.7Z" fill="url(#b3)"/><path d="M418.8 321.5L430.0 -0.8L435.1 -0.6Z" fill="url(#b4)"/><path d="M418.8 321.5L432.8 -0.7L437.9 -0.4Z" fill="url(#b5)"/><path d="M418.8 321.5L435.6 -0.6L440.7 -0.3Z" fill="url(#b6)"/><path d="M418.8 321.5L438.4 -0.4L443.5 -0.0Z" fill="url(#b7)"/><path d="M418.8 321.5L441.2 -0.2L446.3 0.2Z" fill="url(#b8)"/><path d="M418.8 321.5L444.1 -0.0L449.1 0.4Z" fill="url(#b9)"/><path d="M418.8 321.5L446.9 0.2L451.9 0.7Z" fill="url(#b10)"/><path d="M418.8 321.5L449.7 0.5L454.7 1.0Z" fill="url(#b11)"/><path d="M418.8 321.5L452.5 0.8L457.5 1.3Z" fill="url(#b12)"/><path d="M418.8 321.5L455.3 1.1L460.3 1.7Z" fill="url(#b13)"/><path d="M418.8 321.5L458.1 1.4L463.1 2.1Z" fill="url(#b14)"/><path d="M418.8 321.5L460.8 1.8L465.9 2.5Z" fill="url(#b15)"/><path d="M418.8 321.5L463.6 2.1L468.6 2.9Z" fill="url(#b16)"/><path d="M418.8 321.5L466.4 2.5L471.4 3.3Z" fill="url(#b17)"/><path d="M418.8 321.5L469.2 3.0L474.2 3.8Z" fill="url(#b18)"/><path d="M418.8 321.5L472.0 3.4L477.0 4.3Z" fill="url(#b19)"/><path d="M418.8 321.5L474.8 3.9L479.7 4.8Z" fill="url(#b20)"/><path d="M418.8 321.5L477.5 4.4L482.5 5.4Z" fill="url(#b21)"/><path d="M418.8 321.5L480.3 4.9L485.3 5.9Z" fill="url(#b22)"/><path d="M418.8 321.5L483.0 5.5L488.0 6.5Z" fill="url(#b23)"/><path d="M418.8 321.5L485.8 6.0L490.7 7.1Z" fill="url(#b24)"/><path d="M418.8 321.5L488.6 6.6L493.5 7.8Z" fill="url(#b25)"/><path d="M418.8 321.5L491.3 7.3L496.2 8.4Z" fill="url(#b26)"/><path d="M418.8 321.5L494.0 7.9L499.0 9.1Z" fill="url(#b27)"/><path d="M418.8 321.5L496.8 8.6L501.7 9.8Z" fill="url(#b28)"/><path d="M418.8 321.5L499.5 9.3L504.4 10.6Z" fill="url(#b29)"/><path d="M418.8 321.5L502.2 10.0L507.1 11.3Z" fill="url(#b30)"/><path d="M418.8 321.5L504.9 10.7L509.8 12.1Z" fill="url(#b31)"/><path d="M418.8 321.5L507.6 11.5L512.5 12.9Z" fill="url(#b32)"/><path d="M418.8 321.5L510.3 12.3L515.2 13.8Z" fill="url(#b33)"/><path d="M418.8 321.5L513.0 13.1L517.9 14.6Z" fill="url(#b34)"/><path d="M418.8 321.5L515.7 13.9L520.5 15.5Z" fill="url(#b35)"/><path d="M418.8 321.5L518.4 14.8L523.2 16.4Z" fill="url(#b36)"/><path d="M418.8 321.5L521.1 15.7L525.9 17.3Z" fill="url(#b37)"/><path d="M418.8 321.5L523.7 16.6L528.5 18.3Z" fill="url(#b38)"/><path d="M418.8 321.5L526.4 17.5L531.2 19.2Z" fill="url(#b39)"/><path d="M418.8 321.5L529.1 18.4L533.8 20.2Z" fill="url(#b40)"/><path d="M418.8 321.5L531.7 19.4L536.4 21.2Z" fill="url(#b41)"/><path d="M418.8 321.5L534.3 20.4L539.0 22.3Z" fill="url(#b42)"/><path d="M418.8 321.5L536.9 21.4L541.6 23.3Z" fill="url(#b43)"/><path d="M418.8 321.5L539.6 22.5L544.2 24.4Z" fill="url(#b44)"/><path d="M418.8 321.5L542.2 23.5L546.8 25.5Z" fill="url(#b45)"/><path d="M418.8 321.5L544.8 24.6L549.4 26.7Z" fill="url(#b46)"/><path d="M418.8 321.5L547.3 25.7L552.0 27.8Z" fill="url(#b47)"/><path d="M418.8 321.5L549.9 26.9L554.5 29.0Z" fill="url(#b48)"/><path d="M418.8 321.5L552.5 28.0L557.1 30.2Z" fill="url(#b49)"/><path d="M418.8 321.5L555.0 29.2L559.6 31.4Z" fill="url(#b50)"/><path d="M418.8 321.5L557.6 30.4L562.1 32.6Z" fill="url(#b51)"/><path d="M418.8 321.5L560.1 31.6L564.7 33.9Z" fill="url(#b52)"/><path d="M418.8 321.5L562.6 32.9L567.2 35.2Z" fill="url(#b53)"/><path d="M418.8 321.5L565.2 34.2L569.7 36.5Z" fill="url(#b54)"/><path d="M418.8 321.5L567.7 35.4L572.1 37.8Z" fill="url(#b55)"/><path d="M418.8 321.5L570.2 36.7L574.6 39.2Z" fill="url(#b56)"/><path d="M418.8 321.5L572.6 38.1L577.1 40.5Z" fill="url(#b57)"/><path d="M418.8 321.5L575.1 39.4L579.5 41.9Z" fill="url(#b58)"/><path d="M418.8 321.5L577.6 40.8L581.9 43.3Z" fill="url(#b59)"/><path d="M418.8 321.5L580.0 42.2L585.6 45.5Z" fill="url(#b60)"/><path d="M418.8 321.5L583.6 44.3L589.2 47.7Z" fill="url(#b61)"/><path d="M418.8 321.5L587.3 46.5L592.7 50.0Z" fill="url(#b62)"/><path d="M418.8 321.5L590.8 48.8L596.3 52.3Z" fill="url(#b63)"/><path d="M418.8 321.5L594.4 51.0L599.8 54.6Z" fill="url(#b64)"/><path d="M418.8 321.5L597.9 53.4L603.3 57.0Z" fill="url(#b65)"/><path d="M418.8 321.5L601.4 55.7L606.7 59.4Z" fill="url(#b66)"/><path d="M418.8 321.5L604.9 58.1L610.1 61.9Z" fill="url(#b67)"/><path d="M418.8 321.5L608.3 60.6L613.5 64.4Z" fill="url(#b68)"/><path d="M418.8 321.5L611.7 63.1L616.9 67.0Z" fill="url(#b69)"/><path d="M418.8 321.5L615.1 65.6L620.2 69.6Z" fill="url(#b70)"/><path d="M418.8 321.5L618.4 68.2L623.5 72.3Z" fill="url(#b71)"/><path d="M418.8 321.5L621.7 70.9L626.7 75.0Z" fill="url(#b72)"/><path d="M418.8 321.5L625.0 73.5L629.9 77.7Z" fill="url(#b73)"/><path d="M418.8 321.5L628.2 76.3L633.1 80.5Z" fill="url(#b74)"/><path d="M418.8 321.5L631.4 79.0L636.2 83.3Z" fill="url(#b75)"/><path d="M418.8 321.5L634.5 81.8L639.3 86.2Z" fill="url(#b76)"/><path d="M418.8 321.5L637.7 84.7L642.4 89.1Z" fill="url(#b77)"/><path d="M418.8 321.5L640.7 87.6L645.4 92.1Z" fill="url(#b78)"/><path d="M418.8 321.5L643.8 90.5L648.4 95.1Z" fill="url(#b79)"/><path d="M418.8 321.5L646.8 93.5L651.3 98.1Z" fill="url(#b80)"/><path d="M418.8 321.5L649.8 96.5L654.2 101.1Z" fill="url(#b81)"/><path d="M418.8 321.5L652.7 99.5L657.1 104.2Z" fill="url(#b82)"/><path d="M418.8 321.5L655.6 102.6L659.9 107.4Z" fill="url(#b83)"/><path d="M418.8 321.5L658.4 105.7L662.7 110.6Z" fill="url(#b84)"/><path d="M418.8 321.5L661.2 108.9L665.4 113.8Z" fill="url(#b85)"/><path d="M418.8 321.5L664.0 112.1L668.1 117.0Z" fill="url(#b86)"/><path d="M418.8 321.5L666.7 115.3L670.8 120.3Z" fill="url(#b87)"/><path d="M418.8 321.5L669.4 118.5L673.4 123.6Z" fill="url(#b88)"/><path d="M418.8 321.5L672.0 121.8L676.0 127.0Z" fill="url(#b89)"/><path d="M418.8 321.5L674.6 125.2L678.5 130.3Z" fill="url(#b90)"/><path d="M418.8 321.5L677.2 128.5L681.0 133.8Z" fill="url(#b91)"/><path d="M418.8 321.5L679.7 131.9L683.4 137.2Z" fill="url(#b92)"/><path d="M418.8 321.5L682.1 135.4L685.8 140.7Z" fill="url(#b93)"/><path d="M418.8 321.5L684.5 138.8L688.1 144.2Z" fill="url(#b94)"/><path d="M418.8 321.5L686.9 142.3L690.4 147.7Z" fill="url(#b95)"/><path d="M418.8 321.5L689.2 145.9L692.7 151.3Z" fill="url(#b96)"/><path d="M418.8 321.5L691.5 149.4L694.9 154.9Z" fill="url(#b97)"/><path d="M418.8 321.5L693.7 153.0L697.1 158.5Z" fill="url(#b98)"/><path d="M418.8 321.5L695.9 156.6L699.2 162.2Z" fill="url(#b99)"/><path d="M418.8 321.5L698.0 160.2L701.2 165.9Z" fill="url(#b100)"/><path d="M418.8 321.5L700.1 163.9L703.2 169.6Z" fill="url(#b101)"/><path d="M418.8 321.5L702.2 167.6L705.2 173.3Z" fill="url(#b102)"/><path d="M418.8 321.5L704.2 171.3L707.1 177.1Z" fill="url(#b103)"/><path d="M418.8 321.5L706.1 175.1L709.0 180.9Z" fill="url(#b104)"/><path d="M418.8 321.5L708.0 178.9L710.8 184.7Z" fill="url(#b105)"/><path d="M418.8 321.5L709.8 182.7L712.6 188.5Z" fill="url(#b106)"/><path d="M418.8 321.5L711.6 186.5L714.3 192.4Z" fill="url(#b107)"/><path d="M418.8 321.5L713.4 190.3L715.9 196.3Z" fill="url(#b108)"/><path d="M418.8 321.5L715.1 194.2L717.6 200.2Z" fill="url(#b109)"/><path d="M418.8 321.5L716.7 198.1L719.1 204.1Z" fill="url(#b110)"/><path d="M418.8 321.5L718.3 202.0L720.6 208.0Z" fill="url(#b111)"/><path d="M418.8 321.5L719.8 205.9L722.1 212.0Z" fill="url(#b112)"/><path d="M418.8 321.5L721.3 209.9L723.5 216.0Z" fill="url(#b113)"/><path d="M418.8 321.5L722.8 213.8L724.9 220.0Z" fill="url(#b114)"/><path d="M418.8 321.5L724.1 217.8L726.2 224.0Z" fill="url(#b115)"/><path d="M418.8 321.5L725.5 221.8L727.4 228.0Z" fill="url(#b116)"/><path d="M418.8 321.5L726.7 225.9L728.6 232.1Z" fill="url(#b117)"/><path d="M418.8 321.5L728.0 229.9L729.7 236.1Z" fill="url(#b118)"/><path d="M418.8 321.5L729.1 234.0L730.8 240.2Z" fill="url(#b119)"/><path d="M418.8 321.5L730.3 238.0L731.9 244.3Z" fill="url(#b120)"/><path d="M418.8 321.5L731.3 242.1L732.9 248.4Z" fill="url(#b121)"/><path d="M418.8 321.5L732.3 246.2L733.8 252.5Z" fill="url(#b122)"/><path d="M418.8 321.5L733.3 250.3L734.7 256.7Z" fill="url(#b123)"/><path d="M418.8 321.5L734.2 254.4L735.5 260.8Z" fill="url(#b124)"/><path d="M418.8 321.5L735.1 258.6L736.3 264.9Z" fill="url(#b125)"/><path d="M418.8 321.5L735.8 262.7L737.0 269.1Z" fill="url(#b126)"/><path d="M418.8 321.5L736.6 266.9L737.6 273.3Z" fill="url(#b127)"/><path d="M418.8 321.5L737.3 271.0L738.2 277.5Z" fill="url(#b128)"/><path d="M418.8 321.5L737.9 275.2L738.8 281.6Z" fill="url(#b129)"/><path d="M418.8 321.5L738.5 279.4L739.3 285.8Z" fill="url(#b130)"/><path d="M418.8 321.5L739.0 283.6L739.7 290.0Z" fill="url(#b131)"/><path d="M418.8 321.5L739.5 287.8L740.1 294.2Z" fill="url(#b132)"/><path d="M418.8 321.5L739.9 292.0L740.4 298.4Z" fill="url(#b133)"/><path d="M418.8 321.5L740.3 296.2L740.7 302.7Z" fill="url(#b134)"/><path d="M418.8 321.5L740.6 300.4L740.9 306.9Z" fill="url(#b135)"/><path d="M418.8 321.5L740.8 304.6L741.1 311.1Z" fill="url(#b136)"/><path d="M418.8 321.5L741.0 308.8L741.2 315.3Z" fill="url(#b137)"/><path d="M418.8 321.5L741.1 313.1L741.2 319.5Z" fill="url(#b138)"/><path d="M418.8 321.5L741.2 317.3L741.2 323.8Z" fill="url(#b139)"/></g></g><circle cx="418.8" cy="321.5" r="8.1" fill="#fff"/></g>
<defs><linearGradient id="bband" gradientUnits="userSpaceOnUse" x1="426" x2="737.75" y1="0" y2="0"><stop offset="0.000" stop-color="#800000"/><stop offset="0.382" stop-color="#800000"/><stop offset="0.494" stop-color="#9f0000"/><stop offset="0.622" stop-color="#bf0000"/><stop offset="0.815" stop-color="#da0000"/><stop offset="1.000" stop-color="#ed0400"/></linearGradient></defs>
<g clip-path="url(#bbox)"><path d="M426.0 321.5L430.0 319.3L440.0 318.8L480.0 318.9L515.0 319.1L531.0 318.6L548.0 317.5L565.0 316.9L582.6 315.8L600.0 315.3L617.0 314.0L634.0 313.3L651.0 311.7L668.0 310.4L685.0 308.3L702.0 305.9L719.5 302.8L730.0 300.8L738.0 299.0L738 321.5Z" fill="url(#bband)" clip-path="url(#bclip)"/></g>
<g clip-path="url(#bbox)">
<g clip-path="url(#bclip)" fill="none" stroke="#8c8c8c" stroke-width="1.1">
<path d="M482.5 0.0C481.8 8.0 480.2 31.7 478.5 48.0C476.8 64.3 474.3 81.5 472.2 98.0C470.1 114.5 467.9 133.3 466.0 147.0C464.1 160.7 462.6 168.4 461.0 180.0C459.4 191.6 458.2 205.9 456.5 216.5C454.8 227.1 452.8 234.7 451.0 243.8C449.2 252.9 447.1 261.9 445.5 271.0C443.9 280.1 442.4 291.3 441.4 298.5C440.4 305.7 439.9 310.7 439.4 314.0C438.9 317.3 438.7 317.8 438.2 318.5C437.7 319.2 437.0 319.2 436.6 318.5C436.2 317.8 435.5 317.3 435.6 314.0C435.7 310.7 436.2 305.7 437.3 298.5C438.4 291.3 440.2 280.1 441.9 271.0C443.6 261.9 445.6 252.9 447.4 243.8C449.2 234.7 451.1 227.1 452.8 216.5C454.5 205.9 456.2 191.6 457.8 180.0C459.4 168.4 460.7 160.7 462.5 147.0C464.3 133.3 466.7 114.5 468.8 98.0C470.8 81.5 473.3 64.3 475.0 48.0C476.7 31.7 478.3 8.0 479.0 0.0"/>
<path d="M447.5 320.0C448.5 318.3 451.0 315.0 453.8 310.0C456.5 305.0 460.2 298.3 463.8 290.0C467.3 281.7 471.5 270.4 475.0 260.0C478.5 249.6 481.9 239.2 485.0 227.5C488.1 215.8 490.8 204.6 493.8 190.0C496.7 175.4 499.8 155.0 502.5 140.0C505.2 125.0 507.3 115.0 510.0 100.0C512.7 85.0 516.0 63.8 518.8 50.0C521.5 36.2 524.7 24.5 526.2 17.5C527.8 10.5 527.7 9.6 528.0 8.0"/>
<path d="M487.5 319.0C487.3 316.2 485.8 306.9 486.2 302.5C486.7 298.1 488.1 295.8 490.0 292.5C491.9 289.2 494.2 287.9 497.5 282.5C500.8 277.1 505.8 268.3 510.0 260.0C514.2 251.7 518.3 242.1 522.5 232.5C526.7 222.9 531.2 213.8 535.0 202.5C538.8 191.2 541.7 178.8 545.0 165.0C548.3 151.2 550.8 136.2 555.0 120.0C559.2 103.8 566.2 80.8 570.0 68.0C573.8 55.2 576.2 48.7 578.0 43.0C579.8 37.3 580.5 35.5 581.0 34.0"/>
<path d="M503.8 317.0C504.2 315.8 505.6 312.8 506.2 310.0C506.9 307.2 506.9 303.3 507.5 300.0C508.1 296.7 508.8 293.3 510.0 290.0C511.2 286.7 512.1 285.0 515.0 280.0C517.9 275.0 523.3 267.5 527.5 260.0C531.7 252.5 535.8 243.8 540.0 235.0C544.2 226.2 548.8 218.0 552.5 207.5C556.2 197.0 559.6 182.8 562.5 172.0C565.4 161.2 566.7 155.0 570.0 143.0C573.3 131.0 578.5 114.2 582.5 100.0C586.5 85.8 591.5 66.2 593.8 57.5C596.0 48.8 595.6 49.6 596.0 48.0"/>
<path d="M521.2 317.0C521.7 315.0 523.1 308.7 523.8 305.0C524.4 301.3 524.6 298.8 525.0 295.0C525.4 291.2 525.0 287.5 526.2 282.5C527.5 277.5 529.4 271.2 532.5 265.0C535.6 258.8 540.8 252.9 545.0 245.0C549.2 237.1 553.3 228.3 557.5 217.5C561.7 206.7 565.4 194.6 570.0 180.0C574.6 165.4 579.4 149.2 585.0 130.0C590.6 110.8 600.2 77.3 603.8 65.0C607.2 52.7 605.6 57.5 606.0 56.0"/>
<path d="M687.5 150.0C686.2 153.8 682.5 164.6 680.0 172.5C677.5 180.4 674.2 189.2 672.5 197.5C670.8 205.8 670.8 214.6 670.0 222.5C669.2 230.4 668.5 237.9 667.5 245.0C666.5 252.1 665.4 259.6 663.8 265.0C662.1 270.4 657.9 274.8 657.5 277.5C657.1 280.2 660.4 279.8 661.2 281.2C662.1 282.7 663.1 285.0 662.5 286.2C661.9 287.5 660.0 288.3 657.5 288.8C655.0 289.2 651.2 287.7 647.5 288.8C643.8 289.8 639.2 292.7 635.0 295.0C630.8 297.3 626.7 300.0 622.5 302.5C618.3 305.0 612.1 308.8 610.0 310.0"/>
<path d="M735.0 271.0C732.9 272.5 727.5 277.2 722.5 280.0C717.5 282.8 711.2 285.4 705.0 287.5C698.8 289.6 691.2 290.4 685.0 292.5C678.8 294.6 672.5 297.7 667.5 300.0C662.5 302.3 657.1 305.2 655.0 306.2"/>
<path d="M738.0 284.5C735.4 286.2 727.2 292.0 722.5 295.0C717.8 298.0 712.1 301.2 710.0 302.5"/>
<path d="M474.2 321v-5M464.2 321v-4.5M448.5 321v-4M527 317l-2.5 3"/>
</g>
<path d="M479.5 3.8C479.2 5.1 477.9 9.7 477.5 12.0C477.1 14.3 476.6 15.8 477.0 17.5C477.4 19.2 479.5 21.7 480.0 22.5L493.75 37.5L516.25 18.75" fill="none" stroke="#000" stroke-width="1.1"/>
<path d="M425.8 318.0L737.8 163.0M426.8 320.1L737.8 266.6" fill="none" stroke="#000" stroke-width="1.0" stroke-dasharray="5.5 3.5"/>
</g>
<path d="M430.28 276.88h1.25v1.25h-1.25zM430.28 298.78h1.25v1.25h-1.25zM445.83 101.68h1.25v1.25h-1.25zM445.83 123.58h1.25v1.25h-1.25zM445.83 298.78h1.25v1.25h-1.25zM461.38 298.78h1.25v1.25h-1.25zM476.93 298.78h1.25v1.25h-1.25zM492.48 298.78h1.25v1.25h-1.25zM508.03 298.78h1.25v1.25h-1.25zM523.58 14.08h1.25v1.25h-1.25zM523.58 276.88h1.25v1.25h-1.25zM523.58 298.78h1.25v1.25h-1.25zM539.13 14.08h1.25v1.25h-1.25zM539.13 276.88h1.25v1.25h-1.25zM539.13 298.78h1.25v1.25h-1.25zM554.68 14.08h1.25v1.25h-1.25zM554.68 254.98h1.25v1.25h-1.25zM554.68 276.88h1.25v1.25h-1.25zM554.68 298.78h1.25v1.25h-1.25zM570.23 14.08h1.25v1.25h-1.25zM570.23 35.98h1.25v1.25h-1.25zM570.23 254.98h1.25v1.25h-1.25zM570.23 276.88h1.25v1.25h-1.25zM570.23 298.78h1.25v1.25h-1.25zM585.78 14.08h1.25v1.25h-1.25zM585.78 35.98h1.25v1.25h-1.25zM585.78 254.98h1.25v1.25h-1.25zM585.78 276.88h1.25v1.25h-1.25zM585.78 298.78h1.25v1.25h-1.25zM601.33 14.08h1.25v1.25h-1.25zM601.33 35.98h1.25v1.25h-1.25zM601.33 57.88h1.25v1.25h-1.25zM601.33 233.08h1.25v1.25h-1.25zM601.33 254.98h1.25v1.25h-1.25zM601.33 276.88h1.25v1.25h-1.25zM601.33 298.78h1.25v1.25h-1.25zM616.88 14.08h1.25v1.25h-1.25zM616.88 35.98h1.25v1.25h-1.25zM616.88 57.88h1.25v1.25h-1.25zM616.88 211.18h1.25v1.25h-1.25zM616.88 233.08h1.25v1.25h-1.25zM616.88 254.98h1.25v1.25h-1.25zM616.88 276.88h1.25v1.25h-1.25zM616.88 298.78h1.25v1.25h-1.25zM632.43 14.08h1.25v1.25h-1.25zM632.43 35.98h1.25v1.25h-1.25zM632.43 57.88h1.25v1.25h-1.25zM632.43 79.78h1.25v1.25h-1.25zM632.43 189.28h1.25v1.25h-1.25zM632.43 211.18h1.25v1.25h-1.25zM632.43 233.08h1.25v1.25h-1.25zM632.43 254.98h1.25v1.25h-1.25zM632.43 276.88h1.25v1.25h-1.25zM632.43 298.78h1.25v1.25h-1.25zM647.98 14.08h1.25v1.25h-1.25zM647.98 35.98h1.25v1.25h-1.25zM647.98 57.88h1.25v1.25h-1.25zM647.98 79.78h1.25v1.25h-1.25zM647.98 167.38h1.25v1.25h-1.25zM647.98 189.28h1.25v1.25h-1.25zM647.98 211.18h1.25v1.25h-1.25zM647.98 233.08h1.25v1.25h-1.25zM647.98 254.98h1.25v1.25h-1.25zM647.98 276.88h1.25v1.25h-1.25zM647.98 298.78h1.25v1.25h-1.25zM663.53 14.08h1.25v1.25h-1.25zM663.53 35.98h1.25v1.25h-1.25zM663.53 57.88h1.25v1.25h-1.25zM663.53 79.78h1.25v1.25h-1.25zM663.53 101.68h1.25v1.25h-1.25zM663.53 123.58h1.25v1.25h-1.25zM663.53 145.48h1.25v1.25h-1.25zM663.53 167.38h1.25v1.25h-1.25zM663.53 189.28h1.25v1.25h-1.25zM663.53 211.18h1.25v1.25h-1.25zM663.53 233.08h1.25v1.25h-1.25zM663.53 254.98h1.25v1.25h-1.25zM663.53 276.88h1.25v1.25h-1.25zM663.53 298.78h1.25v1.25h-1.25zM679.08 14.08h1.25v1.25h-1.25zM679.08 35.98h1.25v1.25h-1.25zM679.08 57.88h1.25v1.25h-1.25zM679.08 79.78h1.25v1.25h-1.25zM679.08 101.68h1.25v1.25h-1.25zM679.08 123.58h1.25v1.25h-1.25zM679.08 145.48h1.25v1.25h-1.25zM679.08 167.38h1.25v1.25h-1.25zM679.08 189.28h1.25v1.25h-1.25zM679.08 211.18h1.25v1.25h-1.25zM679.08 233.08h1.25v1.25h-1.25zM679.08 254.98h1.25v1.25h-1.25zM679.08 276.88h1.25v1.25h-1.25zM679.08 298.78h1.25v1.25h-1.25zM694.63 14.08h1.25v1.25h-1.25zM694.63 35.98h1.25v1.25h-1.25zM694.63 57.88h1.25v1.25h-1.25zM694.63 79.78h1.25v1.25h-1.25zM694.63 101.68h1.25v1.25h-1.25zM694.63 123.58h1.25v1.25h-1.25zM694.63 145.48h1.25v1.25h-1.25zM694.63 167.38h1.25v1.25h-1.25zM694.63 189.28h1.25v1.25h-1.25zM694.63 211.18h1.25v1.25h-1.25zM694.63 233.08h1.25v1.25h-1.25zM694.63 254.98h1.25v1.25h-1.25zM694.63 276.88h1.25v1.25h-1.25zM694.63 298.78h1.25v1.25h-1.25zM710.18 14.08h1.25v1.25h-1.25zM710.18 35.98h1.25v1.25h-1.25zM710.18 57.88h1.25v1.25h-1.25zM710.18 79.78h1.25v1.25h-1.25zM710.18 101.68h1.25v1.25h-1.25zM710.18 123.58h1.25v1.25h-1.25zM710.18 145.48h1.25v1.25h-1.25zM710.18 167.38h1.25v1.25h-1.25zM710.18 189.28h1.25v1.25h-1.25zM710.18 211.18h1.25v1.25h-1.25zM710.18 233.08h1.25v1.25h-1.25zM710.18 254.98h1.25v1.25h-1.25zM710.18 276.88h1.25v1.25h-1.25zM710.18 298.78h1.25v1.25h-1.25zM725.73 14.08h1.25v1.25h-1.25zM725.73 35.98h1.25v1.25h-1.25zM725.73 57.88h1.25v1.25h-1.25zM725.73 79.78h1.25v1.25h-1.25zM725.73 101.68h1.25v1.25h-1.25zM725.73 123.58h1.25v1.25h-1.25zM725.73 145.48h1.25v1.25h-1.25zM725.73 167.38h1.25v1.25h-1.25zM725.73 189.28h1.25v1.25h-1.25zM725.73 211.18h1.25v1.25h-1.25zM725.73 233.08h1.25v1.25h-1.25zM725.73 254.98h1.25v1.25h-1.25zM725.73 276.88h1.25v1.25h-1.25zM725.73 298.78h1.25v1.25h-1.25z" fill="#111"/>
<path d="M430.6 14.7L430.6 15.0L430.0 14.7L430.9 17.2L431.8 14.7L431.2 15.0L431.2 14.7ZM430.4 36.6L430.4 37.6L429.3 37.0L431.0 41.6L432.5 37.0L431.4 37.6L431.4 36.6ZM430.4 58.5L430.5 61.5L429.3 60.9L431.0 65.5L432.5 60.9L431.4 61.5L431.4 58.5ZM430.4 80.4L430.5 85.4L429.4 84.8L431.1 89.4L432.6 84.8L431.5 85.4L431.4 80.4ZM430.4 102.3L430.6 110.0L429.4 109.4L431.1 114.0L432.6 109.4L431.5 110.0L431.4 102.3ZM430.4 124.2L430.6 134.6L429.5 134.0L431.2 138.6L432.7 134.0L431.6 134.6L431.4 124.2ZM430.4 146.1L430.6 154.1L429.4 153.5L431.1 158.1L432.6 153.5L431.5 154.1L431.4 146.1ZM430.4 168.0L430.6 177.0L429.4 176.4L431.1 181.0L432.6 176.4L431.5 177.0L431.4 168.0ZM430.4 189.9L430.6 200.9L429.5 200.3L431.2 204.9L432.7 200.3L431.6 200.9L431.4 189.9ZM430.4 211.8L430.8 232.8L429.7 232.2L431.3 236.8L432.9 232.2L431.7 232.8L431.4 211.8ZM430.4 233.7L430.7 250.7L429.6 250.1L431.3 254.7L432.8 250.1L431.7 250.7L431.4 233.7ZM430.4 255.6L430.7 269.1L429.5 268.5L431.2 273.1L432.7 268.5L431.6 269.1L431.4 255.6ZM446.2 14.7L446.2 15.0L445.6 14.7L446.5 17.2L447.3 14.7L446.7 15.0L446.7 14.7ZM446.2 36.6L446.2 36.9L445.6 36.6L446.5 39.1L447.3 36.6L446.7 36.9L446.7 36.6ZM446.2 58.5L446.2 58.8L445.6 58.5L446.5 61.0L447.3 58.5L446.7 58.8L446.7 58.5ZM446.2 80.4L446.2 80.7L445.6 80.4L446.5 82.9L447.3 80.4L446.7 80.7L446.7 80.4ZM446.7 146.1L446.7 145.7L447.6 146.1L446.6 143.1L445.3 146.1L446.2 145.7L446.2 146.1ZM446.8 168.0L446.8 167.5L448.0 168.1L446.6 164.0L444.9 167.9L446.1 167.5L446.1 168.0ZM446.9 189.9L446.9 189.3L448.3 190.0L446.6 184.9L444.6 189.8L446.0 189.3L446.0 189.9ZM447.0 211.8L447.0 211.1L448.5 211.9L446.6 206.3L444.4 211.7L446.0 211.1L445.9 211.8ZM447.0 233.7L447.0 233.0L448.5 233.8L446.6 228.2L444.4 233.6L446.0 233.0L445.9 233.7ZM446.8 255.6L446.8 255.1L448.0 255.7L446.6 251.6L444.9 255.5L446.1 255.1L446.1 255.6ZM446.7 277.5L446.7 277.1L447.6 277.5L446.6 274.5L445.3 277.5L446.2 277.1L446.2 277.5ZM462.3 14.7L462.3 14.4L463.1 14.8L462.3 11.7L460.9 14.6L461.8 14.3L461.7 14.7ZM462.5 36.6L462.5 36.0L463.9 36.8L462.5 31.6L460.1 36.4L461.6 35.9L461.5 36.6ZM462.5 58.6L462.7 57.1L464.2 57.9L462.7 52.0L459.9 57.5L461.6 57.0L461.5 58.4ZM462.5 80.5L462.8 78.0L464.3 78.8L462.8 72.9L460.1 78.4L461.7 77.9L461.5 80.3ZM462.5 102.4L462.9 99.4L464.4 100.3L462.9 94.3L460.1 99.8L461.8 99.3L461.5 102.2ZM462.5 124.3L462.9 120.8L464.5 121.7L463.0 115.8L460.2 121.2L461.9 120.7L461.5 124.1ZM462.5 146.2L463.0 142.2L464.5 143.1L463.1 137.2L460.3 142.6L462.0 142.1L461.5 146.0ZM462.5 168.1L463.1 163.6L464.6 164.5L463.3 158.6L460.4 163.9L462.1 163.5L461.5 167.9ZM462.5 190.0L463.2 185.5L464.7 186.5L463.4 180.5L460.4 185.8L462.1 185.4L461.5 189.8ZM462.5 211.9L463.2 207.9L464.7 208.9L463.5 202.9L460.4 208.2L462.1 207.8L461.5 211.7ZM462.5 233.8L463.0 231.3L464.5 232.3L463.4 226.3L460.2 231.5L462.0 231.1L461.5 233.6ZM462.4 255.7L462.6 255.1L463.8 256.0L463.1 250.7L460.2 255.2L461.7 254.9L461.6 255.5ZM462.3 277.6L462.4 277.2L463.3 277.9L463.0 274.1L460.7 277.1L461.8 277.0L461.7 277.4ZM478.1 14.8L478.8 7.8L480.4 8.7L478.9 2.8L476.1 8.2L477.8 7.7L477.0 14.6ZM478.1 36.7L478.9 29.7L480.4 30.6L478.9 24.7L476.1 30.1L477.8 29.6L477.0 36.5ZM478.1 58.6L478.9 51.6L480.4 52.5L479.0 46.6L476.2 52.0L477.9 51.5L477.0 58.4ZM478.1 80.5L478.9 73.5L480.5 74.4L479.0 68.5L476.2 73.9L477.9 73.4L477.0 80.3ZM478.1 102.4L478.9 95.9L480.4 96.8L479.1 90.9L476.2 96.3L477.9 95.8L477.0 102.2ZM478.1 124.3L478.9 118.3L480.4 119.2L479.1 113.3L476.2 118.7L477.9 118.2L477.0 124.1ZM478.1 146.2L478.9 140.7L480.4 141.7L479.1 135.7L476.1 141.0L477.8 140.6L477.0 146.0ZM478.1 168.1L478.9 163.2L480.4 164.1L479.2 158.1L476.1 163.4L477.8 163.0L477.0 167.9ZM478.1 190.0L478.9 185.6L480.3 186.5L479.2 180.6L476.1 185.8L477.8 185.4L477.0 189.8ZM478.1 211.9L478.8 208.5L480.2 209.5L479.2 203.5L476.0 208.6L477.7 208.3L477.0 211.7ZM478.1 233.8L478.5 232.1L479.9 233.1L479.1 227.1L475.7 232.1L477.4 231.8L477.0 233.6ZM478.0 255.7L478.2 255.1L479.4 256.1L478.9 250.8L475.7 255.1L477.3 254.9L477.1 255.5ZM477.8 277.6L477.9 277.2L478.6 277.9L478.5 274.7L476.5 277.1L477.4 277.1L477.3 277.4ZM493.6 14.8L494.5 7.8L496.0 8.7L494.6 2.8L491.7 8.2L493.4 7.7L492.6 14.6ZM493.6 36.7L494.5 29.7L496.0 30.6L494.6 24.7L491.8 30.1L493.5 29.6L492.6 36.5ZM493.6 58.6L494.6 51.6L496.1 52.5L494.7 46.6L491.8 52.0L493.5 51.5L492.6 58.4ZM493.6 80.5L494.6 73.5L496.1 74.5L494.8 68.5L491.9 73.9L493.6 73.4L492.6 80.3ZM493.6 102.4L494.5 96.4L496.0 97.4L494.7 91.4L491.8 96.7L493.5 96.3L492.6 102.2ZM493.6 124.3L494.5 118.9L496.0 119.8L494.8 113.8L491.7 119.1L493.5 118.7L492.6 124.1ZM493.6 146.2L494.5 141.3L496.0 142.2L494.8 136.2L491.7 141.5L493.4 141.1L492.6 146.0ZM493.6 168.1L494.5 163.7L495.9 164.7L494.9 158.7L491.7 163.9L493.4 163.5L492.6 167.9ZM493.6 190.0L494.3 186.6L495.8 187.6L494.8 181.6L491.6 186.7L493.3 186.4L492.6 189.8ZM493.6 211.9L494.2 209.5L495.6 210.5L494.8 204.5L491.4 209.6L493.2 209.2L492.6 211.7ZM493.6 233.8L493.8 233.1L495.2 234.2L494.6 228.1L491.1 233.0L492.8 232.8L492.6 233.6ZM493.5 255.7L493.6 255.2L494.5 256.1L494.3 251.8L491.7 255.1L492.9 255.0L492.7 255.5ZM493.3 277.6L493.4 277.3L494.0 277.8L494.0 275.2L492.2 277.2L493.0 277.1L492.9 277.4ZM509.2 14.8L510.0 8.8L511.5 9.7L510.2 3.8L507.2 9.2L509.0 8.7L508.1 14.6ZM509.2 36.7L510.1 30.2L511.6 31.2L510.3 25.2L507.4 30.6L509.1 30.1L508.1 36.5ZM509.2 58.6L510.1 52.2L511.6 53.1L510.4 47.1L507.4 52.4L509.1 52.0L508.1 58.4ZM509.2 80.5L510.2 74.1L511.7 75.0L510.5 69.0L507.4 74.3L509.2 73.9L508.1 80.3ZM509.2 102.4L510.2 96.5L511.7 97.4L510.5 91.5L507.4 96.7L509.1 96.3L508.1 102.2ZM509.2 124.3L510.1 119.4L511.5 120.4L510.4 114.4L507.3 119.6L509.0 119.2L508.1 124.1ZM509.2 146.2L510.0 141.8L511.5 142.8L510.5 136.8L507.3 142.0L509.0 141.6L508.1 146.0ZM509.2 168.1L510.0 164.2L511.4 165.2L510.5 159.2L507.2 164.3L509.0 164.0L508.1 167.9ZM509.2 190.0L509.7 187.6L511.2 188.6L510.4 182.6L507.0 187.7L508.7 187.3L508.1 189.8ZM509.2 211.9L509.5 210.7L510.9 211.8L510.3 205.7L506.7 210.7L508.5 210.4L508.1 211.7ZM509.1 233.8L509.3 233.2L510.5 234.2L510.1 228.9L506.8 233.2L508.4 233.0L508.2 233.6ZM508.9 255.7L509.1 255.3L509.8 256.0L509.7 252.5L507.5 255.2L508.5 255.1L508.4 255.5ZM508.8 277.6L508.9 277.3L509.3 277.8L509.4 275.6L508.0 277.2L508.6 277.2L508.5 277.4ZM524.7 36.7L525.7 30.3L527.2 31.2L526.0 25.2L523.0 30.5L524.7 30.1L523.7 36.5ZM524.7 58.6L525.7 52.7L527.2 53.6L526.0 47.7L523.0 52.9L524.7 52.5L523.7 58.4ZM524.7 80.5L525.8 74.6L527.2 75.6L526.1 69.6L523.0 74.8L524.7 74.4L523.7 80.3ZM524.7 102.4L525.7 97.0L527.2 98.0L526.2 92.0L523.0 97.2L524.7 96.8L523.7 102.2ZM524.7 124.3L525.6 119.9L527.1 120.9L526.1 114.9L522.8 120.0L524.6 119.7L523.7 124.1ZM524.7 146.2L525.5 142.8L526.9 143.8L526.0 137.8L522.7 142.9L524.4 142.6L523.7 146.0ZM524.7 168.1L525.3 165.7L526.7 166.7L525.9 160.7L522.5 165.8L524.3 165.4L523.7 167.9ZM524.7 190.0L525.1 188.6L526.5 189.7L525.8 183.6L522.3 188.6L524.1 188.3L523.7 189.8ZM524.7 211.9L524.9 211.3L526.2 212.4L525.7 206.5L522.2 211.2L523.9 211.0L523.7 211.7ZM524.6 233.8L524.7 233.3L525.7 234.2L525.5 229.6L522.7 233.2L524.0 233.1L523.8 233.6ZM524.4 255.7L524.6 255.4L525.2 256.0L525.2 253.0L523.2 255.2L524.1 255.2L524.0 255.5ZM540.3 36.7L541.5 29.8L543.0 30.8L541.8 24.8L538.7 30.0L540.4 29.6L539.2 36.5ZM540.3 58.6L541.4 52.7L542.8 53.7L541.7 47.7L538.6 52.9L540.3 52.5L539.2 58.4ZM540.3 80.5L541.3 75.1L542.8 76.1L541.8 70.1L538.6 75.3L540.3 74.9L539.2 80.3ZM540.3 102.4L541.3 97.5L542.7 98.5L541.8 92.5L538.5 97.7L540.2 97.3L539.2 102.2ZM540.3 124.3L541.1 120.4L542.6 121.4L541.7 115.4L538.4 120.5L540.1 120.2L539.2 124.1ZM540.3 146.2L540.8 143.8L542.3 144.8L541.5 138.8L538.1 143.9L539.8 143.5L539.2 146.0ZM540.3 168.1L540.6 166.7L542.0 167.8L541.4 161.7L537.9 166.7L539.6 166.4L539.2 167.9ZM540.2 190.0L540.4 189.4L541.7 190.5L541.2 184.6L537.8 189.3L539.4 189.1L539.3 189.8ZM540.2 211.9L540.3 211.4L541.4 212.3L541.2 207.3L538.1 211.3L539.5 211.1L539.3 211.7ZM540.1 233.8L540.2 233.4L541.1 234.2L541.0 230.2L538.4 233.2L539.6 233.2L539.4 233.6ZM539.9 255.7L540.0 255.4L540.5 255.9L540.5 253.7L539.0 255.3L539.7 255.3L539.6 255.5ZM555.8 36.7L556.8 31.3L558.3 32.3L557.2 26.3L554.1 31.5L555.8 31.1L554.8 36.5ZM555.8 58.6L556.9 53.2L558.3 54.2L557.3 48.2L554.1 53.4L555.9 53.0L554.8 58.4ZM555.8 80.5L556.8 75.6L558.3 76.6L557.4 70.6L554.1 75.7L555.8 75.4L554.8 80.3ZM555.8 102.4L556.7 98.5L558.1 99.5L557.3 93.5L553.9 98.6L555.7 98.3L554.8 102.2ZM555.8 124.3L556.5 121.4L557.9 122.5L557.2 116.4L553.7 121.5L555.5 121.2L554.8 124.1ZM555.8 146.2L556.2 144.8L557.6 145.9L556.9 139.8L553.4 144.8L555.2 144.5L554.8 146.0ZM555.8 168.1L556.0 167.5L557.3 168.6L556.8 162.7L553.3 167.4L555.0 167.2L554.8 167.9ZM555.7 190.0L555.9 189.5L556.9 190.4L556.6 185.6L553.7 189.4L555.1 189.3L554.9 189.8ZM555.6 211.9L555.8 211.4L556.7 212.3L556.6 208.0L553.9 211.3L555.1 211.2L555.0 211.7ZM555.6 233.8L555.7 233.4L556.4 234.1L556.3 230.9L554.2 233.3L555.2 233.3L555.0 233.6ZM571.4 58.6L572.3 54.2L573.7 55.2L572.8 49.2L569.5 54.3L571.3 54.0L570.3 58.4ZM571.4 80.5L572.2 76.6L573.7 77.7L572.8 71.6L569.5 76.7L571.2 76.4L570.3 80.3ZM571.4 102.4L572.1 99.5L573.5 100.6L572.7 94.5L569.3 99.6L571.0 99.3L570.3 102.2ZM571.4 124.3L571.7 122.9L573.1 124.0L572.5 117.9L569.0 122.9L570.7 122.6L570.3 124.1ZM571.3 146.2L571.5 145.6L572.9 146.6L572.3 140.8L568.8 145.6L570.5 145.3L570.4 146.0ZM571.2 168.1L571.4 167.6L572.5 168.5L572.1 163.7L569.2 167.5L570.6 167.4L570.5 167.9ZM571.2 190.0L571.3 189.6L572.2 190.3L572.0 186.3L569.5 189.5L570.7 189.3L570.5 189.8ZM571.1 211.9L571.3 211.5L572.0 212.2L571.9 208.8L569.7 211.4L570.7 211.3L570.6 211.7ZM571.0 233.8L571.1 233.5L571.7 234.0L571.7 231.6L570.0 233.4L570.8 233.4L570.7 233.6ZM586.9 58.6L587.6 55.7L589.0 56.7L588.2 50.7L584.8 55.8L586.6 55.5L585.9 58.4ZM586.9 80.5L587.5 78.1L588.9 79.1L588.1 73.1L584.7 78.1L586.5 77.8L585.9 80.3ZM586.9 102.4L587.3 101.0L588.7 102.1L588.0 96.0L584.5 101.0L586.3 100.7L585.9 102.2ZM586.9 124.3L587.1 123.7L588.4 124.7L587.8 118.9L584.4 123.7L586.1 123.4L585.9 124.1ZM586.8 146.2L587.0 145.7L588.0 146.6L587.6 141.8L584.8 145.6L586.2 145.5L586.0 146.0ZM586.7 168.1L586.8 167.7L587.7 168.4L587.4 164.7L585.1 167.6L586.2 167.5L586.1 167.9ZM586.7 190.0L586.8 189.6L587.5 190.3L587.4 187.1L585.3 189.5L586.3 189.5L586.1 189.8ZM586.6 211.9L586.7 211.6L587.3 212.1L587.3 209.4L585.5 211.5L586.3 211.4L586.2 211.7ZM586.6 233.8L586.6 233.6L587.0 234.0L587.1 232.0L585.8 233.4L586.3 233.4L586.2 233.6ZM602.4 80.5L602.6 79.9L604.0 80.9L603.3 75.1L599.9 79.9L601.6 79.6L601.5 80.3ZM602.4 102.4L602.6 101.8L603.8 102.8L603.2 97.5L600.1 101.8L601.7 101.6L601.5 102.2ZM602.3 124.3L602.5 123.8L603.6 124.7L603.2 119.9L600.3 123.7L601.7 123.6L601.6 124.1ZM602.3 146.2L602.4 145.8L603.2 146.5L603.0 142.8L600.7 145.7L601.8 145.6L601.6 146.0ZM602.2 168.1L602.3 167.8L603.0 168.3L602.8 165.3L600.9 167.7L601.8 167.6L601.7 167.9ZM602.2 190.0L602.3 189.7L602.8 190.2L602.7 187.6L601.1 189.6L601.8 189.5L601.7 189.8ZM602.1 211.9L602.2 211.6L602.7 212.1L602.7 209.9L601.2 211.5L601.9 211.5L601.8 211.7ZM617.9 80.5L618.0 80.0L619.0 80.8L618.5 76.5L616.0 80.0L617.3 79.8L617.1 80.3ZM617.8 102.4L617.9 102.0L618.8 102.7L618.4 98.9L616.2 101.9L617.3 101.8L617.2 102.2ZM617.8 124.3L617.9 123.9L618.8 124.6L618.5 120.8L616.2 123.8L617.3 123.7L617.2 124.1ZM617.7 146.2L617.8 145.9L618.5 146.4L618.3 143.4L616.5 145.8L617.4 145.7L617.3 146.0ZM617.7 168.1L617.8 167.8L618.3 168.3L618.2 165.9L616.7 167.7L617.4 167.7L617.3 167.9ZM617.7 190.0L617.8 189.7L618.2 190.2L618.2 188.0L616.8 189.6L617.4 189.6L617.3 189.8ZM633.3 102.4L633.4 102.0L634.1 102.6L633.9 99.4L632.0 102.0L632.9 101.9L632.8 102.2ZM633.3 124.3L633.4 124.0L634.0 124.5L633.8 121.8L632.1 123.9L632.9 123.8L632.8 124.1ZM633.2 146.2L633.3 145.9L633.8 146.4L633.7 144.0L632.3 145.8L632.9 145.8L632.9 146.0ZM633.2 168.1L633.3 167.8L633.8 168.2L633.7 166.1L632.3 167.8L633.0 167.7L632.9 167.9ZM648.8 102.4L648.8 102.1L649.3 102.5L649.2 100.4L647.9 102.1L648.5 102.0L648.4 102.2ZM648.8 124.3L648.9 124.0L649.3 124.4L649.2 122.3L647.9 124.0L648.5 123.9L648.4 124.1ZM648.7 146.1L648.8 146.0L649.1 146.3L649.1 144.7L648.1 145.9L648.5 145.9L648.5 146.1Z" fill="#000"/>
<path d="M664.5 37.1L715.6 37.1L715.1 38.5L720.9 36.6L715.1 34.8L715.6 36.1L664.5 36.1Z" fill="#000"/>
<text x="699.2" y="32.4" class="t1" style="font-size:9px" text-anchor="middle">1000 km s<tspan dy="-3.3" font-size="6.5">−1</tspan></text>
<rect x="418.75" y="3.70" width="318.85" height="317.75" fill="none" stroke="#222" stroke-width="1"/>
<path d="M418.75 321.50v-3.2M418.75 3.50v3.2M418.75 321.50h3.2M737.75 321.50h-3.2M499.25 321.50v-3.2M499.25 3.50v3.2M418.75 241.00h3.2M737.75 241.00h-3.2M579.75 321.50v-3.2M579.75 3.50v3.2M418.75 160.50h3.2M737.75 160.50h-3.2M660.25 321.50v-3.2M660.25 3.50v3.2M418.75 80.00h3.2M737.75 80.00h-3.2" stroke="#000" stroke-width="0.5" fill="none"/>
<text x="418.8" y="331.4" class="t1" text-anchor="middle">0.0</text>
<text x="415.2" y="324.5" class="t1" text-anchor="end">0.0</text>
<text x="499.2" y="331.4" class="t1" text-anchor="middle">0.5</text>
<text x="415.2" y="244.0" class="t1" text-anchor="end">0.5</text>
<text x="579.8" y="331.4" class="t1" text-anchor="middle">1.0</text>
<text x="415.2" y="163.5" class="t1" text-anchor="end">1.0</text>
<text x="660.2" y="331.4" class="t1" text-anchor="middle">1.5</text>
<text x="415.2" y="83.0" class="t1" text-anchor="end">1.5</text>
<text x="579.2" y="343.5" class="t1" style="font-size:10px" text-anchor="middle"><tspan font-style="italic">ω</tspan>/R<tspan dy="1.8" font-size="7">ic</tspan></text>
<text transform="translate(395.8 163.5) rotate(-90)" class="t1" style="font-size:10px" text-anchor="middle">z/R<tspan dy="1.8" font-size="7">ic</tspan></text>
<defs><linearGradient id="bcb" x1="0" x2="1" y1="0" y2="0"><stop offset="0.000" stop-color="#000080"/><stop offset="0.031" stop-color="#0000a4"/><stop offset="0.062" stop-color="#0000c8"/><stop offset="0.094" stop-color="#0000ed"/><stop offset="0.125" stop-color="#0000ff"/><stop offset="0.156" stop-color="#0020ff"/><stop offset="0.188" stop-color="#0040ff"/><stop offset="0.219" stop-color="#0060ff"/><stop offset="0.250" stop-color="#0080ff"/><stop offset="0.281" stop-color="#00a0ff"/><stop offset="0.312" stop-color="#00c0ff"/><stop offset="0.344" stop-color="#00e0fb"/><stop offset="0.375" stop-color="#16ffe1"/><stop offset="0.406" stop-color="#30ffc7"/><stop offset="0.438" stop-color="#49ffad"/><stop offset="0.469" stop-color="#63ff94"/><stop offset="0.500" stop-color="#7dff7a"/><stop offset="0.531" stop-color="#97ff60"/><stop offset="0.562" stop-color="#b1ff46"/><stop offset="0.594" stop-color="#caff2c"/><stop offset="0.625" stop-color="#e4ff13"/><stop offset="0.656" stop-color="#feed00"/><stop offset="0.688" stop-color="#ffd000"/><stop offset="0.719" stop-color="#ffb200"/><stop offset="0.750" stop-color="#ff9400"/><stop offset="0.781" stop-color="#ff7700"/><stop offset="0.812" stop-color="#ff5900"/><stop offset="0.844" stop-color="#ff3b00"/><stop offset="0.875" stop-color="#ff1e00"/><stop offset="0.906" stop-color="#e80000"/><stop offset="0.938" stop-color="#c40000"/><stop offset="0.969" stop-color="#9f0000"/><stop offset="1.000" stop-color="#800000"/></linearGradient></defs>
<rect x="432.6" y="361" width="291.4" height="14.3" fill="url(#bcb)"/>
<path d="M418.8 368.1L433.1 361L433.1 375.3Z" fill="#000080"/>
<path d="M737.8 368.1L723.5 361L723.5 375.3Z" fill="#800000"/>
<path d="M418.8 368.1L433.1 361L723.5 361L737.8 368.1L723.5 375.3L433.1 375.3Z" fill="none" stroke="#000" stroke-width="0.7"/>
<text x="433.1" y="385.0" class="t1" text-anchor="middle">-18.0</text>
<text x="474.5" y="385.0" class="t1" text-anchor="middle">-17.0</text>
<text x="516.0" y="385.0" class="t1" text-anchor="middle">-16.0</text>
<text x="557.5" y="385.0" class="t1" text-anchor="middle">-15.0</text>
<text x="599.0" y="385.0" class="t1" text-anchor="middle">-14.0</text>
<text x="640.5" y="385.0" class="t1" text-anchor="middle">-13.0</text>
<text x="682.0" y="385.0" class="t1" text-anchor="middle">-12.0</text>
<text x="723.5" y="385.0" class="t1" text-anchor="middle">-11.0</text>
<path d="M433.05 375.30v-3M474.54 375.30v-3M516.02 375.30v-3M557.51 375.30v-3M598.99 375.30v-3M640.48 375.30v-3M681.96 375.30v-3M723.45 375.30v-3" stroke="#000" stroke-width="0.5"/>
<text x="578.2" y="398.5" class="t1" style="font-size:9px" text-anchor="middle">Density (g cm<tspan dy="-3.3" font-size="6.5">−3</tspan><tspan dy="3.3">)</tspan></text>
<defs><clipPath id="c3box"><rect x="48.1" y="418.9" width="311.9" height="258.6"/></clipPath>
<clipPath id="c3red"><path d="M360.0 473.8C350.0 473.8 318.3 473.8 300.0 473.8C281.7 473.8 264.0 473.6 250.0 473.6C236.0 473.6 225.5 473.7 215.8 474.0C206.1 474.3 198.4 474.7 191.8 475.3C185.2 475.9 180.4 476.5 176.4 477.4C172.4 478.3 170.6 479.2 168.0 480.5C165.4 481.8 163.2 483.2 161.0 485.0C158.8 486.8 156.9 488.8 155.0 491.0C153.1 493.2 151.3 495.6 149.5 498.0C147.7 500.4 145.8 503.0 144.0 505.5C142.2 508.0 140.2 510.6 138.5 513.0C136.8 515.4 135.1 517.6 133.5 520.0C131.9 522.4 130.2 525.1 129.0 527.5C127.8 529.9 126.8 532.1 126.0 534.5C125.2 536.9 124.6 539.4 124.3 542.0C124.0 544.6 124.0 547.2 124.3 550.0C124.6 552.8 125.3 555.2 126.3 559.0C127.3 562.8 129.0 567.3 130.5 572.5C132.0 577.7 134.2 584.9 135.5 590.0C136.8 595.1 137.9 599.7 138.5 603.0C139.1 606.3 139.3 607.3 139.3 610.0C139.3 612.7 139.3 615.5 138.5 619.0C137.7 622.5 136.2 627.7 134.5 631.0C132.8 634.3 130.6 636.5 128.0 639.0C125.4 641.5 123.2 643.5 119.0 646.0C114.8 648.5 109.4 651.1 102.5 653.8C95.6 656.4 86.6 659.4 77.5 662.0C68.4 664.6 52.9 668.2 48.0 669.5L46.1 682.5L365 682.5L365 473.8Z"/></clipPath>
<clipPath id="c3blue"><path d="M360.0 473.8C350.0 473.8 318.3 473.8 300.0 473.8C281.7 473.8 264.0 473.6 250.0 473.6C236.0 473.6 225.5 473.7 215.8 474.0C206.1 474.3 198.4 474.7 191.8 475.3C185.2 475.9 180.4 476.5 176.4 477.4C172.4 478.3 170.6 479.2 168.0 480.5C165.4 481.8 163.2 483.2 161.0 485.0C158.8 486.8 156.9 488.8 155.0 491.0C153.1 493.2 151.3 495.6 149.5 498.0C147.7 500.4 145.8 503.0 144.0 505.5C142.2 508.0 140.2 510.6 138.5 513.0C136.8 515.4 135.1 517.6 133.5 520.0C131.9 522.4 130.2 525.1 129.0 527.5C127.8 529.9 126.8 532.1 126.0 534.5C125.2 536.9 124.6 539.4 124.3 542.0C124.0 544.6 124.0 547.2 124.3 550.0C124.6 552.8 125.3 555.2 126.3 559.0C127.3 562.8 129.0 567.3 130.5 572.5C132.0 577.7 134.2 584.9 135.5 590.0C136.8 595.1 137.9 599.7 138.5 603.0C139.1 606.3 139.3 607.3 139.3 610.0C139.3 612.7 139.3 615.5 138.5 619.0C137.7 622.5 136.2 627.7 134.5 631.0C132.8 634.3 130.6 636.5 128.0 639.0C125.4 641.5 123.2 643.5 119.0 646.0C114.8 648.5 109.4 651.1 102.5 653.8C95.6 656.4 86.6 659.4 77.5 662.0C68.4 664.6 52.9 668.2 48.0 669.5L46.1 669.5L46.1 416.9L362 416.9Z"/></clipPath></defs>
<g clip-path="url(#c3box)">
<rect x="48.1" y="418.9" width="311.9" height="258.6" fill="#f85d42"/>
<path d="M210.0 470.0C210.2 476.2 210.3 498.3 211.0 507.5C211.7 516.7 212.1 518.2 214.0 525.0C215.9 531.8 219.3 540.8 222.5 548.0C225.7 555.2 229.7 561.0 233.0 568.0C236.3 575.0 240.1 583.0 242.5 590.0C244.9 597.0 247.4 602.5 247.5 610.0C247.6 617.5 245.8 626.7 243.0 635.0C240.2 643.3 235.0 652.5 231.0 660.0C227.0 667.5 221.0 676.7 219.0 680.0L365 680L365 470Z" fill="#f24633"/>
<path d="M253.0 470.0C252.8 473.8 252.3 486.7 252.0 492.5C251.7 498.3 250.5 500.0 251.0 505.0C251.5 510.0 252.2 515.3 255.0 522.5C257.8 529.7 263.3 539.2 268.0 548.0C272.7 556.8 278.3 566.3 283.0 575.0C287.7 583.7 291.2 591.7 296.0 600.0C300.8 608.3 306.3 616.3 312.0 625.0C317.7 633.7 325.0 642.8 330.0 652.0C335.0 661.2 340.0 675.3 342.0 680.0L365 680L365 470Z" fill="#e53228"/>
<path d="M291.0 470.0C290.7 472.1 289.5 478.3 289.0 482.5C288.5 486.7 287.0 488.3 288.0 495.0C289.0 501.7 291.5 513.3 295.0 522.5C298.5 531.7 304.2 540.9 309.0 550.0C313.8 559.1 318.8 569.5 324.0 577.0C329.2 584.5 335.3 590.5 340.0 595.0C344.7 599.5 348.0 600.8 352.0 604.0C356.0 607.2 362.0 612.3 364.0 614.0L365 614L365 470Z" fill="#d32020"/>
<path d="M328.0 470.0C328.0 472.1 327.7 477.9 328.0 482.5C328.3 487.1 328.0 490.8 330.0 497.5C332.0 504.2 336.2 514.2 340.0 522.5C343.8 530.8 349.0 540.2 353.0 547.0C357.0 553.8 362.2 560.3 364.0 563.0L365 563L365 470Z" fill="#c1161b"/>
<path d="M171.5 516.0C171.4 518.3 171.6 524.7 171.0 530.0C170.4 535.3 169.3 542.2 168.0 548.0C166.7 553.8 164.7 559.2 163.0 565.0C161.3 570.8 159.2 577.5 158.0 583.0C156.8 588.5 156.7 593.2 156.0 598.0C155.3 602.8 155.2 607.5 154.0 612.0C152.8 616.5 151.5 620.8 149.0 625.0C146.5 629.2 143.2 633.2 139.0 637.0C134.8 640.8 129.5 644.3 124.0 647.5C118.5 650.7 112.5 653.4 106.0 656.0C99.5 658.6 94.7 660.2 85.0 663.0C75.3 665.8 54.2 670.9 48.0 672.5L40 672.5L40 400L171 400Z" fill="#fb7353"/>
<path d="M131.0 524.0C130.4 525.3 128.2 529.0 127.5 532.0C126.8 535.0 126.9 539.0 126.8 542.0C126.7 545.0 126.5 547.2 126.8 550.0C127.1 552.8 127.8 555.2 128.8 559.0C129.8 562.8 131.5 567.3 133.0 572.5C134.5 577.7 136.7 584.9 138.0 590.0C139.3 595.1 140.4 599.7 141.0 603.0C141.6 606.3 141.8 607.3 141.8 610.0C141.8 612.7 141.8 615.5 141.0 619.0C140.2 622.5 138.8 627.7 137.0 631.0C135.2 634.3 133.2 636.4 130.5 639.0C127.8 641.6 125.4 643.9 121.0 646.5C116.6 649.1 111.0 651.8 104.0 654.5C97.0 657.2 88.3 660.2 79.0 663.0C69.7 665.8 53.2 669.7 48.0 671.0L40 671L40 400L131 400Z" fill="#fc8767"/>
<path d="M48 672.5C60 672 70 674 80 678L48 678Z" fill="#fc8767"/>
<g clip-path="url(#c3blue)">
<rect x="48.1" y="418.9" width="311.9" height="258.6" fill="#60a7d2"/>
<path d="M96.0 416.0C96.7 416.5 94.8 415.9 100.4 419.0C106.0 422.1 120.2 430.0 129.5 434.6C138.8 439.2 146.2 442.9 156.3 446.5C166.4 450.1 180.4 453.2 190.0 456.0C199.6 458.8 205.8 460.8 213.7 463.5C221.6 466.2 232.5 470.0 237.4 472.0C242.3 474.0 242.1 474.9 243.0 475.5L366 475.5L366 410Z" fill="#4b98ca"/>
<path d="M148.0 416.0C149.0 416.5 149.7 416.9 154.0 419.0C158.3 421.1 168.0 425.4 174.0 428.5C180.0 431.6 181.4 433.8 190.0 437.7C198.6 441.6 213.7 447.4 225.5 451.9C237.3 456.4 251.9 461.5 261.0 464.9C270.1 468.2 275.7 470.2 280.0 472.0C284.3 473.8 285.8 474.9 287.0 475.5L366 475.5L366 410Z" fill="#3989c1"/>
<path d="M184.0 416.0C185.0 416.8 183.1 417.8 190.0 421.0C196.9 424.2 213.7 430.6 225.5 435.3C237.3 440.1 249.2 444.9 261.0 449.5C272.9 454.1 286.3 458.9 296.6 462.6C306.9 466.4 317.2 469.9 322.6 472.0C328.0 474.1 327.9 474.9 329.0 475.5L366 475.5L366 410Z" fill="#2979b9"/>
<path d="M222.0 416.0C223.2 416.5 222.5 416.2 229.0 418.9C235.5 421.6 249.7 427.7 261.0 432.0C272.3 436.3 284.8 440.9 296.6 444.8C308.4 448.7 320.8 452.3 332.0 455.5C343.2 458.7 358.7 462.4 364.0 463.8L366 463.8L366 410Z" fill="#1a68ae"/>
<path d="M263.5 416.0C264.7 416.5 263.0 416.5 270.5 418.9C278.0 421.3 297.3 427.3 308.4 430.6C319.4 433.9 327.5 436.3 336.8 438.9C346.1 441.5 359.5 444.8 364.0 446.0L366 446L366 410Z" fill="#0e58a2"/>
<path d="M306.0 416.0C307.2 416.5 307.9 417.6 313.0 418.9C318.1 420.1 328.3 421.9 336.8 423.5C345.3 425.1 359.5 427.9 364.0 428.8L366 428.8L366 410Z" fill="#08488e"/>
<path d="M350.0 416.0C350.6 416.5 351.1 417.9 353.4 418.9C355.7 419.9 362.2 421.5 364.0 422.0L366 422L366 410Z" fill="#083776"/>
<path d="M44.0 530.0C44.7 530.5 44.5 529.7 48.0 533.0C51.5 536.3 58.8 543.3 65.0 550.0C71.2 556.7 79.7 565.9 85.0 573.0C90.3 580.1 94.1 585.9 97.0 592.5C99.9 599.1 102.0 606.2 102.5 612.5C103.0 618.8 102.1 625.0 100.0 630.0C97.9 635.0 95.0 638.8 90.0 642.5C85.0 646.2 77.0 649.8 70.0 652.5C63.0 655.2 52.3 657.5 48.0 658.8C43.7 660.0 44.7 659.8 44.0 660.0Z" fill="#4b98ca"/>
<path d="M44.0 578.0C44.7 578.5 45.7 578.5 48.0 581.0C50.3 583.5 55.0 588.2 58.0 593.0C61.0 597.8 65.2 603.8 66.0 610.0C66.8 616.2 65.5 624.2 62.5 630.0C59.5 635.8 51.1 642.0 48.0 645.0C44.9 648.0 44.7 647.5 44.0 648.0Z" fill="#3989c1"/>
<path d="M44.0 596.0C44.7 596.7 46.8 597.2 48.0 600.0C49.2 602.8 51.5 608.3 51.5 612.5C51.5 616.7 49.2 622.4 48.0 625.0C46.8 627.6 44.7 627.5 44.0 628.0Z" fill="#2979b9"/>
<path d="M180.0 476.5C178.3 476.3 174.7 475.8 170.0 475.3C165.3 474.9 160.7 473.7 152.0 473.8C143.3 473.9 128.5 474.7 118.0 476.0C107.5 477.3 95.8 479.7 89.0 481.6C82.2 483.5 80.2 485.3 77.5 487.5C74.8 489.7 72.9 492.1 72.5 495.0C72.1 497.9 72.5 499.6 75.0 505.0C77.5 510.4 83.3 520.4 87.5 527.5C91.7 534.6 95.8 540.4 100.0 547.5C104.2 554.6 108.8 562.5 112.5 570.0C116.2 577.5 119.8 586.2 122.5 592.5C125.2 598.8 127.1 602.9 128.8 607.5C130.4 612.1 132.0 616.1 132.5 620.0C133.0 623.9 133.4 627.7 132.0 631.0C130.6 634.3 128.5 636.9 124.0 640.0C119.5 643.1 112.3 646.5 105.0 649.5C97.7 652.5 90.2 655.0 80.0 658.0C69.8 661.0 50.0 665.9 44.0 667.5L44 690L200 690L200 476.5Z" fill="#77b5d9"/>
<path d="M137.0 508.0C135.2 509.2 129.2 511.3 126.2 515.0C123.3 518.7 120.9 525.4 119.5 530.0C118.1 534.6 117.9 537.9 118.0 542.5C118.1 547.1 118.8 552.1 120.0 557.5C121.2 562.9 123.2 569.2 125.0 575.0C126.8 580.8 128.8 587.1 130.5 592.5C132.2 597.9 133.9 603.3 135.0 607.5C136.1 611.7 136.8 614.2 137.0 617.5C137.2 620.8 137.2 623.2 136.0 627.0C134.8 630.8 131.0 637.8 130.0 640.0L200 640L200 508Z" fill="#91c3de"/>
</g>
<g clip-path="url(#c3red)">
<path d="M137.6 514.0L138.5 619.0L139.3 610.0L138.5 603.0L138.5 513.0L144.0 505.5L149.5 498.0L155.0 491.0L161.0 485.0L168.0 480.5L176.4 477.4L191.8 475.3L215.8 474.0L235.0 474.0L215.0 478.5L200.0 484.0L190.0 491.0L180.0 501.0L173.0 512.0L171.3 517.0L169.6 520.0L162.5 521.5L157.5 526.0L150.0 527.5L146.5 527.5L144.5 540.0L142.5 560.0L141.3 584.5L138.8 584.5L138.2 560.0L137.8 530.0Z" fill="#0000ff"/>
<path d="M164.8 518.0L166.1 513.6L167.4 509.7L168.7 506.1L170.0 502.9L171.3 500.1L172.5 497.5L173.8 495.3L175.1 493.2L176.4 491.4L177.7 489.7L179.0 488.2L180.3 486.9L181.6 485.7L182.9 484.6L184.2 483.7L185.5 482.8L186.8 482.1L188.0 481.4L189.3 480.8L190.6 480.2L191.9 479.7L193.2 479.3L194.5 478.9L195.8 478.5L197.1 478.2L198.4 477.9L199.7 477.6L201.0 477.4L202.3 477.2L203.5 477.0L204.8 476.8L206.1 476.7L207.4 476.5L208.7 476.4L210.0 476.3L211.3 476.2L212.6 476.1L213.9 476.1L215.2 476.0L216.5 475.9L217.8 475.9L219.0 475.8L220.3 475.8L221.6 475.7L222.9 475.7L224.2 475.7L225.5 475.6L226.8 475.6L228.1 475.6L229.4 475.6L230.7 475.5L232.0 475.5L233.3 475.5L234.5 475.5L235.8 475.5L237.1 475.5L238.4 475.5L239.7 475.5L241.0 475.4" fill="none" stroke="#0000ff" stroke-width="1.7"/>
<path d="M161.6 518.0L162.9 513.4L164.2 509.3L165.4 505.6L166.7 502.3L168.0 499.4L169.3 496.8L170.5 494.4L171.8 492.4L173.1 490.5L174.4 488.8L175.7 487.4L176.9 486.1L178.2 484.9L179.5 483.8L180.8 482.9L182.0 482.1L183.3 481.3L184.6 480.7L185.9 480.1L187.2 479.5L188.4 479.1L189.7 478.6L191.0 478.3L192.3 477.9L193.5 477.6L194.8 477.4L196.1 477.1L197.4 476.9L198.7 476.7L199.9 476.6L201.2 476.4L202.5 476.3L203.8 476.2L205.1 476.0L206.3 475.9L207.6 475.9L208.9 475.8L210.2 475.7L211.4 475.7L212.7 475.6L214.0 475.6L215.3 475.5L216.6 475.5L217.8 475.4L219.1 475.4L220.4 475.4L221.7 475.4L222.9 475.3L224.2 475.3L225.5 475.3L226.8 475.3L228.1 475.3L229.3 475.3L230.6 475.3L231.9 475.2L233.2 475.2L234.4 475.2L235.7 475.2L237.0 475.2" fill="none" stroke="#0000ff" stroke-width="1.7"/>
<path d="M158.4 518.0L159.7 513.1L160.9 508.8L162.2 505.0L163.5 501.6L164.7 498.6L166.0 495.9L167.3 493.5L168.5 491.4L169.8 489.6L171.0 487.9L172.3 486.5L173.6 485.2L174.8 484.0L176.1 483.0L177.4 482.1L178.6 481.3L179.9 480.6L181.2 479.9L182.4 479.4L183.7 478.9L185.0 478.4L186.2 478.0L187.5 477.7L188.7 477.4L190.0 477.1L191.3 476.8L192.5 476.6L193.8 476.4L195.1 476.3L196.3 476.1L197.6 476.0L198.9 475.9L200.1 475.8L201.4 475.7L202.7 475.6L203.9 475.5L205.2 475.5L206.4 475.4L207.7 475.3L209.0 475.3L210.2 475.3L211.5 475.2L212.8 475.2L214.0 475.2L215.3 475.1L216.6 475.1L217.8 475.1L219.1 475.1L220.4 475.1L221.6 475.0L222.9 475.0L224.1 475.0L225.4 475.0L226.7 475.0L227.9 475.0L229.2 475.0L230.5 475.0L231.7 475.0L233.0 475.0" fill="none" stroke="#0000ff" stroke-width="1.7"/>
<path d="M155.2 518.0L156.5 512.9L157.7 508.3L159.0 504.3L160.2 500.8L161.5 497.7L162.7 495.0L164.0 492.6L165.2 490.5L166.5 488.6L167.7 487.0L169.0 485.5L170.2 484.2L171.5 483.1L172.7 482.1L174.0 481.2L175.2 480.5L176.5 479.8L177.7 479.2L179.0 478.6L180.2 478.2L181.5 477.8L182.7 477.4L184.0 477.1L185.2 476.8L186.5 476.6L187.7 476.3L189.0 476.1L190.2 476.0L191.5 475.8L192.7 475.7L194.0 475.6L195.2 475.5L196.5 475.4L197.7 475.3L199.0 475.2L200.2 475.2L201.5 475.1L202.7 475.1L204.0 475.0L205.2 475.0L206.5 475.0L207.7 474.9L209.0 474.9L210.2 474.9L211.5 474.9L212.7 474.8L214.0 474.8L215.2 474.8L216.5 474.8L217.7 474.8L219.0 474.8L220.2 474.8L221.5 474.8L222.7 474.8L224.0 474.8L225.2 474.8L226.5 474.8L227.7 474.7L229.0 474.7" fill="none" stroke="#0000ff" stroke-width="1.7"/>
<path d="M152.0 518.0L153.2 512.6L154.5 507.8L155.7 503.6L156.9 500.0L158.2 496.8L159.4 494.0L160.7 491.6L161.9 489.4L163.1 487.6L164.4 485.9L165.6 484.5L166.8 483.2L168.1 482.1L169.3 481.2L170.6 480.3L171.8 479.6L173.0 479.0L174.3 478.4L175.5 477.9L176.7 477.5L178.0 477.1L179.2 476.8L180.5 476.5L181.7 476.3L182.9 476.0L184.2 475.8L185.4 475.7L186.6 475.5L187.9 475.4L189.1 475.3L190.4 475.2L191.6 475.1L192.8 475.0L194.1 475.0L195.3 474.9L196.5 474.9L197.8 474.8L199.0 474.8L200.3 474.7L201.5 474.7L202.7 474.7L204.0 474.7L205.2 474.6L206.4 474.6L207.7 474.6L208.9 474.6L210.2 474.6L211.4 474.6L212.6 474.6L213.9 474.6L215.1 474.5L216.3 474.5L217.6 474.5L218.8 474.5L220.1 474.5L221.3 474.5L222.5 474.5L223.8 474.5L225.0 474.5" fill="none" stroke="#0000ff" stroke-width="1.7"/>
<path d="M148.8 518.0L150.0 512.2L151.2 507.2L152.5 502.8L153.7 499.0L154.9 495.7L156.1 492.9L157.4 490.4L158.6 488.3L159.8 486.4L161.0 484.8L162.3 483.4L163.5 482.2L164.7 481.2L165.9 480.2L167.2 479.5L168.4 478.8L169.6 478.2L170.8 477.7L172.1 477.2L173.3 476.8L174.5 476.5L175.7 476.2L176.9 475.9L178.2 475.7L179.4 475.5L180.6 475.4L181.8 475.2L183.1 475.1L184.3 475.0L185.5 474.9L186.7 474.8L188.0 474.7L189.2 474.7L190.4 474.6L191.6 474.6L192.9 474.5L194.1 474.5L195.3 474.5L196.5 474.5L197.7 474.4L199.0 474.4L200.2 474.4L201.4 474.4L202.6 474.4L203.9 474.4L205.1 474.3L206.3 474.3L207.5 474.3L208.8 474.3L210.0 474.3L211.2 474.3L212.4 474.3L213.7 474.3L214.9 474.3L216.1 474.3L217.3 474.3L218.6 474.3L219.8 474.3L221.0 474.3" fill="none" stroke="#0000ff" stroke-width="1.7"/>
<path d="M145.6 518.0L146.8 511.8L148.0 506.5L149.2 501.9L150.4 498.0L151.7 494.6L152.9 491.7L154.1 489.2L155.3 487.1L156.5 485.2L157.7 483.6L158.9 482.3L160.1 481.1L161.3 480.1L162.5 479.3L163.8 478.5L165.0 477.9L166.2 477.4L167.4 476.9L168.6 476.5L169.8 476.2L171.0 475.9L172.2 475.6L173.4 475.4L174.6 475.2L175.9 475.0L177.1 474.9L178.3 474.8L179.5 474.7L180.7 474.6L181.9 474.5L183.1 474.5L184.3 474.4L185.5 474.3L186.7 474.3L188.0 474.3L189.2 474.2L190.4 474.2L191.6 474.2L192.8 474.2L194.0 474.2L195.2 474.1L196.4 474.1L197.6 474.1L198.8 474.1L200.1 474.1L201.3 474.1L202.5 474.1L203.7 474.1L204.9 474.1L206.1 474.1L207.3 474.1L208.5 474.1L209.7 474.1L210.9 474.1L212.2 474.1L213.4 474.1L214.6 474.1L215.8 474.1L217.0 474.1" fill="none" stroke="#0000ff" stroke-width="1.7"/>
<path d="M168.0 517.5L169.4 513.1L170.8 509.1L172.2 505.6L173.6 502.5L174.9 499.6L176.3 497.1L177.7 494.8L179.1 492.8L180.5 491.0L181.9 489.4L183.3 487.9L184.7 486.6L186.1 485.5L187.5 484.4L188.8 483.5L190.2 482.7L191.6 481.9L193.0 481.3L194.4 480.7L195.8 480.1L197.2 479.7L198.6 479.2L200.0 478.8L201.4 478.5L202.7 478.2L204.1 477.9L205.5 477.7L206.9 477.5L208.3 477.3L209.7 477.1" fill="none" stroke="#0000ff" stroke-width="2.3"/>
<path d="M209.7 477.1L211.1 476.9L212.5 476.8L213.9 476.7L215.3 476.6L216.6 476.5L218.0 476.4L219.4 476.3L220.8 476.2L222.2 476.1L223.6 476.1L225.0 476.0L226.4 476.0L227.8 476.0L229.2 475.9L230.5 475.9L231.9 475.9L233.3 475.8L234.7 475.8L236.1 475.8L237.5 475.8L238.9 475.7L240.3 475.7L241.7 475.7L243.1 475.7L244.4 475.7L245.8 475.7L247.2 475.7L248.6 475.7L250.0 475.7" fill="none" stroke="#0000ff" stroke-width="1.7" stroke-dasharray="1.6 0.7"/>
<path d="M171.5 517.5L172.9 513.2L174.4 509.4L175.8 506.0L177.2 502.9L178.7 500.1L180.1 497.6L181.5 495.4L183.0 493.4L184.4 491.6L185.8 490.0L187.3 488.6L188.7 487.3L190.1 486.1L191.6 485.1L193.0 484.2L194.4 483.3L195.8 482.6L197.3 481.9L198.7 481.3L200.1 480.7L201.6 480.3L203.0 479.8L204.4 479.4L205.9 479.1L207.3 478.8L208.7 478.5L210.2 478.2L211.6 478.0" fill="none" stroke="#0000ff" stroke-width="2.2"/>
<path d="M211.6 478.0L213.0 477.8L214.5 477.6L215.9 477.4L217.3 477.3L218.8 477.2L220.2 477.0L221.6 476.9L223.1 476.8L224.5 476.7L225.9 476.7L227.4 476.6L228.8 476.5L230.2 476.5L231.7 476.4L233.1 476.4L234.5 476.4L235.9 476.3L237.4 476.3L238.8 476.3L240.2 476.2L241.7 476.2L243.1 476.2L244.5 476.2L246.0 476.1L247.4 476.1L248.8 476.1L250.3 476.1L251.7 476.1L253.1 476.1L254.6 476.1L256.0 476.1" fill="none" stroke="#0000ff" stroke-width="1.7" stroke-dasharray="1.6 0.9"/>
<path d="M174.7 518.2L176.2 514.0L177.7 510.1L179.2 506.7L180.7 503.6L182.2 500.9L183.7 498.4L185.2 496.1L186.7 494.1L188.2 492.3L189.7 490.7L191.2 489.2L192.7 487.9L194.2 486.7L195.7 485.7L197.1 484.7L198.6 483.9L200.1 483.1L201.6 482.4L203.1 481.8L204.6 481.2L206.1 480.7L207.6 480.3L209.1 479.9L210.6 479.5L212.1 479.2L213.6 478.9" fill="none" stroke="#0000ff" stroke-width="2.2"/>
<path d="M213.6 478.9L215.1 478.6L216.6 478.4L218.1 478.2L219.6 478.0L221.1 477.8L222.6 477.7L224.1 477.5L225.6 477.4L227.1 477.3L228.6 477.2L230.1 477.1L231.6 477.0L233.1 476.9L234.6 476.9L236.1 476.8L237.6 476.8L239.1 476.7L240.6 476.7L242.0 476.6L243.5 476.6L245.0 476.6L246.5 476.5L248.0 476.5L249.5 476.5L251.0 476.5L252.5 476.5L254.0 476.4L255.5 476.4L257.0 476.4L258.5 476.4L260.0 476.4L261.5 476.4L263.0 476.4" fill="none" stroke="#0000ff" stroke-width="1.7" stroke-dasharray="1.6 1.0"/>
<path d="M179.9 517.3L181.4 513.4L183.0 509.8L184.5 506.6L186.0 503.8L187.5 501.1L189.1 498.8L190.6 496.7L192.1 494.7L193.6 493.0L195.2 491.4L196.7 490.0L198.2 488.7L199.8 487.6L201.3 486.5L202.8 485.6L204.3 484.7L205.9 484.0L207.4 483.3L208.9 482.7L210.4 482.1L212.0 481.6L213.5 481.1L215.0 480.7L216.6 480.3L218.1 480.0" fill="none" stroke="#0000ff" stroke-width="2.1"/>
<path d="M218.1 480.0L219.6 479.7L221.1 479.4L222.7 479.1L224.2 478.9L225.7 478.7L227.2 478.5L228.8 478.4L230.3 478.2L231.8 478.1L233.3 477.9L234.9 477.8L236.4 477.7L237.9 477.6L239.5 477.6L241.0 477.5L242.5 477.4L244.0 477.4L245.6 477.3L247.1 477.3L248.6 477.2L250.1 477.2L251.7 477.1L253.2 477.1L254.7 477.1L256.3 477.0L257.8 477.0L259.3 477.0L260.8 477.0L262.4 477.0L263.9 476.9L265.4 476.9L266.9 476.9L268.5 476.9L270.0 476.9" fill="none" stroke="#0000ff" stroke-width="1.7" stroke-dasharray="1.6 1.2"/>
<path d="M185.9 516.4L187.5 512.8L189.0 509.5L190.6 506.5L192.1 503.8L193.7 501.3L195.3 499.1L196.8 497.1L198.4 495.2L199.9 493.5L201.5 492.0L203.1 490.7L204.6 489.4L206.2 488.3L207.8 487.3L209.3 486.3L210.9 485.5L212.4 484.7L214.0 484.1L215.6 483.4L217.1 482.9L218.7 482.3L220.2 481.9L221.8 481.4" fill="none" stroke="#0000ff" stroke-width="2.1"/>
<path d="M221.8 481.4L223.4 481.1L224.9 480.7L226.5 480.4L228.0 480.1L229.6 479.8L231.2 479.6L232.7 479.4L234.3 479.2L235.9 479.0L237.4 478.9L239.0 478.7L240.5 478.6L242.1 478.5L243.7 478.4L245.2 478.3L246.8 478.2L248.3 478.1L249.9 478.0L251.5 477.9L253.0 477.9L254.6 477.8L256.1 477.8L257.7 477.7L259.3 477.7L260.8 477.7L262.4 477.6L264.0 477.6L265.5 477.6L267.1 477.5L268.6 477.5L270.2 477.5L271.8 477.5L273.3 477.5L274.9 477.5L276.4 477.4L278.0 477.4" fill="none" stroke="#0000ff" stroke-width="1.7" stroke-dasharray="1.6 1.4"/>
<path d="M190.5 515.3L192.1 511.9L193.7 508.8L195.4 506.0L197.0 503.4L198.6 501.1L200.2 499.0L201.8 497.1L203.4 495.3L205.1 493.7L206.7 492.3L208.3 491.0L209.9 489.8L211.5 488.7L213.2 487.7L214.8 486.8L216.4 486.0L218.0 485.2L219.6 484.6L221.3 483.9L222.9 483.4L224.5 482.9" fill="none" stroke="#0000ff" stroke-width="2.0"/>
<path d="M224.5 482.9L226.1 482.4L227.7 482.0L229.3 481.6L231.0 481.3L232.6 481.0L234.2 480.7L235.8 480.4L237.4 480.2L239.1 480.0L240.7 479.8L242.3 479.6L243.9 479.4L245.5 479.3L247.2 479.1L248.8 479.0L250.4 478.9L252.0 478.8L253.6 478.7L255.2 478.6L256.9 478.6L258.5 478.5L260.1 478.4L261.7 478.4L263.3 478.3L265.0 478.3L266.6 478.2L268.2 478.2L269.8 478.2L271.4 478.1L273.1 478.1L274.7 478.1L276.3 478.0L277.9 478.0L279.5 478.0L281.1 478.0L282.8 478.0L284.4 477.9L286.0 477.9" fill="none" stroke="#0000ff" stroke-width="1.7" stroke-dasharray="1.6 1.5"/>
<path d="M195.3 513.9L197.0 510.7L198.6 507.9L200.3 505.2L202.0 502.8L203.7 500.7L205.3 498.7L207.0 496.9L208.7 495.2L210.4 493.7L212.0 492.4L213.7 491.1L215.4 490.0L217.0 488.9L218.7 488.0L220.4 487.1L222.1 486.3L223.7 485.6L225.4 485.0L227.1 484.4L228.8 483.8" fill="none" stroke="#0000ff" stroke-width="2.0"/>
<path d="M228.8 483.8L230.4 483.4L232.1 482.9L233.8 482.5L235.4 482.1L237.1 481.8L238.8 481.5L240.5 481.2L242.1 480.9L243.8 480.7L245.5 480.5L247.2 480.3L248.8 480.1L250.5 480.0L252.2 479.8L253.9 479.7L255.5 479.6L257.2 479.4L258.9 479.3L260.5 479.2L262.2 479.2L263.9 479.1L265.6 479.0L267.2 479.0L268.9 478.9L270.6 478.8L272.3 478.8L273.9 478.8L275.6 478.7L277.3 478.7L278.9 478.6L280.6 478.6L282.3 478.6L284.0 478.6L285.6 478.5L287.3 478.5L289.0 478.5L290.7 478.5L292.3 478.5L294.0 478.4" fill="none" stroke="#0000ff" stroke-width="1.7" stroke-dasharray="1.6 1.7"/>
<path d="M202.0 511.0L203.7 508.3L205.5 505.8L207.2 503.5L208.9 501.4L210.6 499.5L212.4 497.7L214.1 496.1L215.8 494.6L217.6 493.3L219.3 492.1L221.0 490.9L222.7 489.9L224.5 489.0L226.2 488.1L227.9 487.3L229.7 486.6L231.4 485.9L233.1 485.3" fill="none" stroke="#0000ff" stroke-width="1.9"/>
<path d="M233.1 485.3L234.8 484.8L236.6 484.3L238.3 483.8L240.0 483.4L241.8 483.0L243.5 482.6L245.2 482.3L246.9 482.0L248.7 481.7L250.4 481.5L252.1 481.3L253.9 481.1L255.6 480.9L257.3 480.7L259.1 480.5L260.8 480.4L262.5 480.2L264.2 480.1L266.0 480.0L267.7 479.9L269.4 479.8L271.2 479.7L272.9 479.6L274.6 479.6L276.3 479.5L278.1 479.5L279.8 479.4L281.5 479.3L283.3 479.3L285.0 479.3L286.7 479.2L288.4 479.2L290.2 479.2L291.9 479.1L293.6 479.1L295.4 479.1L297.1 479.0L298.8 479.0L300.5 479.0L302.3 479.0L304.0 479.0" fill="none" stroke="#0000ff" stroke-width="1.7" stroke-dasharray="1.6 1.8"/>
<path d="M209.0 507.9L210.8 505.5L212.6 503.4L214.4 501.4L216.3 499.5L218.1 497.9L219.9 496.3L221.7 494.9L223.5 493.6L225.3 492.4L227.1 491.4L228.9 490.4L230.8 489.4L232.6 488.6L234.4 487.8L236.2 487.1L238.0 486.5" fill="none" stroke="#0000ff" stroke-width="1.9"/>
<path d="M238.0 486.5L239.8 485.9L241.6 485.3L243.5 484.8L245.3 484.4L247.1 484.0L248.9 483.6L250.7 483.2L252.5 482.9L254.3 482.6L256.2 482.3L258.0 482.1L259.8 481.8L261.6 481.6L263.4 481.4L265.2 481.3L267.0 481.1L268.8 481.0L270.7 480.8L272.5 480.7L274.3 480.6L276.1 480.5L277.9 480.4L279.7 480.3L281.5 480.2L283.4 480.1L285.2 480.1L287.0 480.0L288.8 479.9L290.6 479.9L292.4 479.8L294.2 479.8L296.1 479.8L297.9 479.7L299.7 479.7L301.5 479.6L303.3 479.6L305.1 479.6L306.9 479.6L308.7 479.5L310.6 479.5L312.4 479.5L314.2 479.5L316.0 479.5" fill="none" stroke="#0000ff" stroke-width="1.7" stroke-dasharray="1.6 2.0"/>
<path d="M252.5 502.5C254.6 501.7 260.4 499.0 265.0 497.5C269.6 496.0 274.2 494.9 280.0 493.8C285.8 492.6 292.9 491.2 300.0 490.5C307.1 489.8 317.5 489.5 322.5 489.5C327.5 489.5 326.7 489.8 330.0 490.5C333.3 491.2 337.7 492.7 342.5 493.8C347.3 494.8 356.2 496.5 359.0 497.0" fill="none" stroke="#0000ff" stroke-width="1.9" stroke-dasharray="1.9 2.3"/>
<path d="M240.0 492.5C242.5 492.2 250.0 491.2 255.0 490.5C260.0 489.8 264.6 489.0 270.0 488.5C275.4 488.0 281.7 488.2 287.5 487.5C293.3 486.8 297.9 485.0 305.0 484.0C312.1 483.0 320.9 482.1 330.0 481.5C339.1 480.9 354.6 480.5 359.5 480.3" fill="none" stroke="#0000ff" stroke-width="1.9" stroke-dasharray="1.9 2.3"/>
<path d="M222.0 493.0C225.0 491.8 233.7 487.8 240.0 486.0C246.3 484.2 251.7 483.2 260.0 482.0C268.3 480.8 278.3 479.9 290.0 479.0C301.7 478.1 318.5 477.0 330.0 476.5C341.5 476.0 354.2 476.1 359.0 476.0" fill="none" stroke="#0000ff" stroke-width="1.9" stroke-dasharray="1.9 2.3"/>
</g>
<path d="M325.1 459.2h2v2h-2zM321.8 458.8h2v2h-2zM285.5 470.3h2v2h-2zM273.5 470.9h2v2h-2zM301.1 465.1h2v2h-2zM272.7 471.0h2v2h-2zM313.5 464.9h2v2h-2zM315.7 465.8h2v2h-2zM343.4 459.3h2v2h-2zM311.1 461.4h2v2h-2zM335.0 455.0h2v2h-2zM310.2 467.2h2v2h-2zM325.7 462.0h2v2h-2zM312.8 463.7h2v2h-2zM302.3 465.8h2v2h-2zM328.0 462.4h2v2h-2zM317.0 465.1h2v2h-2zM322.0 465.9h2v2h-2zM308.8 463.2h2v2h-2zM336.5 456.5h2v2h-2zM334.6 460.5h2v2h-2zM305.5 470.9h2v2h-2zM357.9 457.9h2v2h-2zM333.2 457.0h2v2h-2zM328.9 471.0h2v2h-2zM288.4 469.9h2v2h-2zM292.1 466.3h2v2h-2zM324.3 459.4h2v2h-2zM354.6 450.0h2v2h-2zM319.2 459.8h2v2h-2zM334.0 455.2h2v2h-2zM309.2 471.0h2v2h-2zM339.2 454.9h2v2h-2zM348.9 470.1h2v2h-2zM354.7 450.6h2v2h-2zM317.0 471.4h2v2h-2zM352.0 470.4h2v2h-2zM276.3 470.8h2v2h-2zM333.3 459.3h2v2h-2zM333.4 455.1h2v2h-2zM279.0 468.7h2v2h-2zM324.3 470.8h2v2h-2zM336.5 454.6h2v2h-2zM278.3 469.7h2v2h-2zM340.4 462.2h2v2h-2zM348.1 453.1h2v2h-2zM339.3 462.7h2v2h-2zM313.9 469.0h2v2h-2zM344.9 451.5h2v2h-2zM293.9 468.3h2v2h-2zM357.4 450.9h2v2h-2zM301.9 464.3h2v2h-2zM281.7 470.1h2v2h-2zM348.7 458.2h2v2h-2zM314.9 469.1h2v2h-2zM323.8 459.0h2v2h-2zM357.4 450.3h2v2h-2zM356.2 451.2h2v2h-2zM275.8 471.0h2v2h-2zM303.6 468.7h2v2h-2zM321.1 470.2h2v2h-2zM278.0 469.8h2v2h-2zM278.8 470.7h2v2h-2zM279.7 470.4h2v2h-2zM320.7 461.2h2v2h-2zM309.8 470.8h2v2h-2zM344.9 461.6h2v2h-2zM297.7 471.5h2v2h-2zM317.6 465.4h2v2h-2zM344.6 455.6h2v2h-2zM311.4 467.7h2v2h-2zM309.7 470.9h2v2h-2zM346.1 459.4h2v2h-2zM355.3 469.5h2v2h-2zM326.4 470.3h2v2h-2zM269.2 471.5h2v2h-2zM277.9 470.4h2v2h-2zM357.9 453.7h2v2h-2zM331.8 459.7h2v2h-2zM290.6 469.0h2v2h-2zM335.3 459.2h2v2h-2zM317.5 470.1h2v2h-2zM350.4 450.3h2v2h-2zM298.5 464.9h2v2h-2zM277.3 470.1h2v2h-2zM339.9 457.8h2v2h-2zM313.7 464.8h2v2h-2zM334.7 456.1h2v2h-2zM298.4 464.9h2v2h-2zM321.4 469.3h2v2h-2zM290.6 471.4h2v2h-2zM329.9 459.9h2v2h-2zM344.3 469.7h2v2h-2zM327.3 459.1h2v2h-2zM325.6 457.9h2v2h-2zM323.8 470.3h2v2h-2zM282.8 471.0h2v2h-2zM295.1 467.0h2v2h-2zM346.8 456.2h2v2h-2zM311.8 462.3h2v2h-2z" fill="#0000ff"/>
<path d="M360.0 473.8C350.0 473.8 318.3 473.8 300.0 473.8C281.7 473.8 264.0 473.6 250.0 473.6C236.0 473.6 225.5 473.7 215.8 474.0C206.1 474.3 198.4 474.7 191.8 475.3C185.2 475.9 180.4 476.5 176.4 477.4C172.4 478.3 170.6 479.2 168.0 480.5C165.4 481.8 163.2 483.2 161.0 485.0C158.8 486.8 156.9 488.8 155.0 491.0C153.1 493.2 151.3 495.6 149.5 498.0C147.7 500.4 145.8 503.0 144.0 505.5C142.2 508.0 140.2 510.6 138.5 513.0C136.8 515.4 135.1 517.6 133.5 520.0C131.9 522.4 130.2 525.1 129.0 527.5C127.8 529.9 126.8 532.1 126.0 534.5C125.2 536.9 124.6 539.4 124.3 542.0C124.0 544.6 124.0 547.2 124.3 550.0C124.6 552.8 125.3 555.2 126.3 559.0C127.3 562.8 129.0 567.3 130.5 572.5C132.0 577.7 134.2 584.9 135.5 590.0C136.8 595.1 137.9 599.7 138.5 603.0C139.1 606.3 139.3 607.3 139.3 610.0C139.3 612.7 139.3 615.5 138.5 619.0C137.7 622.5 136.2 627.7 134.5 631.0C132.8 634.3 130.6 636.5 128.0 639.0C125.4 641.5 123.2 643.5 119.0 646.0C114.8 648.5 109.4 651.1 102.5 653.8C95.6 656.4 86.6 659.4 77.5 662.0C68.4 664.6 52.9 668.2 48.0 669.5" fill="none" stroke="#000" stroke-width="1.9"/>
</g>
<path d="M136.2 606.8l6 5.6m0 -5.6l-6 5.6" stroke="#000" stroke-width="1.1" fill="none"/>
<rect x="48.1" y="418.9" width="311.9" height="258.6" fill="none" stroke="#000" stroke-width="1.8"/>
<path d="M92.66 677.50v-7M92.66 418.90v7M137.21 677.50v-7M137.21 418.90v7M181.77 677.50v-7M181.77 418.90v7M226.33 677.50v-7M226.33 418.90v7M270.89 677.50v-7M270.89 418.90v7M315.44 677.50v-7M315.44 418.90v7M48.10 451.22h7M360.00 451.22h-7M48.10 483.55h7M360.00 483.55h-7M48.10 515.88h7M360.00 515.88h-7M48.10 548.20h7M360.00 548.20h-7M48.10 580.52h7M360.00 580.52h-7M48.10 612.85h7M360.00 612.85h-7M48.10 645.17h7M360.00 645.17h-7" stroke="#000" stroke-width="0.9" fill="none"/>
<text x="46.6" y="692.8" class="t2" text-anchor="middle">−5</text>
<text x="91.2" y="692.8" class="t2" text-anchor="middle">−4</text>
<text x="135.7" y="692.8" class="t2" text-anchor="middle">−3</text>
<text x="180.3" y="692.8" class="t2" text-anchor="middle">−2</text>
<text x="224.8" y="692.8" class="t2" text-anchor="middle">−1</text>
<text x="270.9" y="692.8" class="t2" text-anchor="middle">0</text>
<text x="315.4" y="692.8" class="t2" text-anchor="middle">1</text>
<text x="360.0" y="692.8" class="t2" text-anchor="middle">2</text>
<text x="40.6" y="421.9" class="t2" text-anchor="end">8.0</text>
<text x="40.6" y="454.2" class="t2" text-anchor="end">7.5</text>
<text x="40.6" y="486.5" class="t2" text-anchor="end">7.0</text>
<text x="40.6" y="518.9" class="t2" text-anchor="end">6.5</text>
<text x="40.6" y="551.2" class="t2" text-anchor="end">6.0</text>
<text x="40.6" y="583.5" class="t2" text-anchor="end">5.5</text>
<text x="40.6" y="615.9" class="t2" text-anchor="end">5.0</text>
<text x="40.6" y="648.2" class="t2" text-anchor="end">4.5</text>
<text x="40.6" y="680.5" class="t2" text-anchor="end">4.0</text>
<text x="204.1" y="714.5" class="t3" text-anchor="middle">log(<tspan font-style="italic">ξ</tspan>/<tspan font-style="italic">T</tspan>)</text>
<text transform="translate(8.6 552.2) rotate(-90)" class="t3" text-anchor="middle">log(<tspan font-style="italic">T</tspan>)</text>
<rect x="48.10" y="733" width="19.79" height="15.4" fill="#083776"/>
<rect x="67.59" y="733" width="19.79" height="15.4" fill="#08488e"/>
<rect x="87.09" y="733" width="19.79" height="15.4" fill="#0e58a2"/>
<rect x="106.58" y="733" width="19.79" height="15.4" fill="#1a68ae"/>
<rect x="126.07" y="733" width="19.79" height="15.4" fill="#2979b9"/>
<rect x="145.57" y="733" width="19.79" height="15.4" fill="#3989c1"/>
<rect x="165.06" y="733" width="19.79" height="15.4" fill="#4b98ca"/>
<rect x="184.56" y="733" width="19.79" height="15.4" fill="#60a7d2"/>
<rect x="204.05" y="733" width="19.79" height="15.4" fill="#77b5d9"/>
<rect x="223.54" y="733" width="19.79" height="15.4" fill="#91c3de"/>
<rect x="243.04" y="733" width="19.79" height="15.4" fill="#a8cee4"/>
<rect x="262.53" y="733" width="19.79" height="15.4" fill="#bcd7eb"/>
<rect x="282.02" y="733" width="19.79" height="15.4" fill="#ccdff1"/>
<rect x="301.52" y="733" width="19.79" height="15.4" fill="#d8e7f5"/>
<rect x="321.01" y="733" width="19.79" height="15.4" fill="#e4eff9"/>
<rect x="340.51" y="733" width="19.79" height="15.4" fill="#f1f7fd"/>
<rect x="48.1" y="733" width="311.9" height="15.4" fill="none" stroke="#000" stroke-width="1.8"/>
<text x="47.1" y="764.0" class="t2" text-anchor="middle">−16.0</text>
<text x="125.1" y="764.0" class="t2" text-anchor="middle">−19.5</text>
<text x="203.0" y="764.0" class="t2" text-anchor="middle">−23.0</text>
<text x="281.0" y="764.0" class="t2" text-anchor="middle">−26.5</text>
<text x="359.0" y="764.0" class="t2" text-anchor="middle">−30.0</text>
<path d="M126.07 748.40v-6M204.05 748.40v-6M282.02 748.40v-6" stroke="#000" stroke-width="0.9" fill="none"/>
<defs><clipPath id="c4box"><rect x="432" y="422" width="311.4" height="258.6"/></clipPath>
<clipPath id="c4red"><path d="M743.8 477.5C736.5 477.5 716.0 477.5 700.0 477.5C684.0 477.5 662.5 477.5 647.5 477.6C632.5 477.7 620.4 477.9 610.0 478.3C599.6 478.7 592.3 479.3 585.0 480.0C577.7 480.7 569.6 481.8 566.0 482.3C562.4 482.9 564.3 482.7 563.5 483.3C562.7 483.9 562.4 484.1 561.0 486.0C559.6 487.9 557.2 491.4 555.0 495.0C552.8 498.6 550.2 503.2 548.0 507.5C545.8 511.8 544.1 516.2 542.0 521.0C539.9 525.8 537.3 533.0 535.5 536.5C533.7 540.0 532.8 540.4 531.0 542.0C529.2 543.6 527.3 545.0 525.0 546.3C522.7 547.6 519.3 548.9 517.0 550.0C514.7 551.1 513.0 551.7 511.2 552.8C509.5 553.9 507.8 555.0 506.5 556.5C505.2 558.0 504.2 560.1 503.5 562.0C502.8 563.9 502.5 565.4 502.5 568.0C502.5 570.6 502.9 574.5 503.5 577.5C504.1 580.5 505.3 583.4 505.8 586.0C506.3 588.6 506.4 590.7 506.3 593.0C506.2 595.3 506.0 597.9 505.0 600.0C504.0 602.1 501.8 603.7 500.5 605.5C499.2 607.3 497.9 609.1 497.3 611.0C496.7 612.9 496.8 614.9 497.0 617.0C497.2 619.1 497.6 621.1 498.3 623.5C499.0 625.9 500.2 628.8 501.0 631.5C501.8 634.2 502.8 637.1 503.0 639.5C503.2 641.9 502.8 644.1 502.0 646.0C501.2 647.9 499.6 649.5 498.0 651.0C496.4 652.5 496.3 653.1 492.5 655.0C488.7 656.9 482.1 660.0 475.0 662.5C467.9 665.0 457.2 668.0 450.0 670.0C442.8 672.0 434.8 673.6 431.8 674.3L430 685.6L748.4 685.6L748.4 477.5Z"/></clipPath>
<clipPath id="c4blue"><path d="M743.8 477.5C736.5 477.5 716.0 477.5 700.0 477.5C684.0 477.5 662.5 477.5 647.5 477.6C632.5 477.7 620.4 477.9 610.0 478.3C599.6 478.7 592.3 479.3 585.0 480.0C577.7 480.7 569.6 481.8 566.0 482.3C562.4 482.9 564.3 482.7 563.5 483.3C562.7 483.9 562.4 484.1 561.0 486.0C559.6 487.9 557.2 491.4 555.0 495.0C552.8 498.6 550.2 503.2 548.0 507.5C545.8 511.8 544.1 516.2 542.0 521.0C539.9 525.8 537.3 533.0 535.5 536.5C533.7 540.0 532.8 540.4 531.0 542.0C529.2 543.6 527.3 545.0 525.0 546.3C522.7 547.6 519.3 548.9 517.0 550.0C514.7 551.1 513.0 551.7 511.2 552.8C509.5 553.9 507.8 555.0 506.5 556.5C505.2 558.0 504.2 560.1 503.5 562.0C502.8 563.9 502.5 565.4 502.5 568.0C502.5 570.6 502.9 574.5 503.5 577.5C504.1 580.5 505.3 583.4 505.8 586.0C506.3 588.6 506.4 590.7 506.3 593.0C506.2 595.3 506.0 597.9 505.0 600.0C504.0 602.1 501.8 603.7 500.5 605.5C499.2 607.3 497.9 609.1 497.3 611.0C496.7 612.9 496.8 614.9 497.0 617.0C497.2 619.1 497.6 621.1 498.3 623.5C499.0 625.9 500.2 628.8 501.0 631.5C501.8 634.2 502.8 637.1 503.0 639.5C503.2 641.9 502.8 644.1 502.0 646.0C501.2 647.9 499.6 649.5 498.0 651.0C496.4 652.5 496.3 653.1 492.5 655.0C488.7 656.9 482.1 660.0 475.0 662.5C467.9 665.0 457.2 668.0 450.0 670.0C442.8 672.0 434.8 673.6 431.8 674.3L430 674.3L430 420L745.4 420Z"/></clipPath></defs>
<g clip-path="url(#c4box)">
<rect x="432" y="422" width="311.4" height="258.6" fill="#f85d42"/>
<path d="M603.0 474.0C603.1 480.4 603.0 503.6 603.8 512.5C604.5 521.4 604.8 520.0 607.5 527.5C610.2 535.0 615.4 547.9 620.0 557.5C624.6 567.1 630.8 577.1 635.0 585.0C639.2 592.9 643.1 599.6 645.0 605.0C646.9 610.4 647.1 612.5 646.2 617.5C645.4 622.5 642.3 629.9 640.0 635.0C637.7 640.1 635.7 645.7 632.5 648.0C629.3 650.3 624.8 649.1 621.0 649.0C617.2 648.9 612.5 646.5 610.0 647.5C607.5 648.5 607.3 652.1 606.2 655.0C605.2 657.9 605.2 661.5 603.8 665.0C602.3 668.5 599.8 673.1 597.5 676.2C595.2 679.4 591.2 682.7 590.0 684.0L749.4 684L749.4 474Z" fill="#f24633"/>
<path d="M643.0 474.0C642.9 478.3 642.2 493.2 642.5 500.0C642.8 506.8 642.1 506.7 645.0 515.0C647.9 523.3 654.6 538.8 660.0 550.0C665.4 561.2 672.1 572.5 677.5 582.5C682.9 592.5 689.0 602.1 692.5 610.0C696.0 617.9 697.9 622.5 698.8 630.0C699.6 637.5 698.0 646.0 697.5 655.0C697.0 664.0 696.2 679.2 696.0 684.0L749.4 684L749.4 474Z" fill="#e53228"/>
<path d="M681.0 474.0C680.7 476.2 679.4 483.2 679.0 487.5C678.6 491.8 677.9 495.4 678.5 500.0C679.1 504.6 679.3 507.5 682.5 515.0C685.7 522.5 692.1 534.6 697.5 545.0C702.9 555.4 709.2 566.7 715.0 577.5C720.8 588.3 727.2 599.9 732.5 610.0C737.8 620.1 744.6 633.3 747.0 638.0L749.4 638L749.4 474Z" fill="#d32020"/>
<path d="M716.0 474.0C715.5 476.2 713.6 483.2 713.0 487.5C712.4 491.8 711.8 495.4 712.5 500.0C713.2 504.6 714.6 508.3 717.5 515.0C720.4 521.7 725.1 531.2 730.0 540.0C734.9 548.8 744.2 563.3 747.0 568.0L749.4 568L749.4 474Z" fill="#c1161b"/>
<path d="M566.0 522.0C566.8 524.2 569.3 530.3 571.0 535.0C572.7 539.7 574.9 545.0 576.0 550.0C577.1 555.0 577.7 560.8 577.5 565.0C577.3 569.2 576.4 572.6 575.0 575.0C573.6 577.4 572.2 578.7 569.0 579.5C565.8 580.3 560.0 579.8 556.0 580.0C552.0 580.2 548.2 579.7 545.0 580.5C541.8 581.3 539.0 582.6 537.0 585.0C535.0 587.4 534.0 591.2 533.0 595.0C532.0 598.8 532.0 604.3 531.0 608.0C530.0 611.7 529.8 614.6 527.0 617.0C524.2 619.4 516.8 620.0 514.0 622.5C511.2 625.0 511.1 628.6 510.0 632.0C508.9 635.4 509.2 639.2 507.5 643.0C505.8 646.8 504.6 651.2 500.0 655.0C495.4 658.8 488.3 662.7 480.0 666.0C471.7 669.3 458.0 672.8 450.0 675.0C442.0 677.2 434.8 678.3 431.8 679.0L420 679L420 400L566 400Z" fill="#fb7353"/>
<path d="M541.0 532.0C540.2 533.7 538.2 539.2 536.0 542.0C533.8 544.8 531.5 546.7 528.0 549.0C524.5 551.3 518.2 554.0 515.0 556.0C511.8 558.0 510.3 558.8 509.0 561.0C507.7 563.2 507.1 565.8 507.0 569.0C506.9 572.2 508.0 576.5 508.5 580.0C509.0 583.5 509.9 586.7 510.0 590.0C510.1 593.3 510.0 597.0 509.0 600.0C508.0 603.0 505.2 605.7 504.0 608.0C502.8 610.3 501.8 611.8 501.5 614.0C501.2 616.2 501.4 618.3 502.0 621.0C502.6 623.7 504.2 626.8 505.0 630.0C505.8 633.2 506.7 636.8 506.5 640.0C506.3 643.2 505.8 646.2 504.0 649.0C502.2 651.8 500.7 653.8 496.0 656.5C491.3 659.2 483.7 662.3 476.0 665.0C468.3 667.7 457.4 670.6 450.0 672.5C442.6 674.4 434.8 675.8 431.8 676.5L420 676.5L420 400L541 400Z" fill="#fc8767"/>
<g clip-path="url(#c4blue)">
<rect x="432" y="422" width="311.4" height="258.6" fill="#60a7d2"/>
<path d="M476.0 419.0C477.0 419.4 474.9 418.1 481.8 421.7C488.7 425.3 505.5 435.0 517.4 440.7C529.2 446.4 541.1 451.6 552.9 456.1C564.7 460.6 577.6 464.9 588.4 467.9C599.1 470.8 611.4 472.3 617.4 473.8C623.4 475.3 622.4 476.0 624.5 477.0C626.6 478.0 629.1 479.5 630.0 480.0L749.4 480L749.4 410Z" fill="#4b98ca"/>
<path d="M523.0 419.0C524.0 419.4 522.2 418.3 529.2 421.7C536.2 425.1 552.9 434.4 564.7 439.5C576.6 444.6 587.6 448.1 600.3 452.5C613.0 456.9 630.3 462.1 641.0 465.6C651.7 469.2 659.5 471.9 664.7 473.8C669.9 475.7 669.8 476.0 672.0 477.0C674.2 478.0 677.0 479.5 678.0 480.0L749.4 480L749.4 410Z" fill="#3989c1"/>
<path d="M566.0 419.0C567.0 419.4 565.7 419.1 571.8 421.7C577.9 424.3 591.9 430.6 602.6 434.8C613.3 439.0 625.4 442.7 635.8 446.6C646.1 450.5 653.6 454.0 664.7 458.4C675.8 462.8 694.7 469.7 702.6 472.7C710.5 475.7 709.1 475.3 712.0 476.5C714.9 477.7 718.7 479.4 720.0 480.0L749.4 480L749.4 410Z" fill="#2979b9"/>
<path d="M606.0 419.0C607.0 419.4 604.3 418.7 612.1 421.7C619.9 424.7 640.2 432.4 652.9 437.1C665.6 441.9 676.5 445.9 688.4 450.2C700.2 454.5 714.1 459.6 724.0 463.2C733.9 466.8 744.0 470.5 748.0 472.0L749.4 472L749.4 410Z" fill="#1a68ae"/>
<path d="M651.0 419.0C652.1 419.4 651.4 419.5 657.6 421.7C663.8 423.9 678.5 429.0 688.4 432.4C698.3 435.8 707.0 438.3 716.9 441.9C726.8 445.5 742.8 452.0 748.0 454.0L749.4 454L749.4 410Z" fill="#0e58a2"/>
<path d="M693.0 419.0C694.0 419.4 694.2 420.1 699.0 421.7C703.8 423.3 713.4 426.0 721.6 428.8C729.8 431.6 743.6 436.9 748.0 438.5L749.4 438.5L749.4 410Z" fill="#08488e"/>
<path d="M730.0 419.0C731.0 419.4 732.8 420.4 735.8 421.7C738.8 423.0 746.0 426.1 748.0 427.0L749.4 427L749.4 410Z" fill="#083776"/>
<path d="M428.0 546.0C428.7 546.5 430.0 546.7 432.0 549.0C434.0 551.3 438.2 556.0 440.0 560.0C441.8 564.0 441.5 567.7 443.0 573.0C444.5 578.3 447.2 586.5 449.0 592.0C450.8 597.5 452.8 601.2 454.0 606.0C455.2 610.8 456.2 616.0 456.0 621.0C455.8 626.0 454.7 631.8 453.0 636.0C451.3 640.2 448.5 643.3 446.0 646.0C443.5 648.7 441.0 650.2 438.0 652.0C435.0 653.8 429.7 656.2 428.0 657.0Z" fill="#4b98ca"/>
<path d="M428.0 600.0C428.7 600.5 430.8 601.2 432.0 603.0C433.2 604.8 434.3 608.2 435.0 611.0C435.7 613.8 436.1 617.0 436.0 620.0C435.9 623.0 435.2 626.7 434.5 629.0C433.8 631.3 433.1 632.8 432.0 634.0C430.9 635.2 428.7 635.7 428.0 636.0Z" fill="#3989c1"/>
<path d="M565.0 481.5C564.2 481.4 564.6 480.8 560.0 481.0C555.4 481.2 545.8 482.8 537.5 482.5C529.2 482.2 520.4 479.2 510.0 479.0C499.6 478.8 484.2 480.1 475.0 481.5C465.8 482.9 458.6 484.4 455.0 487.5C451.4 490.6 453.5 495.8 453.5 500.0C453.5 504.2 456.1 509.2 455.0 513.0C453.9 516.8 448.5 519.8 447.0 523.0C445.5 526.2 445.2 528.8 446.0 532.0C446.8 535.2 448.7 537.7 452.0 542.0C455.3 546.3 461.7 552.7 466.0 558.0C470.3 563.3 474.5 568.3 478.0 574.0C481.5 579.7 484.7 586.5 487.0 592.0C489.3 597.5 491.0 602.7 492.0 607.0C493.0 611.3 492.5 614.5 493.0 618.0C493.5 621.5 494.2 624.3 495.0 628.0C495.8 631.7 497.8 636.5 498.0 640.0C498.2 643.5 497.7 646.5 496.0 649.0C494.3 651.5 492.3 652.8 488.0 655.0C483.7 657.2 476.3 659.9 470.0 662.0C463.7 664.1 457.0 665.7 450.0 667.5C443.0 669.3 431.7 672.1 428.0 673.0L428 690L600 690L600 481.5Z" fill="#77b5d9"/>
<path d="M545.0 505.0C544.3 506.7 542.8 510.3 541.0 515.0C539.2 519.7 536.8 528.3 534.0 533.0C531.2 537.7 528.0 540.3 524.0 543.0C520.0 545.7 513.7 546.8 510.0 549.0C506.3 551.2 503.9 553.3 502.0 556.0C500.1 558.7 499.1 561.5 498.5 565.0C497.9 568.5 498.1 572.8 498.5 577.0C498.9 581.2 500.8 586.5 501.0 590.0C501.2 593.5 500.8 595.5 500.0 598.0C499.2 600.5 497.1 602.8 496.0 605.0C494.9 607.2 493.9 610.0 493.5 611.0L600 611L600 505Z" fill="#91c3de"/>
</g>
<g clip-path="url(#c4red)">
<path d="M516.0 552.0L520.0 520.0L550.0 476.0L600.0 474.0L640.0 475.0L640.0 478.0L625.0 481.0L610.0 486.0L598.0 494.0L590.0 503.0L583.0 513.0L578.0 520.0L575.0 522.5L565.0 527.0L555.0 531.5L545.0 536.5L536.0 541.5L530.0 545.5L524.0 549.0Z" fill="#0000ff"/>
<path d="M503.5 562h1.8v1.8h-1.8zM504 566h1.8v1.8h-1.8zM504.3 570h1.6v1.6h-1.6zM504.6 573.5h1.5v1.5h-1.5zM505 576h1.4v1.4h-1.4zM506 559h1.8v1.8h-1.8z" fill="#0000ff"/>
<path d="M567.9 525.1L569.1 521.3L570.2 517.8L571.4 514.6L572.5 511.7L573.7 509.0L574.8 506.6L576.0 504.3L577.1 502.2L578.3 500.4L579.4 498.6L580.6 497.0L581.8 495.6L582.9 494.2L584.1 493.0L585.2 491.9L586.4 490.8L587.5 489.9L588.7 489.0L589.8 488.2L591.0 487.5L592.1 486.8L593.3 486.2L594.4 485.7L595.6 485.1L596.8 484.7L597.9 484.2L599.1 483.8L600.2 483.5L601.4 483.1L602.5 482.8L603.7 482.5L604.8 482.3L606.0 482.1L607.1 481.8L608.3 481.6L609.5 481.5L610.6 481.3L611.8 481.1L612.9 481.0L614.1 480.9L615.2 480.8L616.4 480.6L617.5 480.5L618.7 480.5L619.8 480.4L621.0 480.3L622.1 480.2L623.3 480.2L624.5 480.1L625.6 480.0L626.8 480.0L627.9 480.0L629.1 479.9L630.2 479.9L631.4 479.8L632.5 479.8L633.7 479.8L634.8 479.7L636.0 479.7" fill="none" stroke="#0000ff" stroke-width="2"/>
<path d="M564.5 526.7L565.6 522.6L566.8 518.8L567.9 515.4L569.1 512.3L570.2 509.4L571.4 506.8L572.5 504.4L573.7 502.2L574.8 500.2L575.9 498.4L577.1 496.8L578.2 495.2L579.4 493.9L580.5 492.6L581.7 491.4L582.8 490.4L583.9 489.4L585.1 488.5L586.2 487.7L587.4 487.0L588.5 486.3L589.7 485.7L590.8 485.2L592.0 484.7L593.1 484.2L594.2 483.8L595.4 483.4L596.5 483.0L597.7 482.7L598.8 482.4L600.0 482.1L601.1 481.9L602.3 481.7L603.4 481.5L604.5 481.3L605.7 481.1L606.8 480.9L608.0 480.8L609.1 480.7L610.3 480.6L611.4 480.4L612.6 480.3L613.7 480.3L614.8 480.2L616.0 480.1L617.1 480.0L618.3 480.0L619.4 479.9L620.6 479.9L621.7 479.8L622.8 479.8L624.0 479.7L625.1 479.7L626.3 479.7L627.4 479.6L628.6 479.6L629.7 479.6L630.9 479.5L632.0 479.5" fill="none" stroke="#0000ff" stroke-width="2"/>
<path d="M561.1 528.3L562.2 523.8L563.4 519.8L564.5 516.1L565.6 512.7L566.8 509.7L567.9 506.9L569.0 504.4L570.2 502.1L571.3 500.0L572.4 498.1L573.6 496.4L574.7 494.8L575.8 493.4L577.0 492.1L578.1 490.9L579.2 489.9L580.4 488.9L581.5 488.0L582.6 487.2L583.8 486.5L584.9 485.8L586.0 485.2L587.2 484.6L588.3 484.1L589.4 483.7L590.6 483.3L591.7 482.9L592.8 482.6L594.0 482.3L595.1 482.0L596.3 481.7L597.4 481.5L598.5 481.3L599.7 481.1L600.8 480.9L601.9 480.7L603.1 480.6L604.2 480.5L605.3 480.3L606.5 480.2L607.6 480.1L608.7 480.0L609.9 480.0L611.0 479.9L612.1 479.8L613.3 479.8L614.4 479.7L615.5 479.7L616.7 479.6L617.8 479.6L618.9 479.5L620.1 479.5L621.2 479.5L622.3 479.4L623.5 479.4L624.6 479.4L625.7 479.4L626.9 479.3L628.0 479.3" fill="none" stroke="#0000ff" stroke-width="2"/>
<path d="M557.7 529.9L558.8 525.0L559.9 520.6L561.1 516.7L562.2 513.1L563.3 509.8L564.4 506.9L565.6 504.2L566.7 501.8L567.8 499.6L568.9 497.7L570.1 495.9L571.2 494.3L572.3 492.8L573.4 491.5L574.6 490.3L575.7 489.2L576.8 488.2L577.9 487.4L579.1 486.6L580.2 485.8L581.3 485.2L582.4 484.6L583.5 484.1L584.7 483.6L585.8 483.1L586.9 482.7L588.0 482.4L589.2 482.1L590.3 481.8L591.4 481.5L592.5 481.3L593.7 481.1L594.8 480.9L595.9 480.7L597.0 480.5L598.2 480.4L599.3 480.2L600.4 480.1L601.5 480.0L602.6 479.9L603.8 479.8L604.9 479.8L606.0 479.7L607.1 479.6L608.3 479.6L609.4 479.5L610.5 479.5L611.6 479.4L612.8 479.4L613.9 479.3L615.0 479.3L616.1 479.3L617.3 479.2L618.4 479.2L619.5 479.2L620.6 479.2L621.8 479.2L622.9 479.2L624.0 479.1" fill="none" stroke="#0000ff" stroke-width="2"/>
<path d="M554.3 531.5L555.4 526.2L556.5 521.4L557.6 517.2L558.8 513.3L559.9 509.8L561.0 506.7L562.1 503.9L563.2 501.4L564.3 499.1L565.4 497.1L566.5 495.2L567.7 493.6L568.8 492.1L569.9 490.8L571.0 489.6L572.1 488.5L573.2 487.5L574.3 486.7L575.5 485.9L576.6 485.2L577.7 484.5L578.8 484.0L579.9 483.4L581.0 483.0L582.1 482.6L583.3 482.2L584.4 481.9L585.5 481.6L586.6 481.3L587.7 481.0L588.8 480.8L589.9 480.6L591.0 480.4L592.2 480.3L593.3 480.1L594.4 480.0L595.5 479.9L596.6 479.8L597.7 479.7L598.8 479.6L600.0 479.5L601.1 479.5L602.2 479.4L603.3 479.3L604.4 479.3L605.5 479.3L606.6 479.2L607.8 479.2L608.9 479.1L610.0 479.1L611.1 479.1L612.2 479.1L613.3 479.0L614.4 479.0L615.5 479.0L616.7 479.0L617.8 479.0L618.9 479.0L620.0 479.0" fill="none" stroke="#0000ff" stroke-width="2"/>
<path d="M550.9 533.1L552.0 527.3L553.1 522.1L554.2 517.5L555.3 513.4L556.4 509.7L557.5 506.4L558.6 503.4L559.7 500.8L560.8 498.4L561.9 496.3L563.0 494.5L564.1 492.8L565.2 491.3L566.3 489.9L567.5 488.7L568.6 487.7L569.7 486.7L570.8 485.9L571.9 485.1L573.0 484.4L574.1 483.8L575.2 483.3L576.3 482.8L577.4 482.3L578.5 482.0L579.6 481.6L580.7 481.3L581.8 481.0L582.9 480.8L584.0 480.6L585.1 480.4L586.2 480.2L587.3 480.0L588.4 479.9L589.5 479.8L590.6 479.6L591.7 479.5L592.8 479.5L593.9 479.4L595.0 479.3L596.1 479.2L597.2 479.2L598.3 479.1L599.4 479.1L600.6 479.0L601.7 479.0L602.8 479.0L603.9 478.9L605.0 478.9L606.1 478.9L607.2 478.9L608.3 478.9L609.4 478.8L610.5 478.8L611.6 478.8L612.7 478.8L613.8 478.8L614.9 478.8L616.0 478.8" fill="none" stroke="#0000ff" stroke-width="2"/>
<path d="M547.5 534.7L548.6 528.3L549.7 522.7L550.8 517.7L551.9 513.3L553.0 509.3L554.1 505.9L555.2 502.8L556.2 500.0L557.3 497.6L558.4 495.4L559.5 493.5L560.6 491.8L561.7 490.3L562.8 489.0L563.9 487.8L565.0 486.8L566.1 485.8L567.2 485.0L568.3 484.3L569.4 483.6L570.5 483.1L571.6 482.5L572.6 482.1L573.7 481.7L574.8 481.3L575.9 481.0L577.0 480.7L578.1 480.5L579.2 480.3L580.3 480.1L581.4 479.9L582.5 479.8L583.6 479.6L584.7 479.5L585.8 479.4L586.9 479.3L587.9 479.2L589.0 479.1L590.1 479.1L591.2 479.0L592.3 479.0L593.4 478.9L594.5 478.9L595.6 478.8L596.7 478.8L597.8 478.8L598.9 478.7L600.0 478.7L601.1 478.7L602.2 478.7L603.3 478.7L604.3 478.7L605.4 478.6L606.5 478.6L607.6 478.6L608.7 478.6L609.8 478.6L610.9 478.6L612.0 478.6" fill="none" stroke="#0000ff" stroke-width="2"/>
<path d="M564.5 526.5L565.8 522.0L567.1 517.9L568.3 514.3L569.6 510.9L570.9 507.9L572.2 505.2L573.5 502.7L574.7 500.5L576.0 498.5L577.3 496.7L578.6 495.0L579.9 493.5L581.1 492.2L582.4 490.9L583.7 489.8L585.0 488.8L586.3 487.9L587.5 487.1L588.8 486.4L590.1 485.7L591.4 485.1L592.7 484.5L593.9 484.0L595.2 483.6L596.5 483.2L597.8 482.8L599.1 482.5L600.3 482.2L601.6 481.9L602.9 481.7" fill="none" stroke="#0000ff" stroke-width="2.7"/>
<path d="M602.9 481.7L604.2 481.4L605.4 481.2L606.7 481.0L608.0 480.9L609.3 480.7L610.6 480.6L611.8 480.5L613.1 480.4L614.4 480.3L615.7 480.2L617.0 480.1L618.2 480.0L619.5 479.9L620.8 479.9L622.1 479.8L623.4 479.8L624.6 479.7L625.9 479.7L627.2 479.7L628.5 479.6L629.8 479.6L631.0 479.6L632.3 479.5L633.6 479.5L634.9 479.5L636.2 479.5L637.4 479.5L638.7 479.4L640.0 479.4" fill="none" stroke="#0000ff" stroke-width="1.7" stroke-dasharray="1.6 0.7"/>
<path d="M571.3 523.5L572.6 519.6L573.9 516.1L575.2 512.8L576.5 509.9L577.8 507.2L579.1 504.7L580.4 502.5L581.7 500.5L583.0 498.6L584.3 496.9L585.6 495.4L586.9 494.0L588.2 492.7L589.5 491.6L590.8 490.5L592.1 489.5L593.4 488.7L594.7 487.9L596.0 487.1L597.3 486.5L598.6 485.8L599.9 485.3L601.2 484.8L602.5 484.3L603.8 483.9L605.1 483.5L606.4 483.2" fill="none" stroke="#0000ff" stroke-width="2.6"/>
<path d="M606.4 483.2L607.7 482.9L609.0 482.6L610.3 482.3L611.6 482.1L612.9 481.8L614.2 481.6L615.5 481.5L616.8 481.3L618.1 481.2L619.4 481.0L620.7 480.9L622.0 480.8L623.3 480.7L624.6 480.6L625.9 480.5L627.2 480.4L628.5 480.3L629.8 480.3L631.1 480.2L632.4 480.2L633.7 480.1L635.0 480.1L636.3 480.0L637.6 480.0L638.9 480.0L640.2 479.9L641.5 479.9L642.8 479.9L644.1 479.8L645.4 479.8L646.7 479.8L648.0 479.8" fill="none" stroke="#0000ff" stroke-width="1.7" stroke-dasharray="1.6 0.9"/>
<path d="M577.3 521.6L578.7 518.1L580.0 514.9L581.4 512.0L582.7 509.4L584.1 506.9L585.4 504.7L586.8 502.6L588.1 500.7L589.5 499.0L590.8 497.4L592.2 495.9L593.5 494.6L594.9 493.4L596.2 492.3L597.6 491.3L598.9 490.3L600.3 489.5L601.6 488.7L603.0 487.9L604.3 487.3L605.7 486.7L607.0 486.1L608.4 485.6L609.7 485.1L611.1 484.7" fill="none" stroke="#0000ff" stroke-width="2.5"/>
<path d="M611.1 484.7L612.4 484.3L613.8 484.0L615.1 483.6L616.5 483.3L617.8 483.0L619.2 482.8L620.5 482.6L621.9 482.3L623.2 482.1L624.6 482.0L625.9 481.8L627.3 481.7L628.6 481.5L630.0 481.4L631.3 481.3L632.7 481.2L634.0 481.1L635.4 481.0L636.7 480.9L638.1 480.8L639.4 480.8L640.8 480.7L642.1 480.6L643.5 480.6L644.8 480.5L646.2 480.5L647.5 480.4L648.9 480.4L650.2 480.4L651.6 480.3L652.9 480.3L654.3 480.3L655.6 480.3L657.0 480.2" fill="none" stroke="#0000ff" stroke-width="1.7" stroke-dasharray="1.6 1.1"/>
<path d="M584.1 520.7L585.5 517.5L586.9 514.6L588.3 511.9L589.7 509.4L591.1 507.1L592.5 505.0L593.9 503.0L595.3 501.3L596.7 499.6L598.2 498.1L599.6 496.7L601.0 495.4L602.4 494.2L603.8 493.1L605.2 492.1L606.6 491.2L608.0 490.4L609.4 489.6L610.8 488.9L612.2 488.2L613.6 487.6L615.0 487.0L616.4 486.5" fill="none" stroke="#0000ff" stroke-width="2.5"/>
<path d="M616.4 486.5L617.8 486.0L619.2 485.6L620.6 485.2L622.0 484.8L623.4 484.5L624.8 484.2L626.3 483.9L627.7 483.6L629.1 483.4L630.5 483.1L631.9 482.9L633.3 482.7L634.7 482.6L636.1 482.4L637.5 482.2L638.9 482.1L640.3 482.0L641.7 481.9L643.1 481.7L644.5 481.7L645.9 481.6L647.3 481.5L648.7 481.4L650.1 481.3L651.5 481.3L652.9 481.2L654.4 481.1L655.8 481.1L657.2 481.0L658.6 481.0L660.0 481.0L661.4 480.9L662.8 480.9L664.2 480.9L665.6 480.8L667.0 480.8" fill="none" stroke="#0000ff" stroke-width="1.7" stroke-dasharray="1.6 1.4"/>
<path d="M593.6 518.2L595.0 515.5L596.5 512.9L597.9 510.6L599.4 508.4L600.8 506.4L602.3 504.6L603.7 502.8L605.2 501.2L606.6 499.7L608.1 498.4L609.5 497.1L611.0 495.9L612.4 494.8L613.9 493.8L615.3 492.9L616.8 492.0L618.2 491.2L619.7 490.4L621.1 489.7L622.5 489.1L624.0 488.5" fill="none" stroke="#0000ff" stroke-width="2.4"/>
<path d="M624.0 488.5L625.4 488.0L626.9 487.5L628.3 487.0L629.8 486.5L631.2 486.1L632.7 485.8L634.1 485.4L635.6 485.1L637.0 484.8L638.5 484.5L639.9 484.2L641.4 484.0L642.8 483.8L644.3 483.6L645.7 483.4L647.2 483.2L648.6 483.1L650.1 482.9L651.5 482.8L652.9 482.6L654.4 482.5L655.8 482.4L657.3 482.3L658.7 482.2L660.2 482.1L661.6 482.0L663.1 482.0L664.5 481.9L666.0 481.8L667.4 481.8L668.9 481.7L670.3 481.7L671.8 481.6L673.2 481.6L674.7 481.5L676.1 481.5L677.6 481.4L679.0 481.4" fill="none" stroke="#0000ff" stroke-width="1.7" stroke-dasharray="1.6 1.6"/>
<path d="M601.0 515.0L602.5 512.6L604.0 510.3L605.5 508.2L607.0 506.2L608.5 504.4L610.1 502.7L611.6 501.2L613.1 499.7L614.6 498.4L616.1 497.2L617.6 496.0L619.1 494.9L620.6 493.9L622.1 493.0L623.6 492.2L625.1 491.4L626.6 490.6L628.2 490.0L629.7 489.3" fill="none" stroke="#0000ff" stroke-width="2.3"/>
<path d="M629.7 489.3L631.2 488.8L632.7 488.2L634.2 487.7L635.7 487.2L637.2 486.8L638.7 486.4L640.2 486.0L641.7 485.7L643.2 485.4L644.7 485.1L646.3 484.8L647.8 484.6L649.3 484.3L650.8 484.1L652.3 483.9L653.8 483.7L655.3 483.5L656.8 483.4L658.3 483.2L659.8 483.1L661.3 482.9L662.8 482.8L664.4 482.7L665.9 482.6L667.4 482.5L668.9 482.4L670.4 482.3L671.9 482.3L673.4 482.2L674.9 482.1L676.4 482.1L677.9 482.0L679.4 482.0L680.9 481.9L682.5 481.9L684.0 481.8L685.5 481.8L687.0 481.8L688.5 481.7L690.0 481.7" fill="none" stroke="#0000ff" stroke-width="1.7" stroke-dasharray="1.6 1.8"/>
<path d="M608.1 511.3L609.7 509.2L611.2 507.2L612.8 505.4L614.3 503.7L615.9 502.1L617.4 500.6L619.0 499.3L620.6 498.0L622.1 496.8L623.7 495.7L625.2 494.7L626.8 493.8L628.3 492.9L629.9 492.1L631.5 491.4L633.0 490.7" fill="none" stroke="#0000ff" stroke-width="2.2"/>
<path d="M633.0 490.7L634.6 490.0L636.1 489.4L637.7 488.9L639.3 488.3L640.8 487.9L642.4 487.4L643.9 487.0L645.5 486.6L647.0 486.2L648.6 485.9L650.2 485.6L651.7 485.3L653.3 485.1L654.8 484.8L656.4 484.6L657.9 484.4L659.5 484.2L661.1 484.0L662.6 483.8L664.2 483.7L665.7 483.5L667.3 483.4L668.8 483.2L670.4 483.1L672.0 483.0L673.5 482.9L675.1 482.8L676.6 482.7L678.2 482.7L679.8 482.6L681.3 482.5L682.9 482.4L684.4 482.4L686.0 482.3L687.5 482.3L689.1 482.2L690.7 482.2L692.2 482.1L693.8 482.1L695.3 482.1L696.9 482.0L698.4 482.0L700.0 482.0" fill="none" stroke="#0000ff" stroke-width="1.7" stroke-dasharray="1.6 2.0"/>
<path d="M655.0 506.2C656.7 505.6 660.8 504.0 665.0 502.5C669.2 501.0 674.2 498.8 680.0 497.5C685.8 496.2 693.3 495.1 700.0 494.5C706.7 493.9 714.2 493.8 720.0 493.8C725.8 493.8 731.0 494.1 735.0 494.5C739.0 494.9 742.3 496.0 743.8 496.2" fill="none" stroke="#0000ff" stroke-width="1.9" stroke-dasharray="1.9 2.3"/>
<path d="M640.0 497.0C642.5 496.5 649.6 494.7 655.0 493.8C660.4 492.8 666.7 492.3 672.5 491.2C678.3 490.2 683.8 488.6 690.0 487.5C696.2 486.4 703.3 485.0 710.0 484.5C716.7 484.0 724.4 484.2 730.0 484.5C735.6 484.8 741.5 486.0 743.8 486.2" fill="none" stroke="#0000ff" stroke-width="1.9" stroke-dasharray="1.9 2.3"/>
<path d="M625.0 496.0C627.5 495.0 634.2 491.7 640.0 490.0C645.8 488.3 651.7 487.2 660.0 486.0C668.3 484.8 680.0 483.8 690.0 483.0C700.0 482.2 711.2 481.3 720.0 481.0C728.8 480.7 739.2 481.0 743.0 481.0" fill="none" stroke="#0000ff" stroke-width="1.9" stroke-dasharray="1.9 2.3"/>
</g>
<path d="M674.4 470.4h2v2h-2zM736.6 461.0h2v2h-2zM724.2 462.9h2v2h-2zM670.7 473.4h2v2h-2zM695.9 470.4h2v2h-2zM679.8 470.9h2v2h-2zM712.6 464.5h2v2h-2zM679.0 471.6h2v2h-2zM685.1 472.4h2v2h-2zM739.9 474.7h2v2h-2zM718.7 473.6h2v2h-2zM645.6 475.3h2v2h-2zM741.9 463.2h2v2h-2zM732.7 473.9h2v2h-2zM741.5 461.2h2v2h-2zM705.4 464.6h2v2h-2zM650.8 474.5h2v2h-2zM740.2 458.6h2v2h-2zM707.2 465.1h2v2h-2zM737.2 456.5h2v2h-2zM659.8 473.7h2v2h-2zM726.7 474.2h2v2h-2zM676.7 470.1h2v2h-2zM713.5 465.0h2v2h-2zM738.2 472.8h2v2h-2zM686.9 471.8h2v2h-2zM702.2 464.2h2v2h-2zM647.9 473.9h2v2h-2zM731.1 461.7h2v2h-2zM727.0 469.8h2v2h-2zM693.2 466.1h2v2h-2zM654.5 474.5h2v2h-2zM718.9 465.6h2v2h-2zM736.8 456.2h2v2h-2zM735.0 473.7h2v2h-2zM715.4 461.7h2v2h-2zM724.5 460.7h2v2h-2zM718.8 461.8h2v2h-2zM689.6 471.7h2v2h-2zM674.3 471.8h2v2h-2zM655.3 474.2h2v2h-2zM678.8 472.9h2v2h-2zM658.6 474.7h2v2h-2zM728.2 459.5h2v2h-2zM736.3 467.8h2v2h-2zM707.6 467.6h2v2h-2zM715.2 473.6h2v2h-2zM698.8 466.5h2v2h-2zM651.1 474.6h2v2h-2zM734.5 461.7h2v2h-2zM713.0 464.8h2v2h-2zM726.1 462.8h2v2h-2zM710.5 463.7h2v2h-2zM742.5 463.8h2v2h-2zM694.3 469.3h2v2h-2zM699.3 467.1h2v2h-2zM664.7 474.3h2v2h-2zM716.9 463.5h2v2h-2zM706.7 465.8h2v2h-2zM720.9 462.6h2v2h-2zM710.6 466.7h2v2h-2zM710.5 467.1h2v2h-2zM656.8 474.8h2v2h-2zM655.4 474.4h2v2h-2zM709.4 463.7h2v2h-2zM667.6 471.6h2v2h-2zM701.1 466.2h2v2h-2zM668.5 471.9h2v2h-2zM724.5 472.5h2v2h-2zM735.9 458.3h2v2h-2zM665.7 474.8h2v2h-2zM692.7 472.9h2v2h-2zM667.7 471.9h2v2h-2zM724.5 462.1h2v2h-2zM690.2 468.9h2v2h-2zM722.3 465.5h2v2h-2zM658.8 474.1h2v2h-2zM663.7 473.6h2v2h-2zM689.5 470.6h2v2h-2zM708.0 464.9h2v2h-2zM719.8 473.7h2v2h-2zM719.3 473.4h2v2h-2zM738.2 463.8h2v2h-2zM694.5 467.8h2v2h-2zM709.1 463.1h2v2h-2zM698.8 468.8h2v2h-2zM725.1 474.7h2v2h-2zM716.0 465.7h2v2h-2zM685.4 472.1h2v2h-2zM727.9 463.0h2v2h-2zM650.5 475.2h2v2h-2zM732.2 459.5h2v2h-2zM664.5 473.1h2v2h-2zM695.2 465.9h2v2h-2zM646.8 475.2h2v2h-2z" fill="#0000ff"/>
<path d="M743.8 477.5C736.5 477.5 716.0 477.5 700.0 477.5C684.0 477.5 662.5 477.5 647.5 477.6C632.5 477.7 620.4 477.9 610.0 478.3C599.6 478.7 592.3 479.3 585.0 480.0C577.7 480.7 569.6 481.8 566.0 482.3C562.4 482.9 564.3 482.7 563.5 483.3C562.7 483.9 562.4 484.1 561.0 486.0C559.6 487.9 557.2 491.4 555.0 495.0C552.8 498.6 550.2 503.2 548.0 507.5C545.8 511.8 544.1 516.2 542.0 521.0C539.9 525.8 537.3 533.0 535.5 536.5C533.7 540.0 532.8 540.4 531.0 542.0C529.2 543.6 527.3 545.0 525.0 546.3C522.7 547.6 519.3 548.9 517.0 550.0C514.7 551.1 513.0 551.7 511.2 552.8C509.5 553.9 507.8 555.0 506.5 556.5C505.2 558.0 504.2 560.1 503.5 562.0C502.8 563.9 502.5 565.4 502.5 568.0C502.5 570.6 502.9 574.5 503.5 577.5C504.1 580.5 505.3 583.4 505.8 586.0C506.3 588.6 506.4 590.7 506.3 593.0C506.2 595.3 506.0 597.9 505.0 600.0C504.0 602.1 501.8 603.7 500.5 605.5C499.2 607.3 497.9 609.1 497.3 611.0C496.7 612.9 496.8 614.9 497.0 617.0C497.2 619.1 497.6 621.1 498.3 623.5C499.0 625.9 500.2 628.8 501.0 631.5C501.8 634.2 502.8 637.1 503.0 639.5C503.2 641.9 502.8 644.1 502.0 646.0C501.2 647.9 499.6 649.5 498.0 651.0C496.4 652.5 496.3 653.1 492.5 655.0C488.7 656.9 482.1 660.0 475.0 662.5C467.9 665.0 457.2 668.0 450.0 670.0C442.8 672.0 434.8 673.6 431.8 674.3" fill="none" stroke="#000" stroke-width="1.9"/>
</g>
<path d="M500.0 636.8l6 5.6m0 -5.6l-6 5.6" stroke="#000" stroke-width="1.1" fill="none"/>
<rect x="432" y="422" width="311.4" height="258.6" fill="none" stroke="#000" stroke-width="1.8"/>
<path d="M476.49 680.65v-7M476.49 422.00v7M520.97 680.65v-7M520.97 422.00v7M565.46 680.65v-7M565.46 422.00v7M609.94 680.65v-7M609.94 422.00v7M654.43 680.65v-7M654.43 422.00v7M698.91 680.65v-7M698.91 422.00v7M432.00 454.33h7M743.40 454.33h-7M432.00 486.66h7M743.40 486.66h-7M432.00 518.99h7M743.40 518.99h-7M432.00 551.33h7M743.40 551.33h-7M432.00 583.66h7M743.40 583.66h-7M432.00 615.99h7M743.40 615.99h-7M432.00 648.32h7M743.40 648.32h-7" stroke="#000" stroke-width="0.9" fill="none"/>
<text x="430.5" y="695.9" class="t2" text-anchor="middle">−5</text>
<text x="475.0" y="695.9" class="t2" text-anchor="middle">−4</text>
<text x="519.5" y="695.9" class="t2" text-anchor="middle">−3</text>
<text x="564.0" y="695.9" class="t2" text-anchor="middle">−2</text>
<text x="608.4" y="695.9" class="t2" text-anchor="middle">−1</text>
<text x="654.4" y="695.9" class="t2" text-anchor="middle">0</text>
<text x="698.9" y="695.9" class="t2" text-anchor="middle">1</text>
<text x="743.4" y="695.9" class="t2" text-anchor="middle">2</text>
<text x="424.5" y="425.0" class="t2" text-anchor="end">8.0</text>
<text x="424.5" y="457.3" class="t2" text-anchor="end">7.5</text>
<text x="424.5" y="489.7" class="t2" text-anchor="end">7.0</text>
<text x="424.5" y="522.0" class="t2" text-anchor="end">6.5</text>
<text x="424.5" y="554.3" class="t2" text-anchor="end">6.0</text>
<text x="424.5" y="586.7" class="t2" text-anchor="end">5.5</text>
<text x="424.5" y="619.0" class="t2" text-anchor="end">5.0</text>
<text x="424.5" y="651.3" class="t2" text-anchor="end">4.5</text>
<text x="424.5" y="683.6" class="t2" text-anchor="end">4.0</text>
<text x="587.7" y="717.6" class="t3" text-anchor="middle">log(<tspan font-style="italic">ξ</tspan>/<tspan font-style="italic">T</tspan>)</text>
<text transform="translate(392.5 555.3) rotate(-90)" class="t3" text-anchor="middle">log(<tspan font-style="italic">T</tspan>)</text>
<rect x="432.00" y="736.1" width="19.76" height="15.5" fill="#fff0e8"/>
<rect x="451.46" y="736.1" width="19.76" height="15.5" fill="#fee5d9"/>
<rect x="470.93" y="736.1" width="19.76" height="15.5" fill="#fdd7c6"/>
<rect x="490.39" y="736.1" width="19.76" height="15.5" fill="#fcc4ad"/>
<rect x="509.85" y="736.1" width="19.76" height="15.5" fill="#fcb095"/>
<rect x="529.31" y="736.1" width="19.76" height="15.5" fill="#fc9c7d"/>
<rect x="548.77" y="736.1" width="19.76" height="15.5" fill="#fc8767"/>
<rect x="568.24" y="736.1" width="19.76" height="15.5" fill="#fb7353"/>
<rect x="587.70" y="736.1" width="19.76" height="15.5" fill="#f85d42"/>
<rect x="607.16" y="736.1" width="19.76" height="15.5" fill="#f24633"/>
<rect x="626.62" y="736.1" width="19.76" height="15.5" fill="#e53228"/>
<rect x="646.09" y="736.1" width="19.76" height="15.5" fill="#d32020"/>
<rect x="665.55" y="736.1" width="19.76" height="15.5" fill="#c1161b"/>
<rect x="685.01" y="736.1" width="19.76" height="15.5" fill="#ad1117"/>
<rect x="704.47" y="736.1" width="19.76" height="15.5" fill="#940b13"/>
<rect x="723.94" y="736.1" width="19.76" height="15.5" fill="#75030f"/>
<rect x="432" y="736.1" width="311.4" height="15.5" fill="none" stroke="#000" stroke-width="1.8"/>
<text x="431.0" y="767.2" class="t2" text-anchor="middle">−30.0</text>
<text x="508.9" y="767.2" class="t2" text-anchor="middle">−26.5</text>
<text x="586.7" y="767.2" class="t2" text-anchor="middle">−23.0</text>
<text x="664.5" y="767.2" class="t2" text-anchor="middle">−19.5</text>
<text x="742.4" y="767.2" class="t2" text-anchor="middle">−16.0</text>
<path d="M509.85 751.65v-6M587.70 751.65v-6M665.55 751.65v-6" stroke="#000" stroke-width="0.9" fill="none"/>
</svg></body></html>
